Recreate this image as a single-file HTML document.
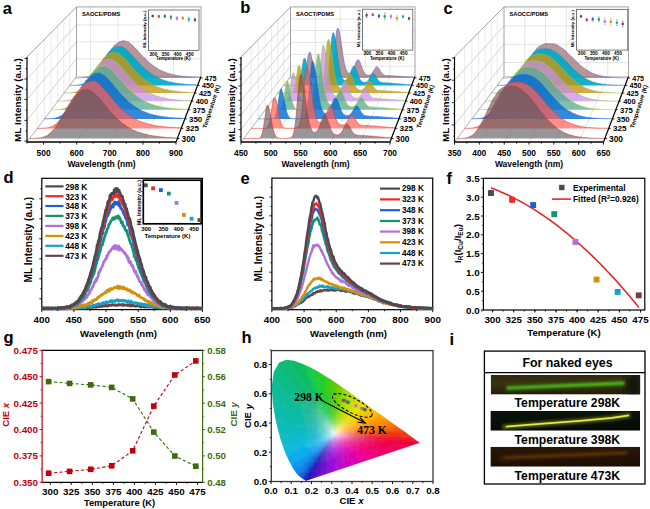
<!DOCTYPE html>
<html><head><meta charset="utf-8"><style>
html,body{margin:0;padding:0;background:#fff;}
svg{display:block;}
</style></head><body>
<svg width="650" height="509" viewBox="0 0 650 509">
<rect width="650" height="509" fill="#fff"/>
<line x1="27" y1="120.4" x2="76.5" y2="58.8" stroke="#b4b4b4" stroke-width="0.6"/>
<line x1="27" y1="99.5" x2="76.5" y2="41.7" stroke="#b4b4b4" stroke-width="0.6"/>
<line x1="27" y1="79" x2="76.5" y2="24.9" stroke="#b4b4b4" stroke-width="0.6"/>
<line x1="37.1" y1="128.4" x2="37.1" y2="46.6" stroke="#d4d4d4" stroke-width="0.5"/>
<line x1="44.3" y1="118.9" x2="44.3" y2="39.3" stroke="#d4d4d4" stroke-width="0.5"/>
<line x1="51.1" y1="109.8" x2="51.1" y2="32.4" stroke="#d4d4d4" stroke-width="0.5"/>
<line x1="57.6" y1="101.2" x2="57.6" y2="25.8" stroke="#d4d4d4" stroke-width="0.5"/>
<line x1="63.8" y1="93.1" x2="63.8" y2="19.6" stroke="#d4d4d4" stroke-width="0.5"/>
<line x1="69.7" y1="85.4" x2="69.7" y2="13.7" stroke="#d4d4d4" stroke-width="0.5"/>
<line x1="76.5" y1="58.8" x2="201" y2="58.8" stroke="#c8c8c8" stroke-width="0.5"/>
<line x1="76.5" y1="41.7" x2="201" y2="41.7" stroke="#c8c8c8" stroke-width="0.5"/>
<line x1="76.5" y1="24.9" x2="201" y2="24.9" stroke="#c8c8c8" stroke-width="0.5"/>
<line x1="90.4" y1="76.5" x2="90.4" y2="6.9" stroke="#c8c8c8" stroke-width="0.5"/>
<line x1="43.6" y1="142" x2="90.4" y2="76.5" stroke="#c8c8c8" stroke-width="0.5"/>
<line x1="118" y1="76.5" x2="118" y2="6.9" stroke="#c8c8c8" stroke-width="0.5"/>
<line x1="76.7" y1="142" x2="118" y2="76.5" stroke="#c8c8c8" stroke-width="0.5"/>
<line x1="145.7" y1="76.5" x2="145.7" y2="6.9" stroke="#c8c8c8" stroke-width="0.5"/>
<line x1="109.8" y1="142" x2="145.7" y2="76.5" stroke="#c8c8c8" stroke-width="0.5"/>
<line x1="173.4" y1="76.5" x2="173.4" y2="6.9" stroke="#c8c8c8" stroke-width="0.5"/>
<line x1="142.9" y1="142" x2="173.4" y2="76.5" stroke="#c8c8c8" stroke-width="0.5"/>
<path d="M27 57 L76.5 6.9 L201 6.9 L201 76.5" fill="none" stroke="#8c8c8c" stroke-width="0.8"/>
<path d="M76.5 6.9 L76.5 76.5" fill="none" stroke="#8c8c8c" stroke-width="0.8"/>
<path d="M76.5 76.5 L201 76.5" fill="none" stroke="#b0b0b0" stroke-width="0.6"/>
<path d="M27 142 L76.5 76.5" fill="none" stroke="#8c8c8c" stroke-width="0.7"/>
<path d="M75.4 78 L76.1 78 L76.9 78 L77.7 78 L78.5 78 L79.3 78 L80.1 77.9 L80.9 77.9 L81.6 77.8 L82.4 77.7 L83.2 77.7 L84 77.6 L84.8 77.5 L85.6 77.3 L86.4 77.2 L87.2 76.9 L87.9 76.8 L88.7 76.4 L89.5 76.2 L90.3 75.7 L91.1 75.3 L91.9 74.9 L92.7 74.2 L93.4 73.5 L94.2 73 L95 72.1 L95.8 71.5 L96.6 70.6 L97.4 69.6 L98.2 68.9 L99 67.9 L99.7 66.6 L100.5 65.5 L101.3 64.2 L102.1 63.4 L102.9 61.9 L103.7 60.6 L104.5 59.4 L105.2 58.1 L106 57.1 L106.8 55.7 L107.6 54.6 L108.4 53.4 L109.2 52 L110 51.3 L110.8 50 L111.5 48.9 L112.3 47.9 L113.1 47.3 L113.9 45.9 L114.7 45 L115.5 44.6 L116.3 44 L117 43.3 L117.8 43.1 L118.6 42.2 L119.4 41.9 L120.2 41.6 L121 41.3 L121.8 41.3 L122.5 40.7 L123.3 40.6 L124.1 41.3 L124.9 41 L125.7 40.9 L126.5 41.4 L127.3 41.8 L128.1 42.1 L128.8 42.2 L129.6 43.1 L130.4 43.8 L131.2 44.1 L132 45.1 L132.8 45.7 L133.6 46.6 L134.3 47.3 L135.1 48.3 L135.9 48.6 L136.7 49.7 L137.5 50.3 L138.3 51.6 L139.1 52.5 L139.9 53.2 L140.6 54.2 L141.4 55 L142.2 55.9 L143 56.6 L143.8 57.4 L144.6 58.1 L145.4 58.9 L146.1 59.6 L146.9 60.4 L147.7 61.2 L148.5 61.7 L149.3 62.6 L150.1 63.4 L150.9 63.7 L151.7 64.4 L152.4 65.2 L153.2 65.5 L154 66.3 L154.8 66.9 L155.6 67.5 L156.4 67.8 L157.2 68.4 L157.9 68.8 L158.7 69.4 L159.5 69.7 L160.3 70.3 L161.1 70.5 L161.9 70.9 L162.7 71.2 L163.5 71.7 L164.2 71.8 L165 72.2 L165.8 72.6 L166.6 73 L167.4 73.1 L168.2 73.4 L169 73.8 L169.7 73.8 L170.5 74 L171.3 74.2 L172.1 74.4 L172.9 74.6 L173.7 74.9 L174.5 75 L175.2 75 L176 75.3 L176.8 75.5 L177.6 75.6 L178.4 75.7 L179.2 75.8 L180 76 L180.8 76.1 L181.5 76.2 L182.3 76.3 L183.1 76.4 L183.9 76.4 L184.7 76.5 L185.5 76.6 L186.3 76.7 L187 76.7 L187.8 76.8 L188.6 76.9 L189.4 77 L190.2 77 L191 77.1 L191.8 77.1 L192.6 77.2 L193.3 77.2 L194.1 77.2 L194.9 77.3 L195.7 77.4 L196.5 77.4 L197.3 77.4 L198.1 77.4 L198.8 77.5 L199.6 77.6 L200.4 77.5 L200.4 78 L75.4 78Z" fill="#9b6969" stroke="none" stroke-width="1" fill-opacity="0.7"/>
<path d="M75.4 78 L76.1 78 L76.9 78 L77.7 78 L78.5 78 L79.3 78 L80.1 77.9 L80.9 77.9 L81.6 77.8 L82.4 77.7 L83.2 77.7 L84 77.6 L84.8 77.5 L85.6 77.3 L86.4 77.2 L87.2 76.9 L87.9 76.8 L88.7 76.4 L89.5 76.2 L90.3 75.7 L91.1 75.3 L91.9 74.9 L92.7 74.2 L93.4 73.5 L94.2 73 L95 72.1 L95.8 71.5 L96.6 70.6 L97.4 69.6 L98.2 68.9 L99 67.9 L99.7 66.6 L100.5 65.5 L101.3 64.2 L102.1 63.4 L102.9 61.9 L103.7 60.6 L104.5 59.4 L105.2 58.1 L106 57.1 L106.8 55.7 L107.6 54.6 L108.4 53.4 L109.2 52 L110 51.3 L110.8 50 L111.5 48.9 L112.3 47.9 L113.1 47.3 L113.9 45.9 L114.7 45 L115.5 44.6 L116.3 44 L117 43.3 L117.8 43.1 L118.6 42.2 L119.4 41.9 L120.2 41.6 L121 41.3 L121.8 41.3 L122.5 40.7 L123.3 40.6 L124.1 41.3 L124.9 41 L125.7 40.9 L126.5 41.4 L127.3 41.8 L128.1 42.1 L128.8 42.2 L129.6 43.1 L130.4 43.8 L131.2 44.1 L132 45.1 L132.8 45.7 L133.6 46.6 L134.3 47.3 L135.1 48.3 L135.9 48.6 L136.7 49.7 L137.5 50.3 L138.3 51.6 L139.1 52.5 L139.9 53.2 L140.6 54.2 L141.4 55 L142.2 55.9 L143 56.6 L143.8 57.4 L144.6 58.1 L145.4 58.9 L146.1 59.6 L146.9 60.4 L147.7 61.2 L148.5 61.7 L149.3 62.6 L150.1 63.4 L150.9 63.7 L151.7 64.4 L152.4 65.2 L153.2 65.5 L154 66.3 L154.8 66.9 L155.6 67.5 L156.4 67.8 L157.2 68.4 L157.9 68.8 L158.7 69.4 L159.5 69.7 L160.3 70.3 L161.1 70.5 L161.9 70.9 L162.7 71.2 L163.5 71.7 L164.2 71.8 L165 72.2 L165.8 72.6 L166.6 73 L167.4 73.1 L168.2 73.4 L169 73.8 L169.7 73.8 L170.5 74 L171.3 74.2 L172.1 74.4 L172.9 74.6 L173.7 74.9 L174.5 75 L175.2 75 L176 75.3 L176.8 75.5 L177.6 75.6 L178.4 75.7 L179.2 75.8 L180 76 L180.8 76.1 L181.5 76.2 L182.3 76.3 L183.1 76.4 L183.9 76.4 L184.7 76.5 L185.5 76.6 L186.3 76.7 L187 76.7 L187.8 76.8 L188.6 76.9 L189.4 77 L190.2 77 L191 77.1 L191.8 77.1 L192.6 77.2 L193.3 77.2 L194.1 77.2 L194.9 77.3 L195.7 77.4 L196.5 77.4 L197.3 77.4 L198.1 77.4 L198.8 77.5 L199.6 77.6 L200.4 77.5" fill="none" stroke="#6a5ad0" stroke-width="0.6"/>
<path d="M69.7 85.4 L70.5 85.4 L71.3 85.4 L72.1 85.3 L72.9 85.3 L73.7 85.3 L74.5 85.3 L75.3 85.2 L76.1 85.2 L76.9 85.1 L77.7 85 L78.5 84.9 L79.3 84.8 L80.2 84.6 L81 84.5 L81.8 84.3 L82.6 84 L83.4 83.6 L84.2 83.4 L85 82.9 L85.8 82.4 L86.6 81.9 L87.4 81.6 L88.2 80.7 L89 80.1 L89.8 79.3 L90.6 78.6 L91.4 77.6 L92.2 76.5 L93 75.7 L93.8 74.7 L94.6 73.6 L95.4 72 L96.2 71 L97 69.9 L97.8 68.4 L98.6 67.3 L99.5 65.9 L100.3 64.7 L101.1 63.2 L101.9 61.9 L102.7 60.4 L103.5 59.4 L104.3 58.2 L105.1 57.2 L105.9 55.7 L106.7 54.9 L107.5 53.7 L108.3 52.8 L109.1 51.4 L109.9 51.2 L110.7 50.5 L111.5 49.5 L112.3 48.9 L113.1 48.4 L113.9 47.6 L114.7 47.2 L115.5 46.9 L116.3 46.4 L117.1 46.7 L117.9 46.2 L118.8 46.5 L119.6 46.2 L120.4 47 L121.2 46.6 L122 46.6 L122.8 46.9 L123.6 47.6 L124.4 48.3 L125.2 48.4 L126 48.9 L126.8 50.4 L127.6 50.7 L128.4 51.3 L129.2 52.2 L130 53.4 L130.8 53.9 L131.6 54.8 L132.4 55.7 L133.2 56.4 L134 57.3 L134.8 58.5 L135.6 59 L136.4 60.4 L137.2 60.6 L138.1 62.1 L138.9 62.5 L139.7 63.8 L140.5 64.4 L141.3 65.1 L142.1 66.2 L142.9 66.7 L143.7 67.8 L144.5 68.5 L145.3 69.1 L146.1 69.8 L146.9 70.4 L147.7 71.1 L148.5 71.4 L149.3 72.3 L150.1 73 L150.9 73.6 L151.7 74.1 L152.5 74.6 L153.3 75.3 L154.1 75.5 L154.9 76.1 L155.7 76.7 L156.5 77.1 L157.4 77.4 L158.2 77.8 L159 78.3 L159.8 78.7 L160.6 79 L161.4 79.2 L162.2 79.6 L163 80 L163.8 80.1 L164.6 80.7 L165.4 80.8 L166.2 80.8 L167 81.1 L167.8 81.6 L168.6 81.7 L169.4 81.9 L170.2 81.9 L171 82.2 L171.8 82.3 L172.6 82.5 L173.4 82.6 L174.2 82.9 L175 83 L175.8 83.1 L176.7 83.3 L177.5 83.3 L178.3 83.4 L179.1 83.6 L179.9 83.6 L180.7 83.8 L181.5 83.8 L182.3 83.9 L183.1 84.1 L183.9 84.1 L184.7 84.2 L185.5 84.2 L186.3 84.4 L187.1 84.3 L187.9 84.4 L188.7 84.5 L189.5 84.5 L190.3 84.6 L191.1 84.7 L191.9 84.6 L192.7 84.7 L193.5 84.7 L194.3 84.7 L195.1 84.8 L196 84.8 L196.8 84.9 L197.6 84.8 L197.6 85.4 L69.7 85.4Z" fill="#00aac4" stroke="none" stroke-width="1" fill-opacity="0.92"/>
<path d="M69.7 85.4 L70.5 85.4 L71.3 85.4 L72.1 85.3 L72.9 85.3 L73.7 85.3 L74.5 85.3 L75.3 85.2 L76.1 85.2 L76.9 85.1 L77.7 85 L78.5 84.9 L79.3 84.8 L80.2 84.6 L81 84.5 L81.8 84.3 L82.6 84 L83.4 83.6 L84.2 83.4 L85 82.9 L85.8 82.4 L86.6 81.9 L87.4 81.6 L88.2 80.7 L89 80.1 L89.8 79.3 L90.6 78.6 L91.4 77.6 L92.2 76.5 L93 75.7 L93.8 74.7 L94.6 73.6 L95.4 72 L96.2 71 L97 69.9 L97.8 68.4 L98.6 67.3 L99.5 65.9 L100.3 64.7 L101.1 63.2 L101.9 61.9 L102.7 60.4 L103.5 59.4 L104.3 58.2 L105.1 57.2 L105.9 55.7 L106.7 54.9 L107.5 53.7 L108.3 52.8 L109.1 51.4 L109.9 51.2 L110.7 50.5 L111.5 49.5 L112.3 48.9 L113.1 48.4 L113.9 47.6 L114.7 47.2 L115.5 46.9 L116.3 46.4 L117.1 46.7 L117.9 46.2 L118.8 46.5 L119.6 46.2 L120.4 47 L121.2 46.6 L122 46.6 L122.8 46.9 L123.6 47.6 L124.4 48.3 L125.2 48.4 L126 48.9 L126.8 50.4 L127.6 50.7 L128.4 51.3 L129.2 52.2 L130 53.4 L130.8 53.9 L131.6 54.8 L132.4 55.7 L133.2 56.4 L134 57.3 L134.8 58.5 L135.6 59 L136.4 60.4 L137.2 60.6 L138.1 62.1 L138.9 62.5 L139.7 63.8 L140.5 64.4 L141.3 65.1 L142.1 66.2 L142.9 66.7 L143.7 67.8 L144.5 68.5 L145.3 69.1 L146.1 69.8 L146.9 70.4 L147.7 71.1 L148.5 71.4 L149.3 72.3 L150.1 73 L150.9 73.6 L151.7 74.1 L152.5 74.6 L153.3 75.3 L154.1 75.5 L154.9 76.1 L155.7 76.7 L156.5 77.1 L157.4 77.4 L158.2 77.8 L159 78.3 L159.8 78.7 L160.6 79 L161.4 79.2 L162.2 79.6 L163 80 L163.8 80.1 L164.6 80.7 L165.4 80.8 L166.2 80.8 L167 81.1 L167.8 81.6 L168.6 81.7 L169.4 81.9 L170.2 81.9 L171 82.2 L171.8 82.3 L172.6 82.5 L173.4 82.6 L174.2 82.9 L175 83 L175.8 83.1 L176.7 83.3 L177.5 83.3 L178.3 83.4 L179.1 83.6 L179.9 83.6 L180.7 83.8 L181.5 83.8 L182.3 83.9 L183.1 84.1 L183.9 84.1 L184.7 84.2 L185.5 84.2 L186.3 84.4 L187.1 84.3 L187.9 84.4 L188.7 84.5 L189.5 84.5 L190.3 84.6 L191.1 84.7 L191.9 84.6 L192.7 84.7 L193.5 84.7 L194.3 84.7 L195.1 84.8 L196 84.8 L196.8 84.9 L197.6 84.8" fill="none" stroke="#2a86d0" stroke-width="0.6"/>
<path d="M63.8 93.1 L64.6 93.1 L65.4 93.1 L66.2 93.1 L67.1 93 L67.9 93 L68.7 93 L69.5 92.9 L70.4 92.9 L71.2 92.8 L72 92.7 L72.8 92.6 L73.6 92.4 L74.5 92.3 L75.3 92.1 L76.1 91.9 L76.9 91.5 L77.8 91.3 L78.6 90.9 L79.4 90.4 L80.2 89.9 L81.1 89.5 L81.9 88.8 L82.7 88.2 L83.5 87.4 L84.3 86.6 L85.2 85.7 L86 84.8 L86.8 83.6 L87.6 82.5 L88.5 81.6 L89.3 80.1 L90.1 78.6 L90.9 77.9 L91.7 76.5 L92.6 75.4 L93.4 73.7 L94.2 72.3 L95 70.7 L95.9 69.7 L96.7 68 L97.5 67 L98.3 65.6 L99.1 64.3 L100 63.4 L100.8 62.1 L101.6 61.1 L102.4 59.5 L103.3 58.7 L104.1 57.7 L104.9 56.9 L105.7 56.4 L106.6 55.4 L107.4 54.8 L108.2 54.5 L109 53.8 L109.8 53 L110.7 52.7 L111.5 52.9 L112.3 52.6 L113.1 53 L114 52.5 L114.8 52.7 L115.6 52.7 L116.4 52.5 L117.2 53.3 L118.1 52.9 L118.9 53.9 L119.7 54.1 L120.5 54.8 L121.4 55.9 L122.2 56.6 L123 57.4 L123.8 58 L124.7 59 L125.5 59.9 L126.3 60.3 L127.1 61.3 L127.9 62.1 L128.8 63.4 L129.6 64.5 L130.4 65.1 L131.2 66.2 L132.1 67.1 L132.9 67.7 L133.7 68.8 L134.5 70.1 L135.3 71.1 L136.2 71.7 L137 72.6 L137.8 73.3 L138.6 73.9 L139.5 74.9 L140.3 75.7 L141.1 76.7 L141.9 77.3 L142.7 77.7 L143.6 78.6 L144.4 79.4 L145.2 79.8 L146 80.7 L146.9 81.2 L147.7 81.8 L148.5 82.1 L149.3 82.8 L150.2 83.1 L151 83.5 L151.8 84.2 L152.6 84.7 L153.4 85.2 L154.3 85.2 L155.1 85.8 L155.9 86.2 L156.7 86.6 L157.6 86.9 L158.4 87.2 L159.2 87.6 L160 87.7 L160.8 88.1 L161.7 88.4 L162.5 88.6 L163.3 88.9 L164.1 89 L165 89.4 L165.8 89.5 L166.6 89.6 L167.4 89.9 L168.2 90.1 L169.1 90.1 L169.9 90.4 L170.7 90.6 L171.5 90.6 L172.4 90.7 L173.2 91 L174 91 L174.8 91.1 L175.7 91.3 L176.5 91.5 L177.3 91.4 L178.1 91.5 L178.9 91.7 L179.8 91.8 L180.6 91.8 L181.4 91.9 L182.2 91.9 L183.1 91.9 L183.9 92.1 L184.7 92.1 L185.5 92.1 L186.3 92.2 L187.2 92.2 L188 92.3 L188.8 92.3 L189.6 92.4 L190.5 92.5 L191.3 92.4 L192.1 92.5 L192.9 92.6 L193.7 92.6 L194.6 92.7 L194.6 93.1 L63.8 93.1Z" fill="#c89614" stroke="none" stroke-width="1" fill-opacity="0.8"/>
<path d="M63.8 93.1 L64.6 93.1 L65.4 93.1 L66.2 93.1 L67.1 93 L67.9 93 L68.7 93 L69.5 92.9 L70.4 92.9 L71.2 92.8 L72 92.7 L72.8 92.6 L73.6 92.4 L74.5 92.3 L75.3 92.1 L76.1 91.9 L76.9 91.5 L77.8 91.3 L78.6 90.9 L79.4 90.4 L80.2 89.9 L81.1 89.5 L81.9 88.8 L82.7 88.2 L83.5 87.4 L84.3 86.6 L85.2 85.7 L86 84.8 L86.8 83.6 L87.6 82.5 L88.5 81.6 L89.3 80.1 L90.1 78.6 L90.9 77.9 L91.7 76.5 L92.6 75.4 L93.4 73.7 L94.2 72.3 L95 70.7 L95.9 69.7 L96.7 68 L97.5 67 L98.3 65.6 L99.1 64.3 L100 63.4 L100.8 62.1 L101.6 61.1 L102.4 59.5 L103.3 58.7 L104.1 57.7 L104.9 56.9 L105.7 56.4 L106.6 55.4 L107.4 54.8 L108.2 54.5 L109 53.8 L109.8 53 L110.7 52.7 L111.5 52.9 L112.3 52.6 L113.1 53 L114 52.5 L114.8 52.7 L115.6 52.7 L116.4 52.5 L117.2 53.3 L118.1 52.9 L118.9 53.9 L119.7 54.1 L120.5 54.8 L121.4 55.9 L122.2 56.6 L123 57.4 L123.8 58 L124.7 59 L125.5 59.9 L126.3 60.3 L127.1 61.3 L127.9 62.1 L128.8 63.4 L129.6 64.5 L130.4 65.1 L131.2 66.2 L132.1 67.1 L132.9 67.7 L133.7 68.8 L134.5 70.1 L135.3 71.1 L136.2 71.7 L137 72.6 L137.8 73.3 L138.6 73.9 L139.5 74.9 L140.3 75.7 L141.1 76.7 L141.9 77.3 L142.7 77.7 L143.6 78.6 L144.4 79.4 L145.2 79.8 L146 80.7 L146.9 81.2 L147.7 81.8 L148.5 82.1 L149.3 82.8 L150.2 83.1 L151 83.5 L151.8 84.2 L152.6 84.7 L153.4 85.2 L154.3 85.2 L155.1 85.8 L155.9 86.2 L156.7 86.6 L157.6 86.9 L158.4 87.2 L159.2 87.6 L160 87.7 L160.8 88.1 L161.7 88.4 L162.5 88.6 L163.3 88.9 L164.1 89 L165 89.4 L165.8 89.5 L166.6 89.6 L167.4 89.9 L168.2 90.1 L169.1 90.1 L169.9 90.4 L170.7 90.6 L171.5 90.6 L172.4 90.7 L173.2 91 L174 91 L174.8 91.1 L175.7 91.3 L176.5 91.5 L177.3 91.4 L178.1 91.5 L178.9 91.7 L179.8 91.8 L180.6 91.8 L181.4 91.9 L182.2 91.9 L183.1 91.9 L183.9 92.1 L184.7 92.1 L185.5 92.1 L186.3 92.2 L187.2 92.2 L188 92.3 L188.8 92.3 L189.6 92.4 L190.5 92.5 L191.3 92.4 L192.1 92.5 L192.9 92.6 L193.7 92.6 L194.6 92.7" fill="none" stroke="#88c440" stroke-width="0.6"/>
<path d="M57.6 101.2 L58.4 101.2 L59.3 101.2 L60.1 101.2 L60.9 101.2 L61.8 101.2 L62.6 101.1 L63.5 101 L64.3 101 L65.2 100.9 L66 100.8 L66.8 100.7 L67.7 100.6 L68.5 100.4 L69.4 100.2 L70.2 100 L71.1 99.8 L71.9 99.3 L72.7 99 L73.6 98.6 L74.4 98.1 L75.3 97.3 L76.1 96.6 L76.9 96.1 L77.8 95.3 L78.6 94.5 L79.5 93.6 L80.3 92.6 L81.2 91.4 L82 90.4 L82.8 89.1 L83.7 87.9 L84.5 86.5 L85.4 85.4 L86.2 84.1 L87 82.6 L87.9 81.2 L88.7 80 L89.6 78.5 L90.4 77.1 L91.3 75.5 L92.1 74.1 L92.9 72.9 L93.8 71.1 L94.6 70.2 L95.5 69 L96.3 67.9 L97.1 66.3 L98 65.3 L98.8 64.8 L99.7 63.6 L100.5 62.8 L101.4 62.5 L102.2 62 L103 61.4 L103.9 59.9 L104.7 60 L105.6 59.6 L106.4 59.5 L107.3 59.4 L108.1 58.6 L108.9 59.3 L109.8 58.9 L110.6 58.5 L111.5 59.4 L112.3 59.6 L113.1 60.1 L114 60.8 L114.8 61.2 L115.7 61.5 L116.5 62.6 L117.4 63.2 L118.2 64.4 L119 65.5 L119.9 65.6 L120.7 67 L121.6 67.8 L122.4 68.7 L123.2 69.2 L124.1 70.8 L124.9 71.3 L125.8 72.9 L126.6 73.3 L127.5 74.2 L128.3 75.3 L129.1 76.2 L130 77.2 L130.8 78 L131.7 79.2 L132.5 79.5 L133.4 80.9 L134.2 81.7 L135 82.5 L135.9 83.3 L136.7 84.2 L137.6 84.9 L138.4 85.8 L139.2 86.6 L140.1 87.1 L140.9 87.5 L141.8 88 L142.6 89.1 L143.5 89.4 L144.3 90.2 L145.1 90.4 L146 91.1 L146.8 91.2 L147.7 92.1 L148.5 92.3 L149.3 92.9 L150.2 93.4 L151 93.7 L151.9 94.2 L152.7 94.4 L153.6 94.9 L154.4 95.1 L155.2 95.4 L156.1 96 L156.9 96.1 L157.8 96.3 L158.6 96.7 L159.5 96.8 L160.3 97.1 L161.1 97.3 L162 97.5 L162.8 97.7 L163.7 97.9 L164.5 98 L165.3 98.3 L166.2 98.4 L167 98.6 L167.9 98.8 L168.7 98.9 L169.6 99 L170.4 99.2 L171.2 99.2 L172.1 99.4 L172.9 99.5 L173.8 99.6 L174.6 99.6 L175.4 99.7 L176.3 99.8 L177.1 99.9 L178 99.9 L178.8 100 L179.7 100.1 L180.5 100.2 L181.3 100.3 L182.2 100.3 L183 100.3 L183.9 100.4 L184.7 100.4 L185.5 100.5 L186.4 100.5 L187.2 100.6 L188.1 100.6 L188.9 100.7 L189.8 100.7 L190.6 100.7 L191.4 100.7 L191.4 101.2 L57.6 101.2Z" fill="#c88ceb" stroke="none" stroke-width="1" fill-opacity="0.72"/>
<path d="M57.6 101.2 L58.4 101.2 L59.3 101.2 L60.1 101.2 L60.9 101.2 L61.8 101.2 L62.6 101.1 L63.5 101 L64.3 101 L65.2 100.9 L66 100.8 L66.8 100.7 L67.7 100.6 L68.5 100.4 L69.4 100.2 L70.2 100 L71.1 99.8 L71.9 99.3 L72.7 99 L73.6 98.6 L74.4 98.1 L75.3 97.3 L76.1 96.6 L76.9 96.1 L77.8 95.3 L78.6 94.5 L79.5 93.6 L80.3 92.6 L81.2 91.4 L82 90.4 L82.8 89.1 L83.7 87.9 L84.5 86.5 L85.4 85.4 L86.2 84.1 L87 82.6 L87.9 81.2 L88.7 80 L89.6 78.5 L90.4 77.1 L91.3 75.5 L92.1 74.1 L92.9 72.9 L93.8 71.1 L94.6 70.2 L95.5 69 L96.3 67.9 L97.1 66.3 L98 65.3 L98.8 64.8 L99.7 63.6 L100.5 62.8 L101.4 62.5 L102.2 62 L103 61.4 L103.9 59.9 L104.7 60 L105.6 59.6 L106.4 59.5 L107.3 59.4 L108.1 58.6 L108.9 59.3 L109.8 58.9 L110.6 58.5 L111.5 59.4 L112.3 59.6 L113.1 60.1 L114 60.8 L114.8 61.2 L115.7 61.5 L116.5 62.6 L117.4 63.2 L118.2 64.4 L119 65.5 L119.9 65.6 L120.7 67 L121.6 67.8 L122.4 68.7 L123.2 69.2 L124.1 70.8 L124.9 71.3 L125.8 72.9 L126.6 73.3 L127.5 74.2 L128.3 75.3 L129.1 76.2 L130 77.2 L130.8 78 L131.7 79.2 L132.5 79.5 L133.4 80.9 L134.2 81.7 L135 82.5 L135.9 83.3 L136.7 84.2 L137.6 84.9 L138.4 85.8 L139.2 86.6 L140.1 87.1 L140.9 87.5 L141.8 88 L142.6 89.1 L143.5 89.4 L144.3 90.2 L145.1 90.4 L146 91.1 L146.8 91.2 L147.7 92.1 L148.5 92.3 L149.3 92.9 L150.2 93.4 L151 93.7 L151.9 94.2 L152.7 94.4 L153.6 94.9 L154.4 95.1 L155.2 95.4 L156.1 96 L156.9 96.1 L157.8 96.3 L158.6 96.7 L159.5 96.8 L160.3 97.1 L161.1 97.3 L162 97.5 L162.8 97.7 L163.7 97.9 L164.5 98 L165.3 98.3 L166.2 98.4 L167 98.6 L167.9 98.8 L168.7 98.9 L169.6 99 L170.4 99.2 L171.2 99.2 L172.1 99.4 L172.9 99.5 L173.8 99.6 L174.6 99.6 L175.4 99.7 L176.3 99.8 L177.1 99.9 L178 99.9 L178.8 100 L179.7 100.1 L180.5 100.2 L181.3 100.3 L182.2 100.3 L183 100.3 L183.9 100.4 L184.7 100.4 L185.5 100.5 L186.4 100.5 L187.2 100.6 L188.1 100.6 L188.9 100.7 L189.8 100.7 L190.6 100.7 L191.4 100.7" fill="none" stroke="#98c848" stroke-width="0.6"/>
<path d="M51.1 109.8 L51.9 109.8 L52.8 109.8 L53.7 109.8 L54.5 109.7 L55.4 109.7 L56.3 109.7 L57.1 109.6 L58 109.6 L58.8 109.5 L59.7 109.3 L60.6 109.2 L61.4 109.1 L62.3 108.9 L63.2 108.6 L64 108.4 L64.9 108.1 L65.7 107.7 L66.6 107.5 L67.5 106.8 L68.3 106.3 L69.2 105.7 L70.1 105 L70.9 104.1 L71.8 103.7 L72.6 102.3 L73.5 101.4 L74.4 100.6 L75.2 99.2 L76.1 98.4 L76.9 97.1 L77.8 95.8 L78.7 94.1 L79.5 93 L80.4 91.5 L81.3 90.1 L82.1 88.2 L83 87.3 L83.8 85.6 L84.7 83.8 L85.6 82.3 L86.4 81.1 L87.3 79.6 L88.2 77.9 L89 77 L89.9 75.4 L90.7 74 L91.6 73.4 L92.5 72.3 L93.3 71.7 L94.2 70.2 L95.1 69.3 L95.9 68.6 L96.8 68.6 L97.6 67.2 L98.5 66.6 L99.4 66.6 L100.2 66.6 L101.1 66.4 L102 65.9 L102.8 66.2 L103.7 66 L104.5 65.8 L105.4 66.1 L106.3 66.3 L107.1 66.8 L108 66.7 L108.8 67.8 L109.7 68.1 L110.6 68.9 L111.4 69.6 L112.3 70.5 L113.2 71.3 L114 72.2 L114.9 73.2 L115.7 74 L116.6 74.8 L117.5 76.2 L118.3 77 L119.2 78.7 L120.1 79.1 L120.9 80.2 L121.8 81.2 L122.6 82.4 L123.5 83.1 L124.4 84.3 L125.2 85.4 L126.1 85.9 L127 86.9 L127.8 88.2 L128.7 88.9 L129.5 89.9 L130.4 90.3 L131.3 91.2 L132.1 92 L133 93.1 L133.8 93.5 L134.7 94.5 L135.6 95.1 L136.4 95.8 L137.3 96.4 L138.2 97.2 L139 97.6 L139.9 98.3 L140.7 98.7 L141.6 99.6 L142.5 100 L143.3 100.3 L144.2 101 L145.1 101.2 L145.9 101.6 L146.8 102.1 L147.6 102.6 L148.5 102.9 L149.4 103.2 L150.2 103.6 L151.1 104.1 L152 104.3 L152.8 104.3 L153.7 104.9 L154.5 105.1 L155.4 105.4 L156.3 105.5 L157.1 105.8 L158 106 L158.9 106.2 L159.7 106.4 L160.6 106.6 L161.4 106.9 L162.3 106.9 L163.2 107.1 L164 107.2 L164.9 107.4 L165.7 107.6 L166.6 107.6 L167.5 107.9 L168.3 107.8 L169.2 108 L170.1 108.1 L170.9 108.2 L171.8 108.3 L172.6 108.4 L173.5 108.4 L174.4 108.5 L175.2 108.6 L176.1 108.7 L177 108.7 L177.8 108.8 L178.7 108.8 L179.5 108.9 L180.4 109 L181.3 109 L182.1 109 L183 109 L183.9 109.2 L184.7 109.2 L185.6 109.2 L186.4 109.2 L187.3 109.3 L188.2 109.3 L188.2 109.8 L51.1 109.8Z" fill="#53ad8d" stroke="none" stroke-width="1" fill-opacity="0.75"/>
<path d="M51.1 109.8 L51.9 109.8 L52.8 109.8 L53.7 109.8 L54.5 109.7 L55.4 109.7 L56.3 109.7 L57.1 109.6 L58 109.6 L58.8 109.5 L59.7 109.3 L60.6 109.2 L61.4 109.1 L62.3 108.9 L63.2 108.6 L64 108.4 L64.9 108.1 L65.7 107.7 L66.6 107.5 L67.5 106.8 L68.3 106.3 L69.2 105.7 L70.1 105 L70.9 104.1 L71.8 103.7 L72.6 102.3 L73.5 101.4 L74.4 100.6 L75.2 99.2 L76.1 98.4 L76.9 97.1 L77.8 95.8 L78.7 94.1 L79.5 93 L80.4 91.5 L81.3 90.1 L82.1 88.2 L83 87.3 L83.8 85.6 L84.7 83.8 L85.6 82.3 L86.4 81.1 L87.3 79.6 L88.2 77.9 L89 77 L89.9 75.4 L90.7 74 L91.6 73.4 L92.5 72.3 L93.3 71.7 L94.2 70.2 L95.1 69.3 L95.9 68.6 L96.8 68.6 L97.6 67.2 L98.5 66.6 L99.4 66.6 L100.2 66.6 L101.1 66.4 L102 65.9 L102.8 66.2 L103.7 66 L104.5 65.8 L105.4 66.1 L106.3 66.3 L107.1 66.8 L108 66.7 L108.8 67.8 L109.7 68.1 L110.6 68.9 L111.4 69.6 L112.3 70.5 L113.2 71.3 L114 72.2 L114.9 73.2 L115.7 74 L116.6 74.8 L117.5 76.2 L118.3 77 L119.2 78.7 L120.1 79.1 L120.9 80.2 L121.8 81.2 L122.6 82.4 L123.5 83.1 L124.4 84.3 L125.2 85.4 L126.1 85.9 L127 86.9 L127.8 88.2 L128.7 88.9 L129.5 89.9 L130.4 90.3 L131.3 91.2 L132.1 92 L133 93.1 L133.8 93.5 L134.7 94.5 L135.6 95.1 L136.4 95.8 L137.3 96.4 L138.2 97.2 L139 97.6 L139.9 98.3 L140.7 98.7 L141.6 99.6 L142.5 100 L143.3 100.3 L144.2 101 L145.1 101.2 L145.9 101.6 L146.8 102.1 L147.6 102.6 L148.5 102.9 L149.4 103.2 L150.2 103.6 L151.1 104.1 L152 104.3 L152.8 104.3 L153.7 104.9 L154.5 105.1 L155.4 105.4 L156.3 105.5 L157.1 105.8 L158 106 L158.9 106.2 L159.7 106.4 L160.6 106.6 L161.4 106.9 L162.3 106.9 L163.2 107.1 L164 107.2 L164.9 107.4 L165.7 107.6 L166.6 107.6 L167.5 107.9 L168.3 107.8 L169.2 108 L170.1 108.1 L170.9 108.2 L171.8 108.3 L172.6 108.4 L173.5 108.4 L174.4 108.5 L175.2 108.6 L176.1 108.7 L177 108.7 L177.8 108.8 L178.7 108.8 L179.5 108.9 L180.4 109 L181.3 109 L182.1 109 L183 109 L183.9 109.2 L184.7 109.2 L185.6 109.2 L186.4 109.2 L187.3 109.3 L188.2 109.3" fill="none" stroke="#c8d028" stroke-width="0.6"/>
<path d="M44.3 118.8 L45.2 118.8 L46 118.8 L46.9 118.8 L47.8 118.8 L48.7 118.7 L49.6 118.7 L50.5 118.6 L51.3 118.6 L52.2 118.5 L53.1 118.4 L54 118.3 L54.9 118.2 L55.8 117.9 L56.6 117.6 L57.5 117.5 L58.4 117.1 L59.3 116.7 L60.2 116.1 L61.1 115.8 L61.9 115.2 L62.8 114.4 L63.7 113.9 L64.6 112.9 L65.5 112.2 L66.4 111.4 L67.2 110 L68.1 109.2 L69 108 L69.9 106.9 L70.8 105.2 L71.7 104.1 L72.5 103 L73.4 101.4 L74.3 99.6 L75.2 98.3 L76.1 96.6 L77 95.2 L77.8 93.7 L78.7 92 L79.6 90.4 L80.5 89.4 L81.4 87.2 L82.3 86.4 L83.1 84.8 L84 83.7 L84.9 82.5 L85.8 80.3 L86.7 80.5 L87.6 78.9 L88.4 78.1 L89.3 77.4 L90.2 76.9 L91.1 75.6 L92 74.9 L92.9 74.3 L93.7 74.5 L94.6 73.9 L95.5 72.8 L96.4 73.8 L97.3 73.3 L98.2 72.8 L99 73.1 L99.9 73 L100.8 73.5 L101.7 73.9 L102.6 74.7 L103.5 75.1 L104.3 75.5 L105.2 76.2 L106.1 77.5 L107 78.1 L107.9 79.2 L108.8 79.6 L109.6 80.8 L110.5 82 L111.4 82.8 L112.3 83.5 L113.2 84.6 L114.1 85.9 L114.9 87.9 L115.8 88.1 L116.7 89.2 L117.6 90 L118.5 91.4 L119.4 92.5 L120.2 93.2 L121.1 94.5 L122 95.2 L122.9 96.1 L123.8 96.9 L124.7 97.8 L125.5 98.6 L126.4 99.8 L127.3 100.6 L128.2 101.8 L129.1 102.3 L130 102.9 L130.8 103.4 L131.7 104.3 L132.6 104.8 L133.5 105.8 L134.4 106.6 L135.3 106.9 L136.1 107.6 L137 108.1 L137.9 108.3 L138.8 109.2 L139.7 109.6 L140.6 109.9 L141.4 110.6 L142.3 111.1 L143.2 111.3 L144.1 111.8 L145 111.9 L145.9 112.4 L146.7 112.7 L147.6 113 L148.5 113.4 L149.4 113.7 L150.3 114 L151.2 114.2 L152 114.5 L152.9 114.7 L153.8 115 L154.7 115.1 L155.6 115.4 L156.5 115.5 L157.3 115.7 L158.2 115.9 L159.1 116 L160 116.2 L160.9 116.4 L161.8 116.5 L162.6 116.6 L163.5 116.8 L164.4 116.8 L165.3 116.9 L166.2 117.1 L167.1 117.2 L167.9 117.3 L168.8 117.4 L169.7 117.5 L170.6 117.5 L171.5 117.6 L172.4 117.7 L173.2 117.7 L174.1 117.8 L175 117.9 L175.9 117.9 L176.8 117.9 L177.7 118.1 L178.5 118.1 L179.4 118.1 L180.3 118.1 L181.2 118.1 L182.1 118.2 L183 118.3 L183.8 118.4 L184.7 118.3 L184.7 118.9 L44.3 118.9Z" fill="#026cd4" stroke="none" stroke-width="1" fill-opacity="0.8"/>
<path d="M44.3 118.8 L45.2 118.8 L46 118.8 L46.9 118.8 L47.8 118.8 L48.7 118.7 L49.6 118.7 L50.5 118.6 L51.3 118.6 L52.2 118.5 L53.1 118.4 L54 118.3 L54.9 118.2 L55.8 117.9 L56.6 117.6 L57.5 117.5 L58.4 117.1 L59.3 116.7 L60.2 116.1 L61.1 115.8 L61.9 115.2 L62.8 114.4 L63.7 113.9 L64.6 112.9 L65.5 112.2 L66.4 111.4 L67.2 110 L68.1 109.2 L69 108 L69.9 106.9 L70.8 105.2 L71.7 104.1 L72.5 103 L73.4 101.4 L74.3 99.6 L75.2 98.3 L76.1 96.6 L77 95.2 L77.8 93.7 L78.7 92 L79.6 90.4 L80.5 89.4 L81.4 87.2 L82.3 86.4 L83.1 84.8 L84 83.7 L84.9 82.5 L85.8 80.3 L86.7 80.5 L87.6 78.9 L88.4 78.1 L89.3 77.4 L90.2 76.9 L91.1 75.6 L92 74.9 L92.9 74.3 L93.7 74.5 L94.6 73.9 L95.5 72.8 L96.4 73.8 L97.3 73.3 L98.2 72.8 L99 73.1 L99.9 73 L100.8 73.5 L101.7 73.9 L102.6 74.7 L103.5 75.1 L104.3 75.5 L105.2 76.2 L106.1 77.5 L107 78.1 L107.9 79.2 L108.8 79.6 L109.6 80.8 L110.5 82 L111.4 82.8 L112.3 83.5 L113.2 84.6 L114.1 85.9 L114.9 87.9 L115.8 88.1 L116.7 89.2 L117.6 90 L118.5 91.4 L119.4 92.5 L120.2 93.2 L121.1 94.5 L122 95.2 L122.9 96.1 L123.8 96.9 L124.7 97.8 L125.5 98.6 L126.4 99.8 L127.3 100.6 L128.2 101.8 L129.1 102.3 L130 102.9 L130.8 103.4 L131.7 104.3 L132.6 104.8 L133.5 105.8 L134.4 106.6 L135.3 106.9 L136.1 107.6 L137 108.1 L137.9 108.3 L138.8 109.2 L139.7 109.6 L140.6 109.9 L141.4 110.6 L142.3 111.1 L143.2 111.3 L144.1 111.8 L145 111.9 L145.9 112.4 L146.7 112.7 L147.6 113 L148.5 113.4 L149.4 113.7 L150.3 114 L151.2 114.2 L152 114.5 L152.9 114.7 L153.8 115 L154.7 115.1 L155.6 115.4 L156.5 115.5 L157.3 115.7 L158.2 115.9 L159.1 116 L160 116.2 L160.9 116.4 L161.8 116.5 L162.6 116.6 L163.5 116.8 L164.4 116.8 L165.3 116.9 L166.2 117.1 L167.1 117.2 L167.9 117.3 L168.8 117.4 L169.7 117.5 L170.6 117.5 L171.5 117.6 L172.4 117.7 L173.2 117.7 L174.1 117.8 L175 117.9 L175.9 117.9 L176.8 117.9 L177.7 118.1 L178.5 118.1 L179.4 118.1 L180.3 118.1 L181.2 118.1 L182.1 118.2 L183 118.3 L183.8 118.4 L184.7 118.3" fill="none" stroke="#2a70d0" stroke-width="0.6"/>
<path d="M37.1 128.4 L38 128.4 L38.9 128.4 L39.8 128.4 L40.7 128.3 L41.6 128.3 L42.5 128.2 L43.5 128.2 L44.4 128.1 L45.3 128.1 L46.2 127.9 L47.1 127.9 L48 127.7 L48.9 127.5 L49.8 127.2 L50.7 126.8 L51.6 126.6 L52.5 126.2 L53.4 125.8 L54.3 125.2 L55.2 124.6 L56.1 124 L57 123.2 L57.9 122.4 L58.8 121.4 L59.8 120.5 L60.7 119.6 L61.6 118.3 L62.5 117.1 L63.4 115.9 L64.3 114.6 L65.2 113.1 L66.1 111.5 L67 109.9 L67.9 108.9 L68.8 106.8 L69.7 105.5 L70.6 103.7 L71.5 102.2 L72.4 100.4 L73.3 99.1 L74.2 97.3 L75.2 95.9 L76.1 94.6 L77 92.8 L77.9 91.6 L78.8 90.6 L79.7 88.9 L80.6 88 L81.5 86.5 L82.4 86 L83.3 85.1 L84.2 84 L85.1 83.2 L86 82.6 L86.9 82.7 L87.8 81.9 L88.7 82.3 L89.6 81.3 L90.5 81.8 L91.5 80.9 L92.4 81.1 L93.3 81.4 L94.2 80.8 L95.1 81.3 L96 81.7 L96.9 82.1 L97.8 82.8 L98.7 83.5 L99.6 84.3 L100.5 84.8 L101.4 86.5 L102.3 87.4 L103.2 88.1 L104.1 88.9 L105 90 L105.9 90.7 L106.8 92.5 L107.8 93.3 L108.7 94.3 L109.6 95.3 L110.5 96.7 L111.4 97.7 L112.3 99 L113.2 99.6 L114.1 100.8 L115 102.5 L115.9 102.8 L116.8 104 L117.7 105 L118.6 105.8 L119.5 106.5 L120.4 107.8 L121.3 109 L122.2 109.3 L123.1 109.9 L124.1 111.1 L125 112 L125.9 112.7 L126.8 113.5 L127.7 114.1 L128.6 114.7 L129.5 115.2 L130.4 116.2 L131.3 116.5 L132.2 117.2 L133.1 117.7 L134 118.3 L134.9 118.8 L135.8 119 L136.7 119.7 L137.6 120.3 L138.5 120.7 L139.4 121.1 L140.4 121.5 L141.3 121.8 L142.2 122.2 L143.1 122.5 L144 122.7 L144.9 122.9 L145.8 123.3 L146.7 123.5 L147.6 123.8 L148.5 124 L149.4 124.4 L150.3 124.6 L151.2 124.7 L152.1 125 L153 125.2 L153.9 125.4 L154.8 125.5 L155.8 125.6 L156.7 125.9 L157.6 126 L158.5 126.1 L159.4 126.2 L160.3 126.3 L161.2 126.4 L162.1 126.5 L163 126.7 L163.9 126.7 L164.8 126.9 L165.7 126.9 L166.6 127 L167.5 127 L168.4 127.2 L169.3 127.2 L170.2 127.4 L171.1 127.4 L172.1 127.4 L173 127.5 L173.9 127.4 L174.8 127.6 L175.7 127.6 L176.6 127.7 L177.5 127.7 L178.4 127.7 L179.3 127.8 L180.2 127.8 L181.1 127.8 L181.1 128.4 L37.1 128.4Z" fill="#ff6156" stroke="none" stroke-width="1" fill-opacity="0.7"/>
<path d="M37.1 128.4 L38 128.4 L38.9 128.4 L39.8 128.4 L40.7 128.3 L41.6 128.3 L42.5 128.2 L43.5 128.2 L44.4 128.1 L45.3 128.1 L46.2 127.9 L47.1 127.9 L48 127.7 L48.9 127.5 L49.8 127.2 L50.7 126.8 L51.6 126.6 L52.5 126.2 L53.4 125.8 L54.3 125.2 L55.2 124.6 L56.1 124 L57 123.2 L57.9 122.4 L58.8 121.4 L59.8 120.5 L60.7 119.6 L61.6 118.3 L62.5 117.1 L63.4 115.9 L64.3 114.6 L65.2 113.1 L66.1 111.5 L67 109.9 L67.9 108.9 L68.8 106.8 L69.7 105.5 L70.6 103.7 L71.5 102.2 L72.4 100.4 L73.3 99.1 L74.2 97.3 L75.2 95.9 L76.1 94.6 L77 92.8 L77.9 91.6 L78.8 90.6 L79.7 88.9 L80.6 88 L81.5 86.5 L82.4 86 L83.3 85.1 L84.2 84 L85.1 83.2 L86 82.6 L86.9 82.7 L87.8 81.9 L88.7 82.3 L89.6 81.3 L90.5 81.8 L91.5 80.9 L92.4 81.1 L93.3 81.4 L94.2 80.8 L95.1 81.3 L96 81.7 L96.9 82.1 L97.8 82.8 L98.7 83.5 L99.6 84.3 L100.5 84.8 L101.4 86.5 L102.3 87.4 L103.2 88.1 L104.1 88.9 L105 90 L105.9 90.7 L106.8 92.5 L107.8 93.3 L108.7 94.3 L109.6 95.3 L110.5 96.7 L111.4 97.7 L112.3 99 L113.2 99.6 L114.1 100.8 L115 102.5 L115.9 102.8 L116.8 104 L117.7 105 L118.6 105.8 L119.5 106.5 L120.4 107.8 L121.3 109 L122.2 109.3 L123.1 109.9 L124.1 111.1 L125 112 L125.9 112.7 L126.8 113.5 L127.7 114.1 L128.6 114.7 L129.5 115.2 L130.4 116.2 L131.3 116.5 L132.2 117.2 L133.1 117.7 L134 118.3 L134.9 118.8 L135.8 119 L136.7 119.7 L137.6 120.3 L138.5 120.7 L139.4 121.1 L140.4 121.5 L141.3 121.8 L142.2 122.2 L143.1 122.5 L144 122.7 L144.9 122.9 L145.8 123.3 L146.7 123.5 L147.6 123.8 L148.5 124 L149.4 124.4 L150.3 124.6 L151.2 124.7 L152.1 125 L153 125.2 L153.9 125.4 L154.8 125.5 L155.8 125.6 L156.7 125.9 L157.6 126 L158.5 126.1 L159.4 126.2 L160.3 126.3 L161.2 126.4 L162.1 126.5 L163 126.7 L163.9 126.7 L164.8 126.9 L165.7 126.9 L166.6 127 L167.5 127 L168.4 127.2 L169.3 127.2 L170.2 127.4 L171.1 127.4 L172.1 127.4 L173 127.5 L173.9 127.4 L174.8 127.6 L175.7 127.6 L176.6 127.7 L177.5 127.7 L178.4 127.7 L179.3 127.8 L180.2 127.8 L181.1 127.8" fill="none" stroke="#e83838" stroke-width="0.6"/>
<path d="M29.6 138.5 L30.5 138.5 L31.4 138.5 L32.4 138.5 L33.3 138.4 L34.2 138.4 L35.2 138.4 L36.1 138.3 L37 138.2 L37.9 138.1 L38.9 138 L39.8 137.9 L40.7 137.8 L41.7 137.6 L42.6 137.2 L43.5 137 L44.5 136.7 L45.4 136.3 L46.3 135.9 L47.2 135.4 L48.2 134.8 L49.1 134 L50 133.3 L51 132.5 L51.9 131.6 L52.8 130.8 L53.7 129.5 L54.7 128.7 L55.6 127.1 L56.5 126 L57.5 124.5 L58.4 122.8 L59.3 121.1 L60.2 120 L61.2 118.4 L62.1 116.7 L63 115.3 L64 113.1 L64.9 111.7 L65.8 110.1 L66.7 108.2 L67.7 107.1 L68.6 105 L69.5 103.7 L70.5 102.2 L71.4 100.6 L72.3 99.8 L73.3 98 L74.2 96.5 L75.1 95.5 L76 94.5 L77 93.6 L77.9 93 L78.8 92.1 L79.8 91.3 L80.7 90.9 L81.6 90.9 L82.5 89.4 L83.5 89.8 L84.4 89.6 L85.3 89.6 L86.3 89.5 L87.2 89.2 L88.1 89.4 L89 89.5 L90 90.1 L90.9 90.8 L91.8 91.1 L92.8 91.8 L93.7 92.8 L94.6 93.3 L95.5 94.6 L96.5 95.4 L97.4 96 L98.3 97.2 L99.3 97.9 L100.2 99.1 L101.1 100.2 L102.1 101.6 L103 102.5 L103.9 103.8 L104.8 104.8 L105.8 106 L106.7 107.1 L107.6 108.5 L108.6 109.5 L109.5 110.2 L110.4 112 L111.3 112.9 L112.3 113.6 L113.2 114.6 L114.1 115.5 L115.1 116.4 L116 117.3 L116.9 118.5 L117.8 119.3 L118.8 120.1 L119.7 121.1 L120.6 122 L121.6 122.8 L122.5 123.5 L123.4 123.9 L124.4 124.5 L125.3 125.1 L126.2 125.9 L127.1 126.5 L128.1 127.1 L129 127.7 L129.9 128.3 L130.9 128.8 L131.8 129.2 L132.7 130 L133.6 130.3 L134.6 130.6 L135.5 131 L136.4 131.4 L137.4 131.9 L138.3 132.1 L139.2 132.5 L140.1 132.7 L141.1 133 L142 133.3 L142.9 133.8 L143.9 133.8 L144.8 134.1 L145.7 134.2 L146.6 134.6 L147.6 134.8 L148.5 135 L149.4 135.2 L150.4 135.4 L151.3 135.5 L152.2 135.8 L153.2 135.9 L154.1 135.9 L155 136 L155.9 136.3 L156.9 136.4 L157.8 136.6 L158.7 136.7 L159.7 136.7 L160.6 136.8 L161.5 136.9 L162.4 137 L163.4 137 L164.3 137.2 L165.2 137.3 L166.2 137.3 L167.1 137.4 L168 137.5 L168.9 137.5 L169.9 137.5 L170.8 137.7 L171.7 137.7 L172.7 137.7 L173.6 137.7 L174.5 137.8 L175.4 137.9 L176.4 137.9 L177.3 138 L177.3 138.5 L29.6 138.5Z" fill="#5a565a" stroke="none" stroke-width="1" fill-opacity="0.62"/>
<path d="M29.6 138.5 L30.5 138.5 L31.4 138.5 L32.4 138.5 L33.3 138.4 L34.2 138.4 L35.2 138.4 L36.1 138.3 L37 138.2 L37.9 138.1 L38.9 138 L39.8 137.9 L40.7 137.8 L41.7 137.6 L42.6 137.2 L43.5 137 L44.5 136.7 L45.4 136.3 L46.3 135.9 L47.2 135.4 L48.2 134.8 L49.1 134 L50 133.3 L51 132.5 L51.9 131.6 L52.8 130.8 L53.7 129.5 L54.7 128.7 L55.6 127.1 L56.5 126 L57.5 124.5 L58.4 122.8 L59.3 121.1 L60.2 120 L61.2 118.4 L62.1 116.7 L63 115.3 L64 113.1 L64.9 111.7 L65.8 110.1 L66.7 108.2 L67.7 107.1 L68.6 105 L69.5 103.7 L70.5 102.2 L71.4 100.6 L72.3 99.8 L73.3 98 L74.2 96.5 L75.1 95.5 L76 94.5 L77 93.6 L77.9 93 L78.8 92.1 L79.8 91.3 L80.7 90.9 L81.6 90.9 L82.5 89.4 L83.5 89.8 L84.4 89.6 L85.3 89.6 L86.3 89.5 L87.2 89.2 L88.1 89.4 L89 89.5 L90 90.1 L90.9 90.8 L91.8 91.1 L92.8 91.8 L93.7 92.8 L94.6 93.3 L95.5 94.6 L96.5 95.4 L97.4 96 L98.3 97.2 L99.3 97.9 L100.2 99.1 L101.1 100.2 L102.1 101.6 L103 102.5 L103.9 103.8 L104.8 104.8 L105.8 106 L106.7 107.1 L107.6 108.5 L108.6 109.5 L109.5 110.2 L110.4 112 L111.3 112.9 L112.3 113.6 L113.2 114.6 L114.1 115.5 L115.1 116.4 L116 117.3 L116.9 118.5 L117.8 119.3 L118.8 120.1 L119.7 121.1 L120.6 122 L121.6 122.8 L122.5 123.5 L123.4 123.9 L124.4 124.5 L125.3 125.1 L126.2 125.9 L127.1 126.5 L128.1 127.1 L129 127.7 L129.9 128.3 L130.9 128.8 L131.8 129.2 L132.7 130 L133.6 130.3 L134.6 130.6 L135.5 131 L136.4 131.4 L137.4 131.9 L138.3 132.1 L139.2 132.5 L140.1 132.7 L141.1 133 L142 133.3 L142.9 133.8 L143.9 133.8 L144.8 134.1 L145.7 134.2 L146.6 134.6 L147.6 134.8 L148.5 135 L149.4 135.2 L150.4 135.4 L151.3 135.5 L152.2 135.8 L153.2 135.9 L154.1 135.9 L155 136 L155.9 136.3 L156.9 136.4 L157.8 136.6 L158.7 136.7 L159.7 136.7 L160.6 136.8 L161.5 136.9 L162.4 137 L163.4 137 L164.3 137.2 L165.2 137.3 L166.2 137.3 L167.1 137.4 L168 137.5 L168.9 137.5 L169.9 137.5 L170.8 137.7 L171.7 137.7 L172.7 137.7 L173.6 137.7 L174.5 137.8 L175.4 137.9 L176.4 137.9 L177.3 138" fill="none" stroke="#e03030" stroke-width="0.6"/>
<line x1="27" y1="142" x2="176" y2="142" stroke="#000" stroke-width="1.5"/>
<line x1="27" y1="142" x2="27" y2="57" stroke="#000" stroke-width="1.2"/>
<line x1="176" y1="142" x2="201" y2="76.5" stroke="#000" stroke-width="1.2"/>
<line x1="24.4" y1="141.2" x2="27" y2="141.2" stroke="#000" stroke-width="0.8"/>
<line x1="24.4" y1="120.4" x2="27" y2="120.4" stroke="#000" stroke-width="0.8"/>
<line x1="24.4" y1="99.5" x2="27" y2="99.5" stroke="#000" stroke-width="0.8"/>
<line x1="24.4" y1="79" x2="27" y2="79" stroke="#000" stroke-width="0.8"/>
<line x1="24.4" y1="58.4" x2="27" y2="58.4" stroke="#000" stroke-width="0.8"/>
<line x1="25.5" y1="130.8" x2="27" y2="130.8" stroke="#000" stroke-width="0.8"/>
<line x1="25.5" y1="110" x2="27" y2="110" stroke="#000" stroke-width="0.8"/>
<line x1="25.5" y1="89.3" x2="27" y2="89.3" stroke="#000" stroke-width="0.8"/>
<line x1="25.5" y1="68.7" x2="27" y2="68.7" stroke="#000" stroke-width="0.8"/>
<line x1="27" y1="142" x2="27" y2="143.6" stroke="#000" stroke-width="0.9"/>
<line x1="43.6" y1="142" x2="43.6" y2="144.6" stroke="#000" stroke-width="0.9"/>
<line x1="60.1" y1="142" x2="60.1" y2="143.6" stroke="#000" stroke-width="0.9"/>
<line x1="76.7" y1="142" x2="76.7" y2="144.6" stroke="#000" stroke-width="0.9"/>
<line x1="93.2" y1="142" x2="93.2" y2="143.6" stroke="#000" stroke-width="0.9"/>
<line x1="109.8" y1="142" x2="109.8" y2="144.6" stroke="#000" stroke-width="0.9"/>
<line x1="126.3" y1="142" x2="126.3" y2="143.6" stroke="#000" stroke-width="0.9"/>
<line x1="142.9" y1="142" x2="142.9" y2="144.6" stroke="#000" stroke-width="0.9"/>
<line x1="159.4" y1="142" x2="159.4" y2="143.6" stroke="#000" stroke-width="0.9"/>
<line x1="176" y1="142" x2="176" y2="144.6" stroke="#000" stroke-width="0.9"/>
<text x="43.6" y="153.2" font-size="8.4" text-anchor="middle" font-weight="bold" fill="#000" font-family="'Liberation Sans', Arial, sans-serif" dominant-baseline="central">500</text>
<text x="76.7" y="153.2" font-size="8.4" text-anchor="middle" font-weight="bold" fill="#000" font-family="'Liberation Sans', Arial, sans-serif" dominant-baseline="central">600</text>
<text x="109.8" y="153.2" font-size="8.4" text-anchor="middle" font-weight="bold" fill="#000" font-family="'Liberation Sans', Arial, sans-serif" dominant-baseline="central">700</text>
<text x="142.9" y="153.2" font-size="8.4" text-anchor="middle" font-weight="bold" fill="#000" font-family="'Liberation Sans', Arial, sans-serif" dominant-baseline="central">800</text>
<text x="176" y="153.2" font-size="8.4" text-anchor="middle" font-weight="bold" fill="#000" font-family="'Liberation Sans', Arial, sans-serif" dominant-baseline="central">900</text>
<text x="101.5" y="163.5" font-size="8.5" text-anchor="middle" font-weight="bold" fill="#000" font-family="'Liberation Sans', Arial, sans-serif" dominant-baseline="central">Wavelength (nm)</text>
<text x="17.5" y="100" font-size="9.9" text-anchor="middle" font-weight="bold" fill="#000" font-family="'Liberation Sans', Arial, sans-serif" dominant-baseline="central" transform="rotate(-90 17.5 100)">ML Intensity (a.u.)</text>
<line x1="177.3" y1="138.5" x2="179.5" y2="138.5" stroke="#000" stroke-width="0.8"/>
<text x="181.6" y="139" font-size="8.3" text-anchor="start" font-weight="bold" fill="#000" font-family="'Liberation Sans', Arial, sans-serif" dominant-baseline="central">300</text>
<line x1="181.1" y1="128.4" x2="183.3" y2="128.4" stroke="#000" stroke-width="0.8"/>
<text x="185.4" y="128.9" font-size="8.1" text-anchor="start" font-weight="bold" fill="#000" font-family="'Liberation Sans', Arial, sans-serif" dominant-baseline="central">325</text>
<line x1="184.7" y1="118.9" x2="186.9" y2="118.9" stroke="#000" stroke-width="0.8"/>
<text x="189" y="119.4" font-size="7.9" text-anchor="start" font-weight="bold" fill="#000" font-family="'Liberation Sans', Arial, sans-serif" dominant-baseline="central">350</text>
<line x1="188.2" y1="109.8" x2="190.4" y2="109.8" stroke="#000" stroke-width="0.8"/>
<text x="192.5" y="110.3" font-size="7.7" text-anchor="start" font-weight="bold" fill="#000" font-family="'Liberation Sans', Arial, sans-serif" dominant-baseline="central">375</text>
<line x1="191.4" y1="101.2" x2="193.6" y2="101.2" stroke="#000" stroke-width="0.8"/>
<text x="195.7" y="101.7" font-size="7.5" text-anchor="start" font-weight="bold" fill="#000" font-family="'Liberation Sans', Arial, sans-serif" dominant-baseline="central">400</text>
<line x1="194.6" y1="93.1" x2="196.8" y2="93.1" stroke="#000" stroke-width="0.8"/>
<text x="198.9" y="93.6" font-size="7.4" text-anchor="start" font-weight="bold" fill="#000" font-family="'Liberation Sans', Arial, sans-serif" dominant-baseline="central">425</text>
<line x1="197.6" y1="85.4" x2="199.8" y2="85.4" stroke="#000" stroke-width="0.8"/>
<text x="201.9" y="85.9" font-size="7.2" text-anchor="start" font-weight="bold" fill="#000" font-family="'Liberation Sans', Arial, sans-serif" dominant-baseline="central">450</text>
<line x1="200.4" y1="78" x2="202.6" y2="78" stroke="#000" stroke-width="0.8"/>
<text x="204.7" y="78.5" font-size="7.1" text-anchor="start" font-weight="bold" fill="#000" font-family="'Liberation Sans', Arial, sans-serif" dominant-baseline="central">475</text>
<text x="211.3" y="106.5" font-size="5.9" text-anchor="middle" font-weight="bold" fill="#000" font-family="'Liberation Sans', Arial, sans-serif" dominant-baseline="central" transform="rotate(-72 211.3 106.5)">Temperature (K)</text>
<text x="82" y="14.4" font-size="5.7" text-anchor="start" font-weight="bold" fill="#000" font-family="'Liberation Sans', Arial, sans-serif" dominant-baseline="central">SAOCE/PDMS</text>
<text x="2.7" y="8" font-size="16.5" text-anchor="start" font-weight="bold" fill="#000" font-family="'Liberation Sans', Arial, sans-serif" dominant-baseline="central">a</text>
<line x1="241" y1="129.6" x2="290.5" y2="66.3" stroke="#b4b4b4" stroke-width="0.6"/>
<line x1="241" y1="115.1" x2="290.5" y2="54.5" stroke="#b4b4b4" stroke-width="0.6"/>
<line x1="241" y1="100.4" x2="290.5" y2="42.4" stroke="#b4b4b4" stroke-width="0.6"/>
<line x1="241" y1="86" x2="290.5" y2="30.6" stroke="#b4b4b4" stroke-width="0.6"/>
<line x1="241" y1="72" x2="290.5" y2="19.1" stroke="#b4b4b4" stroke-width="0.6"/>
<line x1="251.1" y1="128.4" x2="251.1" y2="46.6" stroke="#d4d4d4" stroke-width="0.5"/>
<line x1="258.3" y1="118.9" x2="258.3" y2="39.3" stroke="#d4d4d4" stroke-width="0.5"/>
<line x1="265.1" y1="109.8" x2="265.1" y2="32.4" stroke="#d4d4d4" stroke-width="0.5"/>
<line x1="271.6" y1="101.2" x2="271.6" y2="25.8" stroke="#d4d4d4" stroke-width="0.5"/>
<line x1="277.8" y1="93.1" x2="277.8" y2="19.6" stroke="#d4d4d4" stroke-width="0.5"/>
<line x1="283.7" y1="85.4" x2="283.7" y2="13.7" stroke="#d4d4d4" stroke-width="0.5"/>
<line x1="290.5" y1="66.3" x2="415" y2="66.3" stroke="#c8c8c8" stroke-width="0.5"/>
<line x1="290.5" y1="54.5" x2="415" y2="54.5" stroke="#c8c8c8" stroke-width="0.5"/>
<line x1="290.5" y1="42.4" x2="415" y2="42.4" stroke="#c8c8c8" stroke-width="0.5"/>
<line x1="290.5" y1="30.6" x2="415" y2="30.6" stroke="#c8c8c8" stroke-width="0.5"/>
<line x1="290.5" y1="19.1" x2="415" y2="19.1" stroke="#c8c8c8" stroke-width="0.5"/>
<line x1="315.4" y1="76.5" x2="315.4" y2="6.9" stroke="#c8c8c8" stroke-width="0.5"/>
<line x1="270.8" y1="142" x2="315.4" y2="76.5" stroke="#c8c8c8" stroke-width="0.5"/>
<line x1="340.3" y1="76.5" x2="340.3" y2="6.9" stroke="#c8c8c8" stroke-width="0.5"/>
<line x1="300.6" y1="142" x2="340.3" y2="76.5" stroke="#c8c8c8" stroke-width="0.5"/>
<line x1="365.2" y1="76.5" x2="365.2" y2="6.9" stroke="#c8c8c8" stroke-width="0.5"/>
<line x1="330.4" y1="142" x2="365.2" y2="76.5" stroke="#c8c8c8" stroke-width="0.5"/>
<line x1="390.1" y1="76.5" x2="390.1" y2="6.9" stroke="#c8c8c8" stroke-width="0.5"/>
<line x1="360.2" y1="142" x2="390.1" y2="76.5" stroke="#c8c8c8" stroke-width="0.5"/>
<path d="M241 57 L290.5 6.9 L415 6.9 L415 76.5" fill="none" stroke="#8c8c8c" stroke-width="0.8"/>
<path d="M290.5 6.9 L290.5 76.5" fill="none" stroke="#8c8c8c" stroke-width="0.8"/>
<path d="M290.5 76.5 L415 76.5" fill="none" stroke="#b0b0b0" stroke-width="0.6"/>
<path d="M241 142 L290.5 76.5" fill="none" stroke="#8c8c8c" stroke-width="0.7"/>
<path d="M289.4 78 L290.1 78 L290.9 78 L291.7 78 L292.5 78 L293.3 78 L294.1 78 L294.9 78 L295.6 78 L296.4 78 L297.2 78 L298 78 L298.8 78 L299.6 78 L300.4 78 L301.2 78 L301.9 77.9 L302.7 77.7 L303.5 77.2 L304.3 76.3 L305.1 74.2 L305.9 71 L306.7 66.6 L307.4 61.2 L308.2 56.1 L309 53 L309.8 51.9 L310.6 53.2 L311.4 56.5 L312.2 60 L313 63.8 L313.7 67.9 L314.5 71.1 L315.3 73.7 L316.1 75.6 L316.9 76.6 L317.7 77.3 L318.5 77.7 L319.2 77.8 L320 77.9 L320.8 78 L321.6 78 L322.4 78 L323.2 78 L324 77.9 L324.8 77.9 L325.5 77.9 L326.3 77.9 L327.1 77.8 L327.9 77.8 L328.7 77.6 L329.5 77.3 L330.3 76.7 L331 75.7 L331.8 73.4 L332.6 69.9 L333.4 64.1 L334.2 57 L335 48 L335.8 39.1 L336.5 31.8 L337.3 28.6 L338.1 28.3 L338.9 30.6 L339.7 33.8 L340.5 38.2 L341.3 43.5 L342.1 49 L342.8 54.9 L343.6 59.1 L344.4 63.7 L345.2 67 L346 69.3 L346.8 71 L347.6 72.3 L348.3 73.1 L349.1 73.2 L349.9 73.3 L350.7 72.9 L351.5 72.2 L352.3 71.3 L353.1 69.5 L353.9 68 L354.6 65.8 L355.4 64 L356.2 61.7 L357 60.3 L357.8 60 L358.6 59.8 L359.4 60.9 L360.1 62.5 L360.9 64.7 L361.7 66.8 L362.5 69.1 L363.3 70.9 L364.1 72.5 L364.9 73.5 L365.7 74.2 L366.4 74.8 L367.2 75.1 L368 75.2 L368.8 75.2 L369.6 75.1 L370.4 74.8 L371.2 74.3 L371.9 73.4 L372.7 72.2 L373.5 71 L374.3 69.7 L375.1 68.3 L375.9 67.2 L376.7 66.8 L377.5 67.1 L378.2 67.7 L379 68.7 L379.8 70 L380.6 71.4 L381.4 72.7 L382.2 73.7 L383 74.5 L383.7 74.8 L384.5 75.2 L385.3 75.5 L386.1 75.5 L386.9 75.5 L387.7 75.6 L388.5 75.6 L389.2 75.6 L390 75.6 L390.8 75.8 L391.6 75.8 L392.4 75.9 L393.2 75.9 L394 75.9 L394.8 75.9 L395.5 76 L396.3 76 L397.1 76.2 L397.9 76.2 L398.7 76.3 L399.5 76.3 L400.3 76.4 L401 76.5 L401.8 76.6 L402.6 76.5 L403.4 76.6 L404.2 76.7 L405 76.8 L405.8 76.9 L406.6 76.9 L407.3 76.9 L408.1 77 L408.9 77.1 L409.7 77.1 L410.5 77.2 L411.3 77.3 L412.1 77.3 L412.8 77.4 L413.6 77.4 L414.4 77.5 L414.4 78 L289.4 78Z" fill="#9b6969" stroke="none" stroke-width="1" fill-opacity="0.7"/>
<path d="M289.4 78 L290.1 78 L290.9 78 L291.7 78 L292.5 78 L293.3 78 L294.1 78 L294.9 78 L295.6 78 L296.4 78 L297.2 78 L298 78 L298.8 78 L299.6 78 L300.4 78 L301.2 78 L301.9 77.9 L302.7 77.7 L303.5 77.2 L304.3 76.3 L305.1 74.2 L305.9 71 L306.7 66.6 L307.4 61.2 L308.2 56.1 L309 53 L309.8 51.9 L310.6 53.2 L311.4 56.5 L312.2 60 L313 63.8 L313.7 67.9 L314.5 71.1 L315.3 73.7 L316.1 75.6 L316.9 76.6 L317.7 77.3 L318.5 77.7 L319.2 77.8 L320 77.9 L320.8 78 L321.6 78 L322.4 78 L323.2 78 L324 77.9 L324.8 77.9 L325.5 77.9 L326.3 77.9 L327.1 77.8 L327.9 77.8 L328.7 77.6 L329.5 77.3 L330.3 76.7 L331 75.7 L331.8 73.4 L332.6 69.9 L333.4 64.1 L334.2 57 L335 48 L335.8 39.1 L336.5 31.8 L337.3 28.6 L338.1 28.3 L338.9 30.6 L339.7 33.8 L340.5 38.2 L341.3 43.5 L342.1 49 L342.8 54.9 L343.6 59.1 L344.4 63.7 L345.2 67 L346 69.3 L346.8 71 L347.6 72.3 L348.3 73.1 L349.1 73.2 L349.9 73.3 L350.7 72.9 L351.5 72.2 L352.3 71.3 L353.1 69.5 L353.9 68 L354.6 65.8 L355.4 64 L356.2 61.7 L357 60.3 L357.8 60 L358.6 59.8 L359.4 60.9 L360.1 62.5 L360.9 64.7 L361.7 66.8 L362.5 69.1 L363.3 70.9 L364.1 72.5 L364.9 73.5 L365.7 74.2 L366.4 74.8 L367.2 75.1 L368 75.2 L368.8 75.2 L369.6 75.1 L370.4 74.8 L371.2 74.3 L371.9 73.4 L372.7 72.2 L373.5 71 L374.3 69.7 L375.1 68.3 L375.9 67.2 L376.7 66.8 L377.5 67.1 L378.2 67.7 L379 68.7 L379.8 70 L380.6 71.4 L381.4 72.7 L382.2 73.7 L383 74.5 L383.7 74.8 L384.5 75.2 L385.3 75.5 L386.1 75.5 L386.9 75.5 L387.7 75.6 L388.5 75.6 L389.2 75.6 L390 75.6 L390.8 75.8 L391.6 75.8 L392.4 75.9 L393.2 75.9 L394 75.9 L394.8 75.9 L395.5 76 L396.3 76 L397.1 76.2 L397.9 76.2 L398.7 76.3 L399.5 76.3 L400.3 76.4 L401 76.5 L401.8 76.6 L402.6 76.5 L403.4 76.6 L404.2 76.7 L405 76.8 L405.8 76.9 L406.6 76.9 L407.3 76.9 L408.1 77 L408.9 77.1 L409.7 77.1 L410.5 77.2 L411.3 77.3 L412.1 77.3 L412.8 77.4 L413.6 77.4 L414.4 77.5" fill="none" stroke="#6a5ad0" stroke-width="0.6"/>
<path d="M283.7 85.4 L284.5 85.4 L285.3 85.4 L286.1 85.4 L286.9 85.4 L287.7 85.4 L288.5 85.4 L289.3 85.4 L290.1 85.4 L290.9 85.4 L291.7 85.4 L292.5 85.4 L293.3 85.4 L294.2 85.4 L295 85.4 L295.8 85.3 L296.6 85.3 L297.4 85.1 L298.2 84.5 L299 83.5 L299.8 81.4 L300.6 78.2 L301.4 73.2 L302.2 67.7 L303 62.7 L303.8 58.7 L304.6 58.3 L305.4 59 L306.2 62.1 L307 66.3 L307.8 70.4 L308.6 74.8 L309.4 78.1 L310.2 80.7 L311 82.8 L311.8 83.9 L312.6 84.6 L313.5 85 L314.3 85.2 L315.1 85.3 L315.9 85.3 L316.7 85.3 L317.5 85.3 L318.3 85.3 L319.1 85.3 L319.9 85.3 L320.7 85.3 L321.5 85.2 L322.3 85.2 L323.1 85.1 L323.9 85 L324.7 84.7 L325.5 84.1 L326.3 82.8 L327.1 80.6 L327.9 76.6 L328.7 71 L329.5 63.1 L330.3 53.8 L331.1 45.1 L331.9 37.2 L332.8 33.2 L333.6 32.7 L334.4 35.1 L335.2 38.3 L336 43.5 L336.8 49.4 L337.6 55 L338.4 60.7 L339.2 65.9 L340 70.3 L340.8 73.5 L341.6 76.4 L342.4 78.2 L343.2 79.3 L344 80.3 L344.8 80.4 L345.6 80.4 L346.4 79.9 L347.2 79.4 L348 78.2 L348.8 76.7 L349.6 74.8 L350.4 72.7 L351.2 70.5 L352.1 68.5 L352.9 66.9 L353.7 66.2 L354.5 66.4 L355.3 67.1 L356.1 69.1 L356.9 70.9 L357.7 73.5 L358.5 75.9 L359.3 77.9 L360.1 79.5 L360.9 80.4 L361.7 81.5 L362.5 82.1 L363.3 82.3 L364.1 82.4 L364.9 82.4 L365.7 82.3 L366.5 82 L367.3 81.4 L368.1 80.4 L368.9 79.3 L369.7 78 L370.5 76.6 L371.4 75.2 L372.2 74.3 L373 73.6 L373.8 73.6 L374.6 74.7 L375.4 75.5 L376.2 77.1 L377 78.4 L377.8 79.7 L378.6 80.8 L379.4 81.6 L380.2 82.1 L381 82.4 L381.8 82.6 L382.6 82.7 L383.4 82.8 L384.2 82.8 L385 82.8 L385.8 82.8 L386.6 82.9 L387.4 83 L388.2 82.9 L389 83 L389.8 83.1 L390.7 83.1 L391.5 83.1 L392.3 83.3 L393.1 83.4 L393.9 83.3 L394.7 83.4 L395.5 83.5 L396.3 83.7 L397.1 83.7 L397.9 83.8 L398.7 83.8 L399.5 83.9 L400.3 84 L401.1 84.1 L401.9 84.1 L402.7 84.2 L403.5 84.1 L404.3 84.3 L405.1 84.4 L405.9 84.4 L406.7 84.5 L407.5 84.5 L408.3 84.6 L409.1 84.6 L410 84.7 L410.8 84.8 L411.6 84.8 L411.6 85.4 L283.7 85.4Z" fill="#00aac4" stroke="none" stroke-width="1" fill-opacity="0.92"/>
<path d="M283.7 85.4 L284.5 85.4 L285.3 85.4 L286.1 85.4 L286.9 85.4 L287.7 85.4 L288.5 85.4 L289.3 85.4 L290.1 85.4 L290.9 85.4 L291.7 85.4 L292.5 85.4 L293.3 85.4 L294.2 85.4 L295 85.4 L295.8 85.3 L296.6 85.3 L297.4 85.1 L298.2 84.5 L299 83.5 L299.8 81.4 L300.6 78.2 L301.4 73.2 L302.2 67.7 L303 62.7 L303.8 58.7 L304.6 58.3 L305.4 59 L306.2 62.1 L307 66.3 L307.8 70.4 L308.6 74.8 L309.4 78.1 L310.2 80.7 L311 82.8 L311.8 83.9 L312.6 84.6 L313.5 85 L314.3 85.2 L315.1 85.3 L315.9 85.3 L316.7 85.3 L317.5 85.3 L318.3 85.3 L319.1 85.3 L319.9 85.3 L320.7 85.3 L321.5 85.2 L322.3 85.2 L323.1 85.1 L323.9 85 L324.7 84.7 L325.5 84.1 L326.3 82.8 L327.1 80.6 L327.9 76.6 L328.7 71 L329.5 63.1 L330.3 53.8 L331.1 45.1 L331.9 37.2 L332.8 33.2 L333.6 32.7 L334.4 35.1 L335.2 38.3 L336 43.5 L336.8 49.4 L337.6 55 L338.4 60.7 L339.2 65.9 L340 70.3 L340.8 73.5 L341.6 76.4 L342.4 78.2 L343.2 79.3 L344 80.3 L344.8 80.4 L345.6 80.4 L346.4 79.9 L347.2 79.4 L348 78.2 L348.8 76.7 L349.6 74.8 L350.4 72.7 L351.2 70.5 L352.1 68.5 L352.9 66.9 L353.7 66.2 L354.5 66.4 L355.3 67.1 L356.1 69.1 L356.9 70.9 L357.7 73.5 L358.5 75.9 L359.3 77.9 L360.1 79.5 L360.9 80.4 L361.7 81.5 L362.5 82.1 L363.3 82.3 L364.1 82.4 L364.9 82.4 L365.7 82.3 L366.5 82 L367.3 81.4 L368.1 80.4 L368.9 79.3 L369.7 78 L370.5 76.6 L371.4 75.2 L372.2 74.3 L373 73.6 L373.8 73.6 L374.6 74.7 L375.4 75.5 L376.2 77.1 L377 78.4 L377.8 79.7 L378.6 80.8 L379.4 81.6 L380.2 82.1 L381 82.4 L381.8 82.6 L382.6 82.7 L383.4 82.8 L384.2 82.8 L385 82.8 L385.8 82.8 L386.6 82.9 L387.4 83 L388.2 82.9 L389 83 L389.8 83.1 L390.7 83.1 L391.5 83.1 L392.3 83.3 L393.1 83.4 L393.9 83.3 L394.7 83.4 L395.5 83.5 L396.3 83.7 L397.1 83.7 L397.9 83.8 L398.7 83.8 L399.5 83.9 L400.3 84 L401.1 84.1 L401.9 84.1 L402.7 84.2 L403.5 84.1 L404.3 84.3 L405.1 84.4 L405.9 84.4 L406.7 84.5 L407.5 84.5 L408.3 84.6 L409.1 84.6 L410 84.7 L410.8 84.8 L411.6 84.8" fill="none" stroke="#2a86d0" stroke-width="0.6"/>
<path d="M277.8 93.1 L278.6 93.1 L279.4 93.1 L280.2 93.1 L281.1 93.1 L281.9 93.1 L282.7 93.1 L283.5 93.1 L284.4 93.1 L285.2 93.1 L286 93.1 L286.8 93.1 L287.6 93.1 L288.5 93.1 L289.3 93.1 L290.1 93.1 L290.9 93 L291.8 92.8 L292.6 92.3 L293.4 91.2 L294.2 89.1 L295.1 85.7 L295.9 80.9 L296.7 75.4 L297.5 70.2 L298.3 66.2 L299.2 65.2 L300 67 L300.8 69.9 L301.6 73.8 L302.5 78.3 L303.3 82.3 L304.1 85.8 L304.9 88.4 L305.7 90.5 L306.6 91.5 L307.4 92.3 L308.2 92.7 L309 92.9 L309.9 93 L310.7 93.1 L311.5 93.1 L312.3 93.1 L313.1 93 L314 93.1 L314.8 93 L315.6 93 L316.4 93 L317.3 93 L318.1 92.8 L318.9 92.8 L319.7 92.4 L320.6 91.7 L321.4 90.6 L322.2 88.2 L323 84.3 L323.8 78.7 L324.7 70 L325.5 61 L326.3 52.1 L327.1 43.6 L328 39.7 L328.8 39.6 L329.6 41.4 L330.4 45.8 L331.2 50.2 L332.1 56.4 L332.9 62.5 L333.7 68.1 L334.5 73.6 L335.4 77.9 L336.2 81.1 L337 84.1 L337.8 85.6 L338.7 87 L339.5 87.7 L340.3 88 L341.1 88 L341.9 87.6 L342.8 86.9 L343.6 85.9 L344.4 84.4 L345.2 82.2 L346.1 80.3 L346.9 78.2 L347.7 75.9 L348.5 74.4 L349.3 73.8 L350.2 73.8 L351 74.6 L351.8 76.8 L352.6 78.8 L353.5 81.3 L354.3 83.4 L355.1 85.4 L355.9 87.1 L356.7 88.1 L357.6 89.2 L358.4 89.6 L359.2 90.1 L360 90.1 L360.9 90.2 L361.7 90.1 L362.5 89.7 L363.3 89.1 L364.2 88.2 L365 87.1 L365.8 85.6 L366.6 84 L367.4 82.9 L368.3 81.5 L369.1 81.4 L369.9 81.1 L370.7 82.1 L371.6 83.3 L372.4 84.7 L373.2 86.2 L374 87.5 L374.8 88.5 L375.7 89.3 L376.5 89.8 L377.3 90.1 L378.1 90.5 L379 90.4 L379.8 90.5 L380.6 90.5 L381.4 90.5 L382.2 90.6 L383.1 90.6 L383.9 90.6 L384.7 90.7 L385.5 90.8 L386.4 90.7 L387.2 90.9 L388 91 L388.8 91 L389.7 91.1 L390.5 91.2 L391.3 91.1 L392.1 91.3 L392.9 91.3 L393.8 91.5 L394.6 91.5 L395.4 91.5 L396.2 91.5 L397.1 91.6 L397.9 91.7 L398.7 91.8 L399.5 91.9 L400.3 91.9 L401.2 92 L402 92 L402.8 92.1 L403.6 92.2 L404.5 92.2 L405.3 92.3 L406.1 92.4 L406.9 92.4 L407.7 92.5 L408.6 92.5 L408.6 93.1 L277.8 93.1Z" fill="#c89614" stroke="none" stroke-width="1" fill-opacity="0.8"/>
<path d="M277.8 93.1 L278.6 93.1 L279.4 93.1 L280.2 93.1 L281.1 93.1 L281.9 93.1 L282.7 93.1 L283.5 93.1 L284.4 93.1 L285.2 93.1 L286 93.1 L286.8 93.1 L287.6 93.1 L288.5 93.1 L289.3 93.1 L290.1 93.1 L290.9 93 L291.8 92.8 L292.6 92.3 L293.4 91.2 L294.2 89.1 L295.1 85.7 L295.9 80.9 L296.7 75.4 L297.5 70.2 L298.3 66.2 L299.2 65.2 L300 67 L300.8 69.9 L301.6 73.8 L302.5 78.3 L303.3 82.3 L304.1 85.8 L304.9 88.4 L305.7 90.5 L306.6 91.5 L307.4 92.3 L308.2 92.7 L309 92.9 L309.9 93 L310.7 93.1 L311.5 93.1 L312.3 93.1 L313.1 93 L314 93.1 L314.8 93 L315.6 93 L316.4 93 L317.3 93 L318.1 92.8 L318.9 92.8 L319.7 92.4 L320.6 91.7 L321.4 90.6 L322.2 88.2 L323 84.3 L323.8 78.7 L324.7 70 L325.5 61 L326.3 52.1 L327.1 43.6 L328 39.7 L328.8 39.6 L329.6 41.4 L330.4 45.8 L331.2 50.2 L332.1 56.4 L332.9 62.5 L333.7 68.1 L334.5 73.6 L335.4 77.9 L336.2 81.1 L337 84.1 L337.8 85.6 L338.7 87 L339.5 87.7 L340.3 88 L341.1 88 L341.9 87.6 L342.8 86.9 L343.6 85.9 L344.4 84.4 L345.2 82.2 L346.1 80.3 L346.9 78.2 L347.7 75.9 L348.5 74.4 L349.3 73.8 L350.2 73.8 L351 74.6 L351.8 76.8 L352.6 78.8 L353.5 81.3 L354.3 83.4 L355.1 85.4 L355.9 87.1 L356.7 88.1 L357.6 89.2 L358.4 89.6 L359.2 90.1 L360 90.1 L360.9 90.2 L361.7 90.1 L362.5 89.7 L363.3 89.1 L364.2 88.2 L365 87.1 L365.8 85.6 L366.6 84 L367.4 82.9 L368.3 81.5 L369.1 81.4 L369.9 81.1 L370.7 82.1 L371.6 83.3 L372.4 84.7 L373.2 86.2 L374 87.5 L374.8 88.5 L375.7 89.3 L376.5 89.8 L377.3 90.1 L378.1 90.5 L379 90.4 L379.8 90.5 L380.6 90.5 L381.4 90.5 L382.2 90.6 L383.1 90.6 L383.9 90.6 L384.7 90.7 L385.5 90.8 L386.4 90.7 L387.2 90.9 L388 91 L388.8 91 L389.7 91.1 L390.5 91.2 L391.3 91.1 L392.1 91.3 L392.9 91.3 L393.8 91.5 L394.6 91.5 L395.4 91.5 L396.2 91.5 L397.1 91.6 L397.9 91.7 L398.7 91.8 L399.5 91.9 L400.3 91.9 L401.2 92 L402 92 L402.8 92.1 L403.6 92.2 L404.5 92.2 L405.3 92.3 L406.1 92.4 L406.9 92.4 L407.7 92.5 L408.6 92.5" fill="none" stroke="#88c440" stroke-width="0.6"/>
<path d="M271.6 101.2 L272.4 101.2 L273.3 101.2 L274.1 101.2 L274.9 101.2 L275.8 101.2 L276.6 101.2 L277.5 101.2 L278.3 101.2 L279.2 101.2 L280 101.2 L280.8 101.3 L281.7 101.2 L282.5 101.2 L283.4 101.2 L284.2 101.2 L285.1 101.2 L285.9 100.9 L286.7 100.4 L287.6 99.3 L288.4 97.2 L289.3 93.7 L290.1 88.7 L290.9 82.9 L291.8 77.1 L292.6 73.5 L293.5 72.8 L294.3 74.1 L295.2 77.3 L296 81.2 L296.8 85.9 L297.7 89.9 L298.5 93.8 L299.4 96.3 L300.2 98.5 L301 99.8 L301.9 100.5 L302.7 100.9 L303.6 101 L304.4 101.2 L305.3 101.2 L306.1 101.2 L306.9 101.2 L307.8 101.2 L308.6 101.2 L309.5 101.2 L310.3 101.1 L311.1 101.1 L312 101.1 L312.8 101 L313.7 100.8 L314.5 100.5 L315.4 100 L316.2 98.6 L317 96.4 L317.9 92.3 L318.7 85.7 L319.6 77.7 L320.4 67.8 L321.3 57.6 L322.1 50 L322.9 45.3 L323.8 46 L324.6 47.8 L325.5 52.1 L326.3 56.8 L327.1 63.1 L328 69.3 L328.8 75.4 L329.7 80.9 L330.5 85.2 L331.4 89.2 L332.2 91.7 L333 93.7 L333.9 94.9 L334.7 95.7 L335.6 95.9 L336.4 95.9 L337.2 95.6 L338.1 95 L338.9 93.6 L339.8 92.1 L340.6 90 L341.5 87.9 L342.3 85.6 L343.1 83.2 L344 81.5 L344.8 80.9 L345.7 81.4 L346.5 82.3 L347.4 83.9 L348.2 86.4 L349 88.9 L349.9 91 L350.7 93.4 L351.6 95.2 L352.4 96.3 L353.2 97.1 L354.1 97.7 L354.9 97.9 L355.8 98.2 L356.6 98.2 L357.5 98 L358.3 97.7 L359.1 96.9 L360 96.2 L360.8 95.1 L361.7 93.5 L362.5 91.7 L363.3 90.3 L364.2 89.4 L365 89 L365.9 89.4 L366.7 89.6 L367.6 90.9 L368.4 92.2 L369.2 93.9 L370.1 95.3 L370.9 96.5 L371.8 97.3 L372.6 97.8 L373.5 98.2 L374.3 98.3 L375.1 98.4 L376 98.5 L376.8 98.6 L377.7 98.6 L378.5 98.5 L379.3 98.7 L380.2 98.7 L381 98.9 L381.9 98.8 L382.7 98.9 L383.6 99 L384.4 98.9 L385.2 99 L386.1 99.1 L386.9 99.1 L387.8 99.1 L388.6 99.3 L389.4 99.4 L390.3 99.4 L391.1 99.4 L392 99.6 L392.8 99.7 L393.7 99.8 L394.5 99.8 L395.3 99.9 L396.2 100 L397 100 L397.9 100.1 L398.7 100.1 L399.5 100.3 L400.4 100.3 L401.2 100.3 L402.1 100.4 L402.9 100.6 L403.8 100.5 L404.6 100.6 L405.4 100.6 L405.4 101.2 L271.6 101.2Z" fill="#c88ceb" stroke="none" stroke-width="1" fill-opacity="0.72"/>
<path d="M271.6 101.2 L272.4 101.2 L273.3 101.2 L274.1 101.2 L274.9 101.2 L275.8 101.2 L276.6 101.2 L277.5 101.2 L278.3 101.2 L279.2 101.2 L280 101.2 L280.8 101.3 L281.7 101.2 L282.5 101.2 L283.4 101.2 L284.2 101.2 L285.1 101.2 L285.9 100.9 L286.7 100.4 L287.6 99.3 L288.4 97.2 L289.3 93.7 L290.1 88.7 L290.9 82.9 L291.8 77.1 L292.6 73.5 L293.5 72.8 L294.3 74.1 L295.2 77.3 L296 81.2 L296.8 85.9 L297.7 89.9 L298.5 93.8 L299.4 96.3 L300.2 98.5 L301 99.8 L301.9 100.5 L302.7 100.9 L303.6 101 L304.4 101.2 L305.3 101.2 L306.1 101.2 L306.9 101.2 L307.8 101.2 L308.6 101.2 L309.5 101.2 L310.3 101.1 L311.1 101.1 L312 101.1 L312.8 101 L313.7 100.8 L314.5 100.5 L315.4 100 L316.2 98.6 L317 96.4 L317.9 92.3 L318.7 85.7 L319.6 77.7 L320.4 67.8 L321.3 57.6 L322.1 50 L322.9 45.3 L323.8 46 L324.6 47.8 L325.5 52.1 L326.3 56.8 L327.1 63.1 L328 69.3 L328.8 75.4 L329.7 80.9 L330.5 85.2 L331.4 89.2 L332.2 91.7 L333 93.7 L333.9 94.9 L334.7 95.7 L335.6 95.9 L336.4 95.9 L337.2 95.6 L338.1 95 L338.9 93.6 L339.8 92.1 L340.6 90 L341.5 87.9 L342.3 85.6 L343.1 83.2 L344 81.5 L344.8 80.9 L345.7 81.4 L346.5 82.3 L347.4 83.9 L348.2 86.4 L349 88.9 L349.9 91 L350.7 93.4 L351.6 95.2 L352.4 96.3 L353.2 97.1 L354.1 97.7 L354.9 97.9 L355.8 98.2 L356.6 98.2 L357.5 98 L358.3 97.7 L359.1 96.9 L360 96.2 L360.8 95.1 L361.7 93.5 L362.5 91.7 L363.3 90.3 L364.2 89.4 L365 89 L365.9 89.4 L366.7 89.6 L367.6 90.9 L368.4 92.2 L369.2 93.9 L370.1 95.3 L370.9 96.5 L371.8 97.3 L372.6 97.8 L373.5 98.2 L374.3 98.3 L375.1 98.4 L376 98.5 L376.8 98.6 L377.7 98.6 L378.5 98.5 L379.3 98.7 L380.2 98.7 L381 98.9 L381.9 98.8 L382.7 98.9 L383.6 99 L384.4 98.9 L385.2 99 L386.1 99.1 L386.9 99.1 L387.8 99.1 L388.6 99.3 L389.4 99.4 L390.3 99.4 L391.1 99.4 L392 99.6 L392.8 99.7 L393.7 99.8 L394.5 99.8 L395.3 99.9 L396.2 100 L397 100 L397.9 100.1 L398.7 100.1 L399.5 100.3 L400.4 100.3 L401.2 100.3 L402.1 100.4 L402.9 100.6 L403.8 100.5 L404.6 100.6 L405.4 100.6" fill="none" stroke="#98c848" stroke-width="0.6"/>
<path d="M265.1 109.8 L265.9 109.8 L266.8 109.8 L267.7 109.8 L268.5 109.8 L269.4 109.8 L270.3 109.8 L271.1 109.8 L272 109.8 L272.8 109.8 L273.7 109.8 L274.6 109.8 L275.4 109.8 L276.3 109.8 L277.2 109.8 L278 109.8 L278.9 109.7 L279.7 109.5 L280.6 109 L281.5 107.8 L282.3 105.7 L283.2 101.8 L284.1 97.1 L284.9 90.9 L285.8 85.6 L286.6 81.7 L287.5 80.4 L288.4 82.7 L289.2 85.4 L290.1 89.5 L290.9 94 L291.8 98.6 L292.7 102.2 L293.5 105.1 L294.4 107 L295.3 108.3 L296.1 109 L297 109.5 L297.8 109.7 L298.7 109.7 L299.6 109.7 L300.4 109.8 L301.3 109.8 L302.2 109.7 L303 109.7 L303.9 109.7 L304.7 109.7 L305.6 109.7 L306.5 109.6 L307.3 109.6 L308.2 109.4 L309.1 109.1 L309.9 108.4 L310.8 107.1 L311.6 104.7 L312.5 100.6 L313.4 94.3 L314.2 86 L315.1 76.3 L316 65.7 L316.8 58.1 L317.7 53.8 L318.5 53.8 L319.4 55.9 L320.3 60.1 L321.1 65.3 L322 71.2 L322.8 77.2 L323.7 83.2 L324.6 89.1 L325.4 93.7 L326.3 97.4 L327.2 100.2 L328 102.2 L328.9 103.4 L329.7 104.1 L330.6 104.5 L331.5 104.6 L332.3 104.2 L333.2 103.2 L334.1 102 L334.9 100.6 L335.8 98.4 L336.6 96.2 L337.5 94 L338.4 91.8 L339.2 90.3 L340.1 89.4 L341 89.5 L341.8 90.5 L342.7 92.5 L343.5 94.7 L344.4 97.3 L345.3 99.8 L346.1 102 L347 103.3 L347.8 104.8 L348.7 105.6 L349.6 106.3 L350.4 106.5 L351.3 106.7 L352.2 106.7 L353 106.5 L353.9 106.1 L354.7 105.6 L355.6 104.5 L356.5 103.4 L357.3 101.9 L358.2 100.4 L359.1 98.9 L359.9 97.8 L360.8 97.5 L361.6 97.5 L362.5 98 L363.4 99.4 L364.2 101 L365.1 102.5 L366 104 L366.8 104.9 L367.7 105.7 L368.5 106.3 L369.4 106.7 L370.3 107 L371.1 107 L372 107.1 L372.9 107.1 L373.7 107.1 L374.6 107.2 L375.4 107.2 L376.3 107.3 L377.2 107.3 L378 107.4 L378.9 107.4 L379.7 107.4 L380.6 107.5 L381.5 107.6 L382.3 107.7 L383.2 107.6 L384.1 107.8 L384.9 107.9 L385.8 107.9 L386.6 108 L387.5 108.1 L388.4 108.2 L389.2 108.3 L390.1 108.3 L391 108.4 L391.8 108.5 L392.7 108.5 L393.5 108.6 L394.4 108.6 L395.3 108.7 L396.1 108.7 L397 108.9 L397.9 109 L398.7 109 L399.6 109 L400.4 109.1 L401.3 109.2 L402.2 109.1 L402.2 109.8 L265.1 109.8Z" fill="#53ad8d" stroke="none" stroke-width="1" fill-opacity="0.75"/>
<path d="M265.1 109.8 L265.9 109.8 L266.8 109.8 L267.7 109.8 L268.5 109.8 L269.4 109.8 L270.3 109.8 L271.1 109.8 L272 109.8 L272.8 109.8 L273.7 109.8 L274.6 109.8 L275.4 109.8 L276.3 109.8 L277.2 109.8 L278 109.8 L278.9 109.7 L279.7 109.5 L280.6 109 L281.5 107.8 L282.3 105.7 L283.2 101.8 L284.1 97.1 L284.9 90.9 L285.8 85.6 L286.6 81.7 L287.5 80.4 L288.4 82.7 L289.2 85.4 L290.1 89.5 L290.9 94 L291.8 98.6 L292.7 102.2 L293.5 105.1 L294.4 107 L295.3 108.3 L296.1 109 L297 109.5 L297.8 109.7 L298.7 109.7 L299.6 109.7 L300.4 109.8 L301.3 109.8 L302.2 109.7 L303 109.7 L303.9 109.7 L304.7 109.7 L305.6 109.7 L306.5 109.6 L307.3 109.6 L308.2 109.4 L309.1 109.1 L309.9 108.4 L310.8 107.1 L311.6 104.7 L312.5 100.6 L313.4 94.3 L314.2 86 L315.1 76.3 L316 65.7 L316.8 58.1 L317.7 53.8 L318.5 53.8 L319.4 55.9 L320.3 60.1 L321.1 65.3 L322 71.2 L322.8 77.2 L323.7 83.2 L324.6 89.1 L325.4 93.7 L326.3 97.4 L327.2 100.2 L328 102.2 L328.9 103.4 L329.7 104.1 L330.6 104.5 L331.5 104.6 L332.3 104.2 L333.2 103.2 L334.1 102 L334.9 100.6 L335.8 98.4 L336.6 96.2 L337.5 94 L338.4 91.8 L339.2 90.3 L340.1 89.4 L341 89.5 L341.8 90.5 L342.7 92.5 L343.5 94.7 L344.4 97.3 L345.3 99.8 L346.1 102 L347 103.3 L347.8 104.8 L348.7 105.6 L349.6 106.3 L350.4 106.5 L351.3 106.7 L352.2 106.7 L353 106.5 L353.9 106.1 L354.7 105.6 L355.6 104.5 L356.5 103.4 L357.3 101.9 L358.2 100.4 L359.1 98.9 L359.9 97.8 L360.8 97.5 L361.6 97.5 L362.5 98 L363.4 99.4 L364.2 101 L365.1 102.5 L366 104 L366.8 104.9 L367.7 105.7 L368.5 106.3 L369.4 106.7 L370.3 107 L371.1 107 L372 107.1 L372.9 107.1 L373.7 107.1 L374.6 107.2 L375.4 107.2 L376.3 107.3 L377.2 107.3 L378 107.4 L378.9 107.4 L379.7 107.4 L380.6 107.5 L381.5 107.6 L382.3 107.7 L383.2 107.6 L384.1 107.8 L384.9 107.9 L385.8 107.9 L386.6 108 L387.5 108.1 L388.4 108.2 L389.2 108.3 L390.1 108.3 L391 108.4 L391.8 108.5 L392.7 108.5 L393.5 108.6 L394.4 108.6 L395.3 108.7 L396.1 108.7 L397 108.9 L397.9 109 L398.7 109 L399.6 109 L400.4 109.1 L401.3 109.2 L402.2 109.1" fill="none" stroke="#c8d028" stroke-width="0.6"/>
<path d="M258.3 118.9 L259.2 118.9 L260 118.9 L260.9 118.9 L261.8 118.9 L262.7 118.9 L263.6 118.9 L264.5 118.9 L265.3 118.9 L266.2 118.9 L267.1 118.9 L268 118.9 L268.9 118.9 L269.8 118.9 L270.6 118.8 L271.5 118.8 L272.4 118.7 L273.3 118.5 L274.2 118 L275.1 116.9 L275.9 114.7 L276.8 110.7 L277.7 106 L278.6 99.5 L279.5 93.8 L280.4 90 L281.2 88.6 L282.1 91 L283 93.7 L283.9 98 L284.8 102.5 L285.7 107.1 L286.5 111 L287.4 114 L288.3 115.9 L289.2 117.3 L290.1 118 L291 118.5 L291.8 118.7 L292.7 118.8 L293.6 118.8 L294.5 118.8 L295.4 118.8 L296.3 118.8 L297.1 118.8 L298 118.8 L298.9 118.7 L299.8 118.7 L300.7 118.6 L301.6 118.6 L302.4 118.4 L303.3 118.1 L304.2 117.5 L305.1 116.1 L306 113.6 L306.9 109.2 L307.7 102.9 L308.6 94.3 L309.5 84.5 L310.4 74.5 L311.3 65.7 L312.2 60.9 L313 61.4 L313.9 63.5 L314.8 67.4 L315.7 72.6 L316.6 79.1 L317.5 85.2 L318.3 92.1 L319.2 97.5 L320.1 102.3 L321 106.1 L321.9 108.9 L322.8 110.8 L323.6 112.2 L324.5 113.2 L325.4 113.3 L326.3 113.4 L327.2 112.9 L328.1 112 L328.9 111 L329.8 109.5 L330.7 107.2 L331.6 104.7 L332.5 102.3 L333.4 100.4 L334.2 98.7 L335.1 98.2 L336 98 L336.9 98.7 L337.8 100.7 L338.7 103.3 L339.5 106.1 L340.4 108.5 L341.3 110.4 L342.2 112.4 L343.1 113.6 L344 114.7 L344.8 115.1 L345.7 115.4 L346.6 115.7 L347.5 115.6 L348.4 115.4 L349.3 115.1 L350.1 114.4 L351 113.6 L351.9 112.3 L352.8 110.9 L353.7 109.1 L354.6 107.9 L355.4 106.5 L356.3 106.1 L357.2 106.3 L358.1 106.6 L359 108.5 L359.9 109.4 L360.7 111.2 L361.6 112.8 L362.5 113.9 L363.4 114.5 L364.3 115.4 L365.2 115.6 L366 115.8 L366.9 116 L367.8 115.9 L368.7 116.1 L369.6 116.2 L370.5 116.2 L371.3 116.2 L372.2 116.2 L373.1 116.4 L374 116.4 L374.9 116.4 L375.8 116.5 L376.6 116.4 L377.5 116.5 L378.4 116.6 L379.3 116.8 L380.2 116.8 L381.1 116.8 L381.9 116.8 L382.8 116.9 L383.7 117.2 L384.6 117.2 L385.5 117.1 L386.4 117.3 L387.2 117.4 L388.1 117.4 L389 117.5 L389.9 117.6 L390.8 117.6 L391.7 117.6 L392.5 117.8 L393.4 117.9 L394.3 117.9 L395.2 118 L396.1 118 L397 118.1 L397.8 118.1 L398.7 118.2 L398.7 118.9 L258.3 118.9Z" fill="#026cd4" stroke="none" stroke-width="1" fill-opacity="0.8"/>
<path d="M258.3 118.9 L259.2 118.9 L260 118.9 L260.9 118.9 L261.8 118.9 L262.7 118.9 L263.6 118.9 L264.5 118.9 L265.3 118.9 L266.2 118.9 L267.1 118.9 L268 118.9 L268.9 118.9 L269.8 118.9 L270.6 118.8 L271.5 118.8 L272.4 118.7 L273.3 118.5 L274.2 118 L275.1 116.9 L275.9 114.7 L276.8 110.7 L277.7 106 L278.6 99.5 L279.5 93.8 L280.4 90 L281.2 88.6 L282.1 91 L283 93.7 L283.9 98 L284.8 102.5 L285.7 107.1 L286.5 111 L287.4 114 L288.3 115.9 L289.2 117.3 L290.1 118 L291 118.5 L291.8 118.7 L292.7 118.8 L293.6 118.8 L294.5 118.8 L295.4 118.8 L296.3 118.8 L297.1 118.8 L298 118.8 L298.9 118.7 L299.8 118.7 L300.7 118.6 L301.6 118.6 L302.4 118.4 L303.3 118.1 L304.2 117.5 L305.1 116.1 L306 113.6 L306.9 109.2 L307.7 102.9 L308.6 94.3 L309.5 84.5 L310.4 74.5 L311.3 65.7 L312.2 60.9 L313 61.4 L313.9 63.5 L314.8 67.4 L315.7 72.6 L316.6 79.1 L317.5 85.2 L318.3 92.1 L319.2 97.5 L320.1 102.3 L321 106.1 L321.9 108.9 L322.8 110.8 L323.6 112.2 L324.5 113.2 L325.4 113.3 L326.3 113.4 L327.2 112.9 L328.1 112 L328.9 111 L329.8 109.5 L330.7 107.2 L331.6 104.7 L332.5 102.3 L333.4 100.4 L334.2 98.7 L335.1 98.2 L336 98 L336.9 98.7 L337.8 100.7 L338.7 103.3 L339.5 106.1 L340.4 108.5 L341.3 110.4 L342.2 112.4 L343.1 113.6 L344 114.7 L344.8 115.1 L345.7 115.4 L346.6 115.7 L347.5 115.6 L348.4 115.4 L349.3 115.1 L350.1 114.4 L351 113.6 L351.9 112.3 L352.8 110.9 L353.7 109.1 L354.6 107.9 L355.4 106.5 L356.3 106.1 L357.2 106.3 L358.1 106.6 L359 108.5 L359.9 109.4 L360.7 111.2 L361.6 112.8 L362.5 113.9 L363.4 114.5 L364.3 115.4 L365.2 115.6 L366 115.8 L366.9 116 L367.8 115.9 L368.7 116.1 L369.6 116.2 L370.5 116.2 L371.3 116.2 L372.2 116.2 L373.1 116.4 L374 116.4 L374.9 116.4 L375.8 116.5 L376.6 116.4 L377.5 116.5 L378.4 116.6 L379.3 116.8 L380.2 116.8 L381.1 116.8 L381.9 116.8 L382.8 116.9 L383.7 117.2 L384.6 117.2 L385.5 117.1 L386.4 117.3 L387.2 117.4 L388.1 117.4 L389 117.5 L389.9 117.6 L390.8 117.6 L391.7 117.6 L392.5 117.8 L393.4 117.9 L394.3 117.9 L395.2 118 L396.1 118 L397 118.1 L397.8 118.1 L398.7 118.2" fill="none" stroke="#2a70d0" stroke-width="0.6"/>
<path d="M251.1 128.4 L252 128.4 L252.9 128.4 L253.8 128.4 L254.7 128.4 L255.6 128.4 L256.5 128.4 L257.5 128.4 L258.4 128.4 L259.3 128.4 L260.2 128.4 L261.1 128.4 L262 128.4 L262.9 128.4 L263.8 128.4 L264.7 128.4 L265.6 128.3 L266.5 128 L267.4 127.5 L268.3 126.1 L269.2 123.9 L270.1 120.1 L271 114.5 L271.9 108.2 L272.8 102.2 L273.8 98.1 L274.7 97.6 L275.6 98.9 L276.5 102.2 L277.4 106.7 L278.3 111.5 L279.2 116.1 L280.1 120.3 L281 123.3 L281.9 125.4 L282.8 126.8 L283.7 127.5 L284.6 128 L285.5 128.2 L286.4 128.3 L287.3 128.3 L288.2 128.4 L289.2 128.3 L290.1 128.3 L291 128.3 L291.9 128.3 L292.8 128.3 L293.7 128.3 L294.6 128.2 L295.5 128.1 L296.4 127.9 L297.3 127.6 L298.2 126.9 L299.1 125.5 L300 122.9 L300.9 118.6 L301.8 112.1 L302.7 102.8 L303.6 92 L304.5 82.1 L305.5 73.6 L306.4 68.6 L307.3 68.4 L308.2 70.3 L309.1 74.8 L310 80 L310.9 86.8 L311.8 93.9 L312.7 100.2 L313.6 106.2 L314.5 111 L315.4 114.9 L316.3 117.9 L317.2 120.3 L318.1 121.7 L319 122.4 L319.9 122.7 L320.8 122.8 L321.8 122.2 L322.7 121.6 L323.6 120.2 L324.5 118.5 L325.4 116.6 L326.3 113.9 L327.2 111.4 L328.1 109.1 L329 107.2 L329.9 106.5 L330.8 106.8 L331.7 107.6 L332.6 109.9 L333.5 112.1 L334.4 114.9 L335.3 117.7 L336.2 119.8 L337.1 121.5 L338.1 122.9 L339 124 L339.9 124.6 L340.8 124.9 L341.7 125 L342.6 125 L343.5 125 L344.4 124.5 L345.3 123.7 L346.2 122.8 L347.1 121.5 L348 120 L348.9 118.1 L349.8 116.6 L350.7 115.4 L351.6 115 L352.5 115 L353.4 116 L354.4 117.2 L355.3 118.9 L356.2 120.6 L357.1 122 L358 123.3 L358.9 124.2 L359.8 124.6 L360.7 125 L361.6 125.4 L362.5 125.4 L363.4 125.4 L364.3 125.5 L365.2 125.8 L366.1 125.6 L367 125.5 L367.9 125.6 L368.8 125.7 L369.8 125.8 L370.7 125.7 L371.6 125.9 L372.5 125.9 L373.4 126 L374.3 126.1 L375.2 126.1 L376.1 126.2 L377 126.2 L377.9 126.4 L378.8 126.4 L379.7 126.6 L380.6 126.6 L381.5 126.7 L382.4 126.9 L383.3 126.8 L384.2 126.9 L385.1 127.1 L386.1 127.1 L387 127.2 L387.9 127.3 L388.8 127.3 L389.7 127.3 L390.6 127.5 L391.5 127.5 L392.4 127.5 L393.3 127.6 L394.2 127.7 L395.1 127.8 L395.1 128.4 L251.1 128.4Z" fill="#ff6156" stroke="none" stroke-width="1" fill-opacity="0.7"/>
<path d="M251.1 128.4 L252 128.4 L252.9 128.4 L253.8 128.4 L254.7 128.4 L255.6 128.4 L256.5 128.4 L257.5 128.4 L258.4 128.4 L259.3 128.4 L260.2 128.4 L261.1 128.4 L262 128.4 L262.9 128.4 L263.8 128.4 L264.7 128.4 L265.6 128.3 L266.5 128 L267.4 127.5 L268.3 126.1 L269.2 123.9 L270.1 120.1 L271 114.5 L271.9 108.2 L272.8 102.2 L273.8 98.1 L274.7 97.6 L275.6 98.9 L276.5 102.2 L277.4 106.7 L278.3 111.5 L279.2 116.1 L280.1 120.3 L281 123.3 L281.9 125.4 L282.8 126.8 L283.7 127.5 L284.6 128 L285.5 128.2 L286.4 128.3 L287.3 128.3 L288.2 128.4 L289.2 128.3 L290.1 128.3 L291 128.3 L291.9 128.3 L292.8 128.3 L293.7 128.3 L294.6 128.2 L295.5 128.1 L296.4 127.9 L297.3 127.6 L298.2 126.9 L299.1 125.5 L300 122.9 L300.9 118.6 L301.8 112.1 L302.7 102.8 L303.6 92 L304.5 82.1 L305.5 73.6 L306.4 68.6 L307.3 68.4 L308.2 70.3 L309.1 74.8 L310 80 L310.9 86.8 L311.8 93.9 L312.7 100.2 L313.6 106.2 L314.5 111 L315.4 114.9 L316.3 117.9 L317.2 120.3 L318.1 121.7 L319 122.4 L319.9 122.7 L320.8 122.8 L321.8 122.2 L322.7 121.6 L323.6 120.2 L324.5 118.5 L325.4 116.6 L326.3 113.9 L327.2 111.4 L328.1 109.1 L329 107.2 L329.9 106.5 L330.8 106.8 L331.7 107.6 L332.6 109.9 L333.5 112.1 L334.4 114.9 L335.3 117.7 L336.2 119.8 L337.1 121.5 L338.1 122.9 L339 124 L339.9 124.6 L340.8 124.9 L341.7 125 L342.6 125 L343.5 125 L344.4 124.5 L345.3 123.7 L346.2 122.8 L347.1 121.5 L348 120 L348.9 118.1 L349.8 116.6 L350.7 115.4 L351.6 115 L352.5 115 L353.4 116 L354.4 117.2 L355.3 118.9 L356.2 120.6 L357.1 122 L358 123.3 L358.9 124.2 L359.8 124.6 L360.7 125 L361.6 125.4 L362.5 125.4 L363.4 125.4 L364.3 125.5 L365.2 125.8 L366.1 125.6 L367 125.5 L367.9 125.6 L368.8 125.7 L369.8 125.8 L370.7 125.7 L371.6 125.9 L372.5 125.9 L373.4 126 L374.3 126.1 L375.2 126.1 L376.1 126.2 L377 126.2 L377.9 126.4 L378.8 126.4 L379.7 126.6 L380.6 126.6 L381.5 126.7 L382.4 126.9 L383.3 126.8 L384.2 126.9 L385.1 127.1 L386.1 127.1 L387 127.2 L387.9 127.3 L388.8 127.3 L389.7 127.3 L390.6 127.5 L391.5 127.5 L392.4 127.5 L393.3 127.6 L394.2 127.7 L395.1 127.8" fill="none" stroke="#e83838" stroke-width="0.6"/>
<path d="M243.6 138.5 L244.5 138.5 L245.4 138.5 L246.4 138.5 L247.3 138.5 L248.2 138.5 L249.2 138.5 L250.1 138.5 L251 138.5 L251.9 138.5 L252.9 138.5 L253.8 138.5 L254.7 138.5 L255.7 138.5 L256.6 138.5 L257.5 138.5 L258.5 138.4 L259.4 138.1 L260.3 137.6 L261.2 136.1 L262.2 133.8 L263.1 129.7 L264 123.9 L265 117.2 L265.9 110.6 L266.8 105.9 L267.7 105.2 L268.7 106.9 L269.6 110.5 L270.5 115.4 L271.5 120.6 L272.4 125.6 L273.3 129.8 L274.2 133 L275.2 135.2 L276.1 136.7 L277 137.5 L278 138.1 L278.9 138.3 L279.8 138.4 L280.7 138.4 L281.7 138.5 L282.6 138.4 L283.5 138.4 L284.5 138.4 L285.4 138.4 L286.3 138.4 L287.3 138.3 L288.2 138.3 L289.1 138.2 L290 138 L291 137.6 L291.9 137 L292.8 135.5 L293.8 132.5 L294.7 128 L295.6 121 L296.5 111.2 L297.5 99.6 L298.4 88.6 L299.3 78.6 L300.3 74.5 L301.2 74.1 L302.1 76.6 L303 81.3 L304 87 L304.9 94.2 L305.8 101 L306.8 108.6 L307.7 114.4 L308.6 119.7 L309.5 124.3 L310.5 127.3 L311.4 129.4 L312.3 131.1 L313.3 132.1 L314.2 132.4 L315.1 132.2 L316.1 131.9 L317 131.2 L317.9 129.6 L318.8 128 L319.8 125.7 L320.7 122.8 L321.6 120.1 L322.6 117.9 L323.5 115.9 L324.4 114.9 L325.3 115.4 L326.3 116.2 L327.2 118.4 L328.1 121.2 L329.1 124.2 L330 126.6 L330.9 129.5 L331.8 131.1 L332.8 132.7 L333.7 133.6 L334.6 134.4 L335.6 134.7 L336.5 134.8 L337.4 135.1 L338.4 134.8 L339.3 134.2 L340.2 133.6 L341.1 132.7 L342.1 131.2 L343 129.5 L343.9 127.5 L344.9 125.9 L345.8 124.9 L346.7 123.8 L347.6 124.1 L348.6 125 L349.5 126.6 L350.4 128.2 L351.4 130.1 L352.3 131.7 L353.2 133 L354.1 133.8 L355.1 134.5 L356 134.8 L356.9 135.1 L357.9 135.4 L358.8 135.3 L359.7 135.4 L360.6 135.4 L361.6 135.4 L362.5 135.6 L363.4 135.5 L364.4 135.6 L365.3 135.7 L366.2 135.8 L367.2 135.7 L368.1 135.9 L369 135.9 L369.9 136 L370.9 136.1 L371.8 136.3 L372.7 136.2 L373.7 136.3 L374.6 136.4 L375.5 136.5 L376.4 136.6 L377.4 136.7 L378.3 136.8 L379.2 136.9 L380.2 137 L381.1 137.1 L382 137.1 L382.9 137.2 L383.9 137.2 L384.8 137.4 L385.7 137.4 L386.7 137.5 L387.6 137.6 L388.5 137.6 L389.4 137.7 L390.4 137.7 L391.3 137.8 L391.3 138.5 L243.6 138.5Z" fill="#5a565a" stroke="none" stroke-width="1" fill-opacity="0.62"/>
<path d="M243.6 138.5 L244.5 138.5 L245.4 138.5 L246.4 138.5 L247.3 138.5 L248.2 138.5 L249.2 138.5 L250.1 138.5 L251 138.5 L251.9 138.5 L252.9 138.5 L253.8 138.5 L254.7 138.5 L255.7 138.5 L256.6 138.5 L257.5 138.5 L258.5 138.4 L259.4 138.1 L260.3 137.6 L261.2 136.1 L262.2 133.8 L263.1 129.7 L264 123.9 L265 117.2 L265.9 110.6 L266.8 105.9 L267.7 105.2 L268.7 106.9 L269.6 110.5 L270.5 115.4 L271.5 120.6 L272.4 125.6 L273.3 129.8 L274.2 133 L275.2 135.2 L276.1 136.7 L277 137.5 L278 138.1 L278.9 138.3 L279.8 138.4 L280.7 138.4 L281.7 138.5 L282.6 138.4 L283.5 138.4 L284.5 138.4 L285.4 138.4 L286.3 138.4 L287.3 138.3 L288.2 138.3 L289.1 138.2 L290 138 L291 137.6 L291.9 137 L292.8 135.5 L293.8 132.5 L294.7 128 L295.6 121 L296.5 111.2 L297.5 99.6 L298.4 88.6 L299.3 78.6 L300.3 74.5 L301.2 74.1 L302.1 76.6 L303 81.3 L304 87 L304.9 94.2 L305.8 101 L306.8 108.6 L307.7 114.4 L308.6 119.7 L309.5 124.3 L310.5 127.3 L311.4 129.4 L312.3 131.1 L313.3 132.1 L314.2 132.4 L315.1 132.2 L316.1 131.9 L317 131.2 L317.9 129.6 L318.8 128 L319.8 125.7 L320.7 122.8 L321.6 120.1 L322.6 117.9 L323.5 115.9 L324.4 114.9 L325.3 115.4 L326.3 116.2 L327.2 118.4 L328.1 121.2 L329.1 124.2 L330 126.6 L330.9 129.5 L331.8 131.1 L332.8 132.7 L333.7 133.6 L334.6 134.4 L335.6 134.7 L336.5 134.8 L337.4 135.1 L338.4 134.8 L339.3 134.2 L340.2 133.6 L341.1 132.7 L342.1 131.2 L343 129.5 L343.9 127.5 L344.9 125.9 L345.8 124.9 L346.7 123.8 L347.6 124.1 L348.6 125 L349.5 126.6 L350.4 128.2 L351.4 130.1 L352.3 131.7 L353.2 133 L354.1 133.8 L355.1 134.5 L356 134.8 L356.9 135.1 L357.9 135.4 L358.8 135.3 L359.7 135.4 L360.6 135.4 L361.6 135.4 L362.5 135.6 L363.4 135.5 L364.4 135.6 L365.3 135.7 L366.2 135.8 L367.2 135.7 L368.1 135.9 L369 135.9 L369.9 136 L370.9 136.1 L371.8 136.3 L372.7 136.2 L373.7 136.3 L374.6 136.4 L375.5 136.5 L376.4 136.6 L377.4 136.7 L378.3 136.8 L379.2 136.9 L380.2 137 L381.1 137.1 L382 137.1 L382.9 137.2 L383.9 137.2 L384.8 137.4 L385.7 137.4 L386.7 137.5 L387.6 137.6 L388.5 137.6 L389.4 137.7 L390.4 137.7 L391.3 137.8" fill="none" stroke="#e03030" stroke-width="0.6"/>
<line x1="241" y1="142" x2="390" y2="142" stroke="#000" stroke-width="1.5"/>
<line x1="241" y1="142" x2="241" y2="57" stroke="#000" stroke-width="1.2"/>
<line x1="390" y1="142" x2="415" y2="76.5" stroke="#000" stroke-width="1.2"/>
<line x1="238.4" y1="129.6" x2="241" y2="129.6" stroke="#000" stroke-width="0.8"/>
<line x1="238.4" y1="115.1" x2="241" y2="115.1" stroke="#000" stroke-width="0.8"/>
<line x1="238.4" y1="100.4" x2="241" y2="100.4" stroke="#000" stroke-width="0.8"/>
<line x1="238.4" y1="86" x2="241" y2="86" stroke="#000" stroke-width="0.8"/>
<line x1="238.4" y1="72" x2="241" y2="72" stroke="#000" stroke-width="0.8"/>
<line x1="239.5" y1="136.7" x2="241" y2="136.7" stroke="#000" stroke-width="0.8"/>
<line x1="239.5" y1="122.7" x2="241" y2="122.7" stroke="#000" stroke-width="0.8"/>
<line x1="239.5" y1="108" x2="241" y2="108" stroke="#000" stroke-width="0.8"/>
<line x1="239.5" y1="93.3" x2="241" y2="93.3" stroke="#000" stroke-width="0.8"/>
<line x1="239.5" y1="78.9" x2="241" y2="78.9" stroke="#000" stroke-width="0.8"/>
<line x1="239.5" y1="64.8" x2="241" y2="64.8" stroke="#000" stroke-width="0.8"/>
<line x1="239.5" y1="58.3" x2="241" y2="58.3" stroke="#000" stroke-width="0.8"/>
<line x1="241" y1="142" x2="241" y2="144.6" stroke="#000" stroke-width="0.9"/>
<line x1="255.9" y1="142" x2="255.9" y2="143.6" stroke="#000" stroke-width="0.9"/>
<line x1="270.8" y1="142" x2="270.8" y2="144.6" stroke="#000" stroke-width="0.9"/>
<line x1="285.7" y1="142" x2="285.7" y2="143.6" stroke="#000" stroke-width="0.9"/>
<line x1="300.6" y1="142" x2="300.6" y2="144.6" stroke="#000" stroke-width="0.9"/>
<line x1="315.5" y1="142" x2="315.5" y2="143.6" stroke="#000" stroke-width="0.9"/>
<line x1="330.4" y1="142" x2="330.4" y2="144.6" stroke="#000" stroke-width="0.9"/>
<line x1="345.3" y1="142" x2="345.3" y2="143.6" stroke="#000" stroke-width="0.9"/>
<line x1="360.2" y1="142" x2="360.2" y2="144.6" stroke="#000" stroke-width="0.9"/>
<line x1="375.1" y1="142" x2="375.1" y2="143.6" stroke="#000" stroke-width="0.9"/>
<line x1="390" y1="142" x2="390" y2="144.6" stroke="#000" stroke-width="0.9"/>
<text x="241" y="153.2" font-size="8.4" text-anchor="middle" font-weight="bold" fill="#000" font-family="'Liberation Sans', Arial, sans-serif" dominant-baseline="central">450</text>
<text x="270.8" y="153.2" font-size="8.4" text-anchor="middle" font-weight="bold" fill="#000" font-family="'Liberation Sans', Arial, sans-serif" dominant-baseline="central">500</text>
<text x="300.6" y="153.2" font-size="8.4" text-anchor="middle" font-weight="bold" fill="#000" font-family="'Liberation Sans', Arial, sans-serif" dominant-baseline="central">550</text>
<text x="330.4" y="153.2" font-size="8.4" text-anchor="middle" font-weight="bold" fill="#000" font-family="'Liberation Sans', Arial, sans-serif" dominant-baseline="central">600</text>
<text x="360.2" y="153.2" font-size="8.4" text-anchor="middle" font-weight="bold" fill="#000" font-family="'Liberation Sans', Arial, sans-serif" dominant-baseline="central">650</text>
<text x="390" y="153.2" font-size="8.4" text-anchor="middle" font-weight="bold" fill="#000" font-family="'Liberation Sans', Arial, sans-serif" dominant-baseline="central">700</text>
<text x="315.5" y="163.5" font-size="8.5" text-anchor="middle" font-weight="bold" fill="#000" font-family="'Liberation Sans', Arial, sans-serif" dominant-baseline="central">Wavelength (nm)</text>
<text x="231.5" y="100" font-size="9.9" text-anchor="middle" font-weight="bold" fill="#000" font-family="'Liberation Sans', Arial, sans-serif" dominant-baseline="central" transform="rotate(-90 231.5 100)">ML Intensity (a.u.)</text>
<line x1="391.3" y1="138.5" x2="393.5" y2="138.5" stroke="#000" stroke-width="0.8"/>
<text x="395.6" y="139" font-size="8.3" text-anchor="start" font-weight="bold" fill="#000" font-family="'Liberation Sans', Arial, sans-serif" dominant-baseline="central">300</text>
<line x1="395.1" y1="128.4" x2="397.3" y2="128.4" stroke="#000" stroke-width="0.8"/>
<text x="399.4" y="128.9" font-size="8.1" text-anchor="start" font-weight="bold" fill="#000" font-family="'Liberation Sans', Arial, sans-serif" dominant-baseline="central">325</text>
<line x1="398.7" y1="118.9" x2="400.9" y2="118.9" stroke="#000" stroke-width="0.8"/>
<text x="403" y="119.4" font-size="7.9" text-anchor="start" font-weight="bold" fill="#000" font-family="'Liberation Sans', Arial, sans-serif" dominant-baseline="central">350</text>
<line x1="402.2" y1="109.8" x2="404.4" y2="109.8" stroke="#000" stroke-width="0.8"/>
<text x="406.5" y="110.3" font-size="7.7" text-anchor="start" font-weight="bold" fill="#000" font-family="'Liberation Sans', Arial, sans-serif" dominant-baseline="central">375</text>
<line x1="405.4" y1="101.2" x2="407.6" y2="101.2" stroke="#000" stroke-width="0.8"/>
<text x="409.7" y="101.7" font-size="7.5" text-anchor="start" font-weight="bold" fill="#000" font-family="'Liberation Sans', Arial, sans-serif" dominant-baseline="central">400</text>
<line x1="408.6" y1="93.1" x2="410.8" y2="93.1" stroke="#000" stroke-width="0.8"/>
<text x="412.9" y="93.6" font-size="7.4" text-anchor="start" font-weight="bold" fill="#000" font-family="'Liberation Sans', Arial, sans-serif" dominant-baseline="central">425</text>
<line x1="411.6" y1="85.4" x2="413.8" y2="85.4" stroke="#000" stroke-width="0.8"/>
<text x="415.9" y="85.9" font-size="7.2" text-anchor="start" font-weight="bold" fill="#000" font-family="'Liberation Sans', Arial, sans-serif" dominant-baseline="central">450</text>
<line x1="414.4" y1="78" x2="416.6" y2="78" stroke="#000" stroke-width="0.8"/>
<text x="418.7" y="78.5" font-size="7.1" text-anchor="start" font-weight="bold" fill="#000" font-family="'Liberation Sans', Arial, sans-serif" dominant-baseline="central">475</text>
<text x="425.3" y="106.5" font-size="5.9" text-anchor="middle" font-weight="bold" fill="#000" font-family="'Liberation Sans', Arial, sans-serif" dominant-baseline="central" transform="rotate(-72 425.3 106.5)">Temperature (K)</text>
<text x="296" y="14.4" font-size="5.7" text-anchor="start" font-weight="bold" fill="#000" font-family="'Liberation Sans', Arial, sans-serif" dominant-baseline="central">SAOCT/PDMS</text>
<text x="240.2" y="7.1" font-size="16.5" text-anchor="start" font-weight="bold" fill="#000" font-family="'Liberation Sans', Arial, sans-serif" dominant-baseline="central">b</text>
<line x1="454.5" y1="125" x2="504" y2="62.6" stroke="#b4b4b4" stroke-width="0.6"/>
<line x1="454.5" y1="102.6" x2="504" y2="44.2" stroke="#b4b4b4" stroke-width="0.6"/>
<line x1="454.5" y1="80.2" x2="504" y2="25.9" stroke="#b4b4b4" stroke-width="0.6"/>
<line x1="464.6" y1="128.4" x2="464.6" y2="46.6" stroke="#d4d4d4" stroke-width="0.5"/>
<line x1="471.8" y1="118.9" x2="471.8" y2="39.3" stroke="#d4d4d4" stroke-width="0.5"/>
<line x1="478.6" y1="109.8" x2="478.6" y2="32.4" stroke="#d4d4d4" stroke-width="0.5"/>
<line x1="485.1" y1="101.2" x2="485.1" y2="25.8" stroke="#d4d4d4" stroke-width="0.5"/>
<line x1="491.3" y1="93.1" x2="491.3" y2="19.6" stroke="#d4d4d4" stroke-width="0.5"/>
<line x1="497.2" y1="85.4" x2="497.2" y2="13.7" stroke="#d4d4d4" stroke-width="0.5"/>
<line x1="504" y1="62.6" x2="628.5" y2="62.6" stroke="#c8c8c8" stroke-width="0.5"/>
<line x1="504" y1="44.2" x2="628.5" y2="44.2" stroke="#c8c8c8" stroke-width="0.5"/>
<line x1="504" y1="25.9" x2="628.5" y2="25.9" stroke="#c8c8c8" stroke-width="0.5"/>
<line x1="524.8" y1="76.5" x2="524.8" y2="6.9" stroke="#c8c8c8" stroke-width="0.5"/>
<line x1="479.3" y1="142" x2="524.8" y2="76.5" stroke="#c8c8c8" stroke-width="0.5"/>
<line x1="545.5" y1="76.5" x2="545.5" y2="6.9" stroke="#c8c8c8" stroke-width="0.5"/>
<line x1="504.2" y1="142" x2="545.5" y2="76.5" stroke="#c8c8c8" stroke-width="0.5"/>
<line x1="566.3" y1="76.5" x2="566.3" y2="6.9" stroke="#c8c8c8" stroke-width="0.5"/>
<line x1="529" y1="142" x2="566.3" y2="76.5" stroke="#c8c8c8" stroke-width="0.5"/>
<line x1="587" y1="76.5" x2="587" y2="6.9" stroke="#c8c8c8" stroke-width="0.5"/>
<line x1="553.8" y1="142" x2="587" y2="76.5" stroke="#c8c8c8" stroke-width="0.5"/>
<line x1="607.8" y1="76.5" x2="607.8" y2="6.9" stroke="#c8c8c8" stroke-width="0.5"/>
<line x1="578.7" y1="142" x2="607.8" y2="76.5" stroke="#c8c8c8" stroke-width="0.5"/>
<path d="M454.5 57 L504 6.9 L628.5 6.9 L628.5 76.5" fill="none" stroke="#8c8c8c" stroke-width="0.8"/>
<path d="M504 6.9 L504 76.5" fill="none" stroke="#8c8c8c" stroke-width="0.8"/>
<path d="M504 76.5 L628.5 76.5" fill="none" stroke="#b0b0b0" stroke-width="0.6"/>
<path d="M454.5 142 L504 76.5" fill="none" stroke="#8c8c8c" stroke-width="0.7"/>
<path d="M502.9 78 L503.6 78 L504.4 78 L505.2 78 L506 78 L506.8 77.9 L507.6 77.9 L508.4 77.9 L509.1 77.8 L509.9 77.7 L510.7 77.6 L511.5 77.5 L512.3 77.4 L513.1 77.1 L513.9 77 L514.7 76.6 L515.4 76.3 L516.2 75.8 L517 75.3 L517.8 75 L518.6 74.3 L519.4 73.7 L520.2 72.8 L520.9 71.9 L521.7 71.1 L522.5 69.9 L523.3 68.9 L524.1 68 L524.9 66.8 L525.7 65.7 L526.5 64.3 L527.2 62.9 L528 61.7 L528.8 60.3 L529.6 59.1 L530.4 58.2 L531.2 56.4 L532 55.4 L532.7 54.3 L533.5 53.2 L534.3 51.7 L535.1 50.8 L535.9 49.9 L536.7 48.4 L537.5 48 L538.3 47.4 L539 46.2 L539.8 45.9 L540.6 45.7 L541.4 45.4 L542.2 44.8 L543 44.4 L543.8 44.3 L544.5 43.9 L545.3 43.6 L546.1 43.7 L546.9 43.4 L547.7 43.6 L548.5 43.9 L549.3 43.7 L550 43.4 L550.8 43.6 L551.6 44 L552.4 43.8 L553.2 43.9 L554 43.6 L554.8 44.4 L555.6 44.2 L556.3 44.8 L557.1 45 L557.9 45.3 L558.7 46.1 L559.5 46.6 L560.3 46.9 L561.1 47.4 L561.8 48 L562.6 48.5 L563.4 49.1 L564.2 49.5 L565 50.6 L565.8 51 L566.6 52.1 L567.4 52.7 L568.1 53.5 L568.9 54.4 L569.7 55.1 L570.5 55.8 L571.3 56.7 L572.1 57.2 L572.9 58.1 L573.6 59 L574.4 59.3 L575.2 60.8 L576 61.2 L576.8 61.8 L577.6 62.9 L578.4 63.2 L579.2 64.4 L579.9 64.9 L580.7 65.7 L581.5 66.1 L582.3 66.9 L583.1 67.6 L583.9 68.3 L584.7 68.4 L585.4 69.2 L586.2 69.7 L587 70.3 L587.8 70.7 L588.6 71.1 L589.4 71.6 L590.2 72.1 L591 72.5 L591.7 72.9 L592.5 73.3 L593.3 73.4 L594.1 73.9 L594.9 74 L595.7 74.6 L596.5 74.6 L597.2 74.9 L598 75.1 L598.8 75.4 L599.6 75.6 L600.4 75.7 L601.2 75.9 L602 76.1 L602.7 76.3 L603.5 76.4 L604.3 76.6 L605.1 76.6 L605.9 76.8 L606.7 76.9 L607.5 77 L608.3 77 L609 77.1 L609.8 77.2 L610.6 77.3 L611.4 77.3 L612.2 77.4 L613 77.5 L613.8 77.5 L614.5 77.6 L615.3 77.6 L616.1 77.6 L616.9 77.6 L617.7 77.7 L618.5 77.8 L619.3 77.7 L620.1 77.8 L620.8 77.8 L621.6 77.8 L622.4 77.8 L623.2 77.9 L624 77.9 L624.8 77.9 L625.6 77.9 L626.3 77.9 L627.1 77.9 L627.9 77.9 L627.9 78 L502.9 78Z" fill="#9b6969" stroke="none" stroke-width="1" fill-opacity="0.7"/>
<path d="M502.9 78 L503.6 78 L504.4 78 L505.2 78 L506 78 L506.8 77.9 L507.6 77.9 L508.4 77.9 L509.1 77.8 L509.9 77.7 L510.7 77.6 L511.5 77.5 L512.3 77.4 L513.1 77.1 L513.9 77 L514.7 76.6 L515.4 76.3 L516.2 75.8 L517 75.3 L517.8 75 L518.6 74.3 L519.4 73.7 L520.2 72.8 L520.9 71.9 L521.7 71.1 L522.5 69.9 L523.3 68.9 L524.1 68 L524.9 66.8 L525.7 65.7 L526.5 64.3 L527.2 62.9 L528 61.7 L528.8 60.3 L529.6 59.1 L530.4 58.2 L531.2 56.4 L532 55.4 L532.7 54.3 L533.5 53.2 L534.3 51.7 L535.1 50.8 L535.9 49.9 L536.7 48.4 L537.5 48 L538.3 47.4 L539 46.2 L539.8 45.9 L540.6 45.7 L541.4 45.4 L542.2 44.8 L543 44.4 L543.8 44.3 L544.5 43.9 L545.3 43.6 L546.1 43.7 L546.9 43.4 L547.7 43.6 L548.5 43.9 L549.3 43.7 L550 43.4 L550.8 43.6 L551.6 44 L552.4 43.8 L553.2 43.9 L554 43.6 L554.8 44.4 L555.6 44.2 L556.3 44.8 L557.1 45 L557.9 45.3 L558.7 46.1 L559.5 46.6 L560.3 46.9 L561.1 47.4 L561.8 48 L562.6 48.5 L563.4 49.1 L564.2 49.5 L565 50.6 L565.8 51 L566.6 52.1 L567.4 52.7 L568.1 53.5 L568.9 54.4 L569.7 55.1 L570.5 55.8 L571.3 56.7 L572.1 57.2 L572.9 58.1 L573.6 59 L574.4 59.3 L575.2 60.8 L576 61.2 L576.8 61.8 L577.6 62.9 L578.4 63.2 L579.2 64.4 L579.9 64.9 L580.7 65.7 L581.5 66.1 L582.3 66.9 L583.1 67.6 L583.9 68.3 L584.7 68.4 L585.4 69.2 L586.2 69.7 L587 70.3 L587.8 70.7 L588.6 71.1 L589.4 71.6 L590.2 72.1 L591 72.5 L591.7 72.9 L592.5 73.3 L593.3 73.4 L594.1 73.9 L594.9 74 L595.7 74.6 L596.5 74.6 L597.2 74.9 L598 75.1 L598.8 75.4 L599.6 75.6 L600.4 75.7 L601.2 75.9 L602 76.1 L602.7 76.3 L603.5 76.4 L604.3 76.6 L605.1 76.6 L605.9 76.8 L606.7 76.9 L607.5 77 L608.3 77 L609 77.1 L609.8 77.2 L610.6 77.3 L611.4 77.3 L612.2 77.4 L613 77.5 L613.8 77.5 L614.5 77.6 L615.3 77.6 L616.1 77.6 L616.9 77.6 L617.7 77.7 L618.5 77.8 L619.3 77.7 L620.1 77.8 L620.8 77.8 L621.6 77.8 L622.4 77.8 L623.2 77.9 L624 77.9 L624.8 77.9 L625.6 77.9 L626.3 77.9 L627.1 77.9 L627.9 77.9" fill="none" stroke="#6a5ad0" stroke-width="0.6"/>
<path d="M497.2 85.4 L498 85.4 L498.8 85.4 L499.6 85.3 L500.4 85.3 L501.2 85.3 L502 85.3 L502.8 85.2 L503.6 85.2 L504.4 85.1 L505.2 85 L506 84.8 L506.8 84.6 L507.7 84.4 L508.5 84.1 L509.3 83.9 L510.1 83.6 L510.9 83 L511.7 82.5 L512.5 81.9 L513.3 81.3 L514.1 80.6 L514.9 79.9 L515.7 78.8 L516.5 77.9 L517.3 76.8 L518.1 75.9 L518.9 74.6 L519.7 73.5 L520.5 72.4 L521.3 70.9 L522.1 69.4 L522.9 67.9 L523.7 66.5 L524.5 65.4 L525.3 64 L526.1 62.6 L527 61.5 L527.8 60.5 L528.6 58.8 L529.4 57.7 L530.2 57.1 L531 55.7 L531.8 54.6 L532.6 53.8 L533.4 52.7 L534.2 52.1 L535 52.1 L535.8 50.6 L536.6 50.5 L537.4 50.4 L538.2 49.6 L539 48.8 L539.8 49.7 L540.6 48.9 L541.4 48.7 L542.2 48.7 L543 48.8 L543.8 49.2 L544.6 48.5 L545.4 48.9 L546.3 49.3 L547.1 48.6 L547.9 49.1 L548.7 49 L549.5 49.3 L550.3 49.5 L551.1 49.5 L551.9 49.8 L552.7 50.7 L553.5 51.2 L554.3 51.6 L555.1 51.9 L555.9 51.8 L556.7 53.2 L557.5 53.9 L558.3 53.9 L559.1 55 L559.9 55.7 L560.7 56 L561.5 56.9 L562.3 57.8 L563.1 58.5 L563.9 59 L564.7 59.9 L565.6 61 L566.4 61.8 L567.2 62.5 L568 63.3 L568.8 64.3 L569.6 65.3 L570.4 66.1 L571.2 67 L572 67.5 L572.8 68.7 L573.6 69.4 L574.4 70.1 L575.2 70.6 L576 71.6 L576.8 72.2 L577.6 72.7 L578.4 73.6 L579.2 74.4 L580 75 L580.8 75.3 L581.6 76 L582.4 76.7 L583.2 77 L584 77.5 L584.9 78.2 L585.7 78.6 L586.5 79.2 L587.3 79.5 L588.1 79.9 L588.9 80.3 L589.7 80.5 L590.5 81 L591.3 81.3 L592.1 81.7 L592.9 82 L593.7 82.2 L594.5 82.3 L595.3 82.6 L596.1 82.9 L596.9 83 L597.7 83.2 L598.5 83.4 L599.3 83.6 L600.1 83.7 L600.9 83.8 L601.7 84 L602.5 84.1 L603.3 84.3 L604.2 84.3 L605 84.4 L605.8 84.5 L606.6 84.5 L607.4 84.7 L608.2 84.7 L609 84.7 L609.8 84.8 L610.6 84.8 L611.4 84.9 L612.2 84.9 L613 85 L613.8 85 L614.6 85.1 L615.4 85.1 L616.2 85.1 L617 85.1 L617.8 85.1 L618.6 85.2 L619.4 85.2 L620.2 85.2 L621 85.2 L621.8 85.2 L622.6 85.3 L623.5 85.3 L624.3 85.3 L625.1 85.3 L625.1 85.4 L497.2 85.4Z" fill="#00aac4" stroke="none" stroke-width="1" fill-opacity="0.92"/>
<path d="M497.2 85.4 L498 85.4 L498.8 85.4 L499.6 85.3 L500.4 85.3 L501.2 85.3 L502 85.3 L502.8 85.2 L503.6 85.2 L504.4 85.1 L505.2 85 L506 84.8 L506.8 84.6 L507.7 84.4 L508.5 84.1 L509.3 83.9 L510.1 83.6 L510.9 83 L511.7 82.5 L512.5 81.9 L513.3 81.3 L514.1 80.6 L514.9 79.9 L515.7 78.8 L516.5 77.9 L517.3 76.8 L518.1 75.9 L518.9 74.6 L519.7 73.5 L520.5 72.4 L521.3 70.9 L522.1 69.4 L522.9 67.9 L523.7 66.5 L524.5 65.4 L525.3 64 L526.1 62.6 L527 61.5 L527.8 60.5 L528.6 58.8 L529.4 57.7 L530.2 57.1 L531 55.7 L531.8 54.6 L532.6 53.8 L533.4 52.7 L534.2 52.1 L535 52.1 L535.8 50.6 L536.6 50.5 L537.4 50.4 L538.2 49.6 L539 48.8 L539.8 49.7 L540.6 48.9 L541.4 48.7 L542.2 48.7 L543 48.8 L543.8 49.2 L544.6 48.5 L545.4 48.9 L546.3 49.3 L547.1 48.6 L547.9 49.1 L548.7 49 L549.5 49.3 L550.3 49.5 L551.1 49.5 L551.9 49.8 L552.7 50.7 L553.5 51.2 L554.3 51.6 L555.1 51.9 L555.9 51.8 L556.7 53.2 L557.5 53.9 L558.3 53.9 L559.1 55 L559.9 55.7 L560.7 56 L561.5 56.9 L562.3 57.8 L563.1 58.5 L563.9 59 L564.7 59.9 L565.6 61 L566.4 61.8 L567.2 62.5 L568 63.3 L568.8 64.3 L569.6 65.3 L570.4 66.1 L571.2 67 L572 67.5 L572.8 68.7 L573.6 69.4 L574.4 70.1 L575.2 70.6 L576 71.6 L576.8 72.2 L577.6 72.7 L578.4 73.6 L579.2 74.4 L580 75 L580.8 75.3 L581.6 76 L582.4 76.7 L583.2 77 L584 77.5 L584.9 78.2 L585.7 78.6 L586.5 79.2 L587.3 79.5 L588.1 79.9 L588.9 80.3 L589.7 80.5 L590.5 81 L591.3 81.3 L592.1 81.7 L592.9 82 L593.7 82.2 L594.5 82.3 L595.3 82.6 L596.1 82.9 L596.9 83 L597.7 83.2 L598.5 83.4 L599.3 83.6 L600.1 83.7 L600.9 83.8 L601.7 84 L602.5 84.1 L603.3 84.3 L604.2 84.3 L605 84.4 L605.8 84.5 L606.6 84.5 L607.4 84.7 L608.2 84.7 L609 84.7 L609.8 84.8 L610.6 84.8 L611.4 84.9 L612.2 84.9 L613 85 L613.8 85 L614.6 85.1 L615.4 85.1 L616.2 85.1 L617 85.1 L617.8 85.1 L618.6 85.2 L619.4 85.2 L620.2 85.2 L621 85.2 L621.8 85.2 L622.6 85.3 L623.5 85.3 L624.3 85.3 L625.1 85.3" fill="none" stroke="#2a86d0" stroke-width="0.6"/>
<path d="M491.3 93.1 L492.1 93.1 L492.9 93.1 L493.7 93.1 L494.6 93.1 L495.4 93 L496.2 93 L497 92.9 L497.9 92.9 L498.7 92.7 L499.5 92.7 L500.3 92.5 L501.1 92.3 L502 92.2 L502.8 91.9 L503.6 91.4 L504.4 91.3 L505.3 90.7 L506.1 90 L506.9 89.6 L507.7 88.8 L508.6 88.2 L509.4 87.2 L510.2 86.2 L511 85.4 L511.8 84.4 L512.7 82.8 L513.5 81.6 L514.3 80.4 L515.1 78.9 L516 77.7 L516.8 76 L517.6 74.3 L518.4 73.1 L519.2 71.9 L520.1 70.2 L520.9 69.1 L521.7 67.6 L522.5 66.1 L523.4 64.7 L524.2 63.7 L525 62.1 L525.8 61.3 L526.6 59.7 L527.5 59.5 L528.3 58.4 L529.1 57.4 L529.9 57.1 L530.8 56.6 L531.6 56.1 L532.4 55 L533.2 55 L534.1 54.9 L534.9 54.7 L535.7 54.8 L536.5 54.5 L537.3 53.6 L538.2 54 L539 54.1 L539.8 53.8 L540.6 54.2 L541.5 54.2 L542.3 54.5 L543.1 54 L543.9 54.3 L544.7 54.6 L545.6 54.7 L546.4 55.3 L547.2 55.6 L548 55.7 L548.9 56.3 L549.7 56.3 L550.5 57.4 L551.3 58.2 L552.2 58.3 L553 59.4 L553.8 60 L554.6 60.6 L555.4 61.1 L556.3 62.1 L557.1 63 L557.9 63.4 L558.7 64.3 L559.6 65.6 L560.4 66.6 L561.2 67.3 L562 68.3 L562.8 68.8 L563.7 69.7 L564.5 70.7 L565.3 71.2 L566.1 72.4 L567 73.3 L567.8 74.2 L568.6 75.4 L569.4 75.8 L570.2 76.8 L571.1 77.6 L571.9 78.2 L572.7 79 L573.5 79.6 L574.4 80.4 L575.2 81.3 L576 81.9 L576.8 82.7 L577.7 83.4 L578.5 83.7 L579.3 84.3 L580.1 84.8 L580.9 85.3 L581.8 85.9 L582.6 86.3 L583.4 86.8 L584.2 87.4 L585.1 87.7 L585.9 88 L586.7 88.4 L587.5 88.6 L588.3 89.1 L589.2 89.3 L590 89.5 L590.8 89.8 L591.6 90.2 L592.5 90.4 L593.3 90.7 L594.1 90.8 L594.9 90.9 L595.7 91.3 L596.6 91.3 L597.4 91.4 L598.2 91.7 L599 91.7 L599.9 91.9 L600.7 91.9 L601.5 92 L602.3 92.1 L603.2 92.3 L604 92.4 L604.8 92.4 L605.6 92.5 L606.4 92.5 L607.3 92.5 L608.1 92.6 L608.9 92.6 L609.7 92.7 L610.6 92.8 L611.4 92.8 L612.2 92.8 L613 92.8 L613.8 92.9 L614.7 92.9 L615.5 92.9 L616.3 92.9 L617.1 93 L618 93 L618.8 93 L619.6 93 L620.4 93 L621.2 93 L622.1 93 L622.1 93.1 L491.3 93.1Z" fill="#c89614" stroke="none" stroke-width="1" fill-opacity="0.8"/>
<path d="M491.3 93.1 L492.1 93.1 L492.9 93.1 L493.7 93.1 L494.6 93.1 L495.4 93 L496.2 93 L497 92.9 L497.9 92.9 L498.7 92.7 L499.5 92.7 L500.3 92.5 L501.1 92.3 L502 92.2 L502.8 91.9 L503.6 91.4 L504.4 91.3 L505.3 90.7 L506.1 90 L506.9 89.6 L507.7 88.8 L508.6 88.2 L509.4 87.2 L510.2 86.2 L511 85.4 L511.8 84.4 L512.7 82.8 L513.5 81.6 L514.3 80.4 L515.1 78.9 L516 77.7 L516.8 76 L517.6 74.3 L518.4 73.1 L519.2 71.9 L520.1 70.2 L520.9 69.1 L521.7 67.6 L522.5 66.1 L523.4 64.7 L524.2 63.7 L525 62.1 L525.8 61.3 L526.6 59.7 L527.5 59.5 L528.3 58.4 L529.1 57.4 L529.9 57.1 L530.8 56.6 L531.6 56.1 L532.4 55 L533.2 55 L534.1 54.9 L534.9 54.7 L535.7 54.8 L536.5 54.5 L537.3 53.6 L538.2 54 L539 54.1 L539.8 53.8 L540.6 54.2 L541.5 54.2 L542.3 54.5 L543.1 54 L543.9 54.3 L544.7 54.6 L545.6 54.7 L546.4 55.3 L547.2 55.6 L548 55.7 L548.9 56.3 L549.7 56.3 L550.5 57.4 L551.3 58.2 L552.2 58.3 L553 59.4 L553.8 60 L554.6 60.6 L555.4 61.1 L556.3 62.1 L557.1 63 L557.9 63.4 L558.7 64.3 L559.6 65.6 L560.4 66.6 L561.2 67.3 L562 68.3 L562.8 68.8 L563.7 69.7 L564.5 70.7 L565.3 71.2 L566.1 72.4 L567 73.3 L567.8 74.2 L568.6 75.4 L569.4 75.8 L570.2 76.8 L571.1 77.6 L571.9 78.2 L572.7 79 L573.5 79.6 L574.4 80.4 L575.2 81.3 L576 81.9 L576.8 82.7 L577.7 83.4 L578.5 83.7 L579.3 84.3 L580.1 84.8 L580.9 85.3 L581.8 85.9 L582.6 86.3 L583.4 86.8 L584.2 87.4 L585.1 87.7 L585.9 88 L586.7 88.4 L587.5 88.6 L588.3 89.1 L589.2 89.3 L590 89.5 L590.8 89.8 L591.6 90.2 L592.5 90.4 L593.3 90.7 L594.1 90.8 L594.9 90.9 L595.7 91.3 L596.6 91.3 L597.4 91.4 L598.2 91.7 L599 91.7 L599.9 91.9 L600.7 91.9 L601.5 92 L602.3 92.1 L603.2 92.3 L604 92.4 L604.8 92.4 L605.6 92.5 L606.4 92.5 L607.3 92.5 L608.1 92.6 L608.9 92.6 L609.7 92.7 L610.6 92.8 L611.4 92.8 L612.2 92.8 L613 92.8 L613.8 92.9 L614.7 92.9 L615.5 92.9 L616.3 92.9 L617.1 93 L618 93 L618.8 93 L619.6 93 L620.4 93 L621.2 93 L622.1 93" fill="none" stroke="#88c440" stroke-width="0.6"/>
<path d="M485.1 101.2 L485.9 101.2 L486.8 101.2 L487.6 101.2 L488.4 101.2 L489.3 101.2 L490.1 101.1 L491 101 L491.8 101 L492.7 100.9 L493.5 100.8 L494.3 100.7 L495.2 100.5 L496 100.2 L496.9 100 L497.7 99.6 L498.6 99.2 L499.4 98.7 L500.2 98.2 L501.1 97.5 L501.9 96.8 L502.8 96.1 L503.6 95.2 L504.4 94.2 L505.3 92.9 L506.1 91.8 L507 90.8 L507.8 89.4 L508.7 87.7 L509.5 86.6 L510.3 84.9 L511.2 83.6 L512 82.3 L512.9 80.7 L513.7 78.8 L514.5 77.5 L515.4 76.3 L516.2 74.7 L517.1 73.5 L517.9 71.8 L518.8 70 L519.6 69.3 L520.4 68.2 L521.3 66.8 L522.1 65.8 L523 64.9 L523.8 64.1 L524.6 63.5 L525.5 62.6 L526.3 62.8 L527.2 61.7 L528 61.3 L528.9 61.5 L529.7 61.3 L530.5 61.1 L531.4 60.8 L532.2 60.6 L533.1 60.3 L533.9 60.3 L534.8 60.4 L535.6 60 L536.4 60.5 L537.3 61 L538.1 60.9 L539 61.1 L539.8 61.1 L540.6 61.7 L541.5 62 L542.3 62.1 L543.2 62.3 L544 62.6 L544.9 63.6 L545.7 64 L546.5 64.9 L547.4 65.3 L548.2 66.2 L549.1 66.6 L549.9 67 L550.7 67.9 L551.6 68.9 L552.4 69.6 L553.3 70.4 L554.1 71.1 L555 72.3 L555.8 72.9 L556.6 74.5 L557.5 74.6 L558.3 76.3 L559.2 76.7 L560 77.8 L560.9 78.9 L561.7 79.4 L562.5 80.5 L563.4 81.6 L564.2 82.5 L565.1 83 L565.9 83.9 L566.7 85.1 L567.6 85.5 L568.4 86.5 L569.3 87.4 L570.1 88.2 L571 88.9 L571.8 89.5 L572.6 90.4 L573.5 90.7 L574.3 91.2 L575.2 92 L576 92.7 L576.8 93.1 L577.7 93.5 L578.5 94.3 L579.4 94.3 L580.2 95.2 L581.1 95.6 L581.9 96 L582.7 96.3 L583.6 96.6 L584.4 97 L585.3 97.3 L586.1 97.6 L587 97.9 L587.8 98.1 L588.6 98.4 L589.5 98.5 L590.3 98.7 L591.2 99.1 L592 99.2 L592.8 99.4 L593.7 99.6 L594.5 99.6 L595.4 99.8 L596.2 99.9 L597.1 100.1 L597.9 100.2 L598.7 100.3 L599.6 100.3 L600.4 100.5 L601.3 100.5 L602.1 100.5 L602.9 100.6 L603.8 100.7 L604.6 100.7 L605.5 100.8 L606.3 100.8 L607.2 100.9 L608 100.9 L608.8 100.9 L609.7 100.9 L610.5 101 L611.4 101 L612.2 101.1 L613 101.1 L613.9 101.1 L614.7 101.1 L615.6 101.1 L616.4 101.1 L617.3 101.2 L618.1 101.2 L618.9 101.2 L618.9 101.2 L485.1 101.2Z" fill="#c88ceb" stroke="none" stroke-width="1" fill-opacity="0.72"/>
<path d="M485.1 101.2 L485.9 101.2 L486.8 101.2 L487.6 101.2 L488.4 101.2 L489.3 101.2 L490.1 101.1 L491 101 L491.8 101 L492.7 100.9 L493.5 100.8 L494.3 100.7 L495.2 100.5 L496 100.2 L496.9 100 L497.7 99.6 L498.6 99.2 L499.4 98.7 L500.2 98.2 L501.1 97.5 L501.9 96.8 L502.8 96.1 L503.6 95.2 L504.4 94.2 L505.3 92.9 L506.1 91.8 L507 90.8 L507.8 89.4 L508.7 87.7 L509.5 86.6 L510.3 84.9 L511.2 83.6 L512 82.3 L512.9 80.7 L513.7 78.8 L514.5 77.5 L515.4 76.3 L516.2 74.7 L517.1 73.5 L517.9 71.8 L518.8 70 L519.6 69.3 L520.4 68.2 L521.3 66.8 L522.1 65.8 L523 64.9 L523.8 64.1 L524.6 63.5 L525.5 62.6 L526.3 62.8 L527.2 61.7 L528 61.3 L528.9 61.5 L529.7 61.3 L530.5 61.1 L531.4 60.8 L532.2 60.6 L533.1 60.3 L533.9 60.3 L534.8 60.4 L535.6 60 L536.4 60.5 L537.3 61 L538.1 60.9 L539 61.1 L539.8 61.1 L540.6 61.7 L541.5 62 L542.3 62.1 L543.2 62.3 L544 62.6 L544.9 63.6 L545.7 64 L546.5 64.9 L547.4 65.3 L548.2 66.2 L549.1 66.6 L549.9 67 L550.7 67.9 L551.6 68.9 L552.4 69.6 L553.3 70.4 L554.1 71.1 L555 72.3 L555.8 72.9 L556.6 74.5 L557.5 74.6 L558.3 76.3 L559.2 76.7 L560 77.8 L560.9 78.9 L561.7 79.4 L562.5 80.5 L563.4 81.6 L564.2 82.5 L565.1 83 L565.9 83.9 L566.7 85.1 L567.6 85.5 L568.4 86.5 L569.3 87.4 L570.1 88.2 L571 88.9 L571.8 89.5 L572.6 90.4 L573.5 90.7 L574.3 91.2 L575.2 92 L576 92.7 L576.8 93.1 L577.7 93.5 L578.5 94.3 L579.4 94.3 L580.2 95.2 L581.1 95.6 L581.9 96 L582.7 96.3 L583.6 96.6 L584.4 97 L585.3 97.3 L586.1 97.6 L587 97.9 L587.8 98.1 L588.6 98.4 L589.5 98.5 L590.3 98.7 L591.2 99.1 L592 99.2 L592.8 99.4 L593.7 99.6 L594.5 99.6 L595.4 99.8 L596.2 99.9 L597.1 100.1 L597.9 100.2 L598.7 100.3 L599.6 100.3 L600.4 100.5 L601.3 100.5 L602.1 100.5 L602.9 100.6 L603.8 100.7 L604.6 100.7 L605.5 100.8 L606.3 100.8 L607.2 100.9 L608 100.9 L608.8 100.9 L609.7 100.9 L610.5 101 L611.4 101 L612.2 101.1 L613 101.1 L613.9 101.1 L614.7 101.1 L615.6 101.1 L616.4 101.1 L617.3 101.2 L618.1 101.2 L618.9 101.2" fill="none" stroke="#98c848" stroke-width="0.6"/>
<path d="M478.6 109.8 L479.4 109.8 L480.3 109.8 L481.2 109.8 L482 109.8 L482.9 109.7 L483.8 109.7 L484.6 109.6 L485.5 109.5 L486.3 109.4 L487.2 109.3 L488.1 109.1 L488.9 108.9 L489.8 108.6 L490.7 108.3 L491.5 108 L492.4 107.4 L493.2 107 L494.1 106.2 L495 105.5 L495.8 104.8 L496.7 104 L497.6 102.9 L498.4 101.7 L499.3 100.8 L500.1 99.4 L501 98.4 L501.9 96.7 L502.7 95.4 L503.6 93.9 L504.4 92.1 L505.3 90.5 L506.2 88.6 L507 87.3 L507.9 85.8 L508.8 84.3 L509.6 82.7 L510.5 81 L511.3 79.2 L512.2 77.9 L513.1 77 L513.9 75.4 L514.8 74.4 L515.7 73.1 L516.5 72.3 L517.4 71.4 L518.2 70.8 L519.1 69.7 L520 69.3 L520.8 68.3 L521.7 67.6 L522.6 67.9 L523.4 67.6 L524.3 66.8 L525.1 66.8 L526 67.4 L526.9 66.6 L527.7 66.7 L528.6 66.8 L529.5 66.8 L530.3 66.8 L531.2 66.7 L532 67.5 L532.9 66.7 L533.8 67.1 L534.6 67.4 L535.5 67.9 L536.3 68.2 L537.2 68.7 L538.1 68.8 L538.9 69.7 L539.8 70.3 L540.7 70.7 L541.5 71.4 L542.4 72.1 L543.2 72.8 L544.1 73.3 L545 74.2 L545.8 75.3 L546.7 75.6 L547.6 76.8 L548.4 77.9 L549.3 78.5 L550.1 79.6 L551 81 L551.9 81.9 L552.7 82.6 L553.6 84.1 L554.5 84.7 L555.3 86.2 L556.2 86.4 L557 87.7 L557.9 88.4 L558.8 89.6 L559.6 90.2 L560.5 91.1 L561.3 92.3 L562.2 93.5 L563.1 94.2 L563.9 94.8 L564.8 95.7 L565.7 96 L566.5 97.3 L567.4 97.8 L568.2 98.6 L569.1 99.3 L570 100.1 L570.8 100.7 L571.7 101.1 L572.6 101.8 L573.4 102.2 L574.3 102.8 L575.1 103.2 L576 103.8 L576.9 104 L577.7 104.7 L578.6 104.8 L579.5 105.2 L580.3 105.6 L581.2 106 L582 106.3 L582.9 106.5 L583.8 106.6 L584.6 107 L585.5 107.2 L586.4 107.3 L587.2 107.7 L588.1 107.8 L588.9 108 L589.8 108.1 L590.7 108.3 L591.5 108.4 L592.4 108.6 L593.2 108.6 L594.1 108.7 L595 108.9 L595.8 109 L596.7 109 L597.6 109.1 L598.4 109.1 L599.3 109.2 L600.1 109.2 L601 109.4 L601.9 109.4 L602.7 109.4 L603.6 109.4 L604.5 109.4 L605.3 109.5 L606.2 109.5 L607 109.6 L607.9 109.6 L608.8 109.6 L609.6 109.6 L610.5 109.6 L611.4 109.7 L612.2 109.7 L613.1 109.7 L613.9 109.7 L614.8 109.7 L615.7 109.7 L615.7 109.8 L478.6 109.8Z" fill="#53ad8d" stroke="none" stroke-width="1" fill-opacity="0.75"/>
<path d="M478.6 109.8 L479.4 109.8 L480.3 109.8 L481.2 109.8 L482 109.8 L482.9 109.7 L483.8 109.7 L484.6 109.6 L485.5 109.5 L486.3 109.4 L487.2 109.3 L488.1 109.1 L488.9 108.9 L489.8 108.6 L490.7 108.3 L491.5 108 L492.4 107.4 L493.2 107 L494.1 106.2 L495 105.5 L495.8 104.8 L496.7 104 L497.6 102.9 L498.4 101.7 L499.3 100.8 L500.1 99.4 L501 98.4 L501.9 96.7 L502.7 95.4 L503.6 93.9 L504.4 92.1 L505.3 90.5 L506.2 88.6 L507 87.3 L507.9 85.8 L508.8 84.3 L509.6 82.7 L510.5 81 L511.3 79.2 L512.2 77.9 L513.1 77 L513.9 75.4 L514.8 74.4 L515.7 73.1 L516.5 72.3 L517.4 71.4 L518.2 70.8 L519.1 69.7 L520 69.3 L520.8 68.3 L521.7 67.6 L522.6 67.9 L523.4 67.6 L524.3 66.8 L525.1 66.8 L526 67.4 L526.9 66.6 L527.7 66.7 L528.6 66.8 L529.5 66.8 L530.3 66.8 L531.2 66.7 L532 67.5 L532.9 66.7 L533.8 67.1 L534.6 67.4 L535.5 67.9 L536.3 68.2 L537.2 68.7 L538.1 68.8 L538.9 69.7 L539.8 70.3 L540.7 70.7 L541.5 71.4 L542.4 72.1 L543.2 72.8 L544.1 73.3 L545 74.2 L545.8 75.3 L546.7 75.6 L547.6 76.8 L548.4 77.9 L549.3 78.5 L550.1 79.6 L551 81 L551.9 81.9 L552.7 82.6 L553.6 84.1 L554.5 84.7 L555.3 86.2 L556.2 86.4 L557 87.7 L557.9 88.4 L558.8 89.6 L559.6 90.2 L560.5 91.1 L561.3 92.3 L562.2 93.5 L563.1 94.2 L563.9 94.8 L564.8 95.7 L565.7 96 L566.5 97.3 L567.4 97.8 L568.2 98.6 L569.1 99.3 L570 100.1 L570.8 100.7 L571.7 101.1 L572.6 101.8 L573.4 102.2 L574.3 102.8 L575.1 103.2 L576 103.8 L576.9 104 L577.7 104.7 L578.6 104.8 L579.5 105.2 L580.3 105.6 L581.2 106 L582 106.3 L582.9 106.5 L583.8 106.6 L584.6 107 L585.5 107.2 L586.4 107.3 L587.2 107.7 L588.1 107.8 L588.9 108 L589.8 108.1 L590.7 108.3 L591.5 108.4 L592.4 108.6 L593.2 108.6 L594.1 108.7 L595 108.9 L595.8 109 L596.7 109 L597.6 109.1 L598.4 109.1 L599.3 109.2 L600.1 109.2 L601 109.4 L601.9 109.4 L602.7 109.4 L603.6 109.4 L604.5 109.4 L605.3 109.5 L606.2 109.5 L607 109.6 L607.9 109.6 L608.8 109.6 L609.6 109.6 L610.5 109.6 L611.4 109.7 L612.2 109.7 L613.1 109.7 L613.9 109.7 L614.8 109.7 L615.7 109.7" fill="none" stroke="#c8d028" stroke-width="0.6"/>
<path d="M471.8 118.8 L472.7 118.8 L473.5 118.8 L474.4 118.8 L475.3 118.8 L476.2 118.7 L477.1 118.7 L478 118.6 L478.8 118.6 L479.7 118.5 L480.6 118.4 L481.5 118.2 L482.4 117.9 L483.3 117.6 L484.1 117.3 L485 116.8 L485.9 116.3 L486.8 115.8 L487.7 115.2 L488.6 114.4 L489.4 113.7 L490.3 112.8 L491.2 111.8 L492.1 110.7 L493 109.3 L493.9 108.1 L494.7 106.8 L495.6 105.3 L496.5 103.7 L497.4 101.9 L498.3 100.7 L499.2 98.9 L500 97 L500.9 95.7 L501.8 93.5 L502.7 92.2 L503.6 90.3 L504.5 88.8 L505.3 87.2 L506.2 86.1 L507.1 84.4 L508 83.2 L508.9 81.6 L509.8 80.9 L510.6 79.8 L511.5 78.9 L512.4 77.9 L513.3 76.9 L514.2 76.6 L515.1 75.9 L515.9 75.9 L516.8 75.2 L517.7 75.2 L518.6 74.9 L519.5 74.2 L520.4 74.4 L521.2 74.5 L522.1 74.3 L523 74.7 L523.9 73.8 L524.8 74.5 L525.7 74.4 L526.5 74.6 L527.4 74.7 L528.3 75.2 L529.2 75.2 L530.1 75.3 L531 76 L531.8 76.2 L532.7 76.2 L533.6 77.1 L534.5 78 L535.4 78 L536.3 78.8 L537.1 79.5 L538 80.4 L538.9 81.2 L539.8 81.8 L540.7 83 L541.6 83.6 L542.4 84.7 L543.3 85.6 L544.2 86.7 L545.1 87.8 L546 88.9 L546.9 89.9 L547.7 90.5 L548.6 92 L549.5 92.7 L550.4 93.9 L551.3 95 L552.2 95.7 L553 96.6 L553.9 98.2 L554.8 98.8 L555.7 99.7 L556.6 100.7 L557.5 101.3 L558.3 102.2 L559.2 103.3 L560.1 104.4 L561 105.2 L561.9 106.1 L562.8 106.4 L563.6 107.4 L564.5 107.9 L565.4 108.6 L566.3 109.4 L567.2 110 L568.1 110.5 L568.9 111.1 L569.8 111.4 L570.7 111.8 L571.6 112.5 L572.5 112.9 L573.4 113.5 L574.2 113.6 L575.1 113.9 L576 114.4 L576.9 114.9 L577.8 115.1 L578.7 115.5 L579.5 115.7 L580.4 116 L581.3 116.1 L582.2 116.4 L583.1 116.6 L584 116.8 L584.8 117 L585.7 117.2 L586.6 117.3 L587.5 117.4 L588.4 117.5 L589.3 117.6 L590.1 117.7 L591 117.7 L591.9 117.9 L592.8 118.1 L593.7 118.1 L594.6 118.1 L595.4 118.2 L596.3 118.3 L597.2 118.3 L598.1 118.4 L599 118.4 L599.9 118.4 L600.7 118.5 L601.6 118.6 L602.5 118.6 L603.4 118.6 L604.3 118.6 L605.2 118.7 L606 118.7 L606.9 118.7 L607.8 118.7 L608.7 118.7 L609.6 118.7 L610.5 118.8 L611.3 118.8 L612.2 118.8 L612.2 118.9 L471.8 118.9Z" fill="#026cd4" stroke="none" stroke-width="1" fill-opacity="0.8"/>
<path d="M471.8 118.8 L472.7 118.8 L473.5 118.8 L474.4 118.8 L475.3 118.8 L476.2 118.7 L477.1 118.7 L478 118.6 L478.8 118.6 L479.7 118.5 L480.6 118.4 L481.5 118.2 L482.4 117.9 L483.3 117.6 L484.1 117.3 L485 116.8 L485.9 116.3 L486.8 115.8 L487.7 115.2 L488.6 114.4 L489.4 113.7 L490.3 112.8 L491.2 111.8 L492.1 110.7 L493 109.3 L493.9 108.1 L494.7 106.8 L495.6 105.3 L496.5 103.7 L497.4 101.9 L498.3 100.7 L499.2 98.9 L500 97 L500.9 95.7 L501.8 93.5 L502.7 92.2 L503.6 90.3 L504.5 88.8 L505.3 87.2 L506.2 86.1 L507.1 84.4 L508 83.2 L508.9 81.6 L509.8 80.9 L510.6 79.8 L511.5 78.9 L512.4 77.9 L513.3 76.9 L514.2 76.6 L515.1 75.9 L515.9 75.9 L516.8 75.2 L517.7 75.2 L518.6 74.9 L519.5 74.2 L520.4 74.4 L521.2 74.5 L522.1 74.3 L523 74.7 L523.9 73.8 L524.8 74.5 L525.7 74.4 L526.5 74.6 L527.4 74.7 L528.3 75.2 L529.2 75.2 L530.1 75.3 L531 76 L531.8 76.2 L532.7 76.2 L533.6 77.1 L534.5 78 L535.4 78 L536.3 78.8 L537.1 79.5 L538 80.4 L538.9 81.2 L539.8 81.8 L540.7 83 L541.6 83.6 L542.4 84.7 L543.3 85.6 L544.2 86.7 L545.1 87.8 L546 88.9 L546.9 89.9 L547.7 90.5 L548.6 92 L549.5 92.7 L550.4 93.9 L551.3 95 L552.2 95.7 L553 96.6 L553.9 98.2 L554.8 98.8 L555.7 99.7 L556.6 100.7 L557.5 101.3 L558.3 102.2 L559.2 103.3 L560.1 104.4 L561 105.2 L561.9 106.1 L562.8 106.4 L563.6 107.4 L564.5 107.9 L565.4 108.6 L566.3 109.4 L567.2 110 L568.1 110.5 L568.9 111.1 L569.8 111.4 L570.7 111.8 L571.6 112.5 L572.5 112.9 L573.4 113.5 L574.2 113.6 L575.1 113.9 L576 114.4 L576.9 114.9 L577.8 115.1 L578.7 115.5 L579.5 115.7 L580.4 116 L581.3 116.1 L582.2 116.4 L583.1 116.6 L584 116.8 L584.8 117 L585.7 117.2 L586.6 117.3 L587.5 117.4 L588.4 117.5 L589.3 117.6 L590.1 117.7 L591 117.7 L591.9 117.9 L592.8 118.1 L593.7 118.1 L594.6 118.1 L595.4 118.2 L596.3 118.3 L597.2 118.3 L598.1 118.4 L599 118.4 L599.9 118.4 L600.7 118.5 L601.6 118.6 L602.5 118.6 L603.4 118.6 L604.3 118.6 L605.2 118.7 L606 118.7 L606.9 118.7 L607.8 118.7 L608.7 118.7 L609.6 118.7 L610.5 118.8 L611.3 118.8 L612.2 118.8" fill="none" stroke="#2a70d0" stroke-width="0.6"/>
<path d="M464.6 128.4 L465.5 128.4 L466.4 128.4 L467.3 128.4 L468.2 128.3 L469.1 128.3 L470 128.2 L471 128.2 L471.9 128.1 L472.8 128 L473.7 127.7 L474.6 127.6 L475.5 127.4 L476.4 127.1 L477.3 126.8 L478.2 126.4 L479.1 125.8 L480 125.3 L480.9 124.7 L481.8 123.8 L482.7 123 L483.6 121.9 L484.5 121 L485.4 119.7 L486.3 118.7 L487.3 117 L488.2 115.9 L489.1 114.4 L490 112.6 L490.9 111.1 L491.8 109.4 L492.7 107.6 L493.6 105.5 L494.5 104 L495.4 102.3 L496.3 100.3 L497.2 98.9 L498.1 97 L499 95.6 L499.9 93.9 L500.8 92.7 L501.7 91.2 L502.7 90.1 L503.6 89.1 L504.5 87.2 L505.4 87.2 L506.3 85.4 L507.2 84.8 L508.1 84.6 L509 84 L509.9 83.6 L510.8 82.4 L511.7 82.9 L512.6 82.5 L513.5 82.8 L514.4 81.5 L515.3 82.2 L516.2 82.2 L517.1 82.2 L518 82 L519 81.9 L519.9 82 L520.8 82.5 L521.7 82.5 L522.6 82.5 L523.5 83.4 L524.4 83.3 L525.3 83.6 L526.2 83.9 L527.1 84.4 L528 85.3 L528.9 85.6 L529.8 86.3 L530.7 87 L531.6 87.4 L532.5 88.6 L533.4 89.2 L534.3 90 L535.3 91.2 L536.2 92 L537.1 92.7 L538 93.9 L538.9 95 L539.8 96.2 L540.7 96.8 L541.6 98.2 L542.5 98.9 L543.4 100.2 L544.3 101.2 L545.2 101.9 L546.1 103.9 L547 104.7 L547.9 105.5 L548.8 106.4 L549.7 107.7 L550.6 108.4 L551.6 109.6 L552.5 110.4 L553.4 111.1 L554.3 112.2 L555.2 113.1 L556.1 114.1 L557 114.8 L557.9 115.9 L558.8 116.3 L559.7 117.2 L560.6 117.9 L561.5 118.3 L562.4 119.3 L563.3 119.7 L564.2 120 L565.1 120.9 L566 121.4 L566.9 121.8 L567.9 122.3 L568.8 122.6 L569.7 123.1 L570.6 123.6 L571.5 123.7 L572.4 124.1 L573.3 124.5 L574.2 124.8 L575.1 125.1 L576 125.3 L576.9 125.6 L577.8 125.8 L578.7 126.1 L579.6 126.2 L580.5 126.4 L581.4 126.6 L582.3 126.7 L583.3 127 L584.2 127 L585.1 127.1 L586 127.3 L586.9 127.4 L587.8 127.4 L588.7 127.5 L589.6 127.6 L590.5 127.7 L591.4 127.7 L592.3 127.8 L593.2 127.8 L594.1 127.9 L595 128 L595.9 128 L596.8 128 L597.7 128.1 L598.6 128.1 L599.6 128.1 L600.5 128.2 L601.4 128.2 L602.3 128.2 L603.2 128.2 L604.1 128.2 L605 128.2 L605.9 128.3 L606.8 128.3 L607.7 128.3 L608.6 128.3 L608.6 128.4 L464.6 128.4Z" fill="#ff6156" stroke="none" stroke-width="1" fill-opacity="0.7"/>
<path d="M464.6 128.4 L465.5 128.4 L466.4 128.4 L467.3 128.4 L468.2 128.3 L469.1 128.3 L470 128.2 L471 128.2 L471.9 128.1 L472.8 128 L473.7 127.7 L474.6 127.6 L475.5 127.4 L476.4 127.1 L477.3 126.8 L478.2 126.4 L479.1 125.8 L480 125.3 L480.9 124.7 L481.8 123.8 L482.7 123 L483.6 121.9 L484.5 121 L485.4 119.7 L486.3 118.7 L487.3 117 L488.2 115.9 L489.1 114.4 L490 112.6 L490.9 111.1 L491.8 109.4 L492.7 107.6 L493.6 105.5 L494.5 104 L495.4 102.3 L496.3 100.3 L497.2 98.9 L498.1 97 L499 95.6 L499.9 93.9 L500.8 92.7 L501.7 91.2 L502.7 90.1 L503.6 89.1 L504.5 87.2 L505.4 87.2 L506.3 85.4 L507.2 84.8 L508.1 84.6 L509 84 L509.9 83.6 L510.8 82.4 L511.7 82.9 L512.6 82.5 L513.5 82.8 L514.4 81.5 L515.3 82.2 L516.2 82.2 L517.1 82.2 L518 82 L519 81.9 L519.9 82 L520.8 82.5 L521.7 82.5 L522.6 82.5 L523.5 83.4 L524.4 83.3 L525.3 83.6 L526.2 83.9 L527.1 84.4 L528 85.3 L528.9 85.6 L529.8 86.3 L530.7 87 L531.6 87.4 L532.5 88.6 L533.4 89.2 L534.3 90 L535.3 91.2 L536.2 92 L537.1 92.7 L538 93.9 L538.9 95 L539.8 96.2 L540.7 96.8 L541.6 98.2 L542.5 98.9 L543.4 100.2 L544.3 101.2 L545.2 101.9 L546.1 103.9 L547 104.7 L547.9 105.5 L548.8 106.4 L549.7 107.7 L550.6 108.4 L551.6 109.6 L552.5 110.4 L553.4 111.1 L554.3 112.2 L555.2 113.1 L556.1 114.1 L557 114.8 L557.9 115.9 L558.8 116.3 L559.7 117.2 L560.6 117.9 L561.5 118.3 L562.4 119.3 L563.3 119.7 L564.2 120 L565.1 120.9 L566 121.4 L566.9 121.8 L567.9 122.3 L568.8 122.6 L569.7 123.1 L570.6 123.6 L571.5 123.7 L572.4 124.1 L573.3 124.5 L574.2 124.8 L575.1 125.1 L576 125.3 L576.9 125.6 L577.8 125.8 L578.7 126.1 L579.6 126.2 L580.5 126.4 L581.4 126.6 L582.3 126.7 L583.3 127 L584.2 127 L585.1 127.1 L586 127.3 L586.9 127.4 L587.8 127.4 L588.7 127.5 L589.6 127.6 L590.5 127.7 L591.4 127.7 L592.3 127.8 L593.2 127.8 L594.1 127.9 L595 128 L595.9 128 L596.8 128 L597.7 128.1 L598.6 128.1 L599.6 128.1 L600.5 128.2 L601.4 128.2 L602.3 128.2 L603.2 128.2 L604.1 128.2 L605 128.2 L605.9 128.3 L606.8 128.3 L607.7 128.3 L608.6 128.3" fill="none" stroke="#e83838" stroke-width="0.6"/>
<path d="M457.1 138.5 L458 138.5 L458.9 138.5 L459.9 138.4 L460.8 138.4 L461.7 138.4 L462.7 138.3 L463.6 138.2 L464.5 138.1 L465.4 137.9 L466.4 137.8 L467.3 137.6 L468.2 137.3 L469.2 136.9 L470.1 136.5 L471 136.1 L472 135.4 L472.9 134.7 L473.8 133.9 L474.7 133.3 L475.7 131.9 L476.6 130.9 L477.5 129.6 L478.5 128.1 L479.4 126.5 L480.3 125.2 L481.2 123.3 L482.2 121.6 L483.1 119.9 L484 118.3 L485 116.2 L485.9 114.2 L486.8 112.2 L487.7 110 L488.7 107.9 L489.6 106.3 L490.5 103.9 L491.5 102.1 L492.4 100.1 L493.3 98.9 L494.2 97.3 L495.2 96.3 L496.1 94.4 L497 93.2 L498 91.5 L498.9 91 L499.8 89.3 L500.8 89.4 L501.7 88.2 L502.6 87.7 L503.5 87.4 L504.5 86.7 L505.4 86.3 L506.3 87.3 L507.3 86.2 L508.2 86 L509.1 86.2 L510 86 L511 85.8 L511.9 86.3 L512.8 86 L513.8 86.4 L514.7 86.2 L515.6 86.1 L516.5 87 L517.5 87 L518.4 87.6 L519.3 88.2 L520.3 88.8 L521.2 88.4 L522.1 90.4 L523 91.1 L524 91.8 L524.9 92.5 L525.8 93.1 L526.8 94.4 L527.7 94.5 L528.6 95.5 L529.6 96.9 L530.5 98.2 L531.4 98.8 L532.3 100.3 L533.3 101.7 L534.2 102.7 L535.1 103.7 L536.1 104.9 L537 106.1 L537.9 107.6 L538.8 108.9 L539.8 110 L540.7 111.2 L541.6 112.4 L542.6 113.3 L543.5 114.4 L544.4 115.5 L545.3 117.2 L546.3 117.7 L547.2 119.2 L548.1 120.1 L549.1 121 L550 121.9 L550.9 122.7 L551.9 123.5 L552.8 124.6 L553.7 125.6 L554.6 126.3 L555.6 126.9 L556.5 127.8 L557.4 128.6 L558.4 129.3 L559.3 129.6 L560.2 130.5 L561.1 130.9 L562.1 131.6 L563 131.9 L563.9 132.6 L564.9 133 L565.8 133.3 L566.7 133.8 L567.6 134 L568.6 134.5 L569.5 134.8 L570.4 134.9 L571.4 135.3 L572.3 135.6 L573.2 135.7 L574.1 136 L575.1 136.3 L576 136.6 L576.9 136.6 L577.9 136.8 L578.8 136.9 L579.7 137.1 L580.7 137.1 L581.6 137.3 L582.5 137.5 L583.4 137.5 L584.4 137.6 L585.3 137.6 L586.2 137.8 L587.2 137.8 L588.1 137.9 L589 137.9 L589.9 138 L590.9 138.1 L591.8 138.1 L592.7 138.1 L593.7 138.2 L594.6 138.2 L595.5 138.2 L596.4 138.2 L597.4 138.3 L598.3 138.3 L599.2 138.3 L600.2 138.4 L601.1 138.4 L602 138.4 L602.9 138.4 L603.9 138.4 L604.8 138.4 L604.8 138.5 L457.1 138.5Z" fill="#5a565a" stroke="none" stroke-width="1" fill-opacity="0.62"/>
<path d="M457.1 138.5 L458 138.5 L458.9 138.5 L459.9 138.4 L460.8 138.4 L461.7 138.4 L462.7 138.3 L463.6 138.2 L464.5 138.1 L465.4 137.9 L466.4 137.8 L467.3 137.6 L468.2 137.3 L469.2 136.9 L470.1 136.5 L471 136.1 L472 135.4 L472.9 134.7 L473.8 133.9 L474.7 133.3 L475.7 131.9 L476.6 130.9 L477.5 129.6 L478.5 128.1 L479.4 126.5 L480.3 125.2 L481.2 123.3 L482.2 121.6 L483.1 119.9 L484 118.3 L485 116.2 L485.9 114.2 L486.8 112.2 L487.7 110 L488.7 107.9 L489.6 106.3 L490.5 103.9 L491.5 102.1 L492.4 100.1 L493.3 98.9 L494.2 97.3 L495.2 96.3 L496.1 94.4 L497 93.2 L498 91.5 L498.9 91 L499.8 89.3 L500.8 89.4 L501.7 88.2 L502.6 87.7 L503.5 87.4 L504.5 86.7 L505.4 86.3 L506.3 87.3 L507.3 86.2 L508.2 86 L509.1 86.2 L510 86 L511 85.8 L511.9 86.3 L512.8 86 L513.8 86.4 L514.7 86.2 L515.6 86.1 L516.5 87 L517.5 87 L518.4 87.6 L519.3 88.2 L520.3 88.8 L521.2 88.4 L522.1 90.4 L523 91.1 L524 91.8 L524.9 92.5 L525.8 93.1 L526.8 94.4 L527.7 94.5 L528.6 95.5 L529.6 96.9 L530.5 98.2 L531.4 98.8 L532.3 100.3 L533.3 101.7 L534.2 102.7 L535.1 103.7 L536.1 104.9 L537 106.1 L537.9 107.6 L538.8 108.9 L539.8 110 L540.7 111.2 L541.6 112.4 L542.6 113.3 L543.5 114.4 L544.4 115.5 L545.3 117.2 L546.3 117.7 L547.2 119.2 L548.1 120.1 L549.1 121 L550 121.9 L550.9 122.7 L551.9 123.5 L552.8 124.6 L553.7 125.6 L554.6 126.3 L555.6 126.9 L556.5 127.8 L557.4 128.6 L558.4 129.3 L559.3 129.6 L560.2 130.5 L561.1 130.9 L562.1 131.6 L563 131.9 L563.9 132.6 L564.9 133 L565.8 133.3 L566.7 133.8 L567.6 134 L568.6 134.5 L569.5 134.8 L570.4 134.9 L571.4 135.3 L572.3 135.6 L573.2 135.7 L574.1 136 L575.1 136.3 L576 136.6 L576.9 136.6 L577.9 136.8 L578.8 136.9 L579.7 137.1 L580.7 137.1 L581.6 137.3 L582.5 137.5 L583.4 137.5 L584.4 137.6 L585.3 137.6 L586.2 137.8 L587.2 137.8 L588.1 137.9 L589 137.9 L589.9 138 L590.9 138.1 L591.8 138.1 L592.7 138.1 L593.7 138.2 L594.6 138.2 L595.5 138.2 L596.4 138.2 L597.4 138.3 L598.3 138.3 L599.2 138.3 L600.2 138.4 L601.1 138.4 L602 138.4 L602.9 138.4 L603.9 138.4 L604.8 138.4" fill="none" stroke="#e03030" stroke-width="0.6"/>
<line x1="454.5" y1="142" x2="603.5" y2="142" stroke="#000" stroke-width="1.5"/>
<line x1="454.5" y1="142" x2="454.5" y2="57" stroke="#000" stroke-width="1.2"/>
<line x1="603.5" y1="142" x2="628.5" y2="76.5" stroke="#000" stroke-width="1.2"/>
<line x1="451.9" y1="125" x2="454.5" y2="125" stroke="#000" stroke-width="0.8"/>
<line x1="451.9" y1="102.6" x2="454.5" y2="102.6" stroke="#000" stroke-width="0.8"/>
<line x1="451.9" y1="80.2" x2="454.5" y2="80.2" stroke="#000" stroke-width="0.8"/>
<line x1="451.9" y1="58" x2="454.5" y2="58" stroke="#000" stroke-width="0.8"/>
<line x1="453" y1="136.2" x2="454.5" y2="136.2" stroke="#000" stroke-width="0.8"/>
<line x1="453" y1="113.8" x2="454.5" y2="113.8" stroke="#000" stroke-width="0.8"/>
<line x1="453" y1="91.4" x2="454.5" y2="91.4" stroke="#000" stroke-width="0.8"/>
<line x1="453" y1="69.2" x2="454.5" y2="69.2" stroke="#000" stroke-width="0.8"/>
<line x1="454.5" y1="142" x2="454.5" y2="144.6" stroke="#000" stroke-width="0.9"/>
<line x1="466.9" y1="142" x2="466.9" y2="143.6" stroke="#000" stroke-width="0.9"/>
<line x1="479.3" y1="142" x2="479.3" y2="144.6" stroke="#000" stroke-width="0.9"/>
<line x1="491.8" y1="142" x2="491.8" y2="143.6" stroke="#000" stroke-width="0.9"/>
<line x1="504.2" y1="142" x2="504.2" y2="144.6" stroke="#000" stroke-width="0.9"/>
<line x1="516.6" y1="142" x2="516.6" y2="143.6" stroke="#000" stroke-width="0.9"/>
<line x1="529" y1="142" x2="529" y2="144.6" stroke="#000" stroke-width="0.9"/>
<line x1="541.4" y1="142" x2="541.4" y2="143.6" stroke="#000" stroke-width="0.9"/>
<line x1="553.8" y1="142" x2="553.8" y2="144.6" stroke="#000" stroke-width="0.9"/>
<line x1="566.2" y1="142" x2="566.2" y2="143.6" stroke="#000" stroke-width="0.9"/>
<line x1="578.7" y1="142" x2="578.7" y2="144.6" stroke="#000" stroke-width="0.9"/>
<line x1="591.1" y1="142" x2="591.1" y2="143.6" stroke="#000" stroke-width="0.9"/>
<line x1="603.5" y1="142" x2="603.5" y2="144.6" stroke="#000" stroke-width="0.9"/>
<text x="454.5" y="153.2" font-size="8.4" text-anchor="middle" font-weight="bold" fill="#000" font-family="'Liberation Sans', Arial, sans-serif" dominant-baseline="central">350</text>
<text x="479.3" y="153.2" font-size="8.4" text-anchor="middle" font-weight="bold" fill="#000" font-family="'Liberation Sans', Arial, sans-serif" dominant-baseline="central">400</text>
<text x="504.2" y="153.2" font-size="8.4" text-anchor="middle" font-weight="bold" fill="#000" font-family="'Liberation Sans', Arial, sans-serif" dominant-baseline="central">450</text>
<text x="529" y="153.2" font-size="8.4" text-anchor="middle" font-weight="bold" fill="#000" font-family="'Liberation Sans', Arial, sans-serif" dominant-baseline="central">500</text>
<text x="553.8" y="153.2" font-size="8.4" text-anchor="middle" font-weight="bold" fill="#000" font-family="'Liberation Sans', Arial, sans-serif" dominant-baseline="central">550</text>
<text x="578.7" y="153.2" font-size="8.4" text-anchor="middle" font-weight="bold" fill="#000" font-family="'Liberation Sans', Arial, sans-serif" dominant-baseline="central">600</text>
<text x="603.5" y="153.2" font-size="8.4" text-anchor="middle" font-weight="bold" fill="#000" font-family="'Liberation Sans', Arial, sans-serif" dominant-baseline="central">650</text>
<text x="529" y="163.5" font-size="8.5" text-anchor="middle" font-weight="bold" fill="#000" font-family="'Liberation Sans', Arial, sans-serif" dominant-baseline="central">Wavelength (nm)</text>
<text x="445" y="100" font-size="9.9" text-anchor="middle" font-weight="bold" fill="#000" font-family="'Liberation Sans', Arial, sans-serif" dominant-baseline="central" transform="rotate(-90 445 100)">ML Intensity (a.u.)</text>
<line x1="604.8" y1="138.5" x2="607" y2="138.5" stroke="#000" stroke-width="0.8"/>
<text x="609.1" y="139" font-size="8.3" text-anchor="start" font-weight="bold" fill="#000" font-family="'Liberation Sans', Arial, sans-serif" dominant-baseline="central">300</text>
<line x1="608.6" y1="128.4" x2="610.8" y2="128.4" stroke="#000" stroke-width="0.8"/>
<text x="612.9" y="128.9" font-size="8.1" text-anchor="start" font-weight="bold" fill="#000" font-family="'Liberation Sans', Arial, sans-serif" dominant-baseline="central">325</text>
<line x1="612.2" y1="118.9" x2="614.4" y2="118.9" stroke="#000" stroke-width="0.8"/>
<text x="616.5" y="119.4" font-size="7.9" text-anchor="start" font-weight="bold" fill="#000" font-family="'Liberation Sans', Arial, sans-serif" dominant-baseline="central">350</text>
<line x1="615.7" y1="109.8" x2="617.9" y2="109.8" stroke="#000" stroke-width="0.8"/>
<text x="620" y="110.3" font-size="7.7" text-anchor="start" font-weight="bold" fill="#000" font-family="'Liberation Sans', Arial, sans-serif" dominant-baseline="central">375</text>
<line x1="618.9" y1="101.2" x2="621.1" y2="101.2" stroke="#000" stroke-width="0.8"/>
<text x="623.2" y="101.7" font-size="7.5" text-anchor="start" font-weight="bold" fill="#000" font-family="'Liberation Sans', Arial, sans-serif" dominant-baseline="central">400</text>
<line x1="622.1" y1="93.1" x2="624.3" y2="93.1" stroke="#000" stroke-width="0.8"/>
<text x="626.4" y="93.6" font-size="7.4" text-anchor="start" font-weight="bold" fill="#000" font-family="'Liberation Sans', Arial, sans-serif" dominant-baseline="central">425</text>
<line x1="625.1" y1="85.4" x2="627.3" y2="85.4" stroke="#000" stroke-width="0.8"/>
<text x="629.4" y="85.9" font-size="7.2" text-anchor="start" font-weight="bold" fill="#000" font-family="'Liberation Sans', Arial, sans-serif" dominant-baseline="central">450</text>
<line x1="627.9" y1="78" x2="630.1" y2="78" stroke="#000" stroke-width="0.8"/>
<text x="632.2" y="78.5" font-size="7.1" text-anchor="start" font-weight="bold" fill="#000" font-family="'Liberation Sans', Arial, sans-serif" dominant-baseline="central">475</text>
<text x="638.8" y="106.5" font-size="5.9" text-anchor="middle" font-weight="bold" fill="#000" font-family="'Liberation Sans', Arial, sans-serif" dominant-baseline="central" transform="rotate(-72 638.8 106.5)">Temperature (K)</text>
<text x="509.5" y="14.4" font-size="5.7" text-anchor="start" font-weight="bold" fill="#000" font-family="'Liberation Sans', Arial, sans-serif" dominant-baseline="central">SAOCC/PDMS</text>
<text x="443.6" y="8" font-size="16.5" text-anchor="start" font-weight="bold" fill="#000" font-family="'Liberation Sans', Arial, sans-serif" dominant-baseline="central">c</text>
<rect x="41.8" y="178.3" width="160.6" height="131.3" fill="none" stroke="#000" stroke-width="1.2"/>
<polyline points="41.8,307.9 42.3,308.3 42.9,308.4 43.4,308.9 43.9,308.5 44.5,308.5 45,308.4 45.6,308.6 46.1,308.4 46.6,308.5 47.2,308.7 47.7,308.2 48.2,308.2 48.8,308 49.3,308.4 49.9,308.5 50.4,308.5 50.9,308.8 51.5,308.1 52,308.7 52.5,308.7 53.1,308.4 53.6,308 54.2,308.3 54.7,308.7 55.2,308.6 55.8,308.2 56.3,308.4 56.8,308.6 57.4,308.4 57.9,308.2 58.5,307.9 59,308.7 59.5,308.5 60.1,308.6 60.6,309 61.1,308.6 61.7,308.6 62.2,308.1 62.7,308.4 63.3,308.8 63.8,308.2 64.4,308.5 64.9,308.8 65.4,308.5 66,308.5 66.5,308.6 67,308.3 67.6,308.9 68.1,308.4 68.7,308 69.2,308.1 69.7,308 70.3,308 70.8,307.9 71.3,308.6 71.9,308 72.4,308.8 73,308.4 73.5,308.8 74,307.9 74.6,307.8 75.1,308.3 75.6,307.7 76.2,308.4 76.7,308.1 77.3,308.1 77.8,308.4 78.3,308 78.9,307.5 79.4,308.4 79.9,307.8 80.5,308.1 81,307.4 81.5,307.8 82.1,307.7 82.6,307.7 83.2,307.8 83.7,308.3 84.2,307.4 84.8,308.2 85.3,307.7 85.8,307.5 86.4,308 86.9,307.6 87.5,307.2 88,307.6 88.5,307.8 89.1,308.5 89.6,307.8 90.1,307.6 90.7,307.5 91.2,307.6 91.8,307.1 92.3,307.4 92.8,307.2 93.4,306.9 93.9,307.3 94.4,307.1 95,306.2 95.5,306.6 96,307.3 96.6,306.8 97.1,306.5 97.7,306.2 98.2,306.5 98.7,306.7 99.3,306.7 99.8,306.2 100.3,306.2 100.9,306.5 101.4,306.3 102,306.3 102.5,305.8 103,306.3 103.6,305.8 104.1,305.6 104.6,305.7 105.2,306.1 105.7,305.2 106.3,306 106.8,305.5 107.3,305.9 107.9,306.2 108.4,305.4 108.9,305.3 109.5,305.4 110,305.2 110.6,305.5 111.1,305.5 111.6,305.3 112.2,304.4 112.7,304.8 113.2,305.3 113.8,304.8 114.3,305.2 114.8,305.2 115.4,304.6 115.9,305.2 116.5,305.6 117,305.3 117.5,304.9 118.1,304.9 118.6,304.4 119.1,305.2 119.7,304.6 120.2,304.7 120.8,305 121.3,304.6 121.8,304.7 122.4,305.3 122.9,304.5 123.4,305.5 124,305 124.5,305 125.1,304.8 125.6,305.3 126.1,305.1 126.7,305.2 127.2,304.7 127.7,305.5 128.3,305.2 128.8,305.3 129.4,305.8 129.9,304.2 130.4,305.4 131,306 131.5,304.8 132,305.9 132.6,305.4 133.1,305.2 133.6,305.9 134.2,305.8 134.7,305.9 135.3,305.8 135.8,306.4 136.3,306.3 136.9,306 137.4,305.5 137.9,305.8 138.5,305.4 139,305.8 139.6,306.4 140.1,306.3 140.6,307 141.2,306.7 141.7,306.8 142.2,306.3 142.8,306.2 143.3,306.7 143.9,306.8 144.4,307.2 144.9,306.7 145.5,306.7 146,306.6 146.5,307.1 147.1,306.2 147.6,306.5 148.2,307 148.7,307.2 149.2,307.2 149.8,307.1 150.3,307.2 150.8,307.1 151.4,307 151.9,306.8 152.4,307 153,307.4 153.5,307.3 154.1,307.6 154.6,307.7 155.1,306.9 155.7,307.7 156.2,307 156.7,307.8 157.3,307.6 157.8,307.4 158.4,307.7 158.9,307.6 159.4,307.9 160,308 160.5,307.9 161,308.1 161.6,307.4 162.1,308 162.7,307.4 163.2,308.8 163.7,308 164.3,307.9 164.8,308.1 165.3,307.7 165.9,307.9 166.4,308.2 166.9,308 167.5,307.3 168,308.1 168.6,308.1 169.1,308.3 169.6,308.1 170.2,308.6 170.7,308.3 171.2,307.5 171.8,307.9 172.3,308.1 172.9,307.9 173.4,307.7 173.9,308.1 174.5,307.7 175,308 175.5,308.2 176.1,307.8 176.6,309 177.2,308.5 177.7,308.2 178.2,308.6 178.8,308.4 179.3,308.5 179.8,308.5 180.4,307.6 180.9,308.2 181.5,308.4 182,308 182.5,308.4 183.1,308.1 183.6,308.3 184.1,307.9 184.7,308.7 185.2,308.2 185.7,308.3 186.3,308.7 186.8,308.1 187.4,308.6 187.9,308 188.4,308.2 189,308.2 189.5,308.4 190,308.2 190.6,308.9 191.1,308.4 191.7,308.6 192.2,308.3 192.7,308.4 193.3,308.2 193.8,308.6 194.3,307.9 194.9,307.8 195.4,308.4 196,308.4 196.5,308.3 197,308.1 197.6,307.9 198.1,308.7 198.6,308.6 199.2,308.7 199.7,308.7 200.3,308.8 200.8,308.3 201.3,308.7 201.9,308 202.4,308.2" fill="none" stroke="#6b4343" stroke-width="2.7" stroke-linejoin="round"/>
<polyline points="41.8,308.7 42.3,308.7 42.9,308.6 43.4,308 43.9,308.6 44.5,308.8 45,308.4 45.6,308.3 46.1,308.6 46.6,308 47.2,308.3 47.7,308.3 48.2,308.6 48.8,308.4 49.3,308.4 49.9,309 50.4,308.3 50.9,308.9 51.5,308.4 52,308.8 52.5,307.9 53.1,308.3 53.6,308.2 54.2,308.1 54.7,308.7 55.2,309 55.8,308.5 56.3,308.1 56.8,308.4 57.4,308.2 57.9,308.1 58.5,308.8 59,308.3 59.5,307.8 60.1,308.5 60.6,308.9 61.1,308.4 61.7,308.5 62.2,308.2 62.7,308.6 63.3,308.3 63.8,308.9 64.4,308.1 64.9,307.9 65.4,307.9 66,308.7 66.5,308.2 67,309.1 67.6,308.2 68.1,308.3 68.7,308.5 69.2,308.1 69.7,308.2 70.3,307.9 70.8,308.1 71.3,308.1 71.9,308.7 72.4,308.5 73,308.2 73.5,308 74,308.1 74.6,307.6 75.1,308.3 75.6,308 76.2,307.9 76.7,308 77.3,307.7 77.8,308 78.3,307.3 78.9,307.9 79.4,307.3 79.9,307.7 80.5,307.1 81,308 81.5,307.3 82.1,307.6 82.6,307.3 83.2,306.9 83.7,307.7 84.2,307.7 84.8,307.5 85.3,307 85.8,307.6 86.4,306.9 86.9,307.3 87.5,307.1 88,306.8 88.5,306.4 89.1,306.7 89.6,306.5 90.1,306.3 90.7,306.3 91.2,307.1 91.8,306.1 92.3,305.8 92.8,305.3 93.4,304.8 93.9,305.2 94.4,305.3 95,305.6 95.5,305.1 96,304.6 96.6,304.3 97.1,305.1 97.7,304.5 98.2,304.1 98.7,303.5 99.3,304 99.8,304.3 100.3,304.2 100.9,303.9 101.4,303.9 102,303.1 102.5,302.8 103,302.8 103.6,302.5 104.1,303.1 104.6,302.6 105.2,302.8 105.7,302.5 106.3,301.8 106.8,302.3 107.3,303 107.9,302.1 108.4,302.2 108.9,302.5 109.5,302.1 110,301.1 110.6,300.7 111.1,301.6 111.6,300.8 112.2,300.6 112.7,301.7 113.2,301.1 113.8,301 114.3,300.9 114.8,301.7 115.4,301 115.9,300.3 116.5,300.1 117,299.8 117.5,300.9 118.1,299.8 118.6,300.4 119.1,301.4 119.7,300.3 120.2,300.9 120.8,300.5 121.3,300.8 121.8,300.2 122.4,300.7 122.9,301 123.4,300.4 124,300.8 124.5,301.2 125.1,300.4 125.6,301.3 126.1,301.5 126.7,301.5 127.2,302 127.7,301.7 128.3,300.6 128.8,302 129.4,301.6 129.9,302.3 130.4,302.1 131,301.2 131.5,301.6 132,302.4 132.6,302.2 133.1,302.7 133.6,302.8 134.2,303 134.7,303.1 135.3,302.6 135.8,302.6 136.3,302.8 136.9,303.2 137.4,303.9 137.9,303.4 138.5,303.9 139,303.2 139.6,303.5 140.1,303.5 140.6,304.2 141.2,304.9 141.7,303.8 142.2,303.8 142.8,305.1 143.3,304.5 143.9,304.2 144.4,305.3 144.9,304.2 145.5,305.2 146,305.6 146.5,304.7 147.1,305.3 147.6,305.8 148.2,305.3 148.7,306.5 149.2,305.1 149.8,306.2 150.3,305.9 150.8,306.3 151.4,306 151.9,305.9 152.4,306.7 153,306.2 153.5,306.6 154.1,306.9 154.6,306.8 155.1,307.1 155.7,307.1 156.2,306.6 156.7,307 157.3,306.6 157.8,307 158.4,307.5 158.9,307.9 159.4,307.5 160,307.3 160.5,307.4 161,307.7 161.6,307.2 162.1,308.1 162.7,308 163.2,307.6 163.7,307 164.3,307.6 164.8,308.1 165.3,307.6 165.9,307.6 166.4,307.6 166.9,308 167.5,308.2 168,307.9 168.6,307.9 169.1,307.5 169.6,307.4 170.2,308.3 170.7,308.2 171.2,308.1 171.8,308.2 172.3,308 172.9,308 173.4,308.1 173.9,307.8 174.5,308.2 175,308.5 175.5,308.7 176.1,308.5 176.6,308.5 177.2,308.8 177.7,308.1 178.2,308.2 178.8,308.4 179.3,308.5 179.8,308.7 180.4,308.6 180.9,307.8 181.5,308.9 182,308.3 182.5,308.1 183.1,308.3 183.6,308.4 184.1,308.1 184.7,308.7 185.2,308.2 185.7,308 186.3,308.6 186.8,308.6 187.4,308.3 187.9,308.1 188.4,308 189,308.2 189.5,308.6 190,308.7 190.6,308.3 191.1,308.3 191.7,308.7 192.2,308.4 192.7,308.3 193.3,308.1 193.8,308.6 194.3,308.2 194.9,308.7 195.4,308.5 196,308.4 196.5,308 197,307.5 197.6,308.3 198.1,308.3 198.6,308.1 199.2,308.7 199.7,308.2 200.3,308.7 200.8,308 201.3,308 201.9,308.3 202.4,308.6" fill="none" stroke="#17a0c8" stroke-width="2.7" stroke-linejoin="round"/>
<polyline points="41.8,308 42.3,308.3 42.9,308.4 43.4,308.3 43.9,308.8 44.5,308.3 45,308.1 45.6,308.3 46.1,308.4 46.6,308.6 47.2,308.2 47.7,308.3 48.2,308.4 48.8,308.5 49.3,308.2 49.9,308.1 50.4,308.3 50.9,308.2 51.5,308 52,308 52.5,308.3 53.1,308.4 53.6,308.5 54.2,308.4 54.7,308.2 55.2,308.1 55.8,308.5 56.3,308.3 56.8,308.6 57.4,308 57.9,308.5 58.5,308.2 59,308.5 59.5,308.4 60.1,308.5 60.6,307.8 61.1,308.2 61.7,308.3 62.2,308.6 62.7,308.4 63.3,308.1 63.8,307.8 64.4,308.6 64.9,308.5 65.4,308.2 66,308.4 66.5,308.6 67,308.1 67.6,307.9 68.1,308.6 68.7,308 69.2,307.7 69.7,307.7 70.3,308.1 70.8,307.2 71.3,307.7 71.9,308.1 72.4,307.4 73,308.1 73.5,307.4 74,308 74.6,307.3 75.1,307.6 75.6,307 76.2,307 76.7,307 77.3,307.1 77.8,306.6 78.3,307.6 78.9,306.6 79.4,306.5 79.9,306.4 80.5,306.1 81,304.9 81.5,306.1 82.1,305.7 82.6,305.8 83.2,305 83.7,306.3 84.2,304.6 84.8,305.4 85.3,305.9 85.8,305.2 86.4,304.6 86.9,304.2 87.5,304.1 88,303.4 88.5,303.6 89.1,303.3 89.6,304 90.1,302.5 90.7,302 91.2,302.3 91.8,302.7 92.3,302.2 92.8,300.4 93.4,301.2 93.9,300.9 94.4,300.6 95,299.5 95.5,299.8 96,299.6 96.6,299.5 97.1,298.4 97.7,297.4 98.2,297.7 98.7,296.7 99.3,296.7 99.8,296.3 100.3,295.9 100.9,295.6 101.4,294.6 102,294.5 102.5,294.8 103,294 103.6,293.7 104.1,293 104.6,292.8 105.2,292.3 105.7,293 106.3,291.6 106.8,290.6 107.3,291.9 107.9,289.8 108.4,290.3 108.9,290.3 109.5,291 110,288.9 110.6,289.9 111.1,289.4 111.6,288.4 112.2,289.2 112.7,289 113.2,288.9 113.8,288.1 114.3,287.4 114.8,287.4 115.4,287.3 115.9,287.7 116.5,287.3 117,287.8 117.5,286 118.1,287.2 118.6,288.6 119.1,288 119.7,286.3 120.2,288.3 120.8,287.8 121.3,287.3 121.8,288.4 122.4,287 122.9,286.8 123.4,288.5 124,287.4 124.5,288.9 125.1,289.1 125.6,288.5 126.1,288.7 126.7,289.5 127.2,288.8 127.7,290.5 128.3,290.4 128.8,290.8 129.4,289.9 129.9,290.1 130.4,290.5 131,292 131.5,291.4 132,291.5 132.6,293.1 133.1,292.9 133.6,292.4 134.2,292.7 134.7,293.3 135.3,293.4 135.8,293.9 136.3,294.3 136.9,294.8 137.4,295.6 137.9,295.6 138.5,296 139,294.8 139.6,296.4 140.1,296.8 140.6,297.3 141.2,297.6 141.7,298 142.2,297.9 142.8,298.5 143.3,298.4 143.9,299.5 144.4,299.3 144.9,299.3 145.5,300.7 146,300.3 146.5,300.6 147.1,301.2 147.6,301.5 148.2,302.5 148.7,301.3 149.2,302.6 149.8,303 150.3,302.3 150.8,303.7 151.4,302.7 151.9,303.1 152.4,303.3 153,303.9 153.5,304.5 154.1,305 154.6,303.8 155.1,304.8 155.7,305 156.2,304.3 156.7,305.4 157.3,305.4 157.8,305.6 158.4,305.7 158.9,306.2 159.4,306.1 160,305.6 160.5,305.9 161,307.4 161.6,307.2 162.1,306.4 162.7,306.7 163.2,306.9 163.7,306.5 164.3,307.6 164.8,306.6 165.3,307.1 165.9,307 166.4,307.2 166.9,307 167.5,307.5 168,307.7 168.6,307.3 169.1,307.5 169.6,308.1 170.2,307.3 170.7,307.4 171.2,307.3 171.8,307.8 172.3,307.8 172.9,308 173.4,308.2 173.9,308 174.5,308 175,308.2 175.5,307.5 176.1,308.6 176.6,308.4 177.2,308.3 177.7,307.8 178.2,308.2 178.8,308.3 179.3,308.5 179.8,308.4 180.4,308.6 180.9,308 181.5,308.1 182,308 182.5,308.5 183.1,307.6 183.6,308.6 184.1,308.9 184.7,308.4 185.2,308.3 185.7,308.1 186.3,308.6 186.8,308.2 187.4,307.9 187.9,308.6 188.4,308.6 189,308.8 189.5,308.3 190,308.1 190.6,308.2 191.1,308.2 191.7,308 192.2,308.3 192.7,308.1 193.3,308.6 193.8,308.6 194.3,308.3 194.9,308.6 195.4,308.2 196,308 196.5,308.3 197,308.6 197.6,308.6 198.1,308 198.6,308.6 199.2,308.4 199.7,308.5 200.3,308.4 200.8,308.1 201.3,308.5 201.9,308.8 202.4,308" fill="none" stroke="#d4900a" stroke-width="2.7" stroke-linejoin="round"/>
<polyline points="41.8,308.3 42.3,308.2 42.9,308.4 43.4,308.2 43.9,308.1 44.5,308 45,308.5 45.6,308.5 46.1,308.3 46.6,308.3 47.2,308.2 47.7,308.6 48.2,309 48.8,308.3 49.3,308.2 49.9,308.2 50.4,307.9 50.9,308.2 51.5,308.5 52,308.1 52.5,308.4 53.1,308 53.6,308.3 54.2,308.2 54.7,308.3 55.2,308.3 55.8,308.7 56.3,308.3 56.8,308.9 57.4,308.2 57.9,308 58.5,307.7 59,308.2 59.5,308.5 60.1,308.7 60.6,307.6 61.1,308.6 61.7,307.9 62.2,308.8 62.7,308.1 63.3,307.9 63.8,307.9 64.4,308 64.9,308.2 65.4,308.2 66,307.5 66.5,307.7 67,307.8 67.6,307.6 68.1,307.9 68.7,307.2 69.2,307 69.7,307.6 70.3,307.2 70.8,306.7 71.3,307.2 71.9,306.1 72.4,306.2 73,306.7 73.5,306 74,305.6 74.6,306.5 75.1,305.6 75.6,305.7 76.2,305.4 76.7,304.8 77.3,305 77.8,305.1 78.3,304.9 78.9,303.9 79.4,303.3 79.9,303.2 80.5,302.9 81,302.4 81.5,301.3 82.1,301.2 82.6,301.4 83.2,300.6 83.7,299.3 84.2,299.7 84.8,299 85.3,298.2 85.8,298.1 86.4,296.4 86.9,297.4 87.5,294.6 88,294.9 88.5,294.6 89.1,292.9 89.6,293.2 90.1,291 90.7,289.9 91.2,289.8 91.8,288.7 92.3,286.9 92.8,286.9 93.4,285.4 93.9,284.1 94.4,282.2 95,282.5 95.5,281 96,279.1 96.6,280.6 97.1,277.7 97.7,277.8 98.2,276.6 98.7,272.4 99.3,272.6 99.8,270.3 100.3,270.5 100.9,268.6 101.4,268.2 102,267.1 102.5,265.5 103,264.2 103.6,261.8 104.1,262.1 104.6,260.5 105.2,260 105.7,258.6 106.3,258.8 106.8,255.7 107.3,256.1 107.9,254.7 108.4,254 108.9,252.1 109.5,251.7 110,251.5 110.6,250.6 111.1,249.8 111.6,248.9 112.2,248.6 112.7,247.4 113.2,246.6 113.8,247.3 114.3,248.8 114.8,245.7 115.4,245.1 115.9,247.5 116.5,247.5 117,249.1 117.5,246.5 118.1,248.3 118.6,245.8 119.1,250.2 119.7,248 120.2,247.8 120.8,249.2 121.3,250 121.8,249.5 122.4,250.7 122.9,251.1 123.4,251.5 124,252.6 124.5,253 125.1,252.8 125.6,254.6 126.1,254.9 126.7,256.5 127.2,255.9 127.7,258.7 128.3,257.7 128.8,262.1 129.4,261.2 129.9,262.8 130.4,261.5 131,263.2 131.5,265.5 132,265.9 132.6,265.4 133.1,267.6 133.6,268.2 134.2,270.9 134.7,272 135.3,271.4 135.8,271.1 136.3,274.4 136.9,274.6 137.4,276.8 137.9,276.2 138.5,278.5 139,279.6 139.6,281.6 140.1,281.6 140.6,282.1 141.2,282.3 141.7,285 142.2,284.5 142.8,286.3 143.3,287.2 143.9,288.5 144.4,289.8 144.9,290.3 145.5,289.4 146,291.9 146.5,292.2 147.1,292.1 147.6,294.7 148.2,293.9 148.7,295.2 149.2,295.4 149.8,295.7 150.3,296.9 150.8,297.5 151.4,297.6 151.9,298.2 152.4,299.5 153,299.7 153.5,300.8 154.1,299.9 154.6,301.6 155.1,301.3 155.7,301 156.2,301.8 156.7,302.7 157.3,303.3 157.8,303.6 158.4,303.2 158.9,303.8 159.4,304.2 160,303.4 160.5,305.1 161,305.2 161.6,305.4 162.1,305.3 162.7,305.5 163.2,305.9 163.7,305.7 164.3,306 164.8,306.5 165.3,307.4 165.9,306.3 166.4,307.1 166.9,307.1 167.5,307.1 168,307.6 168.6,307.5 169.1,307.3 169.6,307.5 170.2,307.4 170.7,307.8 171.2,307.7 171.8,308 172.3,307.9 172.9,307.7 173.4,307.9 173.9,308.4 174.5,308 175,308 175.5,307.7 176.1,308.1 176.6,308.2 177.2,308.5 177.7,307.6 178.2,308.5 178.8,308.5 179.3,308.3 179.8,308.8 180.4,308 180.9,308.2 181.5,308.1 182,308.6 182.5,308.5 183.1,308.1 183.6,308.1 184.1,307.6 184.7,308 185.2,308.9 185.7,308.3 186.3,308.5 186.8,308.1 187.4,308.4 187.9,308.2 188.4,308.5 189,308.2 189.5,308 190,308.6 190.6,308.9 191.1,308.7 191.7,308 192.2,308.3 192.7,308.5 193.3,308.7 193.8,308.1 194.3,308.3 194.9,308.4 195.4,308.5 196,308.4 196.5,308.5 197,308.3 197.6,308.1 198.1,308.9 198.6,308.8 199.2,308.4 199.7,308.4 200.3,308.8 200.8,308.6 201.3,308.5 201.9,308.5 202.4,308.5" fill="none" stroke="#b070d8" stroke-width="2.7" stroke-linejoin="round"/>
<polyline points="41.8,308.4 42.3,308.2 42.9,308.2 43.4,308.3 43.9,308.3 44.5,308.6 45,308.5 45.6,308.2 46.1,308.4 46.6,308.2 47.2,308.3 47.7,308.4 48.2,308.3 48.8,308.8 49.3,308.4 49.9,308.5 50.4,308.2 50.9,308.6 51.5,308.3 52,308.5 52.5,308.2 53.1,308.2 53.6,308.4 54.2,308.3 54.7,308.3 55.2,308.1 55.8,308.4 56.3,308.3 56.8,308.4 57.4,308.6 57.9,308.2 58.5,308.1 59,308.5 59.5,307.8 60.1,308.4 60.6,307.9 61.1,308 61.7,308.6 62.2,308.1 62.7,308.5 63.3,308 63.8,307.7 64.4,307.3 64.9,307.6 65.4,308.2 66,307.8 66.5,307.1 67,307.4 67.6,306.8 68.1,307.5 68.7,307.4 69.2,307.5 69.7,307 70.3,306.3 70.8,306.9 71.3,306.1 71.9,306 72.4,305.7 73,305.9 73.5,305.5 74,304.4 74.6,305.5 75.1,304.4 75.6,303.7 76.2,303.8 76.7,302.9 77.3,304.6 77.8,302.9 78.3,302.9 78.9,302.1 79.4,301.4 79.9,300.5 80.5,300.6 81,299.1 81.5,299.8 82.1,297.7 82.6,297.6 83.2,297.7 83.7,296.9 84.2,296.1 84.8,294.8 85.3,293.2 85.8,291.4 86.4,290.7 86.9,291 87.5,290.5 88,288.1 88.5,287.6 89.1,285.5 89.6,284.6 90.1,280.9 90.7,282.6 91.2,279.7 91.8,277.1 92.3,277.3 92.8,276 93.4,272.5 93.9,273.9 94.4,271.9 95,269.8 95.5,266.8 96,264.7 96.6,263.7 97.1,259.9 97.7,260.1 98.2,258.1 98.7,256.6 99.3,253.3 99.8,252.6 100.3,251.1 100.9,247.3 101.4,245.8 102,244.3 102.5,244.7 103,242.7 103.6,240.2 104.1,238.5 104.6,237 105.2,235.1 105.7,232.7 106.3,232.8 106.8,230.1 107.3,229.3 107.9,228.1 108.4,226.6 108.9,224.3 109.5,223.6 110,223.7 110.6,221.5 111.1,220.9 111.6,219.8 112.2,219.8 112.7,217.8 113.2,218 113.8,219.3 114.3,219.1 114.8,219 115.4,216.9 115.9,218.1 116.5,217.8 117,217.6 117.5,216.4 118.1,215.7 118.6,218.6 119.1,216.7 119.7,218.9 120.2,218.7 120.8,221.1 121.3,222.9 121.8,221.8 122.4,221.8 122.9,225.8 123.4,225.2 124,226 124.5,226.7 125.1,229.7 125.6,230.3 126.1,230 126.7,230.4 127.2,233.6 127.7,234.1 128.3,236.3 128.8,237.5 129.4,239.9 129.9,241.2 130.4,243.1 131,244 131.5,244.6 132,247.1 132.6,248.3 133.1,251.1 133.6,251.5 134.2,256.7 134.7,256.7 135.3,257.3 135.8,260.2 136.3,259.7 136.9,261.6 137.4,264.2 137.9,264.8 138.5,267.7 139,268.7 139.6,269.8 140.1,272.3 140.6,271.6 141.2,274.4 141.7,274.5 142.2,276.7 142.8,277.7 143.3,279.9 143.9,280.8 144.4,282.1 144.9,282.8 145.5,283.2 146,285.7 146.5,286.5 147.1,287.2 147.6,287.9 148.2,289.6 148.7,290.7 149.2,291.8 149.8,292.3 150.3,293 150.8,294.4 151.4,295 151.9,295.1 152.4,296.3 153,297.3 153.5,297.3 154.1,297.9 154.6,298.6 155.1,299.1 155.7,300.2 156.2,300.4 156.7,300.9 157.3,301.5 157.8,302.8 158.4,302.4 158.9,302.6 159.4,302.9 160,303.7 160.5,303.8 161,305 161.6,305.1 162.1,306 162.7,305.1 163.2,304.6 163.7,304.8 164.3,306.2 164.8,305.7 165.3,305.6 165.9,306.4 166.4,307.2 166.9,306.1 167.5,306.9 168,307 168.6,306.4 169.1,306.9 169.6,306.9 170.2,306.8 170.7,307.5 171.2,307.8 171.8,307.3 172.3,307.6 172.9,307.5 173.4,307.6 173.9,308.1 174.5,307.9 175,308 175.5,308 176.1,308 176.6,307.9 177.2,308 177.7,308.5 178.2,307.9 178.8,308.6 179.3,307.5 179.8,308.4 180.4,308.2 180.9,307.8 181.5,308.3 182,308.6 182.5,308.7 183.1,308.2 183.6,308.2 184.1,308.1 184.7,308.2 185.2,308.5 185.7,308.2 186.3,307.9 186.8,308.6 187.4,307.4 187.9,308.5 188.4,308 189,307.9 189.5,308.1 190,308.3 190.6,308.2 191.1,308 191.7,309.1 192.2,308.3 192.7,308.5 193.3,308.6 193.8,308.3 194.3,308.3 194.9,308.3 195.4,308.5 196,308.1 196.5,308.9 197,308.6 197.6,308.7 198.1,308.4 198.6,308.5 199.2,308.3 199.7,308.6 200.3,308.1 200.8,308.2 201.3,308.5 201.9,308.8 202.4,308.7" fill="none" stroke="#12956a" stroke-width="2.7" stroke-linejoin="round"/>
<polyline points="41.8,308.8 42.3,308.1 42.9,308.2 43.4,308.7 43.9,307.9 44.5,308.5 45,309 45.6,308.1 46.1,308.1 46.6,308.4 47.2,308.6 47.7,308.1 48.2,308.5 48.8,308.4 49.3,308.3 49.9,308.3 50.4,308.5 50.9,308.6 51.5,308.2 52,309 52.5,308.3 53.1,308.3 53.6,308.2 54.2,308.4 54.7,308.3 55.2,308.1 55.8,308.6 56.3,308.3 56.8,308.2 57.4,308.6 57.9,308.5 58.5,307.8 59,307.9 59.5,308.4 60.1,307.9 60.6,308 61.1,307.6 61.7,307.7 62.2,308.7 62.7,308 63.3,307.4 63.8,307.3 64.4,308 64.9,308.1 65.4,307.5 66,307.7 66.5,307.4 67,307.7 67.6,306.9 68.1,306.9 68.7,306.8 69.2,307.2 69.7,307.3 70.3,306.9 70.8,306.1 71.3,306.8 71.9,305.6 72.4,304.9 73,305.6 73.5,305.1 74,304.3 74.6,304 75.1,304.3 75.6,303.8 76.2,303.2 76.7,303 77.3,302.1 77.8,301.7 78.3,300.7 78.9,301.6 79.4,299.6 79.9,299.1 80.5,298.9 81,297.9 81.5,296.8 82.1,296.4 82.6,295.9 83.2,294.7 83.7,294.3 84.2,293.7 84.8,292.4 85.3,291.2 85.8,289.5 86.4,287.9 86.9,287 87.5,284.9 88,284.6 88.5,283.6 89.1,282.2 89.6,280.8 90.1,278.8 90.7,276 91.2,276.5 91.8,273.2 92.3,271.9 92.8,269.4 93.4,268.6 93.9,265.7 94.4,264.8 95,261.9 95.5,262.2 96,258 96.6,255.7 97.1,255.7 97.7,251.4 98.2,251.1 98.7,247 99.3,245.8 99.8,243 100.3,241.1 100.9,240.6 101.4,235.7 102,233.9 102.5,234.1 103,230.4 103.6,228.5 104.1,227.7 104.6,226.2 105.2,221.8 105.7,221.8 106.3,218.6 106.8,215.8 107.3,215.7 107.9,215.7 108.4,212.1 108.9,213.3 109.5,211.5 110,205.9 110.6,209.1 111.1,206.7 111.6,207.4 112.2,205.5 112.7,204.5 113.2,207.2 113.8,204.4 114.3,202.5 114.8,202 115.4,202.5 115.9,204 116.5,202.5 117,203.8 117.5,204.4 118.1,203.8 118.6,201.6 119.1,205.8 119.7,204.2 120.2,205.8 120.8,208.6 121.3,208.8 121.8,208.9 122.4,210.3 122.9,210.5 123.4,213.1 124,214.4 124.5,213.4 125.1,215.9 125.6,218.2 126.1,218.8 126.7,218.3 127.2,222.5 127.7,225.1 128.3,224.2 128.8,224.8 129.4,227.3 129.9,231.7 130.4,234.3 131,232.7 131.5,236 132,237.1 132.6,239.7 133.1,239.7 133.6,243.2 134.2,245.4 134.7,246.9 135.3,250 135.8,250.6 136.3,252.7 136.9,256.4 137.4,257.3 137.9,259.2 138.5,261.2 139,261.3 139.6,262.4 140.1,264.8 140.6,268 141.2,269.9 141.7,269.4 142.2,271.9 142.8,273.2 143.3,275.7 143.9,277.7 144.4,275.9 144.9,279.4 145.5,280.5 146,282.5 146.5,281.9 147.1,284.4 147.6,285.5 148.2,286.5 148.7,287.7 149.2,287.8 149.8,290.9 150.3,290.4 150.8,292.1 151.4,292.9 151.9,293.9 152.4,294.1 153,295.9 153.5,296.3 154.1,296.4 154.6,297.7 155.1,298.3 155.7,298.5 156.2,299.3 156.7,300.1 157.3,300.4 157.8,301.4 158.4,301 158.9,302.4 159.4,303.1 160,302.6 160.5,303.8 161,304 161.6,304 162.1,303.9 162.7,304.7 163.2,305 163.7,305.2 164.3,305.2 164.8,305.7 165.3,305.7 165.9,305.4 166.4,306.2 166.9,306.5 167.5,306.8 168,306.9 168.6,307.3 169.1,307.3 169.6,307.3 170.2,307.1 170.7,307.1 171.2,307.5 171.8,307.4 172.3,308 172.9,306.9 173.4,306.9 173.9,307.8 174.5,307.7 175,307.8 175.5,307.7 176.1,308.2 176.6,308.5 177.2,307.8 177.7,308.4 178.2,308 178.8,308.4 179.3,308.4 179.8,307.9 180.4,307.7 180.9,308.3 181.5,308.4 182,308.2 182.5,308.4 183.1,308.8 183.6,308.3 184.1,308.9 184.7,308.2 185.2,308.5 185.7,308.3 186.3,308.8 186.8,308.6 187.4,308.2 187.9,308 188.4,308.2 189,308.3 189.5,308.7 190,308.2 190.6,308.4 191.1,308.5 191.7,308.1 192.2,308.6 192.7,307.9 193.3,308.6 193.8,308.6 194.3,308.4 194.9,308.8 195.4,308.5 196,308.4 196.5,308.8 197,308.6 197.6,308.8 198.1,308.5 198.6,308.1 199.2,308.5 199.7,308.5 200.3,308.4 200.8,308.7 201.3,308.4 201.9,308.5 202.4,308.6" fill="none" stroke="#1f5fcf" stroke-width="2.7" stroke-linejoin="round"/>
<polyline points="41.8,308.9 42.3,308.6 42.9,308.2 43.4,308.1 43.9,308.5 44.5,308.4 45,308.5 45.6,308.7 46.1,308.9 46.6,308 47.2,308.7 47.7,308.3 48.2,308 48.8,308.5 49.3,308.4 49.9,308.3 50.4,308.5 50.9,308.3 51.5,308.5 52,308.1 52.5,308.2 53.1,308.7 53.6,308.7 54.2,308.5 54.7,308.5 55.2,308.5 55.8,308 56.3,308.5 56.8,308.4 57.4,308.2 57.9,308.8 58.5,308.1 59,308 59.5,307.7 60.1,308.4 60.6,308.2 61.1,308 61.7,308.1 62.2,308.4 62.7,307.6 63.3,307.9 63.8,307.7 64.4,308.1 64.9,307.3 65.4,307.7 66,307.7 66.5,307.1 67,306.9 67.6,307.5 68.1,306.6 68.7,306.3 69.2,306.6 69.7,307 70.3,306.1 70.8,305.7 71.3,306.3 71.9,305 72.4,305.5 73,305.2 73.5,304.3 74,304.4 74.6,303.6 75.1,303.8 75.6,303.2 76.2,302.9 76.7,302.3 77.3,301.7 77.8,301.2 78.3,301 78.9,299.7 79.4,299.6 79.9,298.3 80.5,297.8 81,297.4 81.5,297 82.1,295.7 82.6,294 83.2,293.7 83.7,292.2 84.2,291.8 84.8,290.8 85.3,289.9 85.8,289.5 86.4,286.8 86.9,285.6 87.5,284.3 88,282.2 88.5,282 89.1,278.5 89.6,279.2 90.1,276.3 90.7,275.6 91.2,273.2 91.8,270.2 92.3,270.4 92.8,267.1 93.4,265.2 93.9,263.1 94.4,261 95,258.4 95.5,256.5 96,254.5 96.6,251.8 97.1,249.7 97.7,248.2 98.2,247 98.7,242.8 99.3,241.6 99.8,237.3 100.3,237.3 100.9,235.6 101.4,231 102,230.7 102.5,229.2 103,224.2 103.6,224.9 104.1,219.7 104.6,220.1 105.2,216.6 105.7,214.8 106.3,215.2 106.8,211.4 107.3,210.1 107.9,207.8 108.4,205.7 108.9,203 109.5,203.7 110,202.2 110.6,198.4 111.1,199 111.6,197.9 112.2,199.8 112.7,198.9 113.2,197.3 113.8,196.3 114.3,195.1 114.8,192.2 115.4,196.8 115.9,195.8 116.5,194.7 117,195.3 117.5,194.5 118.1,196.6 118.6,197.8 119.1,194.8 119.7,197.5 120.2,200.2 120.8,200 121.3,200.6 121.8,203.3 122.4,201.7 122.9,203.6 123.4,205.5 124,207.1 124.5,205.9 125.1,209.3 125.6,211.6 126.1,214.7 126.7,215.2 127.2,214.9 127.7,215.8 128.3,220.5 128.8,223.3 129.4,222.8 129.9,224.8 130.4,225.8 131,229.4 131.5,230.5 132,234.5 132.6,235.8 133.1,237.1 133.6,239 134.2,240.1 134.7,241.4 135.3,246 135.8,245 136.3,249.3 136.9,251 137.4,251.5 137.9,256.7 138.5,257.7 139,259 139.6,260.1 140.1,261 140.6,262.8 141.2,266.3 141.7,266.6 142.2,269.3 142.8,269.4 143.3,272.5 143.9,273 144.4,276.2 144.9,276.3 145.5,279.3 146,279.7 146.5,282.3 147.1,282.5 147.6,284.3 148.2,285.6 148.7,286 149.2,286.8 149.8,288.4 150.3,289.3 150.8,290.1 151.4,290.8 151.9,291.8 152.4,293.1 153,293.1 153.5,295.4 154.1,295.4 154.6,297.2 155.1,296 155.7,298.1 156.2,298.6 156.7,298.6 157.3,300 157.8,300.8 158.4,301.9 158.9,301.6 159.4,300.9 160,302.3 160.5,302 161,302.8 161.6,303.7 162.1,304.5 162.7,304.3 163.2,304.2 163.7,304.9 164.3,305 164.8,305.1 165.3,305.7 165.9,306.4 166.4,306.1 166.9,306 167.5,306.7 168,306.9 168.6,307 169.1,306.9 169.6,307 170.2,307.1 170.7,307.6 171.2,307.3 171.8,307.6 172.3,307.8 172.9,308.2 173.4,308 173.9,307.9 174.5,307.7 175,307.7 175.5,307.9 176.1,307.9 176.6,308.3 177.2,307.8 177.7,307.8 178.2,307.9 178.8,308.3 179.3,308.2 179.8,308.3 180.4,308.6 180.9,308.3 181.5,308.7 182,308.8 182.5,308.1 183.1,308.1 183.6,308.1 184.1,308.4 184.7,308.3 185.2,308.2 185.7,308.4 186.3,308.9 186.8,307.7 187.4,308 187.9,308 188.4,308.3 189,308.6 189.5,308.4 190,308.3 190.6,308.7 191.1,308.5 191.7,308.2 192.2,308 192.7,308.2 193.3,308.5 193.8,308.7 194.3,307.9 194.9,308.4 195.4,308.2 196,308.4 196.5,308.7 197,307.8 197.6,308.2 198.1,308.1 198.6,308.6 199.2,308.4 199.7,308.1 200.3,308.5 200.8,308.6 201.3,308.7 201.9,308.7 202.4,308.2" fill="none" stroke="#ee2a2a" stroke-width="2.7" stroke-linejoin="round"/>
<polyline points="41.8,308.4 42.3,308.9 42.9,308 43.4,308.1 43.9,308.1 44.5,308.9 45,308.4 45.6,308.1 46.1,308.7 46.6,308.6 47.2,308.5 47.7,308.9 48.2,308.3 48.8,308.1 49.3,308.2 49.9,308 50.4,308.3 50.9,308.4 51.5,308.4 52,308.5 52.5,308.6 53.1,308.5 53.6,308.4 54.2,308.5 54.7,308.3 55.2,308.3 55.8,308.1 56.3,308.4 56.8,308.8 57.4,308.5 57.9,307.7 58.5,308 59,308.3 59.5,308.2 60.1,308.1 60.6,308.2 61.1,308 61.7,307.8 62.2,307.6 62.7,308 63.3,307.9 63.8,307.9 64.4,307.7 64.9,307.3 65.4,307.8 66,306.7 66.5,307.1 67,306.8 67.6,307.4 68.1,307.1 68.7,307 69.2,306.6 69.7,307.2 70.3,306 70.8,306.7 71.3,305.6 71.9,305.1 72.4,305.3 73,305 73.5,304.7 74,304.4 74.6,303.8 75.1,303.1 75.6,302.8 76.2,301.9 76.7,302.1 77.3,301.9 77.8,301.3 78.3,301.1 78.9,300 79.4,299.4 79.9,297.5 80.5,297.4 81,295.8 81.5,297.1 82.1,294.9 82.6,293.5 83.2,292.9 83.7,292.3 84.2,290.8 84.8,289.7 85.3,288.4 85.8,287.1 86.4,285.3 86.9,284.4 87.5,282.8 88,281.5 88.5,279.6 89.1,278.8 89.6,276.2 90.1,275.1 90.7,272.4 91.2,271.7 91.8,269.3 92.3,267.4 92.8,266.1 93.4,262.3 93.9,260.7 94.4,258.9 95,255.6 95.5,254.8 96,252.2 96.6,248.8 97.1,245.2 97.7,245.1 98.2,241.2 98.7,240.2 99.3,238.8 99.8,235.1 100.3,231.9 100.9,230.6 101.4,227.9 102,227.2 102.5,226.2 103,221.2 103.6,220.7 104.1,217 104.6,215.5 105.2,212.5 105.7,209.7 106.3,210.6 106.8,207 107.3,205.1 107.9,201.6 108.4,201.5 108.9,200.9 109.5,199.2 110,195 110.6,196.9 111.1,194.7 111.6,193.4 112.2,194.2 112.7,193 113.2,193.8 113.8,191.9 114.3,189.6 114.8,189.9 115.4,192.3 115.9,188.3 116.5,191.7 117,191.5 117.5,188.7 118.1,190.4 118.6,191.6 119.1,190.3 119.7,192.9 120.2,193.2 120.8,195.2 121.3,195.6 121.8,196.6 122.4,196.3 122.9,199.6 123.4,200.4 124,204.1 124.5,205 125.1,203.8 125.6,206.6 126.1,208.2 126.7,208.8 127.2,211.7 127.7,213 128.3,215.3 128.8,219.1 129.4,218.2 129.9,219.2 130.4,221.6 131,224.8 131.5,226.6 132,228.6 132.6,229.5 133.1,232 133.6,235.6 134.2,237.5 134.7,239.7 135.3,242.2 135.8,244.3 136.3,245.9 136.9,250.1 137.4,249.6 137.9,252.4 138.5,255.1 139,256.1 139.6,258.6 140.1,258.8 140.6,262.7 141.2,263.5 141.7,265.1 142.2,267.8 142.8,269.9 143.3,270.3 143.9,272.6 144.4,274.6 144.9,276.5 145.5,276.5 146,277.3 146.5,280.2 147.1,280.9 147.6,281.8 148.2,283.2 148.7,285.5 149.2,286 149.8,287.1 150.3,287 150.8,289.6 151.4,290.1 151.9,291.2 152.4,292.3 153,294.1 153.5,294.3 154.1,294.4 154.6,296.2 155.1,296.7 155.7,297.9 156.2,298 156.7,298.7 157.3,299.1 157.8,300.2 158.4,300.8 158.9,301.4 159.4,301.5 160,302 160.5,301.5 161,303.2 161.6,303 162.1,303.9 162.7,304.2 163.2,303.9 163.7,304.4 164.3,304.7 164.8,305.7 165.3,304.4 165.9,304.8 166.4,306.1 166.9,306.6 167.5,306.5 168,306.3 168.6,306.9 169.1,306.6 169.6,307.1 170.2,306 170.7,307.2 171.2,307.4 171.8,306.6 172.3,307.3 172.9,307.5 173.4,307.6 173.9,307.5 174.5,307.8 175,307.7 175.5,308 176.1,308.3 176.6,308 177.2,307.9 177.7,307.5 178.2,308 178.8,308.2 179.3,308.1 179.8,308 180.4,308.8 180.9,308.3 181.5,308.8 182,308.7 182.5,308.4 183.1,308.3 183.6,308.3 184.1,308.3 184.7,307.9 185.2,308.2 185.7,308.2 186.3,308.4 186.8,307.8 187.4,308 187.9,308.5 188.4,308.5 189,308.2 189.5,308.1 190,308.4 190.6,308.1 191.1,308.7 191.7,308.4 192.2,308.1 192.7,308.5 193.3,308.3 193.8,308.4 194.3,308.4 194.9,308.9 195.4,308.5 196,308.3 196.5,308.3 197,308.2 197.6,308.2 198.1,308.5 198.6,308.4 199.2,308 199.7,308.2 200.3,308.4 200.8,308.4 201.3,308.1 201.9,308.1 202.4,308.4" fill="none" stroke="#4a4a4a" stroke-width="2.7" stroke-linejoin="round"/>
<line x1="41.8" y1="309.6" x2="41.8" y2="312.1" stroke="#000" stroke-width="0.9"/>
<line x1="57.9" y1="309.6" x2="57.9" y2="311.1" stroke="#000" stroke-width="0.9"/>
<line x1="73.9" y1="309.6" x2="73.9" y2="312.1" stroke="#000" stroke-width="0.9"/>
<line x1="90" y1="309.6" x2="90" y2="311.1" stroke="#000" stroke-width="0.9"/>
<line x1="106" y1="309.6" x2="106" y2="312.1" stroke="#000" stroke-width="0.9"/>
<line x1="122.1" y1="309.6" x2="122.1" y2="311.1" stroke="#000" stroke-width="0.9"/>
<line x1="138.2" y1="309.6" x2="138.2" y2="312.1" stroke="#000" stroke-width="0.9"/>
<line x1="154.2" y1="309.6" x2="154.2" y2="311.1" stroke="#000" stroke-width="0.9"/>
<line x1="170.3" y1="309.6" x2="170.3" y2="312.1" stroke="#000" stroke-width="0.9"/>
<line x1="186.3" y1="309.6" x2="186.3" y2="311.1" stroke="#000" stroke-width="0.9"/>
<line x1="202.4" y1="309.6" x2="202.4" y2="312.1" stroke="#000" stroke-width="0.9"/>
<text x="41.8" y="319.7" font-size="9.8" text-anchor="middle" font-weight="bold" fill="#000" font-family="'Liberation Sans', Arial, sans-serif" dominant-baseline="central">400</text>
<text x="73.9" y="319.7" font-size="9.8" text-anchor="middle" font-weight="bold" fill="#000" font-family="'Liberation Sans', Arial, sans-serif" dominant-baseline="central">450</text>
<text x="106" y="319.7" font-size="9.8" text-anchor="middle" font-weight="bold" fill="#000" font-family="'Liberation Sans', Arial, sans-serif" dominant-baseline="central">500</text>
<text x="138.2" y="319.7" font-size="9.8" text-anchor="middle" font-weight="bold" fill="#000" font-family="'Liberation Sans', Arial, sans-serif" dominant-baseline="central">550</text>
<text x="170.3" y="319.7" font-size="9.8" text-anchor="middle" font-weight="bold" fill="#000" font-family="'Liberation Sans', Arial, sans-serif" dominant-baseline="central">600</text>
<text x="202.4" y="319.7" font-size="9.8" text-anchor="middle" font-weight="bold" fill="#000" font-family="'Liberation Sans', Arial, sans-serif" dominant-baseline="central">650</text>
<line x1="39.3" y1="298.8" x2="41.8" y2="298.8" stroke="#000" stroke-width="0.9"/>
<line x1="40.3" y1="288.8" x2="41.8" y2="288.8" stroke="#000" stroke-width="0.9"/>
<line x1="39.3" y1="278.8" x2="41.8" y2="278.8" stroke="#000" stroke-width="0.9"/>
<line x1="40.3" y1="268.8" x2="41.8" y2="268.8" stroke="#000" stroke-width="0.9"/>
<line x1="39.3" y1="258.8" x2="41.8" y2="258.8" stroke="#000" stroke-width="0.9"/>
<line x1="40.3" y1="248.8" x2="41.8" y2="248.8" stroke="#000" stroke-width="0.9"/>
<line x1="39.3" y1="238.8" x2="41.8" y2="238.8" stroke="#000" stroke-width="0.9"/>
<line x1="40.3" y1="228.8" x2="41.8" y2="228.8" stroke="#000" stroke-width="0.9"/>
<line x1="39.3" y1="218.8" x2="41.8" y2="218.8" stroke="#000" stroke-width="0.9"/>
<line x1="40.3" y1="208.8" x2="41.8" y2="208.8" stroke="#000" stroke-width="0.9"/>
<line x1="39.3" y1="198.8" x2="41.8" y2="198.8" stroke="#000" stroke-width="0.9"/>
<line x1="40.3" y1="188.8" x2="41.8" y2="188.8" stroke="#000" stroke-width="0.9"/>
<text x="118.5" y="333" font-size="9.6" text-anchor="middle" font-weight="bold" fill="#000" font-family="'Liberation Sans', Arial, sans-serif" dominant-baseline="central">Wavelength (nm)</text>
<text x="28.6" y="239.6" font-size="10.1" text-anchor="middle" font-weight="bold" fill="#000" font-family="'Liberation Sans', Arial, sans-serif" dominant-baseline="central" transform="rotate(-90 28.6 239.6)">ML Intensity (a.u.)</text>
<line x1="45.3" y1="186.4" x2="63.5" y2="186.4" stroke="#4a4a4a" stroke-width="2.2"/>
<text x="65.2" y="186.7" font-size="8.3" text-anchor="start" font-weight="bold" fill="#000" font-family="'Liberation Sans', Arial, sans-serif" dominant-baseline="central">298 K</text>
<line x1="45.3" y1="196.2" x2="63.5" y2="196.2" stroke="#ee2a2a" stroke-width="2.2"/>
<text x="65.2" y="196.5" font-size="8.3" text-anchor="start" font-weight="bold" fill="#000" font-family="'Liberation Sans', Arial, sans-serif" dominant-baseline="central">323 K</text>
<line x1="45.3" y1="206" x2="63.5" y2="206" stroke="#1f5fcf" stroke-width="2.2"/>
<text x="65.2" y="206.3" font-size="8.3" text-anchor="start" font-weight="bold" fill="#000" font-family="'Liberation Sans', Arial, sans-serif" dominant-baseline="central">348 K</text>
<line x1="45.3" y1="215.9" x2="63.5" y2="215.9" stroke="#12956a" stroke-width="2.2"/>
<text x="65.2" y="216.2" font-size="8.3" text-anchor="start" font-weight="bold" fill="#000" font-family="'Liberation Sans', Arial, sans-serif" dominant-baseline="central">373 K</text>
<line x1="45.3" y1="225.9" x2="63.5" y2="225.9" stroke="#b070d8" stroke-width="2.2"/>
<text x="65.2" y="226.2" font-size="8.3" text-anchor="start" font-weight="bold" fill="#000" font-family="'Liberation Sans', Arial, sans-serif" dominant-baseline="central">398 K</text>
<line x1="45.3" y1="235.9" x2="63.5" y2="235.9" stroke="#d4900a" stroke-width="2.2"/>
<text x="65.2" y="236.2" font-size="8.3" text-anchor="start" font-weight="bold" fill="#000" font-family="'Liberation Sans', Arial, sans-serif" dominant-baseline="central">423 K</text>
<line x1="45.3" y1="245.8" x2="63.5" y2="245.8" stroke="#17a0c8" stroke-width="2.2"/>
<text x="65.2" y="246.1" font-size="8.3" text-anchor="start" font-weight="bold" fill="#000" font-family="'Liberation Sans', Arial, sans-serif" dominant-baseline="central">448 K</text>
<line x1="45.3" y1="255.8" x2="63.5" y2="255.8" stroke="#6b4343" stroke-width="2.2"/>
<text x="65.2" y="256.1" font-size="8.3" text-anchor="start" font-weight="bold" fill="#000" font-family="'Liberation Sans', Arial, sans-serif" dominant-baseline="central">473 K</text>
<rect x="143.3" y="180.2" width="57.9" height="43.6" fill="none" stroke="#000" stroke-width="1.7"/>
<rect x="143.9" y="183.4" width="3.8" height="3.8" fill="#4a4a4a"/>
<rect x="151.2" y="186.4" width="3.8" height="3.8" fill="#ee2a2a"/>
<rect x="159" y="188.2" width="3.8" height="3.8" fill="#1f5fcf"/>
<rect x="166.9" y="191.7" width="3.8" height="3.8" fill="#12956a"/>
<rect x="174.6" y="201" width="3.8" height="3.8" fill="#b070d8"/>
<rect x="182" y="213" width="3.8" height="3.8" fill="#d4900a"/>
<rect x="189.7" y="216.8" width="3.8" height="3.8" fill="#17a0c8"/>
<rect x="197.5" y="218.2" width="3.8" height="3.8" fill="#6b4343"/>
<text x="146.2" y="228.6" font-size="6" text-anchor="middle" font-weight="bold" fill="#000" font-family="'Liberation Sans', Arial, sans-serif" dominant-baseline="central">300</text>
<line x1="146.2" y1="223.8" x2="146.2" y2="225" stroke="#000" stroke-width="0.6"/>
<text x="163.4" y="228.6" font-size="6" text-anchor="middle" font-weight="bold" fill="#000" font-family="'Liberation Sans', Arial, sans-serif" dominant-baseline="central">350</text>
<line x1="163.4" y1="223.8" x2="163.4" y2="225" stroke="#000" stroke-width="0.6"/>
<text x="178.5" y="228.6" font-size="6" text-anchor="middle" font-weight="bold" fill="#000" font-family="'Liberation Sans', Arial, sans-serif" dominant-baseline="central">400</text>
<line x1="178.5" y1="223.8" x2="178.5" y2="225" stroke="#000" stroke-width="0.6"/>
<text x="193.9" y="228.6" font-size="6" text-anchor="middle" font-weight="bold" fill="#000" font-family="'Liberation Sans', Arial, sans-serif" dominant-baseline="central">450</text>
<line x1="193.9" y1="223.8" x2="193.9" y2="225" stroke="#000" stroke-width="0.6"/>
<text x="167.5" y="236.2" font-size="6" text-anchor="middle" font-weight="bold" fill="#000" font-family="'Liberation Sans', Arial, sans-serif" dominant-baseline="central">Temperature (K)</text>
<text x="139.4" y="202.5" font-size="5.3" text-anchor="middle" font-weight="bold" fill="#000" font-family="'Liberation Sans', Arial, sans-serif" dominant-baseline="central" transform="rotate(-90 139.4 202.5)">ML Intensity (a.u.)</text>
<text x="3.5" y="177.2" font-size="16.5" text-anchor="start" font-weight="bold" fill="#000" font-family="'Liberation Sans', Arial, sans-serif" dominant-baseline="central">d</text>
<rect x="271.9" y="178.1" width="160.8" height="131.6" fill="none" stroke="#000" stroke-width="1.2"/>
<polyline points="271.9,308.3 272.4,308.4 272.9,308.4 273.4,308 273.9,308.6 274.3,308.2 274.8,308.6 275.3,308.5 275.8,308.2 276.3,308.6 276.8,308.6 277.3,308.6 277.8,308.5 278.3,308.3 278.7,308.2 279.2,308.5 279.7,308.2 280.2,308.6 280.7,308 281.2,308.5 281.7,308.5 282.2,308.3 282.7,308.4 283.1,308.4 283.6,308.7 284.1,308.2 284.6,308.3 285.1,308.4 285.6,308.5 286.1,308.2 286.6,307.9 287.1,308.5 287.5,308.3 288,308 288.5,308.1 289,308 289.5,307.8 290,307.6 290.5,307.5 291,307.4 291.5,307.3 291.9,307.4 292.4,307.7 292.9,306.7 293.4,306.5 293.9,306.3 294.4,306.3 294.9,305.4 295.4,306.2 295.8,305.3 296.3,305.1 296.8,304.8 297.3,304.4 297.8,304.4 298.3,304.2 298.8,304 299.3,303.4 299.8,303.2 300.2,302.7 300.7,303 301.2,302.8 301.7,302 302.2,301.5 302.7,301.8 303.2,301.3 303.7,300.8 304.2,300.2 304.6,299.7 305.1,299 305.6,298.9 306.1,298.2 306.6,297.4 307.1,297.5 307.6,296.2 308.1,296.9 308.6,296.4 309,296.8 309.5,295.9 310,295.8 310.5,295.5 311,294.9 311.5,295.1 312,294.3 312.5,294.9 313,294 313.4,293 313.9,293.3 314.4,292.9 314.9,293.3 315.4,293.2 315.9,292 316.4,292 316.9,291.8 317.4,292 317.8,291.3 318.3,291.8 318.8,291.1 319.3,291 319.8,291.4 320.3,290.3 320.8,290.8 321.3,290.4 321.8,291.3 322.2,291.1 322.7,290.8 323.2,290.3 323.7,290 324.2,290.3 324.7,290.4 325.2,290.1 325.7,290.4 326.2,290.2 326.6,290 327.1,290.4 327.6,289.9 328.1,290.6 328.6,290.3 329.1,289.7 329.6,290.2 330.1,289.8 330.6,289.9 331,290 331.5,289.3 332,289.8 332.5,290.2 333,290.1 333.5,289.9 334,290.5 334.5,289.5 334.9,289.9 335.4,290.6 335.9,290.3 336.4,289.3 336.9,289.9 337.4,289.1 337.9,290 338.4,289.8 338.9,289.3 339.3,289.2 339.8,290.5 340.3,289.8 340.8,290.6 341.3,290.4 341.8,291 342.3,290 342.8,290.7 343.3,290.7 343.7,289.6 344.2,290 344.7,290.6 345.2,291.4 345.7,290.6 346.2,291.8 346.7,291.4 347.2,290.9 347.7,290.9 348.1,291.3 348.6,291.2 349.1,291.5 349.6,292 350.1,291.8 350.6,291.3 351.1,292.1 351.6,292.1 352.1,292.1 352.5,293 353,293 353.5,293.4 354,292.8 354.5,293.2 355,293.7 355.5,293.9 356,293.3 356.5,293.4 356.9,293.7 357.4,294 357.9,294 358.4,294.3 358.9,294.3 359.4,294.8 359.9,295.1 360.4,295.2 360.9,294.9 361.3,294.5 361.8,295.6 362.3,295.8 362.8,295.3 363.3,295.4 363.8,296 364.3,296.1 364.8,296.2 365.3,296 365.7,295.1 366.2,296.6 366.7,296.4 367.2,296.8 367.7,296.7 368.2,296.7 368.7,296.9 369.2,297.5 369.7,297.6 370.1,297.1 370.6,297.5 371.1,297.7 371.6,297.8 372.1,298.5 372.6,298 373.1,298.9 373.6,299.2 374,299.4 374.5,299.3 375,298.5 375.5,299.6 376,299.7 376.5,299.5 377,300.3 377.5,300.9 378,300.8 378.4,300.9 378.9,301.5 379.4,301.3 379.9,301.4 380.4,300.9 380.9,301.5 381.4,301.9 381.9,302.3 382.4,302.5 382.8,302.9 383.3,302.5 383.8,303.3 384.3,302.8 384.8,302.3 385.3,303.1 385.8,303 386.3,303.5 386.8,303.9 387.2,303.4 387.7,303.7 388.2,303.6 388.7,303.8 389.2,303.8 389.7,304.2 390.2,304.1 390.7,304.1 391.2,304.6 391.6,304.7 392.1,304.4 392.6,304.7 393.1,305 393.6,305.5 394.1,305.2 394.6,304.8 395.1,305.4 395.6,305.5 396,305.8 396.5,305.6 397,305.7 397.5,305.7 398,306.1 398.5,306.3 399,305.6 399.5,306.2 400,306.5 400.4,306.5 400.9,306.3 401.4,306.2 401.9,306.5 402.4,306.7 402.9,306.5 403.4,307 403.9,307 404.4,306.4 404.8,306.8 405.3,306.9 405.8,307.1 406.3,307.2 406.8,306.9 407.3,307 407.8,306.6 408.3,307.3 408.8,307.1 409.2,307.3 409.7,307.4 410.2,306.8 410.7,307 411.2,307.3 411.7,307.7 412.2,307.4 412.7,307.4 413.1,307.7 413.6,308 414.1,307.2 414.6,308 415.1,307.4 415.6,307.9 416.1,307.9 416.6,307.6 417.1,308.1 417.5,307.9 418,307.9 418.5,307.6 419,307.7 419.5,307.9 420,308.2 420.5,307.7 421,308.1 421.5,307.9 421.9,308.4 422.4,308.1 422.9,307.9 423.4,308.2 423.9,308 424.4,307.8 424.9,307.8 425.4,308.3 425.9,308.5 426.3,308.7 426.8,308.3 427.3,308.6 427.8,308.1 428.3,308.7 428.8,308 429.3,308.3 429.8,308.7 430.3,308.3 430.7,308.2 431.2,308.3 431.7,308.4 432.2,308.3 432.7,308.3" fill="none" stroke="#6b4343" stroke-width="2.4" stroke-linejoin="round"/>
<polyline points="271.9,308.5 272.4,308.4 272.9,308.7 273.4,308.3 273.9,308.7 274.3,308.5 274.8,308.7 275.3,308.2 275.8,308.4 276.3,308.6 276.8,308.4 277.3,308.5 277.8,308.3 278.3,308.4 278.7,308.4 279.2,308.5 279.7,308.8 280.2,308.3 280.7,308.3 281.2,308.6 281.7,308.3 282.2,308.2 282.7,308.2 283.1,308.2 283.6,308.2 284.1,308.5 284.6,308 285.1,308.3 285.6,308.4 286.1,307.9 286.6,308.3 287.1,307.9 287.5,308.2 288,307.7 288.5,307.6 289,307.9 289.5,307.6 290,307.5 290.5,307.6 291,307.4 291.5,307.4 291.9,307.3 292.4,307.1 292.9,306.5 293.4,306.2 293.9,305.9 294.4,305.7 294.9,305.4 295.4,305.4 295.8,304.5 296.3,305 296.8,304.2 297.3,304.2 297.8,303.9 298.3,302.8 298.8,302.8 299.3,302.9 299.8,302 300.2,301.9 300.7,300.7 301.2,301.1 301.7,300.4 302.2,300.1 302.7,299.7 303.2,298.8 303.7,298.2 304.2,297.6 304.6,297.5 305.1,297 305.6,295.9 306.1,295.7 306.6,294.3 307.1,294.7 307.6,293.5 308.1,293.7 308.6,293.2 309,293 309.5,292.5 310,291.4 310.5,291.4 311,291.2 311.5,290.9 312,290.4 312.5,289.8 313,288.9 313.4,288.9 313.9,288.6 314.4,288.4 314.9,287.8 315.4,288.3 315.9,287.6 316.4,288 316.9,287.8 317.4,287 317.8,287.1 318.3,287 318.8,287.2 319.3,286.5 319.8,285.6 320.3,286.3 320.8,286.3 321.3,286.6 321.8,286.1 322.2,286.8 322.7,285.5 323.2,286.7 323.7,286.8 324.2,286.4 324.7,287.4 325.2,287.3 325.7,287.4 326.2,287.2 326.6,286.4 327.1,287.6 327.6,286.2 328.1,286.9 328.6,286.7 329.1,287.4 329.6,288.2 330.1,288.1 330.6,287.2 331,287.9 331.5,287.7 332,287.8 332.5,287.3 333,287.5 333.5,287.9 334,288.1 334.5,287.7 334.9,288.6 335.4,288.5 335.9,288.8 336.4,288.7 336.9,289 337.4,288.1 337.9,288.6 338.4,287.8 338.9,288.8 339.3,288.6 339.8,289 340.3,288.5 340.8,288.6 341.3,289.1 341.8,288.8 342.3,289.3 342.8,289.3 343.3,289.6 343.7,288.8 344.2,289.6 344.7,289.8 345.2,289.2 345.7,289.7 346.2,290.4 346.7,290.4 347.2,290.4 347.7,290.7 348.1,290.4 348.6,291 349.1,291.2 349.6,290.5 350.1,290.3 350.6,290.6 351.1,291.4 351.6,291.2 352.1,291.6 352.5,291 353,291.7 353.5,291.8 354,291.4 354.5,291.9 355,292.5 355.5,293.1 356,293 356.5,293.5 356.9,292.5 357.4,293.4 357.9,293.2 358.4,293.6 358.9,294.1 359.4,293.9 359.9,294 360.4,294.3 360.9,294.5 361.3,294.4 361.8,295.1 362.3,294.9 362.8,295.1 363.3,295.4 363.8,295.2 364.3,296.2 364.8,296 365.3,295.7 365.7,295.2 366.2,295.7 366.7,296.3 367.2,295.6 367.7,296.2 368.2,296.6 368.7,296.6 369.2,296.1 369.7,296.5 370.1,297.2 370.6,297.6 371.1,297.2 371.6,298 372.1,298 372.6,297.8 373.1,298.6 373.6,298.7 374,298.6 374.5,299 375,298.6 375.5,299.3 376,299.3 376.5,299.5 377,300.1 377.5,299.8 378,299.9 378.4,300.6 378.9,300.9 379.4,301 379.9,300.7 380.4,301.3 380.9,301.7 381.4,302.1 381.9,301.9 382.4,302.4 382.8,301.8 383.3,302.5 383.8,302.8 384.3,302.2 384.8,302.5 385.3,302.6 385.8,303.2 386.3,302.8 386.8,303.1 387.2,303.2 387.7,303.2 388.2,303.2 388.7,303.7 389.2,303.3 389.7,303.8 390.2,304.1 390.7,304 391.2,304.3 391.6,304 392.1,304.5 392.6,304.7 393.1,304.8 393.6,304.7 394.1,305.4 394.6,305.5 395.1,305.3 395.6,305.2 396,305.2 396.5,305.6 397,306 397.5,306.3 398,305.9 398.5,306 399,306 399.5,305.9 400,306.5 400.4,306 400.9,306.5 401.4,306.5 401.9,306.4 402.4,307 402.9,306 403.4,306.7 403.9,306.4 404.4,306.9 404.8,307.2 405.3,307.1 405.8,307.1 406.3,307.4 406.8,307.6 407.3,306.8 407.8,307.2 408.3,307 408.8,306.8 409.2,307.3 409.7,307.2 410.2,307 410.7,307.2 411.2,307.3 411.7,307.6 412.2,307.6 412.7,307.3 413.1,307.6 413.6,307.3 414.1,307.4 414.6,307.5 415.1,307.5 415.6,307.7 416.1,307.5 416.6,308.3 417.1,308 417.5,307.8 418,307.5 418.5,308.3 419,308 419.5,307.8 420,307.6 420.5,308 421,308.4 421.5,307.9 421.9,307.8 422.4,307.9 422.9,307.9 423.4,307.9 423.9,308.2 424.4,308 424.9,307.9 425.4,308.1 425.9,308.3 426.3,308.3 426.8,308 427.3,308.3 427.8,307.9 428.3,308.2 428.8,308.3 429.3,308.1 429.8,308.3 430.3,307.9 430.7,308 431.2,308.5 431.7,308.4 432.2,308.8 432.7,308.3" fill="none" stroke="#17a0c8" stroke-width="2.4" stroke-linejoin="round"/>
<polyline points="271.9,308.3 272.4,308.4 272.9,308.7 273.4,308.1 273.9,308.2 274.3,308.5 274.8,308.5 275.3,308.5 275.8,308.3 276.3,308.3 276.8,308.4 277.3,308.5 277.8,308.7 278.3,308.5 278.7,308.8 279.2,308.2 279.7,308.4 280.2,308.4 280.7,308.5 281.2,308.6 281.7,308.8 282.2,308.6 282.7,308.5 283.1,308.5 283.6,308.2 284.1,308.2 284.6,308.6 285.1,308.5 285.6,308 286.1,308.7 286.6,308.2 287.1,307.9 287.5,307.9 288,308 288.5,307.6 289,307.8 289.5,307.8 290,307.4 290.5,307.4 291,307.1 291.5,306.8 291.9,306.4 292.4,307.1 292.9,306.1 293.4,305.7 293.9,305.3 294.4,305.3 294.9,305 295.4,304.4 295.8,304.4 296.3,304.3 296.8,303.2 297.3,302.8 297.8,302.9 298.3,301.6 298.8,301.7 299.3,300.7 299.8,300.6 300.2,299.6 300.7,299.2 301.2,298.4 301.7,297.5 302.2,296.7 302.7,296.5 303.2,294.9 303.7,295.1 304.2,294.6 304.6,293.2 305.1,291.4 305.6,291.4 306.1,290.8 306.6,289.6 307.1,288.2 307.6,287.3 308.1,286.6 308.6,285.6 309,284.5 309.5,284.6 310,283.8 310.5,283.3 311,282.5 311.5,281.6 312,281.4 312.5,281.4 313,280 313.4,279.3 313.9,279.5 314.4,278.4 314.9,278.5 315.4,279.4 315.9,278.8 316.4,278.9 316.9,278.5 317.4,278.6 317.8,278.1 318.3,277.8 318.8,279.1 319.3,277.8 319.8,278.3 320.3,277.9 320.8,278.7 321.3,279.9 321.8,279.1 322.2,279.2 322.7,279.5 323.2,280 323.7,280.7 324.2,281 324.7,281.2 325.2,281.6 325.7,281.4 326.2,281.6 326.6,281.6 327.1,282.1 327.6,282.6 328.1,282.5 328.6,283.1 329.1,283.8 329.6,283.2 330.1,283.9 330.6,284.2 331,283.8 331.5,284.3 332,284.5 332.5,284.1 333,284.6 333.5,284.9 334,285.4 334.5,286.5 334.9,286.8 335.4,286.3 335.9,285.1 336.4,286.2 336.9,286.5 337.4,286.2 337.9,286.1 338.4,286.6 338.9,286.6 339.3,286.8 339.8,287.3 340.3,287.5 340.8,288.3 341.3,287.5 341.8,287.6 342.3,287.5 342.8,287.4 343.3,288.4 343.7,288.5 344.2,287.8 344.7,288.9 345.2,288.3 345.7,288.6 346.2,288.6 346.7,289.3 347.2,288.9 347.7,289.8 348.1,289.2 348.6,289.7 349.1,290 349.6,289.9 350.1,289.7 350.6,290.8 351.1,290.6 351.6,291.2 352.1,290.5 352.5,290.7 353,291.6 353.5,291.5 354,292 354.5,291.8 355,291.6 355.5,292.4 356,292.3 356.5,293.2 356.9,292 357.4,293.3 357.9,293 358.4,293.4 358.9,293 359.4,293.7 359.9,293.9 360.4,294.5 360.9,293.7 361.3,294.9 361.8,293.8 362.3,294.1 362.8,294 363.3,295.2 363.8,295.2 364.3,295 364.8,294.8 365.3,295.8 365.7,295.1 366.2,296.1 366.7,295.5 367.2,295.9 367.7,296 368.2,296.2 368.7,296.1 369.2,297.1 369.7,296.3 370.1,297 370.6,297.1 371.1,297.6 371.6,297.2 372.1,297.6 372.6,298 373.1,298.5 373.6,297.7 374,298.6 374.5,298.6 375,299.1 375.5,298.8 376,298.9 376.5,299.2 377,299.2 377.5,299.4 378,300.9 378.4,300.6 378.9,301 379.4,300.6 379.9,301 380.4,301.6 380.9,300.9 381.4,301.6 381.9,301.3 382.4,302.1 382.8,301.8 383.3,301.8 383.8,302.4 384.3,302.3 384.8,302.6 385.3,302.8 385.8,302.7 386.3,303.6 386.8,302.9 387.2,303.2 387.7,303.8 388.2,303.3 388.7,304.2 389.2,304.1 389.7,303.6 390.2,303.9 390.7,304.4 391.2,303.9 391.6,304.5 392.1,304.6 392.6,304.7 393.1,304.6 393.6,304.7 394.1,305.3 394.6,305.2 395.1,305 395.6,305 396,305.3 396.5,305.2 397,305.4 397.5,306 398,305.9 398.5,305.3 399,306.1 399.5,305.9 400,306.6 400.4,305.5 400.9,306.6 401.4,306.2 401.9,306.3 402.4,306.9 402.9,306.6 403.4,306.3 403.9,306.8 404.4,306.4 404.8,306.8 405.3,306.5 405.8,306.2 406.3,307.1 406.8,306.8 407.3,307.1 407.8,307.2 408.3,307 408.8,307 409.2,307 409.7,307.1 410.2,307.8 410.7,307.4 411.2,307.8 411.7,307.3 412.2,307.2 412.7,307.4 413.1,307.6 413.6,307.4 414.1,307.4 414.6,307.5 415.1,307.8 415.6,307.8 416.1,307.4 416.6,307.8 417.1,307.8 417.5,307.8 418,307.7 418.5,307.7 419,308 419.5,308 420,308 420.5,307.9 421,307.8 421.5,308.3 421.9,307.6 422.4,308.3 422.9,308 423.4,308.3 423.9,308.2 424.4,308.1 424.9,308 425.4,308.1 425.9,308 426.3,308.2 426.8,307.8 427.3,308.5 427.8,308.2 428.3,308.2 428.8,308.4 429.3,308.3 429.8,308.5 430.3,308.2 430.7,308.4 431.2,308.2 431.7,308.3 432.2,308.3 432.7,308.4" fill="none" stroke="#d4900a" stroke-width="2.4" stroke-linejoin="round"/>
<polyline points="271.9,308.6 272.4,308.3 272.9,308.2 273.4,308.5 273.9,308.6 274.3,308.5 274.8,308.2 275.3,308.7 275.8,308.3 276.3,308.5 276.8,308.2 277.3,308.7 277.8,308.3 278.3,308.6 278.7,308.3 279.2,308 279.7,308.4 280.2,308 280.7,308.4 281.2,308.2 281.7,307.9 282.2,308.1 282.7,308.2 283.1,308.8 283.6,308.5 284.1,308.2 284.6,308.4 285.1,308.4 285.6,308 286.1,308.3 286.6,308.1 287.1,307.6 287.5,307.1 288,307.7 288.5,307.3 289,307 289.5,307.2 290,307 290.5,306.5 291,306.6 291.5,306.2 291.9,305.1 292.4,305.7 292.9,304.1 293.4,303.7 293.9,303.7 294.4,302.6 294.9,302.2 295.4,301.9 295.8,301.1 296.3,300.3 296.8,298.7 297.3,298.8 297.8,297.9 298.3,296.4 298.8,295.4 299.3,293.1 299.8,292.8 300.2,291.6 300.7,290.2 301.2,288.8 301.7,287.8 302.2,285.4 302.7,284.1 303.2,282.2 303.7,279.8 304.2,278.1 304.6,276.2 305.1,275.1 305.6,272.7 306.1,270.9 306.6,268.7 307.1,266.6 307.6,264.9 308.1,262.3 308.6,261.5 309,258.6 309.5,257.5 310,256.1 310.5,254.3 311,253.3 311.5,251.9 312,249.8 312.5,249.4 313,245.7 313.4,247.9 313.9,247.2 314.4,245.1 314.9,245.7 315.4,245.5 315.9,245.5 316.4,245 316.9,245.4 317.4,244.6 317.8,245.7 318.3,245.7 318.8,245.8 319.3,246.6 319.8,247.6 320.3,248.7 320.8,249.9 321.3,250.9 321.8,250.6 322.2,252.4 322.7,253.5 323.2,254.2 323.7,255.3 324.2,256.1 324.7,257.6 325.2,259.1 325.7,260.7 326.2,261 326.6,262.4 327.1,263.4 327.6,264.9 328.1,265.3 328.6,266 329.1,267.5 329.6,268 330.1,269.2 330.6,270.2 331,270.2 331.5,271.7 332,272.1 332.5,273.7 333,273.2 333.5,274.4 334,274.8 334.5,275.5 334.9,275.7 335.4,276.5 335.9,277.2 336.4,277.1 336.9,277.5 337.4,278.2 337.9,278.1 338.4,278.3 338.9,279.5 339.3,279.3 339.8,279.6 340.3,280.8 340.8,281 341.3,281.7 341.8,280.4 342.3,281.5 342.8,281.7 343.3,281.5 343.7,281.4 344.2,282.1 344.7,281.9 345.2,282.4 345.7,281.6 346.2,284 346.7,284.1 347.2,284.5 347.7,284.2 348.1,285.2 348.6,284.8 349.1,286.2 349.6,285.2 350.1,285.7 350.6,285.6 351.1,286.2 351.6,286.7 352.1,286.9 352.5,288.1 353,287.7 353.5,287.8 354,287.4 354.5,288.4 355,289.3 355.5,288 356,289.6 356.5,289.5 356.9,290.2 357.4,291.5 357.9,289.9 358.4,290.7 358.9,290.5 359.4,291.3 359.9,291 360.4,290.9 360.9,291.5 361.3,292 361.8,292.3 362.3,292.3 362.8,293.1 363.3,292.7 363.8,292.7 364.3,293.7 364.8,293.8 365.3,292.8 365.7,293.7 366.2,293.2 366.7,293.9 367.2,294 367.7,294.4 368.2,294 368.7,294.3 369.2,295 369.7,295.9 370.1,295.9 370.6,295.7 371.1,296.3 371.6,296 372.1,296.3 372.6,296.5 373.1,296.8 373.6,297.2 374,297.3 374.5,297.6 375,298.3 375.5,298.2 376,298.5 376.5,298.4 377,299.1 377.5,299.5 378,298.7 378.4,299.4 378.9,299.5 379.4,299.5 379.9,300.4 380.4,300.2 380.9,300.7 381.4,301.4 381.9,301.1 382.4,301.3 382.8,301.3 383.3,301.7 383.8,301.9 384.3,302.3 384.8,301.8 385.3,302.9 385.8,302.4 386.3,302.7 386.8,302.9 387.2,302.8 387.7,303.1 388.2,303.7 388.7,303.9 389.2,304 389.7,303.8 390.2,303.8 390.7,304 391.2,304 391.6,304.1 392.1,304.4 392.6,304.8 393.1,304.7 393.6,304.8 394.1,304.3 394.6,304.6 395.1,305.2 395.6,305.1 396,304.8 396.5,305.3 397,305.1 397.5,305.5 398,305.6 398.5,305.6 399,306 399.5,306.2 400,306.2 400.4,305.9 400.9,306.2 401.4,306.6 401.9,306.1 402.4,306.3 402.9,306.2 403.4,306.4 403.9,306.5 404.4,307.1 404.8,306.6 405.3,307.2 405.8,306.8 406.3,306.3 406.8,306.8 407.3,306.8 407.8,307.1 408.3,306.9 408.8,307.4 409.2,307.1 409.7,307.1 410.2,307.2 410.7,307.5 411.2,307.9 411.7,307.5 412.2,307.6 412.7,307.6 413.1,307.3 413.6,308 414.1,307.4 414.6,307.9 415.1,307 415.6,307.4 416.1,307.6 416.6,308 417.1,307.8 417.5,307.8 418,308 418.5,308 419,307.6 419.5,307.9 420,307.5 420.5,307.7 421,308 421.5,307.8 421.9,308 422.4,308.3 422.9,307.9 423.4,308.2 423.9,307.7 424.4,307.9 424.9,308.7 425.4,308.1 425.9,308.4 426.3,307.8 426.8,308.2 427.3,308.1 427.8,308.1 428.3,308.5 428.8,308.2 429.3,308 429.8,308.4 430.3,308.2 430.7,308.4 431.2,307.9 431.7,307.9 432.2,308.4 432.7,308.4" fill="none" stroke="#b070d8" stroke-width="2.4" stroke-linejoin="round"/>
<polyline points="271.9,308.3 272.4,308.4 272.9,308.4 273.4,308.5 273.9,308.1 274.3,308 274.8,308.3 275.3,308.7 275.8,308.7 276.3,308.3 276.8,308.6 277.3,308.5 277.8,308.4 278.3,308.5 278.7,308.1 279.2,308.7 279.7,308.4 280.2,308.6 280.7,308.3 281.2,308.7 281.7,308.4 282.2,308.1 282.7,308.5 283.1,308.2 283.6,308.4 284.1,308.2 284.6,308.3 285.1,308 285.6,308.2 286.1,307.9 286.6,307.5 287.1,307.7 287.5,307.2 288,307 288.5,307 289,307.3 289.5,306.1 290,306.6 290.5,306 291,305.5 291.5,304.7 291.9,304.6 292.4,304.3 292.9,303.2 293.4,302.2 293.9,302.3 294.4,300.9 294.9,300.3 295.4,299.3 295.8,298.4 296.3,297.1 296.8,295.8 297.3,293.9 297.8,294.2 298.3,291.3 298.8,290.3 299.3,289 299.8,287.4 300.2,284.3 300.7,283.7 301.2,280 301.7,279.3 302.2,276.2 302.7,274.5 303.2,272.3 303.7,269.5 304.2,265.5 304.6,263.7 305.1,260.8 305.6,257.6 306.1,254.6 306.6,252.9 307.1,249.3 307.6,246.8 308.1,244.4 308.6,242.9 309,238.5 309.5,236.2 310,234.6 310.5,229.7 311,230.8 311.5,228.2 312,226 312.5,225 313,223.1 313.4,220.7 313.9,221.4 314.4,221.2 314.9,219.7 315.4,219.5 315.9,219 316.4,219.2 316.9,218.9 317.4,217.6 317.8,219.7 318.3,218.9 318.8,221.3 319.3,222.5 319.8,224.6 320.3,224.4 320.8,225.6 321.3,225.8 321.8,230.3 322.2,231.3 322.7,232.9 323.2,234.5 323.7,236.3 324.2,238.6 324.7,239.9 325.2,242.3 325.7,244.1 326.2,245.1 326.6,246.3 327.1,249.1 327.6,251.4 328.1,252.2 328.6,253.4 329.1,255 329.6,255.7 330.1,258.3 330.6,259.2 331,260.7 331.5,260.5 332,262.4 332.5,263.8 333,265.1 333.5,265.1 334,267.2 334.5,266.7 334.9,267.5 335.4,268.5 335.9,269.4 336.4,270.1 336.9,270.4 337.4,271.5 337.9,271.5 338.4,273.3 338.9,272.5 339.3,273.7 339.8,273.5 340.3,274.4 340.8,275.3 341.3,275.6 341.8,276.3 342.3,276 342.8,277.5 343.3,277.9 343.7,277.1 344.2,277.7 344.7,278.8 345.2,278.5 345.7,279.8 346.2,279.6 346.7,280.7 347.2,280.1 347.7,280.9 348.1,281.1 348.6,282.6 349.1,282.5 349.6,283.1 350.1,282.9 350.6,283.1 351.1,284.2 351.6,284 352.1,284.2 352.5,284.3 353,284.9 353.5,285.1 354,285 354.5,286.6 355,285.7 355.5,287.2 356,286.9 356.5,287.5 356.9,287.4 357.4,287.9 357.9,287.6 358.4,289.1 358.9,288.3 359.4,288.8 359.9,288.8 360.4,289.9 360.9,289.3 361.3,290 361.8,290.1 362.3,290.6 362.8,290.6 363.3,290.6 363.8,291.5 364.3,292.4 364.8,291.8 365.3,291.8 365.7,292.6 366.2,292.7 366.7,293.4 367.2,292.8 367.7,293.7 368.2,293.1 368.7,293.3 369.2,293.1 369.7,293.6 370.1,294 370.6,294.6 371.1,294.2 371.6,296 372.1,296 372.6,295.1 373.1,296.4 373.6,296.8 374,296.9 374.5,296.6 375,296.8 375.5,297.2 376,297.9 376.5,298 377,298 377.5,298.6 378,298.5 378.4,299.5 378.9,298.9 379.4,299.5 379.9,299.8 380.4,300.2 380.9,301.1 381.4,300.1 381.9,300.9 382.4,300.9 382.8,301 383.3,300.9 383.8,301.4 384.3,300.9 384.8,301.5 385.3,302 385.8,302.2 386.3,301.4 386.8,302.6 387.2,302.7 387.7,303 388.2,302.8 388.7,303 389.2,302.7 389.7,303.6 390.2,303.9 390.7,303.1 391.2,304.6 391.6,303.9 392.1,304.6 392.6,304 393.1,304.6 393.6,304.2 394.1,304.7 394.6,304.6 395.1,305.2 395.6,304.9 396,305 396.5,305.1 397,305 397.5,305.1 398,304.7 398.5,306 399,305.6 399.5,305.9 400,305.8 400.4,305.7 400.9,305.6 401.4,305.8 401.9,306.5 402.4,306.6 402.9,306.7 403.4,306.4 403.9,306.9 404.4,306.6 404.8,307 405.3,306.7 405.8,306.7 406.3,306.4 406.8,306.8 407.3,306.9 407.8,306.7 408.3,307.2 408.8,306.7 409.2,307.1 409.7,307 410.2,307.2 410.7,307.2 411.2,307.3 411.7,307.4 412.2,307.3 412.7,307.2 413.1,307.8 413.6,307.5 414.1,307.3 414.6,307.6 415.1,307.3 415.6,307.5 416.1,308 416.6,307.9 417.1,307.4 417.5,307.5 418,307.7 418.5,307.8 419,308.4 419.5,307.9 420,308.3 420.5,308 421,308 421.5,308 421.9,307.9 422.4,308 422.9,308.3 423.4,308.1 423.9,307.8 424.4,307.6 424.9,308.3 425.4,308 425.9,307.9 426.3,308 426.8,308.2 427.3,307.9 427.8,307.8 428.3,308.2 428.8,308.4 429.3,308.6 429.8,308.1 430.3,308 430.7,308.4 431.2,308.3 431.7,308.4 432.2,307.9 432.7,308.6" fill="none" stroke="#12956a" stroke-width="2.4" stroke-linejoin="round"/>
<polyline points="271.9,308.2 272.4,308.5 272.9,308.2 273.4,308.3 273.9,308.1 274.3,308.4 274.8,308.5 275.3,308.5 275.8,308.6 276.3,308.2 276.8,308.4 277.3,308.7 277.8,308.3 278.3,308.5 278.7,308.7 279.2,308.4 279.7,308.4 280.2,308.5 280.7,308.5 281.2,308.6 281.7,308.6 282.2,307.9 282.7,308.6 283.1,308.1 283.6,308.1 284.1,308.2 284.6,308.6 285.1,307.8 285.6,308.1 286.1,307.3 286.6,307.8 287.1,307.8 287.5,307 288,307.2 288.5,306.8 289,306.4 289.5,306.7 290,306.5 290.5,305.8 291,305.1 291.5,305 291.9,304.4 292.4,303.2 292.9,302.6 293.4,302.2 293.9,300.7 294.4,300.7 294.9,299.5 295.4,298.8 295.8,297.2 296.3,295.8 296.8,295 297.3,294.1 297.8,291.9 298.3,290.4 298.8,288.4 299.3,287.2 299.8,284.6 300.2,282.9 300.7,280 301.2,278.1 301.7,275.8 302.2,273.1 302.7,270.3 303.2,267.1 303.7,265.3 304.2,262.2 304.6,259.6 305.1,256.1 305.6,253.8 306.1,250 306.6,245.7 307.1,243.5 307.6,240.7 308.1,237.8 308.6,235.2 309,231.4 309.5,229.4 310,227 310.5,222.9 311,221 311.5,219.3 312,218 312.5,214.7 313,212.7 313.4,212.6 313.9,211.2 314.4,210.2 314.9,208.9 315.4,209.1 315.9,209 316.4,209.5 316.9,209.9 317.4,209.7 317.8,210.3 318.3,211.5 318.8,212.9 319.3,213.4 319.8,214.9 320.3,215.9 320.8,217 321.3,218.8 321.8,220.3 322.2,224.4 322.7,224.2 323.2,228 323.7,229 324.2,231.4 324.7,233 325.2,236 325.7,237.1 326.2,240.6 326.6,240.7 327.1,244 327.6,243.8 328.1,247.3 328.6,248.8 329.1,250.6 329.6,251.8 330.1,253.7 330.6,255.2 331,256.8 331.5,257.9 332,258.4 332.5,260.5 333,261.3 333.5,262.7 334,263.6 334.5,264.2 334.9,265.1 335.4,266.7 335.9,266.6 336.4,267.6 336.9,268.2 337.4,267.8 337.9,269.7 338.4,271.2 338.9,270.3 339.3,272 339.8,272.4 340.3,272.9 340.8,272.8 341.3,274.5 341.8,274.4 342.3,275 342.8,274.7 343.3,275.4 343.7,276 344.2,276.4 344.7,277.3 345.2,277.9 345.7,277.3 346.2,278.5 346.7,278.7 347.2,279.4 347.7,280.2 348.1,280.6 348.6,280.2 349.1,279.9 349.6,281.2 350.1,280.9 350.6,282 351.1,282.4 351.6,282.5 352.1,283.5 352.5,283.5 353,284 353.5,284 354,285.5 354.5,284.5 355,284.9 355.5,285.5 356,285.9 356.5,286.4 356.9,286.8 357.4,286.9 357.9,288 358.4,288.1 358.9,288.2 359.4,287.4 359.9,288.8 360.4,288.1 360.9,289.5 361.3,290.9 361.8,289.9 362.3,290 362.8,289.5 363.3,290.9 363.8,290.7 364.3,291.5 364.8,291.2 365.3,291.4 365.7,292.2 366.2,291.7 366.7,292.1 367.2,292.9 367.7,292.4 368.2,293.3 368.7,293 369.2,293.7 369.7,294 370.1,293.5 370.6,293.6 371.1,294.2 371.6,294.6 372.1,295.3 372.6,294.6 373.1,295.7 373.6,295.8 374,296.6 374.5,297 375,296.7 375.5,296.9 376,297.8 376.5,297.9 377,298 377.5,298.2 378,298.9 378.4,299.3 378.9,299.2 379.4,299.2 379.9,299.3 380.4,300 380.9,299.5 381.4,300.8 381.9,300.7 382.4,300.7 382.8,300.8 383.3,300.9 383.8,301.5 384.3,301.7 384.8,302.1 385.3,301.5 385.8,302.1 386.3,302.1 386.8,301.9 387.2,302.4 387.7,303 388.2,302.8 388.7,302.8 389.2,302.5 389.7,303.1 390.2,303.6 390.7,302.5 391.2,303.3 391.6,303.7 392.1,304.3 392.6,304.5 393.1,304.3 393.6,304.3 394.1,304.7 394.6,304.5 395.1,304.8 395.6,305.3 396,304.5 396.5,305.6 397,304.9 397.5,305.5 398,306.1 398.5,305.9 399,305.4 399.5,306.2 400,306.1 400.4,305.7 400.9,306.4 401.4,306 401.9,306.6 402.4,306.3 402.9,306.4 403.4,306.4 403.9,306.7 404.4,306.2 404.8,307 405.3,306.3 405.8,306.7 406.3,307 406.8,306.6 407.3,306.7 407.8,306.9 408.3,307 408.8,306.5 409.2,307 409.7,307.3 410.2,306.6 410.7,307 411.2,307.2 411.7,307.5 412.2,307.1 412.7,307.5 413.1,307.5 413.6,307.6 414.1,307.9 414.6,307 415.1,307.5 415.6,307.4 416.1,307.8 416.6,307.4 417.1,308.5 417.5,307.9 418,308.5 418.5,307.8 419,307.7 419.5,307.8 420,308.2 420.5,307.9 421,308 421.5,307.9 421.9,307.7 422.4,308.1 422.9,307.8 423.4,307.9 423.9,307.9 424.4,308.3 424.9,308.3 425.4,308.2 425.9,308.4 426.3,308.3 426.8,308.4 427.3,308.1 427.8,308.3 428.3,308.1 428.8,308.4 429.3,307.9 429.8,308.3 430.3,308.3 430.7,308.6 431.2,308.2 431.7,308.1 432.2,308.4 432.7,308.2" fill="none" stroke="#1f5fcf" stroke-width="2.4" stroke-linejoin="round"/>
<polyline points="271.9,308.1 272.4,308.6 272.9,308.2 273.4,308.4 273.9,308.4 274.3,308.6 274.8,308.4 275.3,308.4 275.8,308.2 276.3,308.5 276.8,308.5 277.3,308 277.8,308.4 278.3,308.3 278.7,308.3 279.2,308.6 279.7,308.4 280.2,308.3 280.7,308.7 281.2,307.9 281.7,308.4 282.2,308.4 282.7,308.2 283.1,308.1 283.6,308 284.1,308.1 284.6,307.8 285.1,307.9 285.6,307.9 286.1,307.6 286.6,307.7 287.1,307.5 287.5,307.1 288,307.2 288.5,307 289,306.5 289.5,306.3 290,306 290.5,305.8 291,304.8 291.5,304.8 291.9,303.9 292.4,303.3 292.9,303 293.4,301.9 293.9,300.9 294.4,299.8 294.9,299.7 295.4,298.5 295.8,296.5 296.3,296 296.8,294.7 297.3,292.6 297.8,291.3 298.3,289 298.8,288.5 299.3,285.2 299.8,283.1 300.2,281.5 300.7,279.3 301.2,276 301.7,274.5 302.2,270.2 302.7,268.2 303.2,266.4 303.7,262.8 304.2,259.6 304.6,256 305.1,253.6 305.6,249.8 306.1,246.7 306.6,243.5 307.1,240.2 307.6,236.3 308.1,233.6 308.6,230.3 309,227.3 309.5,224.7 310,220.8 310.5,218.7 311,216.5 311.5,215.3 312,211.6 312.5,210.3 313,208.6 313.4,207.8 313.9,206.3 314.4,204 314.9,203.9 315.4,204 315.9,203.6 316.4,204.1 316.9,203.6 317.4,204.8 317.8,205.6 318.3,205 318.8,207.1 319.3,207.5 319.8,210.1 320.3,211.3 320.8,212.4 321.3,214.6 321.8,216.6 322.2,218.7 322.7,222.1 323.2,222.7 323.7,225.1 324.2,228.5 324.7,229.1 325.2,231.2 325.7,232.8 326.2,236.1 326.6,237.7 327.1,241.3 327.6,240.8 328.1,244.1 328.6,245.8 329.1,247.8 329.6,250 330.1,252.1 330.6,252.5 331,255 331.5,255.3 332,257.3 332.5,258 333,259.5 333.5,260.8 334,262 334.5,262.3 334.9,263.1 335.4,263.8 335.9,266 336.4,266.3 336.9,266.9 337.4,266.9 337.9,268.4 338.4,270 338.9,269.9 339.3,271.4 339.8,270.3 340.3,271.5 340.8,271.7 341.3,273.9 341.8,273.2 342.3,274.1 342.8,274.1 343.3,274 343.7,275.5 344.2,274.7 344.7,275.9 345.2,276 345.7,277.1 346.2,277.3 346.7,277.2 347.2,279.5 347.7,278.4 348.1,278.9 348.6,279.2 349.1,279.7 349.6,280.7 350.1,281 350.6,281.8 351.1,281.5 351.6,281.8 352.1,282.9 352.5,283.3 353,283.4 353.5,283.7 354,284 354.5,283.9 355,285.2 355.5,285.2 356,285.5 356.5,285.6 356.9,286.8 357.4,286.3 357.9,287.1 358.4,288 358.9,287.1 359.4,288.2 359.9,288.6 360.4,288.8 360.9,288.7 361.3,289.2 361.8,288.8 362.3,289.4 362.8,290.3 363.3,290.3 363.8,291.3 364.3,291.2 364.8,291 365.3,291.1 365.7,291.3 366.2,292.2 366.7,292.1 367.2,292.4 367.7,292.4 368.2,292.6 368.7,293.1 369.2,292.8 369.7,293.9 370.1,293.7 370.6,294.2 371.1,294.5 371.6,293.6 372.1,295.1 372.6,294.8 373.1,295.6 373.6,296.1 374,295.7 374.5,296.9 375,296.9 375.5,297 376,297.7 376.5,297 377,298 377.5,297.9 378,298.7 378.4,298.6 378.9,298.9 379.4,298.8 379.9,299.6 380.4,300 380.9,299.6 381.4,300.3 381.9,300.8 382.4,300.6 382.8,300.7 383.3,300.6 383.8,300.9 384.3,301 384.8,301 385.3,302 385.8,301.6 386.3,302.1 386.8,302.4 387.2,302.3 387.7,302.9 388.2,302.8 388.7,303.3 389.2,302.9 389.7,303.1 390.2,303.9 390.7,303.4 391.2,303.7 391.6,303.5 392.1,303.6 392.6,304.3 393.1,304.3 393.6,304.5 394.1,304.1 394.6,304.3 395.1,304.2 395.6,304.9 396,304.7 396.5,305 397,304.9 397.5,305.4 398,305.6 398.5,305.1 399,306 399.5,305.6 400,305.2 400.4,306.3 400.9,306.1 401.4,306 401.9,306.7 402.4,306.1 402.9,306.6 403.4,306.8 403.9,306.4 404.4,306.7 404.8,306.3 405.3,306.4 405.8,306.4 406.3,306.9 406.8,307 407.3,306.7 407.8,307.4 408.3,306.8 408.8,306.8 409.2,306.7 409.7,307.1 410.2,307.4 410.7,306.9 411.2,307.5 411.7,307.1 412.2,307.3 412.7,307.9 413.1,307.4 413.6,307.4 414.1,307.4 414.6,307.4 415.1,308 415.6,307.5 416.1,307.8 416.6,307.9 417.1,307.5 417.5,308.1 418,307.5 418.5,307.7 419,308.3 419.5,308 420,308.1 420.5,308.1 421,307.8 421.5,307.7 421.9,307.6 422.4,308 422.9,307.8 423.4,308.2 423.9,308.1 424.4,308.1 424.9,307.9 425.4,308.4 425.9,308.2 426.3,308.4 426.8,308.1 427.3,308.1 427.8,308.1 428.3,308.7 428.8,308.4 429.3,308.4 429.8,308.2 430.3,308.5 430.7,308.2 431.2,308.2 431.7,308.3 432.2,308.9 432.7,308.7" fill="none" stroke="#ee2a2a" stroke-width="2.4" stroke-linejoin="round"/>
<polyline points="271.9,308.2 272.4,308.4 272.9,308.7 273.4,308.7 273.9,308.5 274.3,308.4 274.8,308.8 275.3,308.5 275.8,308.2 276.3,308.2 276.8,308.5 277.3,308.7 277.8,308.3 278.3,308.7 278.7,308.2 279.2,308.3 279.7,308.8 280.2,308.4 280.7,308.5 281.2,308.8 281.7,308 282.2,308.3 282.7,308.4 283.1,308.2 283.6,308.3 284.1,308.3 284.6,308 285.1,308.2 285.6,307.6 286.1,308 286.6,307.8 287.1,307 287.5,307.2 288,307.1 288.5,306.3 289,306.5 289.5,306.6 290,306 290.5,305.4 291,305 291.5,305 291.9,303.9 292.4,303.4 292.9,302.4 293.4,301.8 293.9,300.5 294.4,299.8 294.9,298.3 295.4,297.6 295.8,295.9 296.3,295.3 296.8,294 297.3,291.7 297.8,290.5 298.3,288.4 298.8,286.6 299.3,283.6 299.8,281.8 300.2,279.3 300.7,277.5 301.2,274.5 301.7,272 302.2,268.9 302.7,265.6 303.2,262.9 303.7,260.1 304.2,255.3 304.6,252.4 305.1,250 305.6,246.4 306.1,242.1 306.6,238.8 307.1,234.9 307.6,231.8 308.1,229 308.6,225.3 309,222.1 309.5,218.8 310,216 310.5,214.7 311,210.8 311.5,206.8 312,205.9 312.5,202.2 313,201.8 313.4,201 313.9,199.1 314.4,197.3 314.9,196.9 315.4,195.9 315.9,196.2 316.4,195.8 316.9,196.9 317.4,198.2 317.8,197.2 318.3,198.1 318.8,199.9 319.3,202.4 319.8,202.8 320.3,203.7 320.8,206.6 321.3,208.7 321.8,211.3 322.2,212.1 322.7,214.2 323.2,217.7 323.7,219 324.2,222 324.7,223 325.2,226.9 325.7,230.3 326.2,232.1 326.6,233.1 327.1,236.5 327.6,239.4 328.1,239.3 328.6,242.7 329.1,245 329.6,245.6 330.1,248.7 330.6,249 331,249.8 331.5,252.6 332,254.5 332.5,256 333,257.3 333.5,256.6 334,259.1 334.5,260.2 334.9,261.6 335.4,262.9 335.9,262.9 336.4,264.4 336.9,264.7 337.4,266.2 337.9,266.8 338.4,267.6 338.9,268.8 339.3,268.8 339.8,268.8 340.3,270.5 340.8,270.7 341.3,271.5 341.8,270.9 342.3,272.1 342.8,273.8 343.3,272.9 343.7,272.9 344.2,273.5 344.7,273.8 345.2,274.8 345.7,275.3 346.2,276.2 346.7,276.8 347.2,277 347.7,276.8 348.1,277.3 348.6,278.6 349.1,279.3 349.6,278.7 350.1,279.7 350.6,280.7 351.1,280.5 351.6,281.1 352.1,282 352.5,282.3 353,283 353.5,282.3 354,283.1 354.5,283.3 355,283.9 355.5,284.4 356,284.8 356.5,285.3 356.9,286.3 357.4,286 357.9,286.3 358.4,286.9 358.9,287 359.4,287.4 359.9,287.6 360.4,288 360.9,287.9 361.3,288.1 361.8,288.4 362.3,289.2 362.8,289.9 363.3,289.6 363.8,290.2 364.3,290.6 364.8,290.5 365.3,290.7 365.7,291.1 366.2,290.6 366.7,291.6 367.2,292 367.7,291.9 368.2,292.1 368.7,292.8 369.2,292.6 369.7,293.4 370.1,293.9 370.6,293.9 371.1,293.7 371.6,294.7 372.1,295.4 372.6,295.3 373.1,295.1 373.6,295.3 374,295.8 374.5,296.1 375,296.2 375.5,296.2 376,296.8 376.5,297.7 377,297.1 377.5,297.5 378,298.5 378.4,299 378.9,298.9 379.4,298.4 379.9,299 380.4,300.3 380.9,299.8 381.4,299.9 381.9,300.4 382.4,300.1 382.8,301.3 383.3,300.7 383.8,300.9 384.3,301 384.8,301.5 385.3,301.2 385.8,302.1 386.3,301.7 386.8,302.2 387.2,302.1 387.7,301.8 388.2,302.8 388.7,303 389.2,302.9 389.7,303.4 390.2,303.4 390.7,303.1 391.2,303.7 391.6,303.5 392.1,303.7 392.6,304.9 393.1,304.7 393.6,304.2 394.1,304.1 394.6,304.5 395.1,304.7 395.6,305.1 396,304.9 396.5,305.1 397,304.8 397.5,304.8 398,305.3 398.5,306.2 399,305.6 399.5,305.5 400,305.9 400.4,305.5 400.9,306.3 401.4,306.6 401.9,305.9 402.4,306.4 402.9,306.6 403.4,306.4 403.9,306.7 404.4,306.5 404.8,306.7 405.3,306.7 405.8,306.3 406.3,306.9 406.8,306.6 407.3,306.6 407.8,306.9 408.3,307.2 408.8,306.8 409.2,306.7 409.7,307.2 410.2,307.2 410.7,307.2 411.2,307.1 411.7,307.2 412.2,307.3 412.7,307.1 413.1,307.2 413.6,307.5 414.1,307.1 414.6,307.3 415.1,307.1 415.6,307.7 416.1,307.3 416.6,307.7 417.1,307.8 417.5,307.8 418,308.2 418.5,307.6 419,307.7 419.5,308 420,307.9 420.5,307.6 421,307.9 421.5,308 421.9,307.8 422.4,308 422.9,308.3 423.4,308.1 423.9,308.4 424.4,308.2 424.9,308.1 425.4,308.2 425.9,308.2 426.3,308.6 426.8,308.1 427.3,308 427.8,308.3 428.3,308.4 428.8,308 429.3,308.5 429.8,308.1 430.3,308.5 430.7,308.5 431.2,308.5 431.7,308.1 432.2,308.1 432.7,308.7" fill="none" stroke="#4a4a4a" stroke-width="2.4" stroke-linejoin="round"/>
<line x1="271.9" y1="309.7" x2="271.9" y2="312.2" stroke="#000" stroke-width="0.9"/>
<line x1="288" y1="309.7" x2="288" y2="311.2" stroke="#000" stroke-width="0.9"/>
<line x1="304.1" y1="309.7" x2="304.1" y2="312.2" stroke="#000" stroke-width="0.9"/>
<line x1="320.1" y1="309.7" x2="320.1" y2="311.2" stroke="#000" stroke-width="0.9"/>
<line x1="336.2" y1="309.7" x2="336.2" y2="312.2" stroke="#000" stroke-width="0.9"/>
<line x1="352.3" y1="309.7" x2="352.3" y2="311.2" stroke="#000" stroke-width="0.9"/>
<line x1="368.4" y1="309.7" x2="368.4" y2="312.2" stroke="#000" stroke-width="0.9"/>
<line x1="384.5" y1="309.7" x2="384.5" y2="311.2" stroke="#000" stroke-width="0.9"/>
<line x1="400.5" y1="309.7" x2="400.5" y2="312.2" stroke="#000" stroke-width="0.9"/>
<line x1="416.6" y1="309.7" x2="416.6" y2="311.2" stroke="#000" stroke-width="0.9"/>
<line x1="432.7" y1="309.7" x2="432.7" y2="312.2" stroke="#000" stroke-width="0.9"/>
<text x="271.9" y="319.7" font-size="9.8" text-anchor="middle" font-weight="bold" fill="#000" font-family="'Liberation Sans', Arial, sans-serif" dominant-baseline="central">400</text>
<text x="304.1" y="319.7" font-size="9.8" text-anchor="middle" font-weight="bold" fill="#000" font-family="'Liberation Sans', Arial, sans-serif" dominant-baseline="central">500</text>
<text x="336.2" y="319.7" font-size="9.8" text-anchor="middle" font-weight="bold" fill="#000" font-family="'Liberation Sans', Arial, sans-serif" dominant-baseline="central">600</text>
<text x="368.4" y="319.7" font-size="9.8" text-anchor="middle" font-weight="bold" fill="#000" font-family="'Liberation Sans', Arial, sans-serif" dominant-baseline="central">700</text>
<text x="400.5" y="319.7" font-size="9.8" text-anchor="middle" font-weight="bold" fill="#000" font-family="'Liberation Sans', Arial, sans-serif" dominant-baseline="central">800</text>
<text x="432.7" y="319.7" font-size="9.8" text-anchor="middle" font-weight="bold" fill="#000" font-family="'Liberation Sans', Arial, sans-serif" dominant-baseline="central">900</text>
<line x1="270.4" y1="300.4" x2="271.9" y2="300.4" stroke="#000" stroke-width="0.9"/>
<line x1="269.4" y1="291" x2="271.9" y2="291" stroke="#000" stroke-width="0.9"/>
<line x1="270.4" y1="281.6" x2="271.9" y2="281.6" stroke="#000" stroke-width="0.9"/>
<line x1="269.4" y1="272.2" x2="271.9" y2="272.2" stroke="#000" stroke-width="0.9"/>
<line x1="270.4" y1="262.8" x2="271.9" y2="262.8" stroke="#000" stroke-width="0.9"/>
<line x1="269.4" y1="253.4" x2="271.9" y2="253.4" stroke="#000" stroke-width="0.9"/>
<line x1="270.4" y1="244" x2="271.9" y2="244" stroke="#000" stroke-width="0.9"/>
<line x1="269.4" y1="234.6" x2="271.9" y2="234.6" stroke="#000" stroke-width="0.9"/>
<line x1="270.4" y1="225.2" x2="271.9" y2="225.2" stroke="#000" stroke-width="0.9"/>
<line x1="269.4" y1="215.8" x2="271.9" y2="215.8" stroke="#000" stroke-width="0.9"/>
<line x1="270.4" y1="206.4" x2="271.9" y2="206.4" stroke="#000" stroke-width="0.9"/>
<line x1="269.4" y1="197" x2="271.9" y2="197" stroke="#000" stroke-width="0.9"/>
<line x1="270.4" y1="187.6" x2="271.9" y2="187.6" stroke="#000" stroke-width="0.9"/>
<text x="348.5" y="333" font-size="9.6" text-anchor="middle" font-weight="bold" fill="#000" font-family="'Liberation Sans', Arial, sans-serif" dominant-baseline="central">Wavelength (nm)</text>
<text x="259" y="238.7" font-size="10.1" text-anchor="middle" font-weight="bold" fill="#000" font-family="'Liberation Sans', Arial, sans-serif" dominant-baseline="central" transform="rotate(-90 259 238.7)">ML Intensity (a.u.)</text>
<line x1="380" y1="188.6" x2="400" y2="188.6" stroke="#4a4a4a" stroke-width="2.2"/>
<text x="402" y="188.9" font-size="8.2" text-anchor="start" font-weight="bold" fill="#000" font-family="'Liberation Sans', Arial, sans-serif" dominant-baseline="central">298 K</text>
<line x1="380" y1="199.4" x2="400" y2="199.4" stroke="#ee2a2a" stroke-width="2.2"/>
<text x="402" y="199.7" font-size="8.2" text-anchor="start" font-weight="bold" fill="#000" font-family="'Liberation Sans', Arial, sans-serif" dominant-baseline="central">323 K</text>
<line x1="380" y1="210.2" x2="400" y2="210.2" stroke="#1f5fcf" stroke-width="2.2"/>
<text x="402" y="210.5" font-size="8.2" text-anchor="start" font-weight="bold" fill="#000" font-family="'Liberation Sans', Arial, sans-serif" dominant-baseline="central">348 K</text>
<line x1="380" y1="221" x2="400" y2="221" stroke="#12956a" stroke-width="2.2"/>
<text x="402" y="221.3" font-size="8.2" text-anchor="start" font-weight="bold" fill="#000" font-family="'Liberation Sans', Arial, sans-serif" dominant-baseline="central">373 K</text>
<line x1="380" y1="231.6" x2="400" y2="231.6" stroke="#b070d8" stroke-width="2.2"/>
<text x="402" y="231.9" font-size="8.2" text-anchor="start" font-weight="bold" fill="#000" font-family="'Liberation Sans', Arial, sans-serif" dominant-baseline="central">398 K</text>
<line x1="380" y1="242.3" x2="400" y2="242.3" stroke="#d4900a" stroke-width="2.2"/>
<text x="402" y="242.6" font-size="8.2" text-anchor="start" font-weight="bold" fill="#000" font-family="'Liberation Sans', Arial, sans-serif" dominant-baseline="central">423 K</text>
<line x1="380" y1="253" x2="400" y2="253" stroke="#17a0c8" stroke-width="2.2"/>
<text x="402" y="253.3" font-size="8.2" text-anchor="start" font-weight="bold" fill="#000" font-family="'Liberation Sans', Arial, sans-serif" dominant-baseline="central">448 K</text>
<line x1="380" y1="263.6" x2="400" y2="263.6" stroke="#6b4343" stroke-width="2.2"/>
<text x="402" y="263.9" font-size="8.2" text-anchor="start" font-weight="bold" fill="#000" font-family="'Liberation Sans', Arial, sans-serif" dominant-baseline="central">473 K</text>
<text x="240.5" y="177.5" font-size="16.5" text-anchor="start" font-weight="bold" fill="#000" font-family="'Liberation Sans', Arial, sans-serif" dominant-baseline="central">e</text>
<rect x="483.4" y="178.3" width="161.4" height="131.7" fill="none" stroke="#000" stroke-width="1.2"/>
<polyline points="490.9,187.8 493.4,188.8 495.9,189.8 498.4,190.8 500.9,191.9 503.4,193 505.9,194.1 508.5,195.3 511,196.5 513.5,197.8 516,199.1 518.5,200.4 521,201.7 523.5,203.1 526,204.6 528.5,206.1 531,207.6 533.5,209.1 536,210.7 538.5,212.3 541,214 543.5,215.7 546,217.4 548.6,219.2 551.1,221 553.6,222.8 556.1,224.7 558.6,226.6 561.1,228.6 563.6,230.6 566.1,232.6 568.6,234.7 571.1,236.8 573.6,238.9 576.1,241.1 578.6,243.3 581.1,245.5 583.6,247.8 586.2,250.1 588.7,252.5 591.2,254.9 593.7,257.3 596.2,259.8 598.7,262.3 601.2,264.8 603.7,267.4 606.2,270 608.7,272.7 611.2,275.4 613.7,278.1 616.2,280.8 618.7,283.6 621.2,286.5 623.7,289.4 626.3,292.3 628.8,295.2 631.3,298.2 633.8,301.2 636.3,304.3 638.8,307.4" fill="none" stroke="#e8262a" stroke-width="1.6"/>
<rect x="488" y="190.1" width="5.9" height="5.9" fill="#4a4a4a"/>
<rect x="509.1" y="196.9" width="5.9" height="5.9" fill="#ee2a2a"/>
<rect x="530.2" y="202.1" width="5.9" height="5.9" fill="#1f5fcf"/>
<rect x="551.3" y="211.2" width="5.9" height="5.9" fill="#12956a"/>
<rect x="572.5" y="239" width="5.9" height="5.9" fill="#b070d8"/>
<rect x="593.6" y="276.6" width="5.9" height="5.9" fill="#d4900a"/>
<rect x="614.7" y="289" width="5.9" height="5.9" fill="#17a0c8"/>
<rect x="635.8" y="292.4" width="5.9" height="5.9" fill="#6b4343"/>
<line x1="492.6" y1="310" x2="492.6" y2="312.5" stroke="#000" stroke-width="0.9"/>
<text x="492.6" y="319.9" font-size="9.8" text-anchor="middle" font-weight="bold" fill="#000" font-family="'Liberation Sans', Arial, sans-serif" dominant-baseline="central">300</text>
<line x1="513.7" y1="310" x2="513.7" y2="312.5" stroke="#000" stroke-width="0.9"/>
<text x="513.7" y="319.9" font-size="9.8" text-anchor="middle" font-weight="bold" fill="#000" font-family="'Liberation Sans', Arial, sans-serif" dominant-baseline="central">325</text>
<line x1="534.9" y1="310" x2="534.9" y2="312.5" stroke="#000" stroke-width="0.9"/>
<text x="534.9" y="319.9" font-size="9.8" text-anchor="middle" font-weight="bold" fill="#000" font-family="'Liberation Sans', Arial, sans-serif" dominant-baseline="central">350</text>
<line x1="556" y1="310" x2="556" y2="312.5" stroke="#000" stroke-width="0.9"/>
<text x="556" y="319.9" font-size="9.8" text-anchor="middle" font-weight="bold" fill="#000" font-family="'Liberation Sans', Arial, sans-serif" dominant-baseline="central">375</text>
<line x1="577.1" y1="310" x2="577.1" y2="312.5" stroke="#000" stroke-width="0.9"/>
<text x="577.1" y="319.9" font-size="9.8" text-anchor="middle" font-weight="bold" fill="#000" font-family="'Liberation Sans', Arial, sans-serif" dominant-baseline="central">400</text>
<line x1="598.2" y1="310" x2="598.2" y2="312.5" stroke="#000" stroke-width="0.9"/>
<text x="598.2" y="319.9" font-size="9.8" text-anchor="middle" font-weight="bold" fill="#000" font-family="'Liberation Sans', Arial, sans-serif" dominant-baseline="central">425</text>
<line x1="619.4" y1="310" x2="619.4" y2="312.5" stroke="#000" stroke-width="0.9"/>
<text x="619.4" y="319.9" font-size="9.8" text-anchor="middle" font-weight="bold" fill="#000" font-family="'Liberation Sans', Arial, sans-serif" dominant-baseline="central">450</text>
<line x1="640.5" y1="310" x2="640.5" y2="312.5" stroke="#000" stroke-width="0.9"/>
<text x="640.5" y="319.9" font-size="9.8" text-anchor="middle" font-weight="bold" fill="#000" font-family="'Liberation Sans', Arial, sans-serif" dominant-baseline="central">475</text>
<line x1="482" y1="310" x2="482" y2="311.5" stroke="#000" stroke-width="0.8"/>
<line x1="492.6" y1="310" x2="492.6" y2="311.5" stroke="#000" stroke-width="0.8"/>
<line x1="503.2" y1="310" x2="503.2" y2="311.5" stroke="#000" stroke-width="0.8"/>
<line x1="513.7" y1="310" x2="513.7" y2="311.5" stroke="#000" stroke-width="0.8"/>
<line x1="524.3" y1="310" x2="524.3" y2="311.5" stroke="#000" stroke-width="0.8"/>
<line x1="534.9" y1="310" x2="534.9" y2="311.5" stroke="#000" stroke-width="0.8"/>
<line x1="545.4" y1="310" x2="545.4" y2="311.5" stroke="#000" stroke-width="0.8"/>
<line x1="556" y1="310" x2="556" y2="311.5" stroke="#000" stroke-width="0.8"/>
<line x1="566.5" y1="310" x2="566.5" y2="311.5" stroke="#000" stroke-width="0.8"/>
<line x1="577.1" y1="310" x2="577.1" y2="311.5" stroke="#000" stroke-width="0.8"/>
<line x1="587.7" y1="310" x2="587.7" y2="311.5" stroke="#000" stroke-width="0.8"/>
<line x1="598.2" y1="310" x2="598.2" y2="311.5" stroke="#000" stroke-width="0.8"/>
<line x1="608.8" y1="310" x2="608.8" y2="311.5" stroke="#000" stroke-width="0.8"/>
<line x1="619.4" y1="310" x2="619.4" y2="311.5" stroke="#000" stroke-width="0.8"/>
<line x1="629.9" y1="310" x2="629.9" y2="311.5" stroke="#000" stroke-width="0.8"/>
<line x1="640.5" y1="310" x2="640.5" y2="311.5" stroke="#000" stroke-width="0.8"/>
<line x1="480.9" y1="310" x2="483.4" y2="310" stroke="#000" stroke-width="0.9"/>
<text x="479.6" y="310" font-size="9.8" text-anchor="end" font-weight="bold" fill="#000" font-family="'Liberation Sans', Arial, sans-serif" dominant-baseline="central">0.0</text>
<line x1="481.9" y1="300.6" x2="483.4" y2="300.6" stroke="#000" stroke-width="0.8"/>
<line x1="480.9" y1="291.2" x2="483.4" y2="291.2" stroke="#000" stroke-width="0.9"/>
<text x="479.6" y="291.2" font-size="9.8" text-anchor="end" font-weight="bold" fill="#000" font-family="'Liberation Sans', Arial, sans-serif" dominant-baseline="central">0.5</text>
<line x1="481.9" y1="281.8" x2="483.4" y2="281.8" stroke="#000" stroke-width="0.8"/>
<line x1="480.9" y1="272.4" x2="483.4" y2="272.4" stroke="#000" stroke-width="0.9"/>
<text x="479.6" y="272.4" font-size="9.8" text-anchor="end" font-weight="bold" fill="#000" font-family="'Liberation Sans', Arial, sans-serif" dominant-baseline="central">1.0</text>
<line x1="481.9" y1="263" x2="483.4" y2="263" stroke="#000" stroke-width="0.8"/>
<line x1="480.9" y1="253.6" x2="483.4" y2="253.6" stroke="#000" stroke-width="0.9"/>
<text x="479.6" y="253.6" font-size="9.8" text-anchor="end" font-weight="bold" fill="#000" font-family="'Liberation Sans', Arial, sans-serif" dominant-baseline="central">1.5</text>
<line x1="481.9" y1="244.2" x2="483.4" y2="244.2" stroke="#000" stroke-width="0.8"/>
<line x1="480.9" y1="234.8" x2="483.4" y2="234.8" stroke="#000" stroke-width="0.9"/>
<text x="479.6" y="234.8" font-size="9.8" text-anchor="end" font-weight="bold" fill="#000" font-family="'Liberation Sans', Arial, sans-serif" dominant-baseline="central">2.0</text>
<line x1="481.9" y1="225.4" x2="483.4" y2="225.4" stroke="#000" stroke-width="0.8"/>
<line x1="480.9" y1="216" x2="483.4" y2="216" stroke="#000" stroke-width="0.9"/>
<text x="479.6" y="216" font-size="9.8" text-anchor="end" font-weight="bold" fill="#000" font-family="'Liberation Sans', Arial, sans-serif" dominant-baseline="central">2.5</text>
<line x1="481.9" y1="206.6" x2="483.4" y2="206.6" stroke="#000" stroke-width="0.8"/>
<line x1="480.9" y1="197.2" x2="483.4" y2="197.2" stroke="#000" stroke-width="0.9"/>
<text x="479.6" y="197.2" font-size="9.8" text-anchor="end" font-weight="bold" fill="#000" font-family="'Liberation Sans', Arial, sans-serif" dominant-baseline="central">3.0</text>
<line x1="481.9" y1="187.8" x2="483.4" y2="187.8" stroke="#000" stroke-width="0.8"/>
<line x1="480.9" y1="178.4" x2="483.4" y2="178.4" stroke="#000" stroke-width="0.9"/>
<text x="479.6" y="178.4" font-size="9.8" text-anchor="end" font-weight="bold" fill="#000" font-family="'Liberation Sans', Arial, sans-serif" dominant-baseline="central">3.5</text>
<text x="564" y="332.5" font-size="9.6" text-anchor="middle" font-weight="bold" fill="#000" font-family="'Liberation Sans', Arial, sans-serif" dominant-baseline="central">Temperature (K)</text>
<text transform="translate(457.3 243.5) rotate(-90)" font-family="'Liberation Sans', Arial, sans-serif" font-weight="bold" font-size="9.6" text-anchor="middle" dominant-baseline="central">I<tspan font-size="6.5" dy="2.2">R</tspan><tspan dy="-2.2">(I</tspan><tspan font-size="6.5" dy="2.2">Cu</tspan><tspan dy="-2.2">/I</tspan><tspan font-size="6.5" dy="2.2">Eu</tspan><tspan dy="-2.2">)</tspan></text>
<rect x="559.1" y="184.8" width="5.4" height="5.4" fill="#4a4a4a"/>
<text x="573" y="187.6" font-size="8.4" text-anchor="start" font-weight="bold" fill="#000" font-family="'Liberation Sans', Arial, sans-serif" dominant-baseline="central">Experimental</text>
<line x1="552" y1="199.1" x2="571" y2="199.1" stroke="#e8262a" stroke-width="1.6"/>
<text x="573" y="199.3" font-family="'Liberation Sans', Arial, sans-serif" font-weight="bold" font-size="8.4" dominant-baseline="central">Fitted (R<tspan font-size="5.5" dy="-2.8">2</tspan><tspan dy="2.8">=0.926)</tspan></text>
<text x="446.5" y="177.5" font-size="16.5" text-anchor="start" font-weight="bold" fill="#000" font-family="'Liberation Sans', Arial, sans-serif" dominant-baseline="central">f</text>
<line x1="42.1" y1="350.3" x2="202.6" y2="350.3" stroke="#000" stroke-width="1.2"/>
<line x1="42.1" y1="482.3" x2="202.6" y2="482.3" stroke="#000" stroke-width="1.2"/>
<line x1="42.1" y1="349.7" x2="42.1" y2="482.9" stroke="#c0000e" stroke-width="1.2"/>
<line x1="202.6" y1="349.7" x2="202.6" y2="482.9" stroke="#3c6c0c" stroke-width="1.2"/>
<polyline points="48.6,473.2 69.6,471.4 90.7,469.3 111.7,465.8 132.7,450.8 153.8,406.1 174.8,375 195.8,360.9" fill="none" stroke="#c0000e" stroke-width="1.1" stroke-dasharray="3.2,2.2"/>
<rect x="45.8" y="470.4" width="5.6" height="5.6" fill="#c0000e"/>
<rect x="66.8" y="468.6" width="5.6" height="5.6" fill="#c0000e"/>
<rect x="87.9" y="466.5" width="5.6" height="5.6" fill="#c0000e"/>
<rect x="108.9" y="463" width="5.6" height="5.6" fill="#c0000e"/>
<rect x="129.9" y="448" width="5.6" height="5.6" fill="#c0000e"/>
<rect x="151" y="403.3" width="5.6" height="5.6" fill="#c0000e"/>
<rect x="172" y="372.2" width="5.6" height="5.6" fill="#c0000e"/>
<rect x="193" y="358.1" width="5.6" height="5.6" fill="#c0000e"/>
<polyline points="48.6,381.6 69.6,383.4 90.7,384.9 111.7,387.4 132.7,398.9 153.8,432.1 174.8,456 195.8,466.2" fill="none" stroke="#3c6c0c" stroke-width="1.1" stroke-dasharray="3.2,2.2"/>
<rect x="45.8" y="378.8" width="5.6" height="5.6" fill="#3c6c0c"/>
<rect x="66.8" y="380.6" width="5.6" height="5.6" fill="#3c6c0c"/>
<rect x="87.9" y="382.1" width="5.6" height="5.6" fill="#3c6c0c"/>
<rect x="108.9" y="384.6" width="5.6" height="5.6" fill="#3c6c0c"/>
<rect x="129.9" y="396.1" width="5.6" height="5.6" fill="#3c6c0c"/>
<rect x="151" y="429.3" width="5.6" height="5.6" fill="#3c6c0c"/>
<rect x="172" y="453.2" width="5.6" height="5.6" fill="#3c6c0c"/>
<rect x="193" y="463.4" width="5.6" height="5.6" fill="#3c6c0c"/>
<line x1="50.3" y1="482.3" x2="50.3" y2="484.8" stroke="#000" stroke-width="0.9"/>
<text x="50.3" y="491.4" font-size="9.8" text-anchor="middle" font-weight="bold" fill="#000" font-family="'Liberation Sans', Arial, sans-serif" dominant-baseline="central">300</text>
<line x1="71.3" y1="482.3" x2="71.3" y2="484.8" stroke="#000" stroke-width="0.9"/>
<text x="71.3" y="491.4" font-size="9.8" text-anchor="middle" font-weight="bold" fill="#000" font-family="'Liberation Sans', Arial, sans-serif" dominant-baseline="central">325</text>
<line x1="92.4" y1="482.3" x2="92.4" y2="484.8" stroke="#000" stroke-width="0.9"/>
<text x="92.4" y="491.4" font-size="9.8" text-anchor="middle" font-weight="bold" fill="#000" font-family="'Liberation Sans', Arial, sans-serif" dominant-baseline="central">350</text>
<line x1="113.4" y1="482.3" x2="113.4" y2="484.8" stroke="#000" stroke-width="0.9"/>
<text x="113.4" y="491.4" font-size="9.8" text-anchor="middle" font-weight="bold" fill="#000" font-family="'Liberation Sans', Arial, sans-serif" dominant-baseline="central">375</text>
<line x1="134.4" y1="482.3" x2="134.4" y2="484.8" stroke="#000" stroke-width="0.9"/>
<text x="134.4" y="491.4" font-size="9.8" text-anchor="middle" font-weight="bold" fill="#000" font-family="'Liberation Sans', Arial, sans-serif" dominant-baseline="central">400</text>
<line x1="155.4" y1="482.3" x2="155.4" y2="484.8" stroke="#000" stroke-width="0.9"/>
<text x="155.4" y="491.4" font-size="9.8" text-anchor="middle" font-weight="bold" fill="#000" font-family="'Liberation Sans', Arial, sans-serif" dominant-baseline="central">425</text>
<line x1="176.5" y1="482.3" x2="176.5" y2="484.8" stroke="#000" stroke-width="0.9"/>
<text x="176.5" y="491.4" font-size="9.8" text-anchor="middle" font-weight="bold" fill="#000" font-family="'Liberation Sans', Arial, sans-serif" dominant-baseline="central">450</text>
<line x1="197.5" y1="482.3" x2="197.5" y2="484.8" stroke="#000" stroke-width="0.9"/>
<text x="197.5" y="491.4" font-size="9.8" text-anchor="middle" font-weight="bold" fill="#000" font-family="'Liberation Sans', Arial, sans-serif" dominant-baseline="central">475</text>
<line x1="50.3" y1="482.3" x2="50.3" y2="483.8" stroke="#000" stroke-width="0.8"/>
<line x1="60.8" y1="482.3" x2="60.8" y2="483.8" stroke="#000" stroke-width="0.8"/>
<line x1="71.3" y1="482.3" x2="71.3" y2="483.8" stroke="#000" stroke-width="0.8"/>
<line x1="81.8" y1="482.3" x2="81.8" y2="483.8" stroke="#000" stroke-width="0.8"/>
<line x1="92.4" y1="482.3" x2="92.4" y2="483.8" stroke="#000" stroke-width="0.8"/>
<line x1="102.9" y1="482.3" x2="102.9" y2="483.8" stroke="#000" stroke-width="0.8"/>
<line x1="113.4" y1="482.3" x2="113.4" y2="483.8" stroke="#000" stroke-width="0.8"/>
<line x1="123.9" y1="482.3" x2="123.9" y2="483.8" stroke="#000" stroke-width="0.8"/>
<line x1="134.4" y1="482.3" x2="134.4" y2="483.8" stroke="#000" stroke-width="0.8"/>
<line x1="144.9" y1="482.3" x2="144.9" y2="483.8" stroke="#000" stroke-width="0.8"/>
<line x1="155.4" y1="482.3" x2="155.4" y2="483.8" stroke="#000" stroke-width="0.8"/>
<line x1="166" y1="482.3" x2="166" y2="483.8" stroke="#000" stroke-width="0.8"/>
<line x1="176.5" y1="482.3" x2="176.5" y2="483.8" stroke="#000" stroke-width="0.8"/>
<line x1="187" y1="482.3" x2="187" y2="483.8" stroke="#000" stroke-width="0.8"/>
<line x1="197.5" y1="482.3" x2="197.5" y2="483.8" stroke="#000" stroke-width="0.8"/>
<line x1="39.6" y1="482.3" x2="42.1" y2="482.3" stroke="#c0000e" stroke-width="0.9"/>
<text x="38" y="482.3" font-size="9.8" text-anchor="end" font-weight="bold" fill="#c0000e" font-family="'Liberation Sans', Arial, sans-serif" dominant-baseline="central">0.350</text>
<line x1="40.6" y1="469.1" x2="42.1" y2="469.1" stroke="#c0000e" stroke-width="0.8"/>
<line x1="39.6" y1="455.9" x2="42.1" y2="455.9" stroke="#c0000e" stroke-width="0.9"/>
<text x="38" y="455.9" font-size="9.8" text-anchor="end" font-weight="bold" fill="#c0000e" font-family="'Liberation Sans', Arial, sans-serif" dominant-baseline="central">0.375</text>
<line x1="40.6" y1="442.7" x2="42.1" y2="442.7" stroke="#c0000e" stroke-width="0.8"/>
<line x1="39.6" y1="429.5" x2="42.1" y2="429.5" stroke="#c0000e" stroke-width="0.9"/>
<text x="38" y="429.5" font-size="9.8" text-anchor="end" font-weight="bold" fill="#c0000e" font-family="'Liberation Sans', Arial, sans-serif" dominant-baseline="central">0.400</text>
<line x1="40.6" y1="416.3" x2="42.1" y2="416.3" stroke="#c0000e" stroke-width="0.8"/>
<line x1="39.6" y1="403.1" x2="42.1" y2="403.1" stroke="#c0000e" stroke-width="0.9"/>
<text x="38" y="403.1" font-size="9.8" text-anchor="end" font-weight="bold" fill="#c0000e" font-family="'Liberation Sans', Arial, sans-serif" dominant-baseline="central">0.425</text>
<line x1="40.6" y1="389.9" x2="42.1" y2="389.9" stroke="#c0000e" stroke-width="0.8"/>
<line x1="39.6" y1="376.7" x2="42.1" y2="376.7" stroke="#c0000e" stroke-width="0.9"/>
<text x="38" y="376.7" font-size="9.8" text-anchor="end" font-weight="bold" fill="#c0000e" font-family="'Liberation Sans', Arial, sans-serif" dominant-baseline="central">0.450</text>
<line x1="40.6" y1="363.5" x2="42.1" y2="363.5" stroke="#c0000e" stroke-width="0.8"/>
<line x1="39.6" y1="350.3" x2="42.1" y2="350.3" stroke="#c0000e" stroke-width="0.9"/>
<text x="38" y="350.3" font-size="9.8" text-anchor="end" font-weight="bold" fill="#c0000e" font-family="'Liberation Sans', Arial, sans-serif" dominant-baseline="central">0.475</text>
<line x1="202.6" y1="482.3" x2="205.1" y2="482.3" stroke="#3c6c0c" stroke-width="0.9"/>
<text x="207.2" y="482.3" font-size="9.6" text-anchor="start" font-weight="bold" fill="#3c6c0c" font-family="'Liberation Sans', Arial, sans-serif" dominant-baseline="central">0.48</text>
<line x1="202.6" y1="469.1" x2="204.1" y2="469.1" stroke="#3c6c0c" stroke-width="0.8"/>
<line x1="202.6" y1="455.9" x2="205.1" y2="455.9" stroke="#3c6c0c" stroke-width="0.9"/>
<text x="207.2" y="455.9" font-size="9.6" text-anchor="start" font-weight="bold" fill="#3c6c0c" font-family="'Liberation Sans', Arial, sans-serif" dominant-baseline="central">0.50</text>
<line x1="202.6" y1="442.7" x2="204.1" y2="442.7" stroke="#3c6c0c" stroke-width="0.8"/>
<line x1="202.6" y1="429.5" x2="205.1" y2="429.5" stroke="#3c6c0c" stroke-width="0.9"/>
<text x="207.2" y="429.5" font-size="9.6" text-anchor="start" font-weight="bold" fill="#3c6c0c" font-family="'Liberation Sans', Arial, sans-serif" dominant-baseline="central">0.52</text>
<line x1="202.6" y1="416.3" x2="204.1" y2="416.3" stroke="#3c6c0c" stroke-width="0.8"/>
<line x1="202.6" y1="403.1" x2="205.1" y2="403.1" stroke="#3c6c0c" stroke-width="0.9"/>
<text x="207.2" y="403.1" font-size="9.6" text-anchor="start" font-weight="bold" fill="#3c6c0c" font-family="'Liberation Sans', Arial, sans-serif" dominant-baseline="central">0.54</text>
<line x1="202.6" y1="389.9" x2="204.1" y2="389.9" stroke="#3c6c0c" stroke-width="0.8"/>
<line x1="202.6" y1="376.7" x2="205.1" y2="376.7" stroke="#3c6c0c" stroke-width="0.9"/>
<text x="207.2" y="376.7" font-size="9.6" text-anchor="start" font-weight="bold" fill="#3c6c0c" font-family="'Liberation Sans', Arial, sans-serif" dominant-baseline="central">0.56</text>
<line x1="202.6" y1="363.5" x2="204.1" y2="363.5" stroke="#3c6c0c" stroke-width="0.8"/>
<line x1="202.6" y1="350.3" x2="205.1" y2="350.3" stroke="#3c6c0c" stroke-width="0.9"/>
<text x="207.2" y="350.3" font-size="9.6" text-anchor="start" font-weight="bold" fill="#3c6c0c" font-family="'Liberation Sans', Arial, sans-serif" dominant-baseline="central">0.58</text>
<text x="119.5" y="502.6" font-size="9.3" text-anchor="middle" font-weight="bold" fill="#000" font-family="'Liberation Sans', Arial, sans-serif" dominant-baseline="central">Temperature (K)</text>
<text transform="translate(5.0 414.8) rotate(-90)" font-family="'Liberation Sans', Arial, sans-serif" font-weight="bold" font-size="9.6" text-anchor="middle" dominant-baseline="central" fill="#c0000e">CIE <tspan font-style="italic">x</tspan></text>
<text transform="translate(233.2 414.3) rotate(-90)" font-family="'Liberation Sans', Arial, sans-serif" font-weight="bold" font-size="9.8" text-anchor="middle" dominant-baseline="central" fill="#3c6c0c">CIE <tspan font-style="italic">y</tspan></text>
<text x="3.5" y="336.5" font-size="16.5" text-anchor="start" font-weight="bold" fill="#000" font-family="'Liberation Sans', Arial, sans-serif" dominant-baseline="central">g</text>
<rect x="148.5" y="10" width="50.5" height="40.5" fill="#fff" stroke="#444" stroke-width="0.7"/>
<line x1="152.7" y1="15" x2="152.7" y2="17" stroke="#4a4a4a" stroke-width="0.5"/>
<line x1="152" y1="15" x2="153.4" y2="15" stroke="#4a4a4a" stroke-width="0.4"/>
<line x1="152" y1="17" x2="153.4" y2="17" stroke="#4a4a4a" stroke-width="0.4"/>
<rect x="151.6" y="14.9" width="2.2" height="2.2" fill="#4a4a4a"/>
<line x1="158.8" y1="15.2" x2="158.8" y2="17.6" stroke="#ee2a2a" stroke-width="0.5"/>
<line x1="158.1" y1="15.2" x2="159.5" y2="15.2" stroke="#ee2a2a" stroke-width="0.4"/>
<line x1="158.1" y1="17.6" x2="159.5" y2="17.6" stroke="#ee2a2a" stroke-width="0.4"/>
<rect x="157.7" y="15.3" width="2.2" height="2.2" fill="#ee2a2a"/>
<line x1="164.8" y1="14.6" x2="164.8" y2="17.8" stroke="#1f5fcf" stroke-width="0.5"/>
<line x1="164.1" y1="14.6" x2="165.5" y2="14.6" stroke="#1f5fcf" stroke-width="0.4"/>
<line x1="164.1" y1="17.8" x2="165.5" y2="17.8" stroke="#1f5fcf" stroke-width="0.4"/>
<rect x="163.7" y="15.1" width="2.2" height="2.2" fill="#1f5fcf"/>
<line x1="170.9" y1="15.1" x2="170.9" y2="19.5" stroke="#12956a" stroke-width="0.5"/>
<line x1="170.2" y1="15.1" x2="171.6" y2="15.1" stroke="#12956a" stroke-width="0.4"/>
<line x1="170.2" y1="19.5" x2="171.6" y2="19.5" stroke="#12956a" stroke-width="0.4"/>
<rect x="169.8" y="16.2" width="2.2" height="2.2" fill="#12956a"/>
<line x1="176.9" y1="16.3" x2="176.9" y2="20.3" stroke="#b070d8" stroke-width="0.5"/>
<line x1="176.2" y1="16.3" x2="177.6" y2="16.3" stroke="#b070d8" stroke-width="0.4"/>
<line x1="176.2" y1="20.3" x2="177.6" y2="20.3" stroke="#b070d8" stroke-width="0.4"/>
<rect x="175.8" y="17.2" width="2.2" height="2.2" fill="#b070d8"/>
<line x1="182.8" y1="16.5" x2="182.8" y2="19.7" stroke="#d4900a" stroke-width="0.5"/>
<line x1="182.1" y1="16.5" x2="183.5" y2="16.5" stroke="#d4900a" stroke-width="0.4"/>
<line x1="182.1" y1="19.7" x2="183.5" y2="19.7" stroke="#d4900a" stroke-width="0.4"/>
<rect x="181.7" y="17" width="2.2" height="2.2" fill="#d4900a"/>
<line x1="188.8" y1="16.8" x2="188.8" y2="22" stroke="#17a0c8" stroke-width="0.5"/>
<line x1="188.1" y1="16.8" x2="189.5" y2="16.8" stroke="#17a0c8" stroke-width="0.4"/>
<line x1="188.1" y1="22" x2="189.5" y2="22" stroke="#17a0c8" stroke-width="0.4"/>
<rect x="187.7" y="18.3" width="2.2" height="2.2" fill="#17a0c8"/>
<line x1="194.9" y1="17.8" x2="194.9" y2="21.8" stroke="#6b4343" stroke-width="0.5"/>
<line x1="194.2" y1="17.8" x2="195.6" y2="17.8" stroke="#6b4343" stroke-width="0.4"/>
<line x1="194.2" y1="21.8" x2="195.6" y2="21.8" stroke="#6b4343" stroke-width="0.4"/>
<rect x="193.8" y="18.7" width="2.2" height="2.2" fill="#6b4343"/>
<text x="153.4" y="54.2" font-size="4.7" text-anchor="middle" font-weight="bold" fill="#000" font-family="'Liberation Sans', Arial, sans-serif" dominant-baseline="central">300</text>
<line x1="153.4" y1="50.5" x2="153.4" y2="49.5" stroke="#444" stroke-width="0.4"/>
<text x="165.5" y="54.2" font-size="4.7" text-anchor="middle" font-weight="bold" fill="#000" font-family="'Liberation Sans', Arial, sans-serif" dominant-baseline="central">350</text>
<line x1="165.5" y1="50.5" x2="165.5" y2="49.5" stroke="#444" stroke-width="0.4"/>
<text x="177.6" y="54.2" font-size="4.7" text-anchor="middle" font-weight="bold" fill="#000" font-family="'Liberation Sans', Arial, sans-serif" dominant-baseline="central">400</text>
<line x1="177.6" y1="50.5" x2="177.6" y2="49.5" stroke="#444" stroke-width="0.4"/>
<text x="189.7" y="54.2" font-size="4.7" text-anchor="middle" font-weight="bold" fill="#000" font-family="'Liberation Sans', Arial, sans-serif" dominant-baseline="central">450</text>
<line x1="189.7" y1="50.5" x2="189.7" y2="49.5" stroke="#444" stroke-width="0.4"/>
<line x1="148.5" y1="18" x2="149.5" y2="18" stroke="#444" stroke-width="0.4"/>
<line x1="148.5" y1="27.5" x2="149.5" y2="27.5" stroke="#444" stroke-width="0.4"/>
<line x1="148.5" y1="37" x2="149.5" y2="37" stroke="#444" stroke-width="0.4"/>
<line x1="148.5" y1="46.5" x2="149.5" y2="46.5" stroke="#444" stroke-width="0.4"/>
<text x="173.2" y="58.5" font-size="4.5" text-anchor="middle" font-weight="bold" fill="#000" font-family="'Liberation Sans', Arial, sans-serif" dominant-baseline="central">Temperature (K)</text>
<text x="144.9" y="29.2" font-size="4.4" text-anchor="middle" font-weight="bold" fill="#000" font-family="'Liberation Sans', Arial, sans-serif" dominant-baseline="central" transform="rotate(-90 144.9 29.2)">ML Intensity (a.u.)</text>
<rect x="362.4" y="9.2" width="50.4" height="40.9" fill="#fff" stroke="#444" stroke-width="0.7"/>
<line x1="366.6" y1="12.9" x2="366.6" y2="17.7" stroke="#4a4a4a" stroke-width="0.5"/>
<line x1="365.9" y1="12.9" x2="367.3" y2="12.9" stroke="#4a4a4a" stroke-width="0.4"/>
<line x1="365.9" y1="17.7" x2="367.3" y2="17.7" stroke="#4a4a4a" stroke-width="0.4"/>
<rect x="365.5" y="14.2" width="2.2" height="2.2" fill="#4a4a4a"/>
<line x1="372.8" y1="13.7" x2="372.8" y2="15.7" stroke="#ee2a2a" stroke-width="0.5"/>
<line x1="372.1" y1="13.7" x2="373.5" y2="13.7" stroke="#ee2a2a" stroke-width="0.4"/>
<line x1="372.1" y1="15.7" x2="373.5" y2="15.7" stroke="#ee2a2a" stroke-width="0.4"/>
<rect x="371.7" y="13.6" width="2.2" height="2.2" fill="#ee2a2a"/>
<line x1="379" y1="14" x2="379" y2="18" stroke="#1f5fcf" stroke-width="0.5"/>
<line x1="378.3" y1="14" x2="379.7" y2="14" stroke="#1f5fcf" stroke-width="0.4"/>
<line x1="378.3" y1="18" x2="379.7" y2="18" stroke="#1f5fcf" stroke-width="0.4"/>
<rect x="377.9" y="14.9" width="2.2" height="2.2" fill="#1f5fcf"/>
<line x1="384.7" y1="13" x2="384.7" y2="19.8" stroke="#12956a" stroke-width="0.5"/>
<line x1="384" y1="13" x2="385.4" y2="13" stroke="#12956a" stroke-width="0.4"/>
<line x1="384" y1="19.8" x2="385.4" y2="19.8" stroke="#12956a" stroke-width="0.4"/>
<rect x="383.6" y="15.3" width="2.2" height="2.2" fill="#12956a"/>
<line x1="390.9" y1="14.4" x2="390.9" y2="18.4" stroke="#b070d8" stroke-width="0.5"/>
<line x1="390.2" y1="14.4" x2="391.6" y2="14.4" stroke="#b070d8" stroke-width="0.4"/>
<line x1="390.2" y1="18.4" x2="391.6" y2="18.4" stroke="#b070d8" stroke-width="0.4"/>
<rect x="389.8" y="15.3" width="2.2" height="2.2" fill="#b070d8"/>
<line x1="396.9" y1="15.3" x2="396.9" y2="21.3" stroke="#d4900a" stroke-width="0.5"/>
<line x1="396.2" y1="15.3" x2="397.6" y2="15.3" stroke="#d4900a" stroke-width="0.4"/>
<line x1="396.2" y1="21.3" x2="397.6" y2="21.3" stroke="#d4900a" stroke-width="0.4"/>
<rect x="395.8" y="17.2" width="2.2" height="2.2" fill="#d4900a"/>
<line x1="403" y1="15.2" x2="403" y2="18" stroke="#17a0c8" stroke-width="0.5"/>
<line x1="402.3" y1="15.2" x2="403.7" y2="15.2" stroke="#17a0c8" stroke-width="0.4"/>
<line x1="402.3" y1="18" x2="403.7" y2="18" stroke="#17a0c8" stroke-width="0.4"/>
<rect x="401.9" y="15.5" width="2.2" height="2.2" fill="#17a0c8"/>
<line x1="409" y1="17.1" x2="409" y2="19.9" stroke="#6b4343" stroke-width="0.5"/>
<line x1="408.3" y1="17.1" x2="409.7" y2="17.1" stroke="#6b4343" stroke-width="0.4"/>
<line x1="408.3" y1="19.9" x2="409.7" y2="19.9" stroke="#6b4343" stroke-width="0.4"/>
<rect x="407.9" y="17.4" width="2.2" height="2.2" fill="#6b4343"/>
<text x="367.3" y="53.8" font-size="4.7" text-anchor="middle" font-weight="bold" fill="#000" font-family="'Liberation Sans', Arial, sans-serif" dominant-baseline="central">300</text>
<line x1="367.3" y1="50.1" x2="367.3" y2="49.1" stroke="#444" stroke-width="0.4"/>
<text x="379.4" y="53.8" font-size="4.7" text-anchor="middle" font-weight="bold" fill="#000" font-family="'Liberation Sans', Arial, sans-serif" dominant-baseline="central">350</text>
<line x1="379.4" y1="50.1" x2="379.4" y2="49.1" stroke="#444" stroke-width="0.4"/>
<text x="391.5" y="53.8" font-size="4.7" text-anchor="middle" font-weight="bold" fill="#000" font-family="'Liberation Sans', Arial, sans-serif" dominant-baseline="central">400</text>
<line x1="391.5" y1="50.1" x2="391.5" y2="49.1" stroke="#444" stroke-width="0.4"/>
<text x="403.6" y="53.8" font-size="4.7" text-anchor="middle" font-weight="bold" fill="#000" font-family="'Liberation Sans', Arial, sans-serif" dominant-baseline="central">450</text>
<line x1="403.6" y1="50.1" x2="403.6" y2="49.1" stroke="#444" stroke-width="0.4"/>
<line x1="362.4" y1="17.2" x2="363.4" y2="17.2" stroke="#444" stroke-width="0.4"/>
<line x1="362.4" y1="26.8" x2="363.4" y2="26.8" stroke="#444" stroke-width="0.4"/>
<line x1="362.4" y1="36.5" x2="363.4" y2="36.5" stroke="#444" stroke-width="0.4"/>
<line x1="362.4" y1="46.1" x2="363.4" y2="46.1" stroke="#444" stroke-width="0.4"/>
<text x="387.1" y="58.1" font-size="4.5" text-anchor="middle" font-weight="bold" fill="#000" font-family="'Liberation Sans', Arial, sans-serif" dominant-baseline="central">Temperature (K)</text>
<text x="358.8" y="28.6" font-size="4.4" text-anchor="middle" font-weight="bold" fill="#000" font-family="'Liberation Sans', Arial, sans-serif" dominant-baseline="central" transform="rotate(-90 358.8 28.6)">ML Intensity (a.u.)</text>
<rect x="576.5" y="9.3" width="51.3" height="40.8" fill="#fff" stroke="#444" stroke-width="0.7"/>
<line x1="581" y1="15.6" x2="581" y2="17.2" stroke="#4a4a4a" stroke-width="0.5"/>
<line x1="580.3" y1="15.6" x2="581.7" y2="15.6" stroke="#4a4a4a" stroke-width="0.4"/>
<line x1="580.3" y1="17.2" x2="581.7" y2="17.2" stroke="#4a4a4a" stroke-width="0.4"/>
<rect x="579.9" y="15.3" width="2.2" height="2.2" fill="#4a4a4a"/>
<line x1="586.7" y1="18.4" x2="586.7" y2="21.2" stroke="#ee2a2a" stroke-width="0.5"/>
<line x1="586" y1="18.4" x2="587.4" y2="18.4" stroke="#ee2a2a" stroke-width="0.4"/>
<line x1="586" y1="21.2" x2="587.4" y2="21.2" stroke="#ee2a2a" stroke-width="0.4"/>
<rect x="585.6" y="18.7" width="2.2" height="2.2" fill="#ee2a2a"/>
<line x1="592.7" y1="17.2" x2="592.7" y2="21.2" stroke="#1f5fcf" stroke-width="0.5"/>
<line x1="592" y1="17.2" x2="593.4" y2="17.2" stroke="#1f5fcf" stroke-width="0.4"/>
<line x1="592" y1="21.2" x2="593.4" y2="21.2" stroke="#1f5fcf" stroke-width="0.4"/>
<rect x="591.6" y="18.1" width="2.2" height="2.2" fill="#1f5fcf"/>
<line x1="598.8" y1="16.8" x2="598.8" y2="22" stroke="#12956a" stroke-width="0.5"/>
<line x1="598.1" y1="16.8" x2="599.5" y2="16.8" stroke="#12956a" stroke-width="0.4"/>
<line x1="598.1" y1="22" x2="599.5" y2="22" stroke="#12956a" stroke-width="0.4"/>
<rect x="597.7" y="18.3" width="2.2" height="2.2" fill="#12956a"/>
<line x1="604.8" y1="18.5" x2="604.8" y2="24.5" stroke="#b070d8" stroke-width="0.5"/>
<line x1="604.1" y1="18.5" x2="605.5" y2="18.5" stroke="#b070d8" stroke-width="0.4"/>
<line x1="604.1" y1="24.5" x2="605.5" y2="24.5" stroke="#b070d8" stroke-width="0.4"/>
<rect x="603.7" y="20.4" width="2.2" height="2.2" fill="#b070d8"/>
<line x1="610.8" y1="18.5" x2="610.8" y2="24.9" stroke="#d4900a" stroke-width="0.5"/>
<line x1="610.1" y1="18.5" x2="611.5" y2="18.5" stroke="#d4900a" stroke-width="0.4"/>
<line x1="610.1" y1="24.9" x2="611.5" y2="24.9" stroke="#d4900a" stroke-width="0.4"/>
<rect x="609.7" y="20.6" width="2.2" height="2.2" fill="#d4900a"/>
<line x1="616.9" y1="19.5" x2="616.9" y2="25.9" stroke="#17a0c8" stroke-width="0.5"/>
<line x1="616.2" y1="19.5" x2="617.6" y2="19.5" stroke="#17a0c8" stroke-width="0.4"/>
<line x1="616.2" y1="25.9" x2="617.6" y2="25.9" stroke="#17a0c8" stroke-width="0.4"/>
<rect x="615.8" y="21.6" width="2.2" height="2.2" fill="#17a0c8"/>
<line x1="622.7" y1="20.9" x2="622.7" y2="26.9" stroke="#6b4343" stroke-width="0.5"/>
<line x1="622" y1="20.9" x2="623.4" y2="20.9" stroke="#6b4343" stroke-width="0.4"/>
<line x1="622" y1="26.9" x2="623.4" y2="26.9" stroke="#6b4343" stroke-width="0.4"/>
<rect x="621.6" y="22.8" width="2.2" height="2.2" fill="#6b4343"/>
<text x="581.7" y="53.8" font-size="4.7" text-anchor="middle" font-weight="bold" fill="#000" font-family="'Liberation Sans', Arial, sans-serif" dominant-baseline="central">300</text>
<line x1="581.7" y1="50.1" x2="581.7" y2="49.1" stroke="#444" stroke-width="0.4"/>
<text x="593.8" y="53.8" font-size="4.7" text-anchor="middle" font-weight="bold" fill="#000" font-family="'Liberation Sans', Arial, sans-serif" dominant-baseline="central">350</text>
<line x1="593.8" y1="50.1" x2="593.8" y2="49.1" stroke="#444" stroke-width="0.4"/>
<text x="605.9" y="53.8" font-size="4.7" text-anchor="middle" font-weight="bold" fill="#000" font-family="'Liberation Sans', Arial, sans-serif" dominant-baseline="central">400</text>
<line x1="605.9" y1="50.1" x2="605.9" y2="49.1" stroke="#444" stroke-width="0.4"/>
<text x="618" y="53.8" font-size="4.7" text-anchor="middle" font-weight="bold" fill="#000" font-family="'Liberation Sans', Arial, sans-serif" dominant-baseline="central">450</text>
<line x1="618" y1="50.1" x2="618" y2="49.1" stroke="#444" stroke-width="0.4"/>
<line x1="576.5" y1="17.3" x2="577.5" y2="17.3" stroke="#444" stroke-width="0.4"/>
<line x1="576.5" y1="26.9" x2="577.5" y2="26.9" stroke="#444" stroke-width="0.4"/>
<line x1="576.5" y1="36.5" x2="577.5" y2="36.5" stroke="#444" stroke-width="0.4"/>
<line x1="576.5" y1="46.1" x2="577.5" y2="46.1" stroke="#444" stroke-width="0.4"/>
<text x="601.6" y="58.1" font-size="4.5" text-anchor="middle" font-weight="bold" fill="#000" font-family="'Liberation Sans', Arial, sans-serif" dominant-baseline="central">Temperature (K)</text>
<text x="572.9" y="28.7" font-size="4.4" text-anchor="middle" font-weight="bold" fill="#000" font-family="'Liberation Sans', Arial, sans-serif" dominant-baseline="central" transform="rotate(-90 572.9 28.7)">ML Intensity (a.u.)</text>
<defs><clipPath id="cieclip"><path d="M306.3 480.7 L306.1 480.7 L306 480.7 L305.7 480.7 L305.5 480.6 L305.2 480.4 L304.8 480.1 L304.3 479.8 L303.6 479.4 L302.7 478.8 L301.6 478.1 L300.2 477.1 L298.4 475.6 L296.1 473 L293.2 468.7 L289.5 462 L284.9 452.1 L280.2 438.3 L275.8 421.1 L272.7 402.8 L271.8 385.8 L273.8 371.9 L278.9 362.8 L286 359.7 L294.1 360.8 L302.3 363.7 L310.1 367.3 L317.5 371.3 L324.8 375.7 L332.1 380.3 L339.3 385.2 L346.6 390.2 L353.8 395.3 L360.9 400.4 L368 405.5 L374.8 410.4 L381.3 415.1 L387.5 419.5 L393.1 423.5 L398 427 L402.3 430.1 L405.8 432.6 L408.7 434.7 L411 436.4 L412.9 437.7 L414.3 438.8 L416.6 440.4 L418 441.4 L418.8 442 L419.5 442.5 L419.8 442.7Z"/></clipPath><filter id="cieblur" x="-5%" y="-5%" width="110%" height="110%"><feGaussianBlur stdDeviation="1.2"/></filter></defs>
<g clip-path="url(#cieclip)"><g filter="url(#cieblur)">
<path fill="#1b7" d="M277.5 358h2.8v2.8h-2.8zM280 358h2.8v2.8h-2.8zM282.5 358h2.8v2.8h-2.8zM285 358h2.8v2.8h-2.8zM275 360.5h2.8v2.8h-2.8zM277.5 360.5h2.8v2.8h-2.8zM280 360.5h2.8v2.8h-2.8zM282.5 360.5h2.8v2.8h-2.8zM285 360.5h2.8v2.8h-2.8zM275 363h2.8v2.8h-2.8zM277.5 363h2.8v2.8h-2.8zM280 363h2.8v2.8h-2.8zM282.5 363h2.8v2.8h-2.8zM285 363h2.8v2.8h-2.8zM287.5 363h2.8v2.8h-2.8zM277.5 365.5h2.8v2.8h-2.8zM280 365.5h2.8v2.8h-2.8zM282.5 365.5h2.8v2.8h-2.8zM285 365.5h2.8v2.8h-2.8zM287.5 365.5h2.8v2.8h-2.8zM290 365.5h2.8v2.8h-2.8zM280 368h2.8v2.8h-2.8zM282.5 368h2.8v2.8h-2.8zM285 368h2.8v2.8h-2.8zM287.5 368h2.8v2.8h-2.8zM290 368h2.8v2.8h-2.8zM282.5 370.5h2.8v2.8h-2.8zM285 370.5h2.8v2.8h-2.8zM287.5 370.5h2.8v2.8h-2.8zM290 370.5h2.8v2.8h-2.8zM292.5 370.5h2.8v2.8h-2.8zM285 373h2.8v2.8h-2.8zM287.5 373h2.8v2.8h-2.8zM290 373h2.8v2.8h-2.8zM292.5 373h2.8v2.8h-2.8zM295 373h2.8v2.8h-2.8zM285 375.5h2.8v2.8h-2.8zM287.5 375.5h2.8v2.8h-2.8zM290 375.5h2.8v2.8h-2.8zM292.5 375.5h2.8v2.8h-2.8zM295 375.5h2.8v2.8h-2.8zM287.5 378h2.8v2.8h-2.8zM290 378h2.8v2.8h-2.8zM292.5 378h2.8v2.8h-2.8zM295 378h2.8v2.8h-2.8zM297.5 378h2.8v2.8h-2.8zM290 380.5h2.8v2.8h-2.8zM292.5 380.5h2.8v2.8h-2.8zM295 380.5h2.8v2.8h-2.8zM297.5 380.5h2.8v2.8h-2.8zM300 380.5h2.8v2.8h-2.8zM292.5 383h2.8v2.8h-2.8zM295 383h2.8v2.8h-2.8zM297.5 383h2.8v2.8h-2.8zM300 383h2.8v2.8h-2.8zM295 385.5h2.8v2.8h-2.8zM297.5 385.5h2.8v2.8h-2.8zM300 385.5h2.8v2.8h-2.8zM302.5 385.5h2.8v2.8h-2.8zM297.5 388h2.8v2.8h-2.8zM300 388h2.8v2.8h-2.8zM302.5 388h2.8v2.8h-2.8zM305 388h2.8v2.8h-2.8zM300 390.5h2.8v2.8h-2.8zM302.5 390.5h2.8v2.8h-2.8zM305 390.5h2.8v2.8h-2.8zM302.5 393h2.8v2.8h-2.8z"/>
<path fill="#1b6" d="M287.5 358h2.8v2.8h-2.8zM290 358h2.8v2.8h-2.8zM292.5 358h2.8v2.8h-2.8zM295 358h2.8v2.8h-2.8zM287.5 360.5h2.8v2.8h-2.8zM290 360.5h2.8v2.8h-2.8zM292.5 360.5h2.8v2.8h-2.8zM295 360.5h2.8v2.8h-2.8zM290 363h2.8v2.8h-2.8zM292.5 363h2.8v2.8h-2.8zM295 363h2.8v2.8h-2.8zM297.5 363h2.8v2.8h-2.8zM292.5 365.5h2.8v2.8h-2.8zM295 365.5h2.8v2.8h-2.8zM297.5 365.5h2.8v2.8h-2.8zM292.5 368h2.8v2.8h-2.8zM295 368h2.8v2.8h-2.8zM297.5 368h2.8v2.8h-2.8zM300 368h2.8v2.8h-2.8zM295 370.5h2.8v2.8h-2.8zM297.5 370.5h2.8v2.8h-2.8zM300 370.5h2.8v2.8h-2.8zM297.5 373h2.8v2.8h-2.8zM300 373h2.8v2.8h-2.8zM302.5 373h2.8v2.8h-2.8zM297.5 375.5h2.8v2.8h-2.8zM300 375.5h2.8v2.8h-2.8zM302.5 375.5h2.8v2.8h-2.8zM300 378h2.8v2.8h-2.8zM302.5 378h2.8v2.8h-2.8zM305 378h2.8v2.8h-2.8zM302.5 380.5h2.8v2.8h-2.8zM305 380.5h2.8v2.8h-2.8zM302.5 383h2.8v2.8h-2.8zM305 383h2.8v2.8h-2.8zM307.5 383h2.8v2.8h-2.8zM305 385.5h2.8v2.8h-2.8zM307.5 385.5h2.8v2.8h-2.8zM310 385.5h2.8v2.8h-2.8zM307.5 388h2.8v2.8h-2.8zM310 388h2.8v2.8h-2.8zM307.5 390.5h2.8v2.8h-2.8zM310 390.5h2.8v2.8h-2.8zM312.5 390.5h2.8v2.8h-2.8zM312.5 393h2.8v2.8h-2.8z"/>
<path fill="#1b5" d="M297.5 358h2.8v2.8h-2.8zM297.5 360.5h2.8v2.8h-2.8zM300 360.5h2.8v2.8h-2.8zM300 363h2.8v2.8h-2.8zM302.5 363h2.8v2.8h-2.8zM300 365.5h2.8v2.8h-2.8zM302.5 365.5h2.8v2.8h-2.8zM302.5 368h2.8v2.8h-2.8zM305 368h2.8v2.8h-2.8zM302.5 370.5h2.8v2.8h-2.8zM305 370.5h2.8v2.8h-2.8zM305 373h2.8v2.8h-2.8zM305 375.5h2.8v2.8h-2.8zM307.5 375.5h2.8v2.8h-2.8zM307.5 378h2.8v2.8h-2.8zM307.5 380.5h2.8v2.8h-2.8zM310 380.5h2.8v2.8h-2.8zM310 383h2.8v2.8h-2.8zM312.5 388h2.8v2.8h-2.8z"/>
<path fill="#1c5" d="M302.5 360.5h2.8v2.8h-2.8zM305 363h2.8v2.8h-2.8zM305 365.5h2.8v2.8h-2.8zM307.5 368h2.8v2.8h-2.8zM307.5 370.5h2.8v2.8h-2.8zM307.5 373h2.8v2.8h-2.8zM310 375.5h2.8v2.8h-2.8zM310 378h2.8v2.8h-2.8zM312.5 380.5h2.8v2.8h-2.8zM312.5 383h2.8v2.8h-2.8zM312.5 385.5h2.8v2.8h-2.8zM315 388h2.8v2.8h-2.8zM315 390.5h2.8v2.8h-2.8zM315 393h2.8v2.8h-2.8zM317.5 393h2.8v2.8h-2.8zM317.5 395.5h2.8v2.8h-2.8z"/>
<path fill="#1c4" d="M305 360.5h2.8v2.8h-2.8zM307.5 363h2.8v2.8h-2.8zM307.5 365.5h2.8v2.8h-2.8zM310 365.5h2.8v2.8h-2.8zM310 368h2.8v2.8h-2.8zM310 370.5h2.8v2.8h-2.8zM310 373h2.8v2.8h-2.8zM312.5 373h2.8v2.8h-2.8zM312.5 375.5h2.8v2.8h-2.8zM312.5 378h2.8v2.8h-2.8zM315 380.5h2.8v2.8h-2.8zM315 383h2.8v2.8h-2.8zM315 385.5h2.8v2.8h-2.8zM317.5 388h2.8v2.8h-2.8zM317.5 390.5h2.8v2.8h-2.8z"/>
<path fill="#2c4" d="M310 363h2.8v2.8h-2.8zM312.5 368h2.8v2.8h-2.8zM312.5 370.5h2.8v2.8h-2.8zM315 378h2.8v2.8h-2.8zM317.5 385.5h2.8v2.8h-2.8zM320 393h2.8v2.8h-2.8zM320 395.5h2.8v2.8h-2.8zM322.5 398h2.8v2.8h-2.8zM322.5 400.5h2.8v2.8h-2.8z"/>
<path fill="#1b8" d="M272.5 365.5h2.8v2.8h-2.8zM275 365.5h2.8v2.8h-2.8zM272.5 368h2.8v2.8h-2.8zM275 368h2.8v2.8h-2.8zM277.5 368h2.8v2.8h-2.8zM270 370.5h2.8v2.8h-2.8zM272.5 370.5h2.8v2.8h-2.8zM275 370.5h2.8v2.8h-2.8zM277.5 370.5h2.8v2.8h-2.8zM280 370.5h2.8v2.8h-2.8zM270 373h2.8v2.8h-2.8zM272.5 373h2.8v2.8h-2.8zM275 373h2.8v2.8h-2.8zM277.5 373h2.8v2.8h-2.8zM280 373h2.8v2.8h-2.8zM282.5 373h2.8v2.8h-2.8zM270 375.5h2.8v2.8h-2.8zM272.5 375.5h2.8v2.8h-2.8zM275 375.5h2.8v2.8h-2.8zM277.5 375.5h2.8v2.8h-2.8zM280 375.5h2.8v2.8h-2.8zM282.5 375.5h2.8v2.8h-2.8zM270 378h2.8v2.8h-2.8zM272.5 378h2.8v2.8h-2.8zM275 378h2.8v2.8h-2.8zM277.5 378h2.8v2.8h-2.8zM280 378h2.8v2.8h-2.8zM282.5 378h2.8v2.8h-2.8zM285 378h2.8v2.8h-2.8zM275 380.5h2.8v2.8h-2.8zM277.5 380.5h2.8v2.8h-2.8zM280 380.5h2.8v2.8h-2.8zM282.5 380.5h2.8v2.8h-2.8zM285 380.5h2.8v2.8h-2.8zM287.5 380.5h2.8v2.8h-2.8zM277.5 383h2.8v2.8h-2.8zM280 383h2.8v2.8h-2.8zM282.5 383h2.8v2.8h-2.8zM285 383h2.8v2.8h-2.8zM287.5 383h2.8v2.8h-2.8zM290 383h2.8v2.8h-2.8zM280 385.5h2.8v2.8h-2.8zM282.5 385.5h2.8v2.8h-2.8zM285 385.5h2.8v2.8h-2.8zM287.5 385.5h2.8v2.8h-2.8zM290 385.5h2.8v2.8h-2.8zM292.5 385.5h2.8v2.8h-2.8zM282.5 388h2.8v2.8h-2.8zM285 388h2.8v2.8h-2.8zM287.5 388h2.8v2.8h-2.8zM290 388h2.8v2.8h-2.8zM292.5 388h2.8v2.8h-2.8zM295 388h2.8v2.8h-2.8zM285 390.5h2.8v2.8h-2.8zM287.5 390.5h2.8v2.8h-2.8zM290 390.5h2.8v2.8h-2.8zM292.5 390.5h2.8v2.8h-2.8zM295 390.5h2.8v2.8h-2.8zM297.5 390.5h2.8v2.8h-2.8zM290 393h2.8v2.8h-2.8zM292.5 393h2.8v2.8h-2.8zM295 393h2.8v2.8h-2.8zM297.5 393h2.8v2.8h-2.8zM300 393h2.8v2.8h-2.8zM292.5 395.5h2.8v2.8h-2.8zM295 395.5h2.8v2.8h-2.8zM297.5 395.5h2.8v2.8h-2.8zM300 395.5h2.8v2.8h-2.8zM302.5 395.5h2.8v2.8h-2.8zM295 398h2.8v2.8h-2.8zM297.5 398h2.8v2.8h-2.8zM300 398h2.8v2.8h-2.8zM297.5 400.5h2.8v2.8h-2.8zM300 400.5h2.8v2.8h-2.8z"/>
<path fill="#2c3" d="M312.5 365.5h2.8v2.8h-2.8zM315 365.5h2.8v2.8h-2.8zM315 368h2.8v2.8h-2.8zM317.5 368h2.8v2.8h-2.8zM315 370.5h2.8v2.8h-2.8zM317.5 370.5h2.8v2.8h-2.8zM315 373h2.8v2.8h-2.8zM317.5 373h2.8v2.8h-2.8zM315 375.5h2.8v2.8h-2.8zM317.5 375.5h2.8v2.8h-2.8zM317.5 378h2.8v2.8h-2.8zM317.5 380.5h2.8v2.8h-2.8zM320 380.5h2.8v2.8h-2.8zM317.5 383h2.8v2.8h-2.8zM320 383h2.8v2.8h-2.8zM320 385.5h2.8v2.8h-2.8zM320 388h2.8v2.8h-2.8zM320 390.5h2.8v2.8h-2.8zM322.5 390.5h2.8v2.8h-2.8zM322.5 393h2.8v2.8h-2.8zM322.5 395.5h2.8v2.8h-2.8zM325 398h2.8v2.8h-2.8zM325 400.5h2.8v2.8h-2.8zM325 403h2.8v2.8h-2.8z"/>
<path fill="#2c2" d="M320 370.5h2.8v2.8h-2.8zM320 373h2.8v2.8h-2.8zM320 375.5h2.8v2.8h-2.8zM320 378h2.8v2.8h-2.8zM322.5 378h2.8v2.8h-2.8zM322.5 380.5h2.8v2.8h-2.8zM322.5 383h2.8v2.8h-2.8zM322.5 385.5h2.8v2.8h-2.8zM322.5 388h2.8v2.8h-2.8zM325 390.5h2.8v2.8h-2.8zM325 393h2.8v2.8h-2.8zM325 395.5h2.8v2.8h-2.8z"/>
<path fill="#3c2" d="M322.5 370.5h2.8v2.8h-2.8zM322.5 373h2.8v2.8h-2.8zM325 373h2.8v2.8h-2.8zM322.5 375.5h2.8v2.8h-2.8zM325 375.5h2.8v2.8h-2.8zM325 378h2.8v2.8h-2.8zM325 380.5h2.8v2.8h-2.8zM325 383h2.8v2.8h-2.8zM325 385.5h2.8v2.8h-2.8zM325 388h2.8v2.8h-2.8zM327.5 390.5h2.8v2.8h-2.8zM327.5 393h2.8v2.8h-2.8zM327.5 395.5h2.8v2.8h-2.8zM327.5 398h2.8v2.8h-2.8zM327.5 400.5h2.8v2.8h-2.8zM327.5 403h2.8v2.8h-2.8z"/>
<path fill="#4c1" d="M327.5 373h2.8v2.8h-2.8zM327.5 375.5h2.8v2.8h-2.8zM330 375.5h2.8v2.8h-2.8zM327.5 378h2.8v2.8h-2.8zM330 378h2.8v2.8h-2.8zM327.5 380.5h2.8v2.8h-2.8zM330 380.5h2.8v2.8h-2.8zM327.5 383h2.8v2.8h-2.8zM330 383h2.8v2.8h-2.8zM327.5 385.5h2.8v2.8h-2.8zM330 385.5h2.8v2.8h-2.8zM330 388h2.8v2.8h-2.8zM330 390.5h2.8v2.8h-2.8zM330 393h2.8v2.8h-2.8zM330 395.5h2.8v2.8h-2.8zM330 398h2.8v2.8h-2.8zM330 400.5h2.8v2.8h-2.8z"/>
<path fill="#5c1" d="M332.5 378h2.8v2.8h-2.8zM332.5 380.5h2.8v2.8h-2.8zM332.5 383h2.8v2.8h-2.8zM332.5 385.5h2.8v2.8h-2.8zM332.5 388h2.8v2.8h-2.8zM332.5 390.5h2.8v2.8h-2.8zM332.5 393h2.8v2.8h-2.8zM332.5 395.5h2.8v2.8h-2.8zM332.5 398h2.8v2.8h-2.8zM332.5 400.5h2.8v2.8h-2.8zM332.5 403h2.8v2.8h-2.8zM332.5 405.5h2.8v2.8h-2.8zM332.5 408h2.8v2.8h-2.8z"/>
<path fill="#6c0" d="M335 378h2.8v2.8h-2.8zM335 380.5h2.8v2.8h-2.8zM337.5 380.5h2.8v2.8h-2.8zM335 383h2.8v2.8h-2.8zM337.5 383h2.8v2.8h-2.8zM335 385.5h2.8v2.8h-2.8zM337.5 385.5h2.8v2.8h-2.8zM335 388h2.8v2.8h-2.8zM335 390.5h2.8v2.8h-2.8zM335 393h2.8v2.8h-2.8zM335 395.5h2.8v2.8h-2.8zM335 398h2.8v2.8h-2.8zM335 400.5h2.8v2.8h-2.8z"/>
<path fill="#1b9" d="M270 380.5h2.8v2.8h-2.8zM272.5 380.5h2.8v2.8h-2.8zM270 383h2.8v2.8h-2.8zM272.5 383h2.8v2.8h-2.8zM275 383h2.8v2.8h-2.8zM270 385.5h2.8v2.8h-2.8zM272.5 385.5h2.8v2.8h-2.8zM275 385.5h2.8v2.8h-2.8zM277.5 385.5h2.8v2.8h-2.8zM270 388h2.8v2.8h-2.8zM272.5 388h2.8v2.8h-2.8zM275 388h2.8v2.8h-2.8zM277.5 388h2.8v2.8h-2.8zM280 388h2.8v2.8h-2.8zM270 390.5h2.8v2.8h-2.8zM272.5 390.5h2.8v2.8h-2.8zM275 390.5h2.8v2.8h-2.8zM277.5 390.5h2.8v2.8h-2.8zM280 390.5h2.8v2.8h-2.8zM282.5 390.5h2.8v2.8h-2.8zM270 393h2.8v2.8h-2.8zM272.5 393h2.8v2.8h-2.8zM275 393h2.8v2.8h-2.8zM277.5 393h2.8v2.8h-2.8zM280 393h2.8v2.8h-2.8zM282.5 393h2.8v2.8h-2.8zM285 393h2.8v2.8h-2.8zM287.5 393h2.8v2.8h-2.8zM270 395.5h2.8v2.8h-2.8zM272.5 395.5h2.8v2.8h-2.8zM275 395.5h2.8v2.8h-2.8zM277.5 395.5h2.8v2.8h-2.8zM280 395.5h2.8v2.8h-2.8zM282.5 395.5h2.8v2.8h-2.8zM285 395.5h2.8v2.8h-2.8zM287.5 395.5h2.8v2.8h-2.8zM290 395.5h2.8v2.8h-2.8zM272.5 398h2.8v2.8h-2.8zM275 398h2.8v2.8h-2.8zM277.5 398h2.8v2.8h-2.8zM280 398h2.8v2.8h-2.8zM282.5 398h2.8v2.8h-2.8zM285 398h2.8v2.8h-2.8zM287.5 398h2.8v2.8h-2.8zM290 398h2.8v2.8h-2.8zM292.5 398h2.8v2.8h-2.8zM277.5 400.5h2.8v2.8h-2.8zM280 400.5h2.8v2.8h-2.8zM282.5 400.5h2.8v2.8h-2.8zM285 400.5h2.8v2.8h-2.8zM287.5 400.5h2.8v2.8h-2.8zM290 400.5h2.8v2.8h-2.8zM292.5 400.5h2.8v2.8h-2.8zM295 400.5h2.8v2.8h-2.8zM282.5 403h2.8v2.8h-2.8zM285 403h2.8v2.8h-2.8zM287.5 403h2.8v2.8h-2.8zM290 403h2.8v2.8h-2.8zM292.5 403h2.8v2.8h-2.8zM295 403h2.8v2.8h-2.8zM297.5 403h2.8v2.8h-2.8zM300 403h2.8v2.8h-2.8zM285 405.5h2.8v2.8h-2.8zM287.5 405.5h2.8v2.8h-2.8zM290 405.5h2.8v2.8h-2.8zM292.5 405.5h2.8v2.8h-2.8zM295 405.5h2.8v2.8h-2.8zM297.5 405.5h2.8v2.8h-2.8zM300 405.5h2.8v2.8h-2.8zM290 408h2.8v2.8h-2.8zM292.5 408h2.8v2.8h-2.8zM295 408h2.8v2.8h-2.8zM297.5 408h2.8v2.8h-2.8zM300 408h2.8v2.8h-2.8zM295 410.5h2.8v2.8h-2.8zM297.5 410.5h2.8v2.8h-2.8zM300 410.5h2.8v2.8h-2.8zM302.5 413h2.8v2.8h-2.8z"/>
<path fill="#7c0" d="M340 383h2.8v2.8h-2.8zM340 385.5h2.8v2.8h-2.8zM337.5 388h2.8v2.8h-2.8zM340 388h2.8v2.8h-2.8zM337.5 390.5h2.8v2.8h-2.8zM340 390.5h2.8v2.8h-2.8zM337.5 393h2.8v2.8h-2.8zM337.5 395.5h2.8v2.8h-2.8zM337.5 398h2.8v2.8h-2.8zM337.5 400.5h2.8v2.8h-2.8zM337.5 403h2.8v2.8h-2.8z"/>
<path fill="#8d0" d="M342.5 383h2.8v2.8h-2.8zM342.5 385.5h2.8v2.8h-2.8zM342.5 388h2.8v2.8h-2.8zM342.5 390.5h2.8v2.8h-2.8zM342.5 393h2.8v2.8h-2.8zM340 395.5h2.8v2.8h-2.8zM340 398h2.8v2.8h-2.8zM340 400.5h2.8v2.8h-2.8zM340 403h2.8v2.8h-2.8z"/>
<path fill="#9d0" d="M345 385.5h2.8v2.8h-2.8zM345 388h2.8v2.8h-2.8zM347.5 388h2.8v2.8h-2.8zM345 390.5h2.8v2.8h-2.8zM345 393h2.8v2.8h-2.8zM342.5 395.5h2.8v2.8h-2.8zM345 395.5h2.8v2.8h-2.8zM342.5 398h2.8v2.8h-2.8zM342.5 400.5h2.8v2.8h-2.8zM342.5 403h2.8v2.8h-2.8zM340 405.5h2.8v2.8h-2.8zM340 408h2.8v2.8h-2.8z"/>
<path fill="#3c1" d="M327.5 388h2.8v2.8h-2.8z"/>
<path fill="#ad0" d="M347.5 390.5h2.8v2.8h-2.8zM350 390.5h2.8v2.8h-2.8zM347.5 393h2.8v2.8h-2.8zM350 393h2.8v2.8h-2.8zM347.5 395.5h2.8v2.8h-2.8zM345 398h2.8v2.8h-2.8zM347.5 398h2.8v2.8h-2.8zM345 400.5h2.8v2.8h-2.8zM345 403h2.8v2.8h-2.8zM342.5 405.5h2.8v2.8h-2.8zM342.5 408h2.8v2.8h-2.8zM340 410.5h2.8v2.8h-2.8z"/>
<path fill="#bd0" d="M352.5 390.5h2.8v2.8h-2.8zM352.5 393h2.8v2.8h-2.8zM355 393h2.8v2.8h-2.8zM350 395.5h2.8v2.8h-2.8zM352.5 395.5h2.8v2.8h-2.8zM350 398h2.8v2.8h-2.8zM347.5 400.5h2.8v2.8h-2.8zM350 400.5h2.8v2.8h-2.8zM347.5 403h2.8v2.8h-2.8zM345 405.5h2.8v2.8h-2.8zM347.5 405.5h2.8v2.8h-2.8zM345 408h2.8v2.8h-2.8zM342.5 410.5h2.8v2.8h-2.8zM342.5 413h2.8v2.8h-2.8z"/>
<path fill="#2b7" d="M305 393h2.8v2.8h-2.8zM307.5 393h2.8v2.8h-2.8zM305 395.5h2.8v2.8h-2.8zM307.5 395.5h2.8v2.8h-2.8zM310 395.5h2.8v2.8h-2.8zM307.5 398h2.8v2.8h-2.8zM310 398h2.8v2.8h-2.8zM312.5 398h2.8v2.8h-2.8zM310 400.5h2.8v2.8h-2.8zM312.5 400.5h2.8v2.8h-2.8zM315 400.5h2.8v2.8h-2.8zM312.5 403h2.8v2.8h-2.8zM315 403h2.8v2.8h-2.8z"/>
<path fill="#2b6" d="M310 393h2.8v2.8h-2.8zM312.5 395.5h2.8v2.8h-2.8zM315 395.5h2.8v2.8h-2.8zM315 398h2.8v2.8h-2.8z"/>
<path fill="#8c0" d="M340 393h2.8v2.8h-2.8zM337.5 405.5h2.8v2.8h-2.8z"/>
<path fill="#cd0" d="M355 395.5h2.8v2.8h-2.8zM357.5 395.5h2.8v2.8h-2.8zM352.5 398h2.8v2.8h-2.8zM355 398h2.8v2.8h-2.8zM352.5 400.5h2.8v2.8h-2.8zM355 400.5h2.8v2.8h-2.8zM350 403h2.8v2.8h-2.8zM352.5 403h2.8v2.8h-2.8zM350 405.5h2.8v2.8h-2.8zM347.5 408h2.8v2.8h-2.8zM350 408h2.8v2.8h-2.8zM345 410.5h2.8v2.8h-2.8zM347.5 410.5h2.8v2.8h-2.8z"/>
<path fill="#dd0" d="M360 395.5h2.8v2.8h-2.8zM357.5 398h2.8v2.8h-2.8zM360 398h2.8v2.8h-2.8zM362.5 398h2.8v2.8h-2.8zM357.5 400.5h2.8v2.8h-2.8zM360 400.5h2.8v2.8h-2.8zM355 403h2.8v2.8h-2.8zM357.5 403h2.8v2.8h-2.8zM352.5 405.5h2.8v2.8h-2.8zM355 405.5h2.8v2.8h-2.8zM352.5 408h2.8v2.8h-2.8zM350 410.5h2.8v2.8h-2.8z"/>
<path fill="#1ba" d="M270 398h2.8v2.8h-2.8zM270 400.5h2.8v2.8h-2.8zM272.5 400.5h2.8v2.8h-2.8zM275 400.5h2.8v2.8h-2.8zM270 403h2.8v2.8h-2.8zM272.5 403h2.8v2.8h-2.8zM275 403h2.8v2.8h-2.8zM277.5 403h2.8v2.8h-2.8zM280 403h2.8v2.8h-2.8zM270 405.5h2.8v2.8h-2.8zM272.5 405.5h2.8v2.8h-2.8zM275 405.5h2.8v2.8h-2.8zM277.5 405.5h2.8v2.8h-2.8zM280 405.5h2.8v2.8h-2.8zM282.5 405.5h2.8v2.8h-2.8zM270 408h2.8v2.8h-2.8zM272.5 408h2.8v2.8h-2.8zM275 408h2.8v2.8h-2.8zM277.5 408h2.8v2.8h-2.8zM280 408h2.8v2.8h-2.8zM282.5 408h2.8v2.8h-2.8zM285 408h2.8v2.8h-2.8zM287.5 408h2.8v2.8h-2.8zM270 410.5h2.8v2.8h-2.8zM272.5 410.5h2.8v2.8h-2.8zM275 410.5h2.8v2.8h-2.8zM277.5 410.5h2.8v2.8h-2.8zM280 410.5h2.8v2.8h-2.8zM282.5 410.5h2.8v2.8h-2.8zM285 410.5h2.8v2.8h-2.8zM287.5 410.5h2.8v2.8h-2.8zM290 410.5h2.8v2.8h-2.8zM292.5 410.5h2.8v2.8h-2.8zM270 413h2.8v2.8h-2.8zM272.5 413h2.8v2.8h-2.8zM275 413h2.8v2.8h-2.8zM277.5 413h2.8v2.8h-2.8zM280 413h2.8v2.8h-2.8zM282.5 413h2.8v2.8h-2.8zM285 413h2.8v2.8h-2.8zM287.5 413h2.8v2.8h-2.8zM290 413h2.8v2.8h-2.8zM292.5 413h2.8v2.8h-2.8zM295 413h2.8v2.8h-2.8zM297.5 413h2.8v2.8h-2.8zM300 413h2.8v2.8h-2.8zM272.5 415.5h2.8v2.8h-2.8zM275 415.5h2.8v2.8h-2.8zM277.5 415.5h2.8v2.8h-2.8zM280 415.5h2.8v2.8h-2.8zM282.5 415.5h2.8v2.8h-2.8zM285 415.5h2.8v2.8h-2.8zM287.5 415.5h2.8v2.8h-2.8zM290 415.5h2.8v2.8h-2.8zM292.5 415.5h2.8v2.8h-2.8zM295 415.5h2.8v2.8h-2.8zM297.5 415.5h2.8v2.8h-2.8zM300 415.5h2.8v2.8h-2.8zM302.5 415.5h2.8v2.8h-2.8zM272.5 418h2.8v2.8h-2.8zM275 418h2.8v2.8h-2.8zM277.5 418h2.8v2.8h-2.8zM280 418h2.8v2.8h-2.8zM282.5 418h2.8v2.8h-2.8zM285 418h2.8v2.8h-2.8zM287.5 418h2.8v2.8h-2.8zM290 418h2.8v2.8h-2.8zM292.5 418h2.8v2.8h-2.8zM295 418h2.8v2.8h-2.8zM297.5 418h2.8v2.8h-2.8zM300 418h2.8v2.8h-2.8zM302.5 418h2.8v2.8h-2.8zM285 420.5h2.8v2.8h-2.8zM287.5 420.5h2.8v2.8h-2.8zM290 420.5h2.8v2.8h-2.8zM292.5 420.5h2.8v2.8h-2.8zM295 420.5h2.8v2.8h-2.8zM297.5 420.5h2.8v2.8h-2.8zM300 420.5h2.8v2.8h-2.8zM302.5 420.5h2.8v2.8h-2.8zM295 423h2.8v2.8h-2.8zM297.5 423h2.8v2.8h-2.8zM300 423h2.8v2.8h-2.8zM302.5 423h2.8v2.8h-2.8z"/>
<path fill="#2b8" d="M302.5 398h2.8v2.8h-2.8zM305 398h2.8v2.8h-2.8zM302.5 400.5h2.8v2.8h-2.8zM305 400.5h2.8v2.8h-2.8zM307.5 400.5h2.8v2.8h-2.8zM302.5 403h2.8v2.8h-2.8zM305 403h2.8v2.8h-2.8zM307.5 403h2.8v2.8h-2.8zM310 403h2.8v2.8h-2.8zM307.5 405.5h2.8v2.8h-2.8zM310 405.5h2.8v2.8h-2.8z"/>
<path fill="#2c6" d="M317.5 398h2.8v2.8h-2.8zM317.5 400.5h2.8v2.8h-2.8zM317.5 403h2.8v2.8h-2.8zM320 403h2.8v2.8h-2.8z"/>
<path fill="#2c5" d="M320 398h2.8v2.8h-2.8zM320 400.5h2.8v2.8h-2.8zM322.5 403h2.8v2.8h-2.8zM322.5 405.5h2.8v2.8h-2.8z"/>
<path fill="#ed0" d="M362.5 400.5h2.8v2.8h-2.8zM365 400.5h2.8v2.8h-2.8zM367.5 400.5h2.8v2.8h-2.8zM360 403h2.8v2.8h-2.8zM362.5 403h2.8v2.8h-2.8zM365 403h2.8v2.8h-2.8zM367.5 403h2.8v2.8h-2.8zM357.5 405.5h2.8v2.8h-2.8zM360 405.5h2.8v2.8h-2.8zM362.5 405.5h2.8v2.8h-2.8zM355 408h2.8v2.8h-2.8zM357.5 408h2.8v2.8h-2.8zM360 408h2.8v2.8h-2.8zM352.5 410.5h2.8v2.8h-2.8zM355 410.5h2.8v2.8h-2.8zM357.5 410.5h2.8v2.8h-2.8zM350 413h2.8v2.8h-2.8zM352.5 413h2.8v2.8h-2.8zM355 413h2.8v2.8h-2.8zM352.5 415.5h2.8v2.8h-2.8z"/>
<path fill="#4c2" d="M330 403h2.8v2.8h-2.8zM330 405.5h2.8v2.8h-2.8zM330 408h2.8v2.8h-2.8z"/>
<path fill="#6c1" d="M335 403h2.8v2.8h-2.8zM335 405.5h2.8v2.8h-2.8z"/>
<path fill="#ec0" d="M370 403h2.8v2.8h-2.8zM365 405.5h2.8v2.8h-2.8zM367.5 405.5h2.8v2.8h-2.8zM370 405.5h2.8v2.8h-2.8zM372.5 405.5h2.8v2.8h-2.8zM362.5 408h2.8v2.8h-2.8zM365 408h2.8v2.8h-2.8zM367.5 408h2.8v2.8h-2.8zM370 408h2.8v2.8h-2.8zM372.5 408h2.8v2.8h-2.8zM360 410.5h2.8v2.8h-2.8zM362.5 410.5h2.8v2.8h-2.8zM365 410.5h2.8v2.8h-2.8zM367.5 410.5h2.8v2.8h-2.8zM357.5 413h2.8v2.8h-2.8zM360 413h2.8v2.8h-2.8zM362.5 413h2.8v2.8h-2.8zM355 415.5h2.8v2.8h-2.8zM357.5 415.5h2.8v2.8h-2.8zM360 415.5h2.8v2.8h-2.8zM355 418h2.8v2.8h-2.8z"/>
<path fill="#2b9" d="M302.5 405.5h2.8v2.8h-2.8zM305 405.5h2.8v2.8h-2.8zM302.5 408h2.8v2.8h-2.8zM305 408h2.8v2.8h-2.8zM307.5 408h2.8v2.8h-2.8zM310 408h2.8v2.8h-2.8zM302.5 410.5h2.8v2.8h-2.8zM305 410.5h2.8v2.8h-2.8zM307.5 410.5h2.8v2.8h-2.8zM310 410.5h2.8v2.8h-2.8zM305 413h2.8v2.8h-2.8zM307.5 413h2.8v2.8h-2.8zM310 413h2.8v2.8h-2.8z"/>
<path fill="#3b8" d="M312.5 405.5h2.8v2.8h-2.8zM315 405.5h2.8v2.8h-2.8zM312.5 408h2.8v2.8h-2.8zM315 408h2.8v2.8h-2.8z"/>
<path fill="#3c7" d="M317.5 405.5h2.8v2.8h-2.8zM320 408h2.8v2.8h-2.8zM322.5 410.5h2.8v2.8h-2.8z"/>
<path fill="#3c6" d="M320 405.5h2.8v2.8h-2.8zM322.5 408h2.8v2.8h-2.8zM325 410.5h2.8v2.8h-2.8z"/>
<path fill="#3c4" d="M325 405.5h2.8v2.8h-2.8zM327.5 410.5h2.8v2.8h-2.8z"/>
<path fill="#3c3" d="M327.5 405.5h2.8v2.8h-2.8zM327.5 408h2.8v2.8h-2.8z"/>
<path fill="#3c8" d="M317.5 408h2.8v2.8h-2.8z"/>
<path fill="#3c5" d="M325 408h2.8v2.8h-2.8z"/>
<path fill="#7c1" d="M335 408h2.8v2.8h-2.8zM335 410.5h2.8v2.8h-2.8z"/>
<path fill="#8d1" d="M337.5 408h2.8v2.8h-2.8zM337.5 410.5h2.8v2.8h-2.8z"/>
<path fill="#eb0" d="M375 408h2.8v2.8h-2.8zM377.5 408h2.8v2.8h-2.8zM370 410.5h2.8v2.8h-2.8zM372.5 410.5h2.8v2.8h-2.8zM365 413h2.8v2.8h-2.8zM367.5 413h2.8v2.8h-2.8zM362.5 415.5h2.8v2.8h-2.8zM357.5 418h2.8v2.8h-2.8z"/>
<path fill="#3b9" d="M312.5 410.5h2.8v2.8h-2.8zM315 410.5h2.8v2.8h-2.8zM312.5 413h2.8v2.8h-2.8zM315 413h2.8v2.8h-2.8z"/>
<path fill="#4c8" d="M317.5 410.5h2.8v2.8h-2.8zM320 410.5h2.8v2.8h-2.8zM322.5 413h2.8v2.8h-2.8z"/>
<path fill="#4c3" d="M330 410.5h2.8v2.8h-2.8z"/>
<path fill="#5c2" d="M332.5 410.5h2.8v2.8h-2.8z"/>
<path fill="#fb0" d="M375 410.5h2.8v2.8h-2.8zM377.5 410.5h2.8v2.8h-2.8zM380 410.5h2.8v2.8h-2.8zM370 413h2.8v2.8h-2.8zM372.5 413h2.8v2.8h-2.8zM375 413h2.8v2.8h-2.8zM365 415.5h2.8v2.8h-2.8zM367.5 415.5h2.8v2.8h-2.8zM370 415.5h2.8v2.8h-2.8zM360 418h2.8v2.8h-2.8zM362.5 418h2.8v2.8h-2.8z"/>
<path fill="#4c9" d="M317.5 413h2.8v2.8h-2.8zM320 413h2.8v2.8h-2.8zM317.5 415.5h2.8v2.8h-2.8z"/>
<path fill="#4c7" d="M325 413h2.8v2.8h-2.8z"/>
<path fill="#4c5" d="M327.5 413h2.8v2.8h-2.8z"/>
<path fill="#5c4" d="M330 413h2.8v2.8h-2.8zM330 415.5h2.8v2.8h-2.8z"/>
<path fill="#6c2" d="M332.5 413h2.8v2.8h-2.8z"/>
<path fill="#7c2" d="M335 413h2.8v2.8h-2.8z"/>
<path fill="#9d1" d="M337.5 413h2.8v2.8h-2.8zM337.5 415.5h2.8v2.8h-2.8z"/>
<path fill="#ad1" d="M340 413h2.8v2.8h-2.8z"/>
<path fill="#cd1" d="M345 413h2.8v2.8h-2.8zM342.5 415.5h2.8v2.8h-2.8z"/>
<path fill="#dd1" d="M347.5 413h2.8v2.8h-2.8zM345 415.5h2.8v2.8h-2.8z"/>
<path fill="#fa0" d="M377.5 413h2.8v2.8h-2.8zM380 413h2.8v2.8h-2.8zM382.5 413h2.8v2.8h-2.8zM372.5 415.5h2.8v2.8h-2.8zM375 415.5h2.8v2.8h-2.8zM377.5 415.5h2.8v2.8h-2.8zM380 415.5h2.8v2.8h-2.8zM365 418h2.8v2.8h-2.8zM367.5 418h2.8v2.8h-2.8zM370 418h2.8v2.8h-2.8zM372.5 418h2.8v2.8h-2.8zM360 420.5h2.8v2.8h-2.8zM362.5 420.5h2.8v2.8h-2.8zM365 420.5h2.8v2.8h-2.8zM367.5 420.5h2.8v2.8h-2.8z"/>
<path fill="#2ba" d="M305 415.5h2.8v2.8h-2.8zM307.5 415.5h2.8v2.8h-2.8zM310 415.5h2.8v2.8h-2.8zM305 418h2.8v2.8h-2.8zM307.5 418h2.8v2.8h-2.8zM310 418h2.8v2.8h-2.8zM305 420.5h2.8v2.8h-2.8zM307.5 420.5h2.8v2.8h-2.8zM310 420.5h2.8v2.8h-2.8zM305 423h2.8v2.8h-2.8zM307.5 423h2.8v2.8h-2.8zM310 423h2.8v2.8h-2.8z"/>
<path fill="#3ba" d="M312.5 415.5h2.8v2.8h-2.8zM312.5 418h2.8v2.8h-2.8zM312.5 420.5h2.8v2.8h-2.8zM312.5 423h2.8v2.8h-2.8z"/>
<path fill="#4b9" d="M315 415.5h2.8v2.8h-2.8z"/>
<path fill="#5c9" d="M320 415.5h2.8v2.8h-2.8zM322.5 415.5h2.8v2.8h-2.8z"/>
<path fill="#5c8" d="M325 415.5h2.8v2.8h-2.8z"/>
<path fill="#5c6" d="M327.5 415.5h2.8v2.8h-2.8z"/>
<path fill="#6c3" d="M332.5 415.5h2.8v2.8h-2.8z"/>
<path fill="#8d2" d="M335 415.5h2.8v2.8h-2.8z"/>
<path fill="#bd1" d="M340 415.5h2.8v2.8h-2.8z"/>
<path fill="#ed1" d="M347.5 415.5h2.8v2.8h-2.8zM350 415.5h2.8v2.8h-2.8zM347.5 418h2.8v2.8h-2.8zM350 418h2.8v2.8h-2.8z"/>
<path fill="#f90" d="M382.5 415.5h2.8v2.8h-2.8zM385 415.5h2.8v2.8h-2.8zM387.5 415.5h2.8v2.8h-2.8zM375 418h2.8v2.8h-2.8zM377.5 418h2.8v2.8h-2.8zM380 418h2.8v2.8h-2.8zM382.5 418h2.8v2.8h-2.8zM385 418h2.8v2.8h-2.8zM387.5 418h2.8v2.8h-2.8zM370 420.5h2.8v2.8h-2.8zM372.5 420.5h2.8v2.8h-2.8zM375 420.5h2.8v2.8h-2.8zM377.5 420.5h2.8v2.8h-2.8zM362.5 423h2.8v2.8h-2.8zM365 423h2.8v2.8h-2.8zM367.5 423h2.8v2.8h-2.8zM370 423h2.8v2.8h-2.8z"/>
<path fill="#4ba" d="M315 418h2.8v2.8h-2.8zM315 420.5h2.8v2.8h-2.8z"/>
<path fill="#4ca" d="M317.5 418h2.8v2.8h-2.8zM317.5 420.5h2.8v2.8h-2.8z"/>
<path fill="#5ca" d="M320 418h2.8v2.8h-2.8zM320 420.5h2.8v2.8h-2.8z"/>
<path fill="#6ca" d="M322.5 418h2.8v2.8h-2.8zM322.5 420.5h2.8v2.8h-2.8z"/>
<path fill="#6d9" d="M325 418h2.8v2.8h-2.8z"/>
<path fill="#5d8" d="M327.5 418h2.8v2.8h-2.8z"/>
<path fill="#5d6" d="M330 418h2.8v2.8h-2.8z"/>
<path fill="#7d4" d="M332.5 418h2.8v2.8h-2.8z"/>
<path fill="#8d3" d="M335 418h2.8v2.8h-2.8z"/>
<path fill="#ad2" d="M337.5 418h2.8v2.8h-2.8z"/>
<path fill="#bd2" d="M340 418h2.8v2.8h-2.8z"/>
<path fill="#dd2" d="M342.5 418h2.8v2.8h-2.8zM345 418h2.8v2.8h-2.8z"/>
<path fill="#ec1" d="M352.5 418h2.8v2.8h-2.8zM350 420.5h2.8v2.8h-2.8zM352.5 420.5h2.8v2.8h-2.8z"/>
<path fill="#f80" d="M390 418h2.8v2.8h-2.8zM380 420.5h2.8v2.8h-2.8zM382.5 420.5h2.8v2.8h-2.8zM385 420.5h2.8v2.8h-2.8zM387.5 420.5h2.8v2.8h-2.8zM390 420.5h2.8v2.8h-2.8zM392.5 420.5h2.8v2.8h-2.8zM395 420.5h2.8v2.8h-2.8zM372.5 423h2.8v2.8h-2.8zM375 423h2.8v2.8h-2.8zM377.5 423h2.8v2.8h-2.8zM380 423h2.8v2.8h-2.8zM382.5 423h2.8v2.8h-2.8zM367.5 425.5h2.8v2.8h-2.8zM370 425.5h2.8v2.8h-2.8z"/>
<path fill="#1bb" d="M272.5 420.5h2.8v2.8h-2.8zM275 420.5h2.8v2.8h-2.8zM277.5 420.5h2.8v2.8h-2.8zM280 420.5h2.8v2.8h-2.8zM282.5 420.5h2.8v2.8h-2.8zM272.5 423h2.8v2.8h-2.8zM275 423h2.8v2.8h-2.8zM277.5 423h2.8v2.8h-2.8zM280 423h2.8v2.8h-2.8zM282.5 423h2.8v2.8h-2.8zM285 423h2.8v2.8h-2.8zM287.5 423h2.8v2.8h-2.8zM290 423h2.8v2.8h-2.8zM292.5 423h2.8v2.8h-2.8zM272.5 425.5h2.8v2.8h-2.8zM275 425.5h2.8v2.8h-2.8zM277.5 425.5h2.8v2.8h-2.8zM280 425.5h2.8v2.8h-2.8zM282.5 425.5h2.8v2.8h-2.8zM285 425.5h2.8v2.8h-2.8zM287.5 425.5h2.8v2.8h-2.8zM290 425.5h2.8v2.8h-2.8zM292.5 425.5h2.8v2.8h-2.8zM295 425.5h2.8v2.8h-2.8zM297.5 425.5h2.8v2.8h-2.8zM300 425.5h2.8v2.8h-2.8zM302.5 425.5h2.8v2.8h-2.8zM305 425.5h2.8v2.8h-2.8zM275 428h2.8v2.8h-2.8zM277.5 428h2.8v2.8h-2.8zM280 428h2.8v2.8h-2.8zM282.5 428h2.8v2.8h-2.8zM285 428h2.8v2.8h-2.8zM287.5 428h2.8v2.8h-2.8zM290 428h2.8v2.8h-2.8zM292.5 428h2.8v2.8h-2.8zM295 428h2.8v2.8h-2.8zM297.5 428h2.8v2.8h-2.8zM300 428h2.8v2.8h-2.8zM302.5 428h2.8v2.8h-2.8zM305 428h2.8v2.8h-2.8zM275 430.5h2.8v2.8h-2.8zM277.5 430.5h2.8v2.8h-2.8zM280 430.5h2.8v2.8h-2.8zM282.5 430.5h2.8v2.8h-2.8zM285 430.5h2.8v2.8h-2.8zM287.5 430.5h2.8v2.8h-2.8zM290 430.5h2.8v2.8h-2.8zM292.5 430.5h2.8v2.8h-2.8zM295 430.5h2.8v2.8h-2.8zM297.5 430.5h2.8v2.8h-2.8zM300 430.5h2.8v2.8h-2.8zM302.5 430.5h2.8v2.8h-2.8zM305 430.5h2.8v2.8h-2.8zM275 433h2.8v2.8h-2.8zM277.5 433h2.8v2.8h-2.8zM280 433h2.8v2.8h-2.8zM282.5 433h2.8v2.8h-2.8zM285 433h2.8v2.8h-2.8zM287.5 433h2.8v2.8h-2.8z"/>
<path fill="#7da" d="M325 420.5h2.8v2.8h-2.8z"/>
<path fill="#7d9" d="M327.5 420.5h2.8v2.8h-2.8z"/>
<path fill="#6d7" d="M330 420.5h2.8v2.8h-2.8z"/>
<path fill="#8d5" d="M332.5 420.5h2.8v2.8h-2.8z"/>
<path fill="#9d4" d="M335 420.5h2.8v2.8h-2.8z"/>
<path fill="#bd3" d="M337.5 420.5h2.8v2.8h-2.8z"/>
<path fill="#cd3" d="M340 420.5h2.8v2.8h-2.8z"/>
<path fill="#dd3" d="M342.5 420.5h2.8v2.8h-2.8z"/>
<path fill="#ed2" d="M345 420.5h2.8v2.8h-2.8zM347.5 420.5h2.8v2.8h-2.8z"/>
<path fill="#fb1" d="M355 420.5h2.8v2.8h-2.8zM357.5 420.5h2.8v2.8h-2.8zM352.5 423h2.8v2.8h-2.8zM355 423h2.8v2.8h-2.8z"/>
<path fill="#3bb" d="M315 423h2.8v2.8h-2.8zM312.5 425.5h2.8v2.8h-2.8zM315 425.5h2.8v2.8h-2.8zM312.5 428h2.8v2.8h-2.8zM315 428h2.8v2.8h-2.8z"/>
<path fill="#4cb" d="M317.5 423h2.8v2.8h-2.8zM317.5 425.5h2.8v2.8h-2.8zM317.5 428h2.8v2.8h-2.8z"/>
<path fill="#5cb" d="M320 423h2.8v2.8h-2.8zM320 425.5h2.8v2.8h-2.8z"/>
<path fill="#7cb" d="M322.5 423h2.8v2.8h-2.8z"/>
<path fill="#8db" d="M325 423h2.8v2.8h-2.8zM327.5 423h2.8v2.8h-2.8z"/>
<path fill="#8d9" d="M330 423h2.8v2.8h-2.8z"/>
<path fill="#9d7" d="M332.5 423h2.8v2.8h-2.8z"/>
<path fill="#ad5" d="M335 423h2.8v2.8h-2.8z"/>
<path fill="#ce4" d="M337.5 423h2.8v2.8h-2.8z"/>
<path fill="#de4" d="M340 423h2.8v2.8h-2.8z"/>
<path fill="#ed3" d="M342.5 423h2.8v2.8h-2.8zM345 423h2.8v2.8h-2.8z"/>
<path fill="#ec2" d="M347.5 423h2.8v2.8h-2.8z"/>
<path fill="#fc2" d="M350 423h2.8v2.8h-2.8z"/>
<path fill="#fa1" d="M357.5 423h2.8v2.8h-2.8zM360 423h2.8v2.8h-2.8z"/>
<path fill="#f70" d="M385 423h2.8v2.8h-2.8zM387.5 423h2.8v2.8h-2.8zM390 423h2.8v2.8h-2.8zM392.5 423h2.8v2.8h-2.8zM395 423h2.8v2.8h-2.8zM397.5 423h2.8v2.8h-2.8zM372.5 425.5h2.8v2.8h-2.8zM375 425.5h2.8v2.8h-2.8zM377.5 425.5h2.8v2.8h-2.8zM380 425.5h2.8v2.8h-2.8zM382.5 425.5h2.8v2.8h-2.8zM385 425.5h2.8v2.8h-2.8zM387.5 425.5h2.8v2.8h-2.8z"/>
<path fill="#2bb" d="M307.5 425.5h2.8v2.8h-2.8zM310 425.5h2.8v2.8h-2.8zM307.5 428h2.8v2.8h-2.8zM310 428h2.8v2.8h-2.8zM307.5 430.5h2.8v2.8h-2.8zM310 430.5h2.8v2.8h-2.8z"/>
<path fill="#7cc" d="M322.5 425.5h2.8v2.8h-2.8z"/>
<path fill="#8dc" d="M325 425.5h2.8v2.8h-2.8zM325 428h2.8v2.8h-2.8z"/>
<path fill="#9dc" d="M327.5 425.5h2.8v2.8h-2.8z"/>
<path fill="#aeb" d="M330 425.5h2.8v2.8h-2.8z"/>
<path fill="#ae8" d="M332.5 425.5h2.8v2.8h-2.8z"/>
<path fill="#ce7" d="M335 425.5h2.8v2.8h-2.8z"/>
<path fill="#de7" d="M337.5 425.5h2.8v2.8h-2.8z"/>
<path fill="#ee5" d="M340 425.5h2.8v2.8h-2.8z"/>
<path fill="#ed5" d="M342.5 425.5h2.8v2.8h-2.8z"/>
<path fill="#fc4" d="M345 425.5h2.8v2.8h-2.8z"/>
<path fill="#fb3" d="M347.5 425.5h2.8v2.8h-2.8zM350 425.5h2.8v2.8h-2.8z"/>
<path fill="#fa2" d="M352.5 425.5h2.8v2.8h-2.8zM355 425.5h2.8v2.8h-2.8z"/>
<path fill="#f91" d="M357.5 425.5h2.8v2.8h-2.8zM360 425.5h2.8v2.8h-2.8z"/>
<path fill="#f81" d="M362.5 425.5h2.8v2.8h-2.8zM365 425.5h2.8v2.8h-2.8zM360 428h2.8v2.8h-2.8z"/>
<path fill="#f60" d="M390 425.5h2.8v2.8h-2.8zM392.5 425.5h2.8v2.8h-2.8zM395 425.5h2.8v2.8h-2.8zM397.5 425.5h2.8v2.8h-2.8zM400 425.5h2.8v2.8h-2.8zM377.5 428h2.8v2.8h-2.8z"/>
<path fill="#5cc" d="M320 428h2.8v2.8h-2.8zM320 430.5h2.8v2.8h-2.8z"/>
<path fill="#6cc" d="M322.5 428h2.8v2.8h-2.8zM322.5 430.5h2.8v2.8h-2.8z"/>
<path fill="#add" d="M327.5 428h2.8v2.8h-2.8zM327.5 430.5h2.8v2.8h-2.8z"/>
<path fill="#bed" d="M330 428h2.8v2.8h-2.8z"/>
<path fill="#beb" d="M332.5 428h2.8v2.8h-2.8z"/>
<path fill="#de9" d="M335 428h2.8v2.8h-2.8z"/>
<path fill="#fe8" d="M337.5 428h2.8v2.8h-2.8z"/>
<path fill="#fd7" d="M340 428h2.8v2.8h-2.8z"/>
<path fill="#fc6" d="M342.5 428h2.8v2.8h-2.8z"/>
<path fill="#fb5" d="M345 428h2.8v2.8h-2.8z"/>
<path fill="#fb4" d="M347.5 428h2.8v2.8h-2.8z"/>
<path fill="#fa3" d="M350 428h2.8v2.8h-2.8z"/>
<path fill="#f93" d="M352.5 428h2.8v2.8h-2.8z"/>
<path fill="#f92" d="M355 428h2.8v2.8h-2.8z"/>
<path fill="#f82" d="M357.5 428h2.8v2.8h-2.8z"/>
<path fill="#f71" d="M362.5 428h2.8v2.8h-2.8zM365 428h2.8v2.8h-2.8zM367.5 428h2.8v2.8h-2.8zM370 428h2.8v2.8h-2.8z"/>
<path fill="#f61" d="M372.5 428h2.8v2.8h-2.8zM375 428h2.8v2.8h-2.8z"/>
<path fill="#e60" d="M380 428h2.8v2.8h-2.8zM382.5 428h2.8v2.8h-2.8zM385 428h2.8v2.8h-2.8zM387.5 428h2.8v2.8h-2.8zM390 428h2.8v2.8h-2.8z"/>
<path fill="#e50" d="M392.5 428h2.8v2.8h-2.8z"/>
<path fill="#e51" d="M395 428h2.8v2.8h-2.8zM397.5 428h2.8v2.8h-2.8zM400 428h2.8v2.8h-2.8zM402.5 428h2.8v2.8h-2.8zM405 428h2.8v2.8h-2.8zM370 430.5h2.8v2.8h-2.8zM372.5 430.5h2.8v2.8h-2.8zM375 430.5h2.8v2.8h-2.8zM377.5 430.5h2.8v2.8h-2.8zM380 430.5h2.8v2.8h-2.8zM382.5 430.5h2.8v2.8h-2.8z"/>
<path fill="#2bc" d="M312.5 430.5h2.8v2.8h-2.8zM307.5 433h2.8v2.8h-2.8zM310 433h2.8v2.8h-2.8zM312.5 433h2.8v2.8h-2.8zM310 435.5h2.8v2.8h-2.8zM312.5 435.5h2.8v2.8h-2.8z"/>
<path fill="#3bc" d="M315 430.5h2.8v2.8h-2.8zM315 433h2.8v2.8h-2.8z"/>
<path fill="#4cc" d="M317.5 430.5h2.8v2.8h-2.8z"/>
<path fill="#8dd" d="M325 430.5h2.8v2.8h-2.8z"/>
<path fill="#cee" d="M330 430.5h2.8v2.8h-2.8z"/>
<path fill="#dfe" d="M332.5 430.5h2.8v2.8h-2.8z"/>
<path fill="#fec" d="M335 430.5h2.8v2.8h-2.8z"/>
<path fill="#fda" d="M337.5 430.5h2.8v2.8h-2.8z"/>
<path fill="#fc9" d="M340 430.5h2.8v2.8h-2.8z"/>
<path fill="#fb7" d="M342.5 430.5h2.8v2.8h-2.8z"/>
<path fill="#fa6" d="M345 430.5h2.8v2.8h-2.8z"/>
<path fill="#f95" d="M347.5 430.5h2.8v2.8h-2.8zM350 430.5h2.8v2.8h-2.8z"/>
<path fill="#f84" d="M352.5 430.5h2.8v2.8h-2.8z"/>
<path fill="#f73" d="M355 430.5h2.8v2.8h-2.8zM357.5 430.5h2.8v2.8h-2.8z"/>
<path fill="#f62" d="M360 430.5h2.8v2.8h-2.8z"/>
<path fill="#e62" d="M362.5 430.5h2.8v2.8h-2.8zM365 430.5h2.8v2.8h-2.8z"/>
<path fill="#e61" d="M367.5 430.5h2.8v2.8h-2.8z"/>
<path fill="#e41" d="M385 430.5h2.8v2.8h-2.8zM387.5 430.5h2.8v2.8h-2.8zM390 430.5h2.8v2.8h-2.8zM392.5 430.5h2.8v2.8h-2.8zM395 430.5h2.8v2.8h-2.8zM397.5 430.5h2.8v2.8h-2.8zM400 430.5h2.8v2.8h-2.8zM402.5 430.5h2.8v2.8h-2.8zM405 430.5h2.8v2.8h-2.8zM407.5 430.5h2.8v2.8h-2.8zM380 433h2.8v2.8h-2.8z"/>
<path fill="#1bc" d="M290 433h2.8v2.8h-2.8zM292.5 433h2.8v2.8h-2.8zM295 433h2.8v2.8h-2.8zM297.5 433h2.8v2.8h-2.8zM300 433h2.8v2.8h-2.8zM302.5 433h2.8v2.8h-2.8zM305 433h2.8v2.8h-2.8zM275 435.5h2.8v2.8h-2.8zM277.5 435.5h2.8v2.8h-2.8zM280 435.5h2.8v2.8h-2.8zM282.5 435.5h2.8v2.8h-2.8zM285 435.5h2.8v2.8h-2.8zM287.5 435.5h2.8v2.8h-2.8zM290 435.5h2.8v2.8h-2.8zM292.5 435.5h2.8v2.8h-2.8zM295 435.5h2.8v2.8h-2.8zM297.5 435.5h2.8v2.8h-2.8zM300 435.5h2.8v2.8h-2.8zM302.5 435.5h2.8v2.8h-2.8zM305 435.5h2.8v2.8h-2.8zM307.5 435.5h2.8v2.8h-2.8zM277.5 438h2.8v2.8h-2.8zM280 438h2.8v2.8h-2.8zM282.5 438h2.8v2.8h-2.8zM285 438h2.8v2.8h-2.8zM287.5 438h2.8v2.8h-2.8zM290 438h2.8v2.8h-2.8zM292.5 438h2.8v2.8h-2.8zM295 438h2.8v2.8h-2.8zM297.5 438h2.8v2.8h-2.8zM300 438h2.8v2.8h-2.8zM302.5 438h2.8v2.8h-2.8zM305 438h2.8v2.8h-2.8zM307.5 438h2.8v2.8h-2.8zM277.5 440.5h2.8v2.8h-2.8zM280 440.5h2.8v2.8h-2.8zM282.5 440.5h2.8v2.8h-2.8zM285 440.5h2.8v2.8h-2.8zM287.5 440.5h2.8v2.8h-2.8zM290 440.5h2.8v2.8h-2.8zM292.5 440.5h2.8v2.8h-2.8zM295 440.5h2.8v2.8h-2.8zM297.5 440.5h2.8v2.8h-2.8zM277.5 443h2.8v2.8h-2.8zM280 443h2.8v2.8h-2.8zM282.5 443h2.8v2.8h-2.8zM285 443h2.8v2.8h-2.8zM287.5 443h2.8v2.8h-2.8zM290 443h2.8v2.8h-2.8zM280 445.5h2.8v2.8h-2.8z"/>
<path fill="#4bc" d="M317.5 433h2.8v2.8h-2.8z"/>
<path fill="#5cd" d="M320 433h2.8v2.8h-2.8z"/>
<path fill="#6cd" d="M322.5 433h2.8v2.8h-2.8z"/>
<path fill="#7dd" d="M325 433h2.8v2.8h-2.8z"/>
<path fill="#9de" d="M327.5 433h2.8v2.8h-2.8zM327.5 435.5h2.8v2.8h-2.8z"/>
<path fill="#bee" d="M330 433h2.8v2.8h-2.8z"/>
<path fill="#eef" d="M332.5 433h2.8v2.8h-2.8z"/>
<path fill="#fde" d="M335 433h2.8v2.8h-2.8z"/>
<path fill="#fcd" d="M337.5 433h2.8v2.8h-2.8z"/>
<path fill="#fbc" d="M340 433h2.8v2.8h-2.8z"/>
<path fill="#faa" d="M342.5 433h2.8v2.8h-2.8z"/>
<path fill="#f99" d="M345 433h2.8v2.8h-2.8z"/>
<path fill="#f88" d="M347.5 433h2.8v2.8h-2.8z"/>
<path fill="#f77" d="M350 433h2.8v2.8h-2.8z"/>
<path fill="#e76" d="M352.5 433h2.8v2.8h-2.8z"/>
<path fill="#e65" d="M355 433h2.8v2.8h-2.8z"/>
<path fill="#e54" d="M357.5 433h2.8v2.8h-2.8zM360 433h2.8v2.8h-2.8z"/>
<path fill="#e53" d="M362.5 433h2.8v2.8h-2.8z"/>
<path fill="#e43" d="M365 433h2.8v2.8h-2.8z"/>
<path fill="#e42" d="M367.5 433h2.8v2.8h-2.8zM370 433h2.8v2.8h-2.8zM372.5 433h2.8v2.8h-2.8zM375 433h2.8v2.8h-2.8zM377.5 433h2.8v2.8h-2.8z"/>
<path fill="#e31" d="M382.5 433h2.8v2.8h-2.8zM385 433h2.8v2.8h-2.8zM387.5 433h2.8v2.8h-2.8zM390 433h2.8v2.8h-2.8zM392.5 433h2.8v2.8h-2.8zM395 433h2.8v2.8h-2.8zM397.5 433h2.8v2.8h-2.8zM400 433h2.8v2.8h-2.8zM402.5 433h2.8v2.8h-2.8zM405 433h2.8v2.8h-2.8zM407.5 433h2.8v2.8h-2.8zM410 433h2.8v2.8h-2.8zM412.5 433h2.8v2.8h-2.8zM410 435.5h2.8v2.8h-2.8zM412.5 435.5h2.8v2.8h-2.8zM415 435.5h2.8v2.8h-2.8z"/>
<path fill="#3bd" d="M315 435.5h2.8v2.8h-2.8zM317.5 435.5h2.8v2.8h-2.8zM315 438h2.8v2.8h-2.8zM312.5 440.5h2.8v2.8h-2.8z"/>
<path fill="#4cd" d="M320 435.5h2.8v2.8h-2.8zM317.5 438h2.8v2.8h-2.8z"/>
<path fill="#6ce" d="M322.5 435.5h2.8v2.8h-2.8zM322.5 438h2.8v2.8h-2.8z"/>
<path fill="#8de" d="M325 435.5h2.8v2.8h-2.8z"/>
<path fill="#bdf" d="M330 435.5h2.8v2.8h-2.8z"/>
<path fill="#dce" d="M332.5 435.5h2.8v2.8h-2.8z"/>
<path fill="#ebe" d="M335 435.5h2.8v2.8h-2.8z"/>
<path fill="#fad" d="M337.5 435.5h2.8v2.8h-2.8z"/>
<path fill="#f9c" d="M340 435.5h2.8v2.8h-2.8z"/>
<path fill="#f8b" d="M342.5 435.5h2.8v2.8h-2.8z"/>
<path fill="#f8a" d="M345 435.5h2.8v2.8h-2.8z"/>
<path fill="#f7a" d="M347.5 435.5h2.8v2.8h-2.8z"/>
<path fill="#e69" d="M350 435.5h2.8v2.8h-2.8z"/>
<path fill="#e68" d="M352.5 435.5h2.8v2.8h-2.8z"/>
<path fill="#e58" d="M355 435.5h2.8v2.8h-2.8z"/>
<path fill="#e57" d="M357.5 435.5h2.8v2.8h-2.8z"/>
<path fill="#e47" d="M360 435.5h2.8v2.8h-2.8z"/>
<path fill="#e46" d="M362.5 435.5h2.8v2.8h-2.8z"/>
<path fill="#e35" d="M365 435.5h2.8v2.8h-2.8z"/>
<path fill="#e24" d="M367.5 435.5h2.8v2.8h-2.8zM370 435.5h2.8v2.8h-2.8z"/>
<path fill="#e23" d="M372.5 435.5h2.8v2.8h-2.8zM375 435.5h2.8v2.8h-2.8zM377.5 435.5h2.8v2.8h-2.8z"/>
<path fill="#e22" d="M380 435.5h2.8v2.8h-2.8zM382.5 435.5h2.8v2.8h-2.8zM385 435.5h2.8v2.8h-2.8zM387.5 435.5h2.8v2.8h-2.8zM390 435.5h2.8v2.8h-2.8zM392.5 435.5h2.8v2.8h-2.8zM395 435.5h2.8v2.8h-2.8zM397.5 435.5h2.8v2.8h-2.8zM400 435.5h2.8v2.8h-2.8zM412.5 438h2.8v2.8h-2.8zM415 438h2.8v2.8h-2.8zM417.5 438h2.8v2.8h-2.8z"/>
<path fill="#e32" d="M402.5 435.5h2.8v2.8h-2.8zM405 435.5h2.8v2.8h-2.8zM407.5 435.5h2.8v2.8h-2.8z"/>
<path fill="#2bd" d="M310 438h2.8v2.8h-2.8zM312.5 438h2.8v2.8h-2.8zM307.5 440.5h2.8v2.8h-2.8zM310 440.5h2.8v2.8h-2.8zM307.5 443h2.8v2.8h-2.8z"/>
<path fill="#5ce" d="M320 438h2.8v2.8h-2.8z"/>
<path fill="#7ce" d="M325 438h2.8v2.8h-2.8z"/>
<path fill="#8ce" d="M327.5 438h2.8v2.8h-2.8z"/>
<path fill="#bae" d="M330 438h2.8v2.8h-2.8z"/>
<path fill="#c9e" d="M332.5 438h2.8v2.8h-2.8z"/>
<path fill="#d8d" d="M335 438h2.8v2.8h-2.8z"/>
<path fill="#e8d" d="M337.5 438h2.8v2.8h-2.8z"/>
<path fill="#e7c" d="M340 438h2.8v2.8h-2.8z"/>
<path fill="#e6b" d="M342.5 438h2.8v2.8h-2.8z"/>
<path fill="#e6a" d="M345 438h2.8v2.8h-2.8z"/>
<path fill="#e59" d="M347.5 438h2.8v2.8h-2.8zM350 438h2.8v2.8h-2.8z"/>
<path fill="#e48" d="M352.5 438h2.8v2.8h-2.8zM355 438h2.8v2.8h-2.8z"/>
<path fill="#e37" d="M357.5 438h2.8v2.8h-2.8zM360 438h2.8v2.8h-2.8z"/>
<path fill="#e36" d="M362.5 438h2.8v2.8h-2.8z"/>
<path fill="#e26" d="M365 438h2.8v2.8h-2.8zM367.5 438h2.8v2.8h-2.8zM365 440.5h2.8v2.8h-2.8z"/>
<path fill="#e25" d="M370 438h2.8v2.8h-2.8zM372.5 438h2.8v2.8h-2.8z"/>
<path fill="#e15" d="M375 438h2.8v2.8h-2.8zM377.5 438h2.8v2.8h-2.8zM372.5 440.5h2.8v2.8h-2.8zM375 440.5h2.8v2.8h-2.8zM377.5 440.5h2.8v2.8h-2.8zM380 440.5h2.8v2.8h-2.8z"/>
<path fill="#e14" d="M380 438h2.8v2.8h-2.8zM382.5 438h2.8v2.8h-2.8zM385 438h2.8v2.8h-2.8z"/>
<path fill="#e03" d="M387.5 438h2.8v2.8h-2.8zM405 440.5h2.8v2.8h-2.8zM407.5 440.5h2.8v2.8h-2.8zM410 440.5h2.8v2.8h-2.8zM412.5 440.5h2.8v2.8h-2.8z"/>
<path fill="#e13" d="M390 438h2.8v2.8h-2.8zM392.5 438h2.8v2.8h-2.8zM395 438h2.8v2.8h-2.8zM415 440.5h2.8v2.8h-2.8zM417.5 440.5h2.8v2.8h-2.8zM420 440.5h2.8v2.8h-2.8z"/>
<path fill="#e12" d="M397.5 438h2.8v2.8h-2.8zM400 438h2.8v2.8h-2.8zM402.5 438h2.8v2.8h-2.8zM405 438h2.8v2.8h-2.8zM407.5 438h2.8v2.8h-2.8zM410 438h2.8v2.8h-2.8zM422.5 440.5h2.8v2.8h-2.8z"/>
<path fill="#1bd" d="M300 440.5h2.8v2.8h-2.8zM302.5 440.5h2.8v2.8h-2.8zM305 440.5h2.8v2.8h-2.8zM292.5 443h2.8v2.8h-2.8zM295 443h2.8v2.8h-2.8zM297.5 443h2.8v2.8h-2.8zM300 443h2.8v2.8h-2.8zM302.5 443h2.8v2.8h-2.8zM305 443h2.8v2.8h-2.8zM282.5 445.5h2.8v2.8h-2.8zM285 445.5h2.8v2.8h-2.8zM287.5 445.5h2.8v2.8h-2.8zM290 445.5h2.8v2.8h-2.8zM292.5 445.5h2.8v2.8h-2.8zM295 445.5h2.8v2.8h-2.8zM297.5 445.5h2.8v2.8h-2.8zM300 445.5h2.8v2.8h-2.8zM302.5 445.5h2.8v2.8h-2.8zM280 448h2.8v2.8h-2.8zM282.5 448h2.8v2.8h-2.8zM285 448h2.8v2.8h-2.8zM287.5 448h2.8v2.8h-2.8zM290 448h2.8v2.8h-2.8zM292.5 448h2.8v2.8h-2.8zM295 448h2.8v2.8h-2.8zM297.5 448h2.8v2.8h-2.8zM280 450.5h2.8v2.8h-2.8zM282.5 450.5h2.8v2.8h-2.8zM285 450.5h2.8v2.8h-2.8zM287.5 450.5h2.8v2.8h-2.8zM290 450.5h2.8v2.8h-2.8zM282.5 453h2.8v2.8h-2.8zM285 453h2.8v2.8h-2.8z"/>
<path fill="#3be" d="M315 440.5h2.8v2.8h-2.8zM315 443h2.8v2.8h-2.8zM317.5 443h2.8v2.8h-2.8z"/>
<path fill="#4be" d="M317.5 440.5h2.8v2.8h-2.8zM320 440.5h2.8v2.8h-2.8z"/>
<path fill="#5be" d="M322.5 440.5h2.8v2.8h-2.8z"/>
<path fill="#6be" d="M325 440.5h2.8v2.8h-2.8z"/>
<path fill="#78d" d="M327.5 440.5h2.8v2.8h-2.8z"/>
<path fill="#a8e" d="M330 440.5h2.8v2.8h-2.8z"/>
<path fill="#c7e" d="M332.5 440.5h2.8v2.8h-2.8z"/>
<path fill="#d7d" d="M335 440.5h2.8v2.8h-2.8z"/>
<path fill="#d6c" d="M337.5 440.5h2.8v2.8h-2.8z"/>
<path fill="#e5c" d="M340 440.5h2.8v2.8h-2.8z"/>
<path fill="#e5b" d="M342.5 440.5h2.8v2.8h-2.8z"/>
<path fill="#e4a" d="M345 440.5h2.8v2.8h-2.8z"/>
<path fill="#e49" d="M347.5 440.5h2.8v2.8h-2.8z"/>
<path fill="#e39" d="M350 440.5h2.8v2.8h-2.8z"/>
<path fill="#e38" d="M352.5 440.5h2.8v2.8h-2.8zM355 440.5h2.8v2.8h-2.8z"/>
<path fill="#e27" d="M357.5 440.5h2.8v2.8h-2.8zM360 440.5h2.8v2.8h-2.8zM362.5 440.5h2.8v2.8h-2.8zM357.5 443h2.8v2.8h-2.8z"/>
<path fill="#e16" d="M367.5 440.5h2.8v2.8h-2.8zM370 440.5h2.8v2.8h-2.8zM365 443h2.8v2.8h-2.8zM367.5 443h2.8v2.8h-2.8zM370 443h2.8v2.8h-2.8zM372.5 443h2.8v2.8h-2.8z"/>
<path fill="#e05" d="M382.5 440.5h2.8v2.8h-2.8zM375 443h2.8v2.8h-2.8zM377.5 443h2.8v2.8h-2.8zM380 443h2.8v2.8h-2.8zM382.5 443h2.8v2.8h-2.8zM385 443h2.8v2.8h-2.8zM387.5 443h2.8v2.8h-2.8zM390 443h2.8v2.8h-2.8zM380 445.5h2.8v2.8h-2.8zM382.5 445.5h2.8v2.8h-2.8zM385 445.5h2.8v2.8h-2.8zM387.5 445.5h2.8v2.8h-2.8zM390 445.5h2.8v2.8h-2.8zM392.5 445.5h2.8v2.8h-2.8zM395 445.5h2.8v2.8h-2.8zM397.5 445.5h2.8v2.8h-2.8zM400 445.5h2.8v2.8h-2.8zM387.5 448h2.8v2.8h-2.8zM390 448h2.8v2.8h-2.8zM392.5 448h2.8v2.8h-2.8zM395 448h2.8v2.8h-2.8zM397.5 448h2.8v2.8h-2.8zM400 448h2.8v2.8h-2.8zM402.5 448h2.8v2.8h-2.8zM405 448h2.8v2.8h-2.8zM407.5 448h2.8v2.8h-2.8zM395 450.5h2.8v2.8h-2.8zM397.5 450.5h2.8v2.8h-2.8zM400 450.5h2.8v2.8h-2.8z"/>
<path fill="#e04" d="M385 440.5h2.8v2.8h-2.8zM387.5 440.5h2.8v2.8h-2.8zM390 440.5h2.8v2.8h-2.8zM392.5 440.5h2.8v2.8h-2.8zM395 440.5h2.8v2.8h-2.8zM397.5 440.5h2.8v2.8h-2.8zM400 440.5h2.8v2.8h-2.8zM402.5 440.5h2.8v2.8h-2.8zM392.5 443h2.8v2.8h-2.8zM395 443h2.8v2.8h-2.8zM397.5 443h2.8v2.8h-2.8zM400 443h2.8v2.8h-2.8zM402.5 443h2.8v2.8h-2.8zM405 443h2.8v2.8h-2.8zM407.5 443h2.8v2.8h-2.8zM410 443h2.8v2.8h-2.8zM412.5 443h2.8v2.8h-2.8zM415 443h2.8v2.8h-2.8zM417.5 443h2.8v2.8h-2.8zM420 443h2.8v2.8h-2.8zM422.5 443h2.8v2.8h-2.8zM402.5 445.5h2.8v2.8h-2.8zM405 445.5h2.8v2.8h-2.8zM407.5 445.5h2.8v2.8h-2.8zM410 445.5h2.8v2.8h-2.8zM412.5 445.5h2.8v2.8h-2.8zM415 445.5h2.8v2.8h-2.8z"/>
<path fill="#2be" d="M310 443h2.8v2.8h-2.8zM312.5 443h2.8v2.8h-2.8zM307.5 445.5h2.8v2.8h-2.8z"/>
<path fill="#4ae" d="M320 443h2.8v2.8h-2.8z"/>
<path fill="#5ae" d="M322.5 443h2.8v2.8h-2.8z"/>
<path fill="#68e" d="M325 443h2.8v2.8h-2.8z"/>
<path fill="#87d" d="M327.5 443h2.8v2.8h-2.8z"/>
<path fill="#a6d" d="M330 443h2.8v2.8h-2.8z"/>
<path fill="#b6d" d="M332.5 443h2.8v2.8h-2.8z"/>
<path fill="#c5d" d="M335 443h2.8v2.8h-2.8z"/>
<path fill="#d4c" d="M337.5 443h2.8v2.8h-2.8zM340 443h2.8v2.8h-2.8z"/>
<path fill="#e3b" d="M342.5 443h2.8v2.8h-2.8z"/>
<path fill="#e3a" d="M345 443h2.8v2.8h-2.8zM347.5 443h2.8v2.8h-2.8z"/>
<path fill="#e29" d="M350 443h2.8v2.8h-2.8zM350 445.5h2.8v2.8h-2.8z"/>
<path fill="#e28" d="M352.5 443h2.8v2.8h-2.8zM355 443h2.8v2.8h-2.8z"/>
<path fill="#e17" d="M360 443h2.8v2.8h-2.8zM362.5 443h2.8v2.8h-2.8zM360 445.5h2.8v2.8h-2.8zM362.5 445.5h2.8v2.8h-2.8zM365 445.5h2.8v2.8h-2.8z"/>
<path fill="#1be" d="M305 445.5h2.8v2.8h-2.8z"/>
<path fill="#2ae" d="M310 445.5h2.8v2.8h-2.8zM312.5 445.5h2.8v2.8h-2.8zM310 448h2.8v2.8h-2.8zM312.5 448h2.8v2.8h-2.8z"/>
<path fill="#3ae" d="M315 445.5h2.8v2.8h-2.8zM317.5 445.5h2.8v2.8h-2.8z"/>
<path fill="#49e" d="M320 445.5h2.8v2.8h-2.8z"/>
<path fill="#48e" d="M322.5 445.5h2.8v2.8h-2.8z"/>
<path fill="#55b" d="M325 445.5h2.8v2.8h-2.8z"/>
<path fill="#85d" d="M327.5 445.5h2.8v2.8h-2.8z"/>
<path fill="#95d" d="M330 445.5h2.8v2.8h-2.8z"/>
<path fill="#b5d" d="M332.5 445.5h2.8v2.8h-2.8z"/>
<path fill="#b4d" d="M335 445.5h2.8v2.8h-2.8z"/>
<path fill="#c3c" d="M337.5 445.5h2.8v2.8h-2.8zM337.5 448h2.8v2.8h-2.8z"/>
<path fill="#d3c" d="M340 445.5h2.8v2.8h-2.8z"/>
<path fill="#d2b" d="M342.5 445.5h2.8v2.8h-2.8zM342.5 448h2.8v2.8h-2.8z"/>
<path fill="#e2a" d="M345 445.5h2.8v2.8h-2.8zM347.5 445.5h2.8v2.8h-2.8z"/>
<path fill="#e19" d="M352.5 445.5h2.8v2.8h-2.8zM352.5 448h2.8v2.8h-2.8zM355 448h2.8v2.8h-2.8z"/>
<path fill="#e18" d="M355 445.5h2.8v2.8h-2.8zM357.5 445.5h2.8v2.8h-2.8zM357.5 448h2.8v2.8h-2.8z"/>
<path fill="#e06" d="M367.5 445.5h2.8v2.8h-2.8zM370 445.5h2.8v2.8h-2.8zM372.5 445.5h2.8v2.8h-2.8zM375 445.5h2.8v2.8h-2.8zM377.5 445.5h2.8v2.8h-2.8zM372.5 448h2.8v2.8h-2.8zM375 448h2.8v2.8h-2.8zM377.5 448h2.8v2.8h-2.8zM380 448h2.8v2.8h-2.8zM382.5 448h2.8v2.8h-2.8zM385 448h2.8v2.8h-2.8zM377.5 450.5h2.8v2.8h-2.8zM380 450.5h2.8v2.8h-2.8zM382.5 450.5h2.8v2.8h-2.8zM385 450.5h2.8v2.8h-2.8zM387.5 450.5h2.8v2.8h-2.8zM390 450.5h2.8v2.8h-2.8zM392.5 450.5h2.8v2.8h-2.8zM382.5 453h2.8v2.8h-2.8zM385 453h2.8v2.8h-2.8zM387.5 453h2.8v2.8h-2.8zM390 453h2.8v2.8h-2.8zM392.5 453h2.8v2.8h-2.8z"/>
<path fill="#1ae" d="M300 448h2.8v2.8h-2.8zM302.5 448h2.8v2.8h-2.8zM305 448h2.8v2.8h-2.8zM307.5 448h2.8v2.8h-2.8zM295 450.5h2.8v2.8h-2.8zM297.5 450.5h2.8v2.8h-2.8zM300 450.5h2.8v2.8h-2.8zM302.5 450.5h2.8v2.8h-2.8zM305 450.5h2.8v2.8h-2.8zM307.5 450.5h2.8v2.8h-2.8zM290 453h2.8v2.8h-2.8zM292.5 453h2.8v2.8h-2.8zM295 453h2.8v2.8h-2.8zM297.5 453h2.8v2.8h-2.8zM300 453h2.8v2.8h-2.8zM302.5 453h2.8v2.8h-2.8zM305 453h2.8v2.8h-2.8zM285 455.5h2.8v2.8h-2.8zM287.5 455.5h2.8v2.8h-2.8zM290 455.5h2.8v2.8h-2.8zM292.5 455.5h2.8v2.8h-2.8zM295 455.5h2.8v2.8h-2.8zM297.5 455.5h2.8v2.8h-2.8zM300 455.5h2.8v2.8h-2.8zM285 458h2.8v2.8h-2.8zM287.5 458h2.8v2.8h-2.8zM290 458h2.8v2.8h-2.8zM292.5 458h2.8v2.8h-2.8zM295 458h2.8v2.8h-2.8zM297.5 458h2.8v2.8h-2.8zM285 460.5h2.8v2.8h-2.8zM287.5 460.5h2.8v2.8h-2.8zM290 460.5h2.8v2.8h-2.8zM292.5 460.5h2.8v2.8h-2.8zM287.5 463h2.8v2.8h-2.8zM290 463h2.8v2.8h-2.8zM287.5 465.5h2.8v2.8h-2.8z"/>
<path fill="#29e" d="M315 448h2.8v2.8h-2.8zM310 450.5h2.8v2.8h-2.8zM312.5 450.5h2.8v2.8h-2.8zM315 450.5h2.8v2.8h-2.8z"/>
<path fill="#39e" d="M317.5 448h2.8v2.8h-2.8z"/>
<path fill="#38e" d="M320 448h2.8v2.8h-2.8z"/>
<path fill="#45c" d="M322.5 448h2.8v2.8h-2.8z"/>
<path fill="#65c" d="M325 448h2.8v2.8h-2.8z"/>
<path fill="#84d" d="M327.5 448h2.8v2.8h-2.8z"/>
<path fill="#94d" d="M330 448h2.8v2.8h-2.8z"/>
<path fill="#a3d" d="M332.5 448h2.8v2.8h-2.8zM332.5 450.5h2.8v2.8h-2.8z"/>
<path fill="#b3d" d="M335 448h2.8v2.8h-2.8z"/>
<path fill="#c2c" d="M340 448h2.8v2.8h-2.8zM340 450.5h2.8v2.8h-2.8z"/>
<path fill="#d1b" d="M345 448h2.8v2.8h-2.8zM345 450.5h2.8v2.8h-2.8zM345 453h2.8v2.8h-2.8z"/>
<path fill="#d1a" d="M347.5 448h2.8v2.8h-2.8zM347.5 450.5h2.8v2.8h-2.8zM350 450.5h2.8v2.8h-2.8z"/>
<path fill="#e1a" d="M350 448h2.8v2.8h-2.8z"/>
<path fill="#e08" d="M360 448h2.8v2.8h-2.8zM360 450.5h2.8v2.8h-2.8zM362.5 450.5h2.8v2.8h-2.8zM365 450.5h2.8v2.8h-2.8zM362.5 453h2.8v2.8h-2.8zM365 453h2.8v2.8h-2.8zM367.5 453h2.8v2.8h-2.8zM365 455.5h2.8v2.8h-2.8zM367.5 455.5h2.8v2.8h-2.8zM370 455.5h2.8v2.8h-2.8zM372.5 455.5h2.8v2.8h-2.8zM367.5 458h2.8v2.8h-2.8zM370 458h2.8v2.8h-2.8zM372.5 458h2.8v2.8h-2.8zM375 458h2.8v2.8h-2.8zM377.5 458h2.8v2.8h-2.8zM372.5 460.5h2.8v2.8h-2.8z"/>
<path fill="#e07" d="M362.5 448h2.8v2.8h-2.8zM365 448h2.8v2.8h-2.8zM367.5 448h2.8v2.8h-2.8zM370 448h2.8v2.8h-2.8zM367.5 450.5h2.8v2.8h-2.8zM370 450.5h2.8v2.8h-2.8zM372.5 450.5h2.8v2.8h-2.8zM375 450.5h2.8v2.8h-2.8zM370 453h2.8v2.8h-2.8zM372.5 453h2.8v2.8h-2.8zM375 453h2.8v2.8h-2.8zM377.5 453h2.8v2.8h-2.8zM380 453h2.8v2.8h-2.8zM375 455.5h2.8v2.8h-2.8zM377.5 455.5h2.8v2.8h-2.8zM380 455.5h2.8v2.8h-2.8zM382.5 455.5h2.8v2.8h-2.8zM385 455.5h2.8v2.8h-2.8zM380 458h2.8v2.8h-2.8z"/>
<path fill="#1ad" d="M292.5 450.5h2.8v2.8h-2.8zM287.5 453h2.8v2.8h-2.8zM282.5 455.5h2.8v2.8h-2.8z"/>
<path fill="#28e" d="M317.5 450.5h2.8v2.8h-2.8zM312.5 453h2.8v2.8h-2.8z"/>
<path fill="#35d" d="M320 450.5h2.8v2.8h-2.8z"/>
<path fill="#54b" d="M322.5 450.5h2.8v2.8h-2.8z"/>
<path fill="#73c" d="M325 450.5h2.8v2.8h-2.8z"/>
<path fill="#83d" d="M327.5 450.5h2.8v2.8h-2.8z"/>
<path fill="#93d" d="M330 450.5h2.8v2.8h-2.8z"/>
<path fill="#b2d" d="M335 450.5h2.8v2.8h-2.8z"/>
<path fill="#b2c" d="M337.5 450.5h2.8v2.8h-2.8z"/>
<path fill="#c1b" d="M342.5 450.5h2.8v2.8h-2.8zM342.5 453h2.8v2.8h-2.8zM342.5 455.5h2.8v2.8h-2.8zM342.5 458h2.8v2.8h-2.8z"/>
<path fill="#d09" d="M352.5 450.5h2.8v2.8h-2.8zM355 453h2.8v2.8h-2.8zM357.5 455.5h2.8v2.8h-2.8zM360 458h2.8v2.8h-2.8zM362.5 458h2.8v2.8h-2.8zM362.5 460.5h2.8v2.8h-2.8zM365 460.5h2.8v2.8h-2.8zM365 463h2.8v2.8h-2.8z"/>
<path fill="#e09" d="M355 450.5h2.8v2.8h-2.8zM357.5 450.5h2.8v2.8h-2.8zM357.5 453h2.8v2.8h-2.8zM360 453h2.8v2.8h-2.8zM360 455.5h2.8v2.8h-2.8zM362.5 455.5h2.8v2.8h-2.8zM365 458h2.8v2.8h-2.8zM367.5 460.5h2.8v2.8h-2.8zM370 460.5h2.8v2.8h-2.8z"/>
<path fill="#19e" d="M307.5 453h2.8v2.8h-2.8zM310 453h2.8v2.8h-2.8zM302.5 455.5h2.8v2.8h-2.8zM305 455.5h2.8v2.8h-2.8zM307.5 455.5h2.8v2.8h-2.8zM300 458h2.8v2.8h-2.8zM302.5 458h2.8v2.8h-2.8zM305 458h2.8v2.8h-2.8zM295 460.5h2.8v2.8h-2.8zM297.5 460.5h2.8v2.8h-2.8zM300 460.5h2.8v2.8h-2.8zM302.5 460.5h2.8v2.8h-2.8zM292.5 463h2.8v2.8h-2.8zM295 463h2.8v2.8h-2.8zM297.5 463h2.8v2.8h-2.8zM300 463h2.8v2.8h-2.8zM290 465.5h2.8v2.8h-2.8zM292.5 465.5h2.8v2.8h-2.8zM295 465.5h2.8v2.8h-2.8zM290 468h2.8v2.8h-2.8zM292.5 468h2.8v2.8h-2.8zM290 470.5h2.8v2.8h-2.8z"/>
<path fill="#27d" d="M315 453h2.8v2.8h-2.8z"/>
<path fill="#26d" d="M317.5 453h2.8v2.8h-2.8zM315 455.5h2.8v2.8h-2.8z"/>
<path fill="#33b" d="M320 453h2.8v2.8h-2.8z"/>
<path fill="#53c" d="M322.5 453h2.8v2.8h-2.8z"/>
<path fill="#73d" d="M325 453h2.8v2.8h-2.8z"/>
<path fill="#82d" d="M327.5 453h2.8v2.8h-2.8zM327.5 455.5h2.8v2.8h-2.8zM327.5 458h2.8v2.8h-2.8z"/>
<path fill="#92d" d="M330 453h2.8v2.8h-2.8zM330 455.5h2.8v2.8h-2.8zM332.5 455.5h2.8v2.8h-2.8z"/>
<path fill="#a2d" d="M332.5 453h2.8v2.8h-2.8zM335 453h2.8v2.8h-2.8z"/>
<path fill="#b1c" d="M337.5 453h2.8v2.8h-2.8zM337.5 455.5h2.8v2.8h-2.8zM340 455.5h2.8v2.8h-2.8zM337.5 458h2.8v2.8h-2.8zM340 458h2.8v2.8h-2.8zM340 460.5h2.8v2.8h-2.8zM340 463h2.8v2.8h-2.8zM342.5 463h2.8v2.8h-2.8zM340 465.5h2.8v2.8h-2.8zM342.5 465.5h2.8v2.8h-2.8zM340 468h2.8v2.8h-2.8zM342.5 468h2.8v2.8h-2.8zM342.5 470.5h2.8v2.8h-2.8z"/>
<path fill="#c1c" d="M340 453h2.8v2.8h-2.8z"/>
<path fill="#d0b" d="M347.5 453h2.8v2.8h-2.8zM347.5 455.5h2.8v2.8h-2.8zM347.5 458h2.8v2.8h-2.8zM350 458h2.8v2.8h-2.8zM350 460.5h2.8v2.8h-2.8zM352.5 463h2.8v2.8h-2.8zM352.5 465.5h2.8v2.8h-2.8z"/>
<path fill="#d0a" d="M350 453h2.8v2.8h-2.8zM352.5 453h2.8v2.8h-2.8zM350 455.5h2.8v2.8h-2.8zM352.5 455.5h2.8v2.8h-2.8zM355 455.5h2.8v2.8h-2.8zM352.5 458h2.8v2.8h-2.8zM355 458h2.8v2.8h-2.8zM357.5 458h2.8v2.8h-2.8zM352.5 460.5h2.8v2.8h-2.8zM355 460.5h2.8v2.8h-2.8zM357.5 460.5h2.8v2.8h-2.8zM360 460.5h2.8v2.8h-2.8zM355 463h2.8v2.8h-2.8zM357.5 463h2.8v2.8h-2.8zM360 463h2.8v2.8h-2.8zM362.5 463h2.8v2.8h-2.8zM355 465.5h2.8v2.8h-2.8zM357.5 465.5h2.8v2.8h-2.8z"/>
<path fill="#18e" d="M310 455.5h2.8v2.8h-2.8zM307.5 458h2.8v2.8h-2.8zM305 460.5h2.8v2.8h-2.8zM302.5 463h2.8v2.8h-2.8zM297.5 465.5h2.8v2.8h-2.8zM300 465.5h2.8v2.8h-2.8zM295 468h2.8v2.8h-2.8zM297.5 468h2.8v2.8h-2.8zM292.5 470.5h2.8v2.8h-2.8zM295 470.5h2.8v2.8h-2.8zM292.5 473h2.8v2.8h-2.8z"/>
<path fill="#17d" d="M312.5 455.5h2.8v2.8h-2.8zM310 458h2.8v2.8h-2.8zM307.5 460.5h2.8v2.8h-2.8zM305 463h2.8v2.8h-2.8zM307.5 463h2.8v2.8h-2.8zM302.5 465.5h2.8v2.8h-2.8zM305 465.5h2.8v2.8h-2.8zM302.5 468h2.8v2.8h-2.8zM300 470.5h2.8v2.8h-2.8zM297.5 473h2.8v2.8h-2.8zM295 475.5h2.8v2.8h-2.8z"/>
<path fill="#23c" d="M317.5 455.5h2.8v2.8h-2.8z"/>
<path fill="#42b" d="M320 455.5h2.8v2.8h-2.8zM320 458h2.8v2.8h-2.8z"/>
<path fill="#52c" d="M322.5 455.5h2.8v2.8h-2.8zM320 460.5h2.8v2.8h-2.8z"/>
<path fill="#72d" d="M325 455.5h2.8v2.8h-2.8z"/>
<path fill="#a1d" d="M335 455.5h2.8v2.8h-2.8zM335 465.5h2.8v2.8h-2.8zM335 468h2.8v2.8h-2.8zM335 470.5h2.8v2.8h-2.8zM335 473h2.8v2.8h-2.8z"/>
<path fill="#c0b" d="M345 455.5h2.8v2.8h-2.8zM345 458h2.8v2.8h-2.8zM345 460.5h2.8v2.8h-2.8zM347.5 460.5h2.8v2.8h-2.8zM345 463h2.8v2.8h-2.8zM347.5 463h2.8v2.8h-2.8zM350 463h2.8v2.8h-2.8zM347.5 465.5h2.8v2.8h-2.8zM350 465.5h2.8v2.8h-2.8zM347.5 468h2.8v2.8h-2.8zM350 468h2.8v2.8h-2.8z"/>
<path fill="#16d" d="M312.5 458h2.8v2.8h-2.8zM310 460.5h2.8v2.8h-2.8zM305 468h2.8v2.8h-2.8zM302.5 470.5h2.8v2.8h-2.8zM300 473h2.8v2.8h-2.8zM297.5 475.5h2.8v2.8h-2.8zM297.5 478h2.8v2.8h-2.8z"/>
<path fill="#14c" d="M315 458h2.8v2.8h-2.8zM310 465.5h2.8v2.8h-2.8zM302.5 475.5h2.8v2.8h-2.8zM300 480.5h2.8v2.8h-2.8z"/>
<path fill="#22a" d="M317.5 458h2.8v2.8h-2.8z"/>
<path fill="#62c" d="M322.5 458h2.8v2.8h-2.8z"/>
<path fill="#72c" d="M325 458h2.8v2.8h-2.8z"/>
<path fill="#91d" d="M330 458h2.8v2.8h-2.8zM332.5 458h2.8v2.8h-2.8zM330 460.5h2.8v2.8h-2.8zM332.5 460.5h2.8v2.8h-2.8zM330 463h2.8v2.8h-2.8zM332.5 463h2.8v2.8h-2.8zM330 465.5h2.8v2.8h-2.8zM332.5 465.5h2.8v2.8h-2.8zM330 468h2.8v2.8h-2.8zM332.5 468h2.8v2.8h-2.8zM330 470.5h2.8v2.8h-2.8zM332.5 470.5h2.8v2.8h-2.8zM330 473h2.8v2.8h-2.8zM332.5 473h2.8v2.8h-2.8z"/>
<path fill="#a1c" d="M335 458h2.8v2.8h-2.8zM335 460.5h2.8v2.8h-2.8zM337.5 460.5h2.8v2.8h-2.8zM335 463h2.8v2.8h-2.8zM337.5 463h2.8v2.8h-2.8zM337.5 465.5h2.8v2.8h-2.8zM337.5 468h2.8v2.8h-2.8zM337.5 470.5h2.8v2.8h-2.8zM340 470.5h2.8v2.8h-2.8z"/>
<path fill="#15d" d="M312.5 460.5h2.8v2.8h-2.8zM310 463h2.8v2.8h-2.8zM307.5 465.5h2.8v2.8h-2.8zM305 470.5h2.8v2.8h-2.8zM302.5 473h2.8v2.8h-2.8zM300 475.5h2.8v2.8h-2.8z"/>
<path fill="#22b" d="M315 460.5h2.8v2.8h-2.8z"/>
<path fill="#32b" d="M317.5 460.5h2.8v2.8h-2.8z"/>
<path fill="#61c" d="M322.5 460.5h2.8v2.8h-2.8zM322.5 463h2.8v2.8h-2.8zM320 465.5h2.8v2.8h-2.8zM322.5 465.5h2.8v2.8h-2.8zM320 468h2.8v2.8h-2.8zM320 470.5h2.8v2.8h-2.8zM317.5 473h2.8v2.8h-2.8zM320 473h2.8v2.8h-2.8zM317.5 475.5h2.8v2.8h-2.8zM317.5 478h2.8v2.8h-2.8z"/>
<path fill="#71c" d="M325 460.5h2.8v2.8h-2.8zM325 463h2.8v2.8h-2.8zM325 465.5h2.8v2.8h-2.8zM322.5 468h2.8v2.8h-2.8zM325 468h2.8v2.8h-2.8zM322.5 470.5h2.8v2.8h-2.8zM325 470.5h2.8v2.8h-2.8zM322.5 473h2.8v2.8h-2.8zM320 475.5h2.8v2.8h-2.8zM322.5 475.5h2.8v2.8h-2.8zM320 478h2.8v2.8h-2.8z"/>
<path fill="#81d" d="M327.5 460.5h2.8v2.8h-2.8zM327.5 463h2.8v2.8h-2.8zM327.5 465.5h2.8v2.8h-2.8zM327.5 468h2.8v2.8h-2.8zM327.5 470.5h2.8v2.8h-2.8zM327.5 473h2.8v2.8h-2.8zM327.5 475.5h2.8v2.8h-2.8z"/>
<path fill="#b1b" d="M342.5 460.5h2.8v2.8h-2.8z"/>
<path fill="#13c" d="M312.5 463h2.8v2.8h-2.8zM307.5 470.5h2.8v2.8h-2.8zM305 473h2.8v2.8h-2.8zM302.5 478h2.8v2.8h-2.8z"/>
<path fill="#21b" d="M315 463h2.8v2.8h-2.8zM312.5 468h2.8v2.8h-2.8zM310 473h2.8v2.8h-2.8z"/>
<path fill="#41b" d="M317.5 463h2.8v2.8h-2.8zM315 468h2.8v2.8h-2.8zM312.5 473h2.8v2.8h-2.8zM312.5 475.5h2.8v2.8h-2.8zM310 478h2.8v2.8h-2.8zM310 480.5h2.8v2.8h-2.8z"/>
<path fill="#51c" d="M320 463h2.8v2.8h-2.8zM317.5 468h2.8v2.8h-2.8zM317.5 470.5h2.8v2.8h-2.8zM315 473h2.8v2.8h-2.8zM315 475.5h2.8v2.8h-2.8zM312.5 478h2.8v2.8h-2.8zM315 478h2.8v2.8h-2.8zM312.5 480.5h2.8v2.8h-2.8z"/>
<path fill="#21a" d="M312.5 465.5h2.8v2.8h-2.8zM310 470.5h2.8v2.8h-2.8zM307.5 475.5h2.8v2.8h-2.8zM305 478h2.8v2.8h-2.8zM305 480.5h2.8v2.8h-2.8z"/>
<path fill="#31b" d="M315 465.5h2.8v2.8h-2.8zM312.5 470.5h2.8v2.8h-2.8zM310 475.5h2.8v2.8h-2.8zM307.5 478h2.8v2.8h-2.8zM307.5 480.5h2.8v2.8h-2.8z"/>
<path fill="#41c" d="M317.5 465.5h2.8v2.8h-2.8zM315 470.5h2.8v2.8h-2.8z"/>
<path fill="#b0b" d="M345 465.5h2.8v2.8h-2.8zM345 468h2.8v2.8h-2.8z"/>
<path fill="#18d" d="M300 468h2.8v2.8h-2.8zM297.5 470.5h2.8v2.8h-2.8zM295 473h2.8v2.8h-2.8z"/>
<path fill="#14d" d="M307.5 468h2.8v2.8h-2.8zM300 478h2.8v2.8h-2.8z"/>
<path fill="#12b" d="M310 468h2.8v2.8h-2.8zM305 475.5h2.8v2.8h-2.8zM302.5 480.5h2.8v2.8h-2.8z"/>
<path fill="#11b" d="M307.5 473h2.8v2.8h-2.8z"/>
<path fill="#81c" d="M325 473h2.8v2.8h-2.8zM325 475.5h2.8v2.8h-2.8z"/>
</g></g>
<rect x="271.3" y="350.6" width="161.7" height="130.9" fill="none" stroke="#3a3a3a" stroke-width="1.3"/>
<line x1="271" y1="481.5" x2="271" y2="484" stroke="#000" stroke-width="0.9"/>
<text x="271" y="490.1" font-size="9.8" text-anchor="middle" font-weight="bold" fill="#000" font-family="'Liberation Sans', Arial, sans-serif" dominant-baseline="central">0.0</text>
<line x1="281.1" y1="481.5" x2="281.1" y2="483" stroke="#000" stroke-width="0.8"/>
<line x1="291.2" y1="481.5" x2="291.2" y2="484" stroke="#000" stroke-width="0.9"/>
<text x="291.2" y="490.1" font-size="9.8" text-anchor="middle" font-weight="bold" fill="#000" font-family="'Liberation Sans', Arial, sans-serif" dominant-baseline="central">0.1</text>
<line x1="301.4" y1="481.5" x2="301.4" y2="483" stroke="#000" stroke-width="0.8"/>
<line x1="311.5" y1="481.5" x2="311.5" y2="484" stroke="#000" stroke-width="0.9"/>
<text x="311.5" y="490.1" font-size="9.8" text-anchor="middle" font-weight="bold" fill="#000" font-family="'Liberation Sans', Arial, sans-serif" dominant-baseline="central">0.2</text>
<line x1="321.6" y1="481.5" x2="321.6" y2="483" stroke="#000" stroke-width="0.8"/>
<line x1="331.8" y1="481.5" x2="331.8" y2="484" stroke="#000" stroke-width="0.9"/>
<text x="331.8" y="490.1" font-size="9.8" text-anchor="middle" font-weight="bold" fill="#000" font-family="'Liberation Sans', Arial, sans-serif" dominant-baseline="central">0.3</text>
<line x1="341.9" y1="481.5" x2="341.9" y2="483" stroke="#000" stroke-width="0.8"/>
<line x1="352" y1="481.5" x2="352" y2="484" stroke="#000" stroke-width="0.9"/>
<text x="352" y="490.1" font-size="9.8" text-anchor="middle" font-weight="bold" fill="#000" font-family="'Liberation Sans', Arial, sans-serif" dominant-baseline="central">0.4</text>
<line x1="362.1" y1="481.5" x2="362.1" y2="483" stroke="#000" stroke-width="0.8"/>
<line x1="372.2" y1="481.5" x2="372.2" y2="484" stroke="#000" stroke-width="0.9"/>
<text x="372.2" y="490.1" font-size="9.8" text-anchor="middle" font-weight="bold" fill="#000" font-family="'Liberation Sans', Arial, sans-serif" dominant-baseline="central">0.5</text>
<line x1="382.4" y1="481.5" x2="382.4" y2="483" stroke="#000" stroke-width="0.8"/>
<line x1="392.5" y1="481.5" x2="392.5" y2="484" stroke="#000" stroke-width="0.9"/>
<text x="392.5" y="490.1" font-size="9.8" text-anchor="middle" font-weight="bold" fill="#000" font-family="'Liberation Sans', Arial, sans-serif" dominant-baseline="central">0.6</text>
<line x1="402.6" y1="481.5" x2="402.6" y2="483" stroke="#000" stroke-width="0.8"/>
<line x1="412.8" y1="481.5" x2="412.8" y2="484" stroke="#000" stroke-width="0.9"/>
<text x="412.8" y="490.1" font-size="9.8" text-anchor="middle" font-weight="bold" fill="#000" font-family="'Liberation Sans', Arial, sans-serif" dominant-baseline="central">0.7</text>
<line x1="422.9" y1="481.5" x2="422.9" y2="483" stroke="#000" stroke-width="0.8"/>
<line x1="433" y1="481.5" x2="433" y2="484" stroke="#000" stroke-width="0.9"/>
<text x="433" y="490.1" font-size="9.8" text-anchor="middle" font-weight="bold" fill="#000" font-family="'Liberation Sans', Arial, sans-serif" dominant-baseline="central">0.8</text>
<line x1="268.8" y1="481.4" x2="271.3" y2="481.4" stroke="#000" stroke-width="0.9"/>
<text x="267.3" y="481.4" font-size="9.8" text-anchor="end" font-weight="bold" fill="#000" font-family="'Liberation Sans', Arial, sans-serif" dominant-baseline="central">0.0</text>
<line x1="269.8" y1="466.8" x2="271.3" y2="466.8" stroke="#000" stroke-width="0.8"/>
<line x1="268.8" y1="452.2" x2="271.3" y2="452.2" stroke="#000" stroke-width="0.9"/>
<text x="267.3" y="452.2" font-size="9.8" text-anchor="end" font-weight="bold" fill="#000" font-family="'Liberation Sans', Arial, sans-serif" dominant-baseline="central">0.2</text>
<line x1="269.8" y1="437.6" x2="271.3" y2="437.6" stroke="#000" stroke-width="0.8"/>
<line x1="268.8" y1="423" x2="271.3" y2="423" stroke="#000" stroke-width="0.9"/>
<text x="267.3" y="423" font-size="9.8" text-anchor="end" font-weight="bold" fill="#000" font-family="'Liberation Sans', Arial, sans-serif" dominant-baseline="central">0.4</text>
<line x1="269.8" y1="408.4" x2="271.3" y2="408.4" stroke="#000" stroke-width="0.8"/>
<line x1="268.8" y1="393.8" x2="271.3" y2="393.8" stroke="#000" stroke-width="0.9"/>
<text x="267.3" y="393.8" font-size="9.8" text-anchor="end" font-weight="bold" fill="#000" font-family="'Liberation Sans', Arial, sans-serif" dominant-baseline="central">0.6</text>
<line x1="269.8" y1="379.2" x2="271.3" y2="379.2" stroke="#000" stroke-width="0.8"/>
<line x1="268.8" y1="364.6" x2="271.3" y2="364.6" stroke="#000" stroke-width="0.9"/>
<text x="267.3" y="364.6" font-size="9.8" text-anchor="end" font-weight="bold" fill="#000" font-family="'Liberation Sans', Arial, sans-serif" dominant-baseline="central">0.8</text>
<line x1="269.8" y1="350" x2="271.3" y2="350" stroke="#000" stroke-width="0.8"/>
<text x="351.5" y="500.3" font-family="'Liberation Sans', Arial, sans-serif" font-weight="bold" font-size="9.6" text-anchor="middle" dominant-baseline="central">CIE <tspan font-style="italic">x</tspan></text>
<text transform="translate(247.5 416) rotate(-90)" font-family="'Liberation Sans', Arial, sans-serif" font-weight="bold" font-size="9.6" text-anchor="middle" dominant-baseline="central">CIE <tspan font-style="italic">y</tspan></text>
<ellipse cx="352.3" cy="405.4" rx="22" ry="7.2" transform="rotate(27 352.3 405.4)" fill="none" stroke="#000" stroke-width="1.1" stroke-dasharray="3,2"/>
<rect x="341.8" y="398.8" width="3" height="3" fill="#4a4a4a" fill-opacity="0.9"/>
<rect x="343.3" y="399.3" width="3" height="3" fill="#ee2a2a" fill-opacity="0.9"/>
<rect x="346.1" y="400.5" width="3" height="3" fill="#1f5fcf" fill-opacity="0.9"/>
<rect x="346.8" y="401" width="3" height="3" fill="#12956a" fill-opacity="0.9"/>
<rect x="354.5" y="404.3" width="3" height="3" fill="#b070d8" fill-opacity="0.9"/>
<rect x="359.8" y="406.8" width="3" height="3" fill="#d4900a" fill-opacity="0.9"/>
<rect x="361.5" y="407.3" width="3" height="3" fill="#17a0c8" fill-opacity="0.9"/>
<rect x="363.5" y="408.2" width="3" height="3" fill="#6b4343" fill-opacity="0.9"/>
<line x1="322.3" y1="400.8" x2="364.5" y2="422.6" stroke="#000" stroke-width="1.1"/>
<path d="M357.5 422.2 L365.4 423 L360 417.6" fill="none" stroke="#000" stroke-width="1.1"/>
<text x="309" y="397.8" font-size="11.6" text-anchor="middle" font-weight="bold" fill="#000" font-family="'Liberation Serif', 'Times New Roman', serif" dominant-baseline="central">298 K</text>
<text x="372" y="430.2" font-size="11.6" text-anchor="middle" font-weight="bold" fill="#000" font-family="'Liberation Serif', 'Times New Roman', serif" dominant-baseline="central">473 K</text>
<text x="241.5" y="336.8" font-size="16.5" text-anchor="start" font-weight="bold" fill="#000" font-family="'Liberation Sans', Arial, sans-serif" dominant-baseline="central">h</text>
<defs><filter id="glow" x="-10%" y="-300%" width="120%" height="700%"><feGaussianBlur stdDeviation="0.9"/></filter><filter id="glow2" x="-10%" y="-300%" width="120%" height="700%"><feGaussianBlur stdDeviation="1.8"/></filter><filter id="glow0" x="-10%" y="-300%" width="120%" height="700%"><feGaussianBlur stdDeviation="0.45"/></filter><filter id="glow3" x="-20%" y="-50%" width="140%" height="200%"><feGaussianBlur stdDeviation="3"/></filter><linearGradient id="p1bg" x1="0" y1="0" x2="0" y2="1"><stop offset="0" stop-color="#30280e"/><stop offset="0.45" stop-color="#3a3212"/><stop offset="1" stop-color="#241a08"/></linearGradient><linearGradient id="p2bg" x1="0" y1="0" x2="0" y2="1"><stop offset="0" stop-color="#0a140a"/><stop offset="1" stop-color="#060a04"/></linearGradient><linearGradient id="p3bg" x1="0" y1="0" x2="0" y2="1"><stop offset="0" stop-color="#2a1808"/><stop offset="1" stop-color="#1c0e04"/></linearGradient><clipPath id="ph1"><rect x="490.7" y="375" width="149.5" height="19.6"/></clipPath><clipPath id="ph2"><rect x="490.4" y="410.9" width="149.8" height="19.8"/></clipPath><clipPath id="ph3"><rect x="490.4" y="446.8" width="149.8" height="19.9"/></clipPath></defs>
<rect x="484.4" y="351.1" width="160.6" height="132.9" fill="none" stroke="#000" stroke-width="1.3"/>
<line x1="484.4" y1="372.7" x2="645" y2="372.7" stroke="#000" stroke-width="1.2"/>
<text x="567.5" y="363.2" font-size="12.4" text-anchor="middle" font-weight="bold" fill="#000" font-family="'Liberation Sans', Arial, sans-serif" dominant-baseline="central">For naked eyes</text>
<g clip-path="url(#ph1)"><rect x="490.7" y="375" width="149.5" height="19.6" fill="url(#p1bg)"/>
<rect x="626" y="374" width="16" height="22" fill="#141410" filter="url(#glow3)"/>
<line x1="506" y1="388.2" x2="625" y2="383.0" stroke="#2e6010" stroke-width="6" filter="url(#glow2)"/>
<line x1="507" y1="388.0" x2="624" y2="383.1" stroke="#5ccc22" stroke-width="2.1" filter="url(#glow)"/></g>
<text x="567.3" y="402.6" font-size="12.2" text-anchor="middle" font-weight="bold" fill="#000" font-family="'Liberation Sans', Arial, sans-serif" dominant-baseline="central">Temperature 298K</text>
<g clip-path="url(#ph2)"><rect x="490.4" y="410.9" width="149.8" height="19.8" fill="url(#p2bg)"/>
<polyline points="502.5,427.0 540,424.0 580,421.0 612,418.0 630.5,415.0" fill="none" stroke="#5a6a0c" stroke-width="4.5" filter="url(#glow2)"/>
<polyline points="506,426.6 540,423.9 580,420.9 612,417.9 629,415.3" fill="none" stroke="#e8e840" stroke-width="1.8" filter="url(#glow0)"/></g>
<text x="567.3" y="439.8" font-size="12.2" text-anchor="middle" font-weight="bold" fill="#000" font-family="'Liberation Sans', Arial, sans-serif" dominant-baseline="central">Temperature 398K</text>
<g clip-path="url(#ph3)"><rect x="490.4" y="446.8" width="149.8" height="19.9" fill="url(#p3bg)"/>
<line x1="500" y1="458.0" x2="628" y2="452.6" stroke="#3e2206" stroke-width="5" filter="url(#glow2)"/>
<line x1="505" y1="457.6" x2="626" y2="452.8" stroke="#7a4010" stroke-width="1.2" filter="url(#glow)"/></g>
<text x="567.3" y="476" font-size="12.2" text-anchor="middle" font-weight="bold" fill="#000" font-family="'Liberation Sans', Arial, sans-serif" dominant-baseline="central">Temperature 473K</text>
<text x="449.5" y="338.5" font-size="16.5" text-anchor="start" font-weight="bold" fill="#000" font-family="'Liberation Sans', Arial, sans-serif" dominant-baseline="central">i</text>
</svg></body></html>
